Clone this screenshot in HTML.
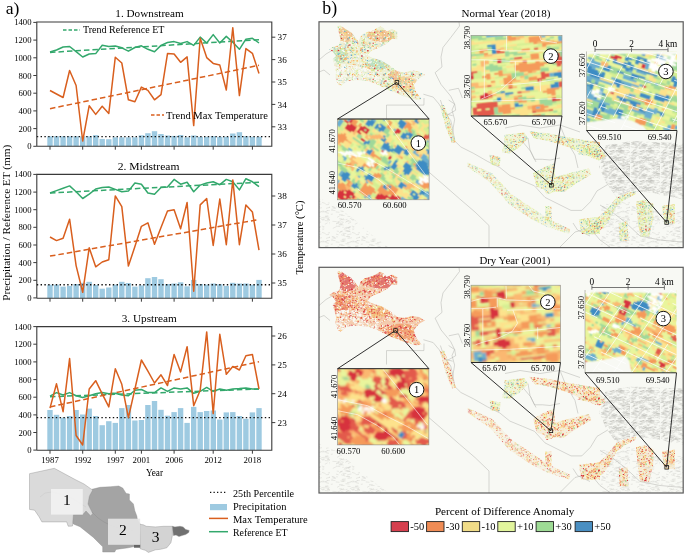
<!DOCTYPE html>
<html><head><meta charset="utf-8"><style>
html,body{margin:0;padding:0;background:#fff;width:685px;height:554px;overflow:hidden}
svg{display:block;font-family:'Liberation Serif', serif;fill:#000}
</style></head><body>
<svg width="685" height="554" viewBox="0 0 685 554">
<text x="5.8" y="13.7" font-size="17.6" text-anchor="start">a)</text>
<rect x="47.3" y="136.3" width="5.4" height="9.9" fill="#9ecae1"/>
<rect x="53.8" y="136.3" width="5.4" height="9.9" fill="#9ecae1"/>
<rect x="60.4" y="136.3" width="5.4" height="9.9" fill="#9ecae1"/>
<rect x="66.9" y="136.3" width="5.4" height="9.9" fill="#9ecae1"/>
<rect x="73.4" y="136.3" width="5.4" height="9.9" fill="#9ecae1"/>
<rect x="80.0" y="136.3" width="5.4" height="9.9" fill="#9ecae1"/>
<rect x="86.5" y="136.3" width="5.4" height="9.9" fill="#9ecae1"/>
<rect x="93.0" y="135.1" width="5.4" height="11.1" fill="#9ecae1"/>
<rect x="99.5" y="138.9" width="5.4" height="7.3" fill="#9ecae1"/>
<rect x="106.1" y="139.2" width="5.4" height="7.0" fill="#9ecae1"/>
<rect x="112.6" y="137.3" width="5.4" height="8.9" fill="#9ecae1"/>
<rect x="119.1" y="137.3" width="5.4" height="8.9" fill="#9ecae1"/>
<rect x="125.7" y="137.3" width="5.4" height="8.9" fill="#9ecae1"/>
<rect x="132.2" y="137.3" width="5.4" height="8.9" fill="#9ecae1"/>
<rect x="138.7" y="135.3" width="5.4" height="10.9" fill="#9ecae1"/>
<rect x="145.2" y="133.2" width="5.4" height="13.0" fill="#9ecae1"/>
<rect x="151.8" y="131.2" width="5.4" height="15.0" fill="#9ecae1"/>
<rect x="158.3" y="134.0" width="5.4" height="12.2" fill="#9ecae1"/>
<rect x="164.8" y="135.5" width="5.4" height="10.7" fill="#9ecae1"/>
<rect x="171.4" y="135.9" width="5.4" height="10.3" fill="#9ecae1"/>
<rect x="177.9" y="135.0" width="5.4" height="11.2" fill="#9ecae1"/>
<rect x="184.4" y="137.3" width="5.4" height="8.9" fill="#9ecae1"/>
<rect x="191.0" y="135.5" width="5.4" height="10.7" fill="#9ecae1"/>
<rect x="197.5" y="136.8" width="5.4" height="9.4" fill="#9ecae1"/>
<rect x="204.0" y="136.8" width="5.4" height="9.4" fill="#9ecae1"/>
<rect x="210.6" y="136.2" width="5.4" height="10.0" fill="#9ecae1"/>
<rect x="217.1" y="136.8" width="5.4" height="9.4" fill="#9ecae1"/>
<rect x="223.6" y="136.8" width="5.4" height="9.4" fill="#9ecae1"/>
<rect x="230.1" y="133.5" width="5.4" height="12.7" fill="#9ecae1"/>
<rect x="236.7" y="132.2" width="5.4" height="14.0" fill="#9ecae1"/>
<rect x="243.2" y="136.2" width="5.4" height="10.0" fill="#9ecae1"/>
<rect x="249.7" y="136.8" width="5.4" height="9.4" fill="#9ecae1"/>
<rect x="256.3" y="136.8" width="5.4" height="9.4" fill="#9ecae1"/>
<line x1="36.8" y1="136.6" x2="271.8" y2="136.6" stroke="#111" stroke-width="1.4" stroke-dasharray="1.4 2.4"/>
<line x1="50.0" y1="52.4" x2="259.0" y2="39.7" stroke="#33a86c" stroke-width="1.5" stroke-dasharray="5.5 3"/>
<line x1="50.0" y1="108.7" x2="259.0" y2="65.3" stroke="#d95f1e" stroke-width="1.5" stroke-dasharray="5.5 3"/>
<polyline points="50.0,52.0 56.5,50.0 63.1,47.0 69.6,46.5 76.1,51.7 82.7,57.0 89.2,54.0 95.7,53.6 102.2,45.2 108.8,46.5 115.3,46.0 121.8,47.8 128.4,51.2 134.9,47.5 141.4,45.8 147.9,49.3 154.5,51.7 161.0,45.4 167.5,42.5 174.1,41.6 180.6,43.5 187.1,41.6 193.7,45.4 200.2,37.1 206.7,43.0 213.2,34.6 219.8,43.0 226.3,36.4 232.8,42.3 239.4,49.3 245.9,39.2 252.4,38.3 259.0,43.0" fill="none" stroke="#33a86c" stroke-width="1.5" stroke-linejoin="round"/>
<polyline points="50.0,90.5 56.5,94.0 63.1,97.5 69.6,70.5 76.1,85.5 82.7,141.0 89.2,105.7 95.7,114.4 102.2,106.2 108.8,113.4 115.3,57.2 121.8,63.0 128.4,99.8 134.9,101.7 141.4,87.1 147.9,90.4 154.5,99.8 161.0,94.6 167.5,53.6 174.1,54.0 180.6,62.3 187.1,56.9 193.7,125.6 200.2,38.3 206.7,57.6 213.2,63.4 219.8,65.1 226.3,90.0 232.8,27.7 239.4,95.6 245.9,48.6 252.4,53.3 259.0,73.5" fill="none" stroke="#d95f1e" stroke-width="1.5" stroke-linejoin="round"/>
<path d="M36.8,146.2 V22 H271.8 V146.2 H36.8" fill="none" stroke="#3a3a3a" stroke-width="1.1"/>
<line x1="33.3" y1="22.4" x2="36.8" y2="22.4" stroke="#3a3a3a" stroke-width="1"/>
<text x="31.5" y="25.4" font-size="8.7" text-anchor="end">1400</text>
<line x1="33.3" y1="40.1" x2="36.8" y2="40.1" stroke="#3a3a3a" stroke-width="1"/>
<text x="31.5" y="43.1" font-size="8.7" text-anchor="end">1200</text>
<line x1="33.3" y1="57.8" x2="36.8" y2="57.8" stroke="#3a3a3a" stroke-width="1"/>
<text x="31.5" y="60.8" font-size="8.7" text-anchor="end">1000</text>
<line x1="33.3" y1="75.5" x2="36.8" y2="75.5" stroke="#3a3a3a" stroke-width="1"/>
<text x="31.5" y="78.5" font-size="8.7" text-anchor="end">800</text>
<line x1="33.3" y1="93.2" x2="36.8" y2="93.2" stroke="#3a3a3a" stroke-width="1"/>
<text x="31.5" y="96.2" font-size="8.7" text-anchor="end">600</text>
<line x1="33.3" y1="110.9" x2="36.8" y2="110.9" stroke="#3a3a3a" stroke-width="1"/>
<text x="31.5" y="113.9" font-size="8.7" text-anchor="end">400</text>
<line x1="33.3" y1="128.6" x2="36.8" y2="128.6" stroke="#3a3a3a" stroke-width="1"/>
<text x="31.5" y="131.6" font-size="8.7" text-anchor="end">200</text>
<line x1="33.3" y1="146.3" x2="36.8" y2="146.3" stroke="#3a3a3a" stroke-width="1"/>
<text x="31.5" y="149.3" font-size="8.7" text-anchor="end">0</text>
<line x1="271.8" y1="37.2" x2="275.3" y2="37.2" stroke="#3a3a3a" stroke-width="1"/>
<text x="277.6" y="40.3" font-size="9.2" text-anchor="start">37</text>
<line x1="271.8" y1="59.6" x2="275.3" y2="59.6" stroke="#3a3a3a" stroke-width="1"/>
<text x="277.6" y="62.7" font-size="9.2" text-anchor="start">36</text>
<line x1="271.8" y1="82.0" x2="275.3" y2="82.0" stroke="#3a3a3a" stroke-width="1"/>
<text x="277.6" y="85.1" font-size="9.2" text-anchor="start">35</text>
<line x1="271.8" y1="104.4" x2="275.3" y2="104.4" stroke="#3a3a3a" stroke-width="1"/>
<text x="277.6" y="107.5" font-size="9.2" text-anchor="start">34</text>
<line x1="271.8" y1="126.8" x2="275.3" y2="126.8" stroke="#3a3a3a" stroke-width="1"/>
<text x="277.6" y="129.9" font-size="9.2" text-anchor="start">33</text>
<line x1="50.0" y1="146.2" x2="50.0" y2="149.7" stroke="#3a3a3a" stroke-width="1"/>
<line x1="82.7" y1="146.2" x2="82.7" y2="149.7" stroke="#3a3a3a" stroke-width="1"/>
<line x1="115.3" y1="146.2" x2="115.3" y2="149.7" stroke="#3a3a3a" stroke-width="1"/>
<line x1="141.4" y1="146.2" x2="141.4" y2="149.7" stroke="#3a3a3a" stroke-width="1"/>
<line x1="174.1" y1="146.2" x2="174.1" y2="149.7" stroke="#3a3a3a" stroke-width="1"/>
<line x1="213.2" y1="146.2" x2="213.2" y2="149.7" stroke="#3a3a3a" stroke-width="1"/>
<line x1="252.4" y1="146.2" x2="252.4" y2="149.7" stroke="#3a3a3a" stroke-width="1"/>
<text x="115.3" y="17.2" font-size="11.3" text-anchor="start" textLength="68.5" lengthAdjust="spacingAndGlyphs">1. Downstream</text>
<rect x="47.3" y="284.7" width="5.4" height="13.5" fill="#9ecae1"/>
<rect x="53.8" y="284.7" width="5.4" height="13.5" fill="#9ecae1"/>
<rect x="60.4" y="286.6" width="5.4" height="11.6" fill="#9ecae1"/>
<rect x="66.9" y="285.9" width="5.4" height="12.3" fill="#9ecae1"/>
<rect x="73.4" y="284.0" width="5.4" height="14.2" fill="#9ecae1"/>
<rect x="80.0" y="282.8" width="5.4" height="15.4" fill="#9ecae1"/>
<rect x="86.5" y="281.8" width="5.4" height="16.4" fill="#9ecae1"/>
<rect x="93.0" y="285.0" width="5.4" height="13.2" fill="#9ecae1"/>
<rect x="99.5" y="288.7" width="5.4" height="9.5" fill="#9ecae1"/>
<rect x="106.1" y="287.5" width="5.4" height="10.7" fill="#9ecae1"/>
<rect x="112.6" y="284.7" width="5.4" height="13.5" fill="#9ecae1"/>
<rect x="119.1" y="281.8" width="5.4" height="16.4" fill="#9ecae1"/>
<rect x="125.7" y="283.0" width="5.4" height="15.2" fill="#9ecae1"/>
<rect x="132.2" y="286.6" width="5.4" height="11.6" fill="#9ecae1"/>
<rect x="138.7" y="285.4" width="5.4" height="12.8" fill="#9ecae1"/>
<rect x="145.2" y="278.2" width="5.4" height="20.0" fill="#9ecae1"/>
<rect x="151.8" y="277.0" width="5.4" height="21.2" fill="#9ecae1"/>
<rect x="158.3" y="279.2" width="5.4" height="19.0" fill="#9ecae1"/>
<rect x="164.8" y="284.0" width="5.4" height="14.2" fill="#9ecae1"/>
<rect x="171.4" y="283.5" width="5.4" height="14.7" fill="#9ecae1"/>
<rect x="177.9" y="282.3" width="5.4" height="15.9" fill="#9ecae1"/>
<rect x="184.4" y="286.3" width="5.4" height="11.9" fill="#9ecae1"/>
<rect x="191.0" y="279.9" width="5.4" height="18.3" fill="#9ecae1"/>
<rect x="197.5" y="284.0" width="5.4" height="14.2" fill="#9ecae1"/>
<rect x="204.0" y="284.7" width="5.4" height="13.5" fill="#9ecae1"/>
<rect x="210.6" y="283.5" width="5.4" height="14.7" fill="#9ecae1"/>
<rect x="217.1" y="284.2" width="5.4" height="14.0" fill="#9ecae1"/>
<rect x="223.6" y="285.9" width="5.4" height="12.3" fill="#9ecae1"/>
<rect x="230.1" y="282.8" width="5.4" height="15.4" fill="#9ecae1"/>
<rect x="236.7" y="283.5" width="5.4" height="14.7" fill="#9ecae1"/>
<rect x="243.2" y="283.5" width="5.4" height="14.7" fill="#9ecae1"/>
<rect x="249.7" y="284.7" width="5.4" height="13.5" fill="#9ecae1"/>
<rect x="256.3" y="279.9" width="5.4" height="18.3" fill="#9ecae1"/>
<line x1="36.8" y1="284.7" x2="271.8" y2="284.7" stroke="#111" stroke-width="1.4" stroke-dasharray="1.4 2.4"/>
<line x1="50.0" y1="193" x2="259.0" y2="182.3" stroke="#33a86c" stroke-width="1.5" stroke-dasharray="5.5 3"/>
<line x1="50.0" y1="256.1" x2="259.0" y2="219.5" stroke="#d95f1e" stroke-width="1.5" stroke-dasharray="5.5 3"/>
<polyline points="50.0,193.0 56.5,190.6 63.1,188.2 69.6,185.9 76.1,191.8 82.7,198.5 89.2,194.2 95.7,189.0 102.2,187.5 108.8,187.0 115.3,189.4 121.8,191.8 128.4,191.1 134.9,183.0 141.4,184.2 147.9,193.0 154.5,194.2 161.0,187.5 167.5,187.0 174.1,179.4 180.6,184.2 187.1,182.3 193.7,191.8 200.2,185.1 206.7,183.0 213.2,181.8 219.8,184.7 226.3,179.4 232.8,181.8 239.4,189.9 245.9,178.7 252.4,181.8 259.0,186.6" fill="none" stroke="#33a86c" stroke-width="1.5" stroke-linejoin="round"/>
<polyline points="50.0,237.0 56.5,240.6 63.1,238.2 69.6,219.2 76.1,265.6 82.7,292.3 89.2,247.8 95.7,266.8 102.2,262.0 108.8,259.7 115.3,195.9 121.8,206.6 128.4,266.1 134.9,246.6 141.4,226.3 147.9,222.8 154.5,244.2 161.0,227.5 167.5,210.9 174.1,209.7 180.6,228.7 187.1,202.5 193.7,291.3 200.2,204.9 206.7,198.5 213.2,245.4 219.8,199.0 226.3,244.7 232.8,179.9 239.4,244.7 245.9,204.9 252.4,212.0 259.0,250.1" fill="none" stroke="#d95f1e" stroke-width="1.5" stroke-linejoin="round"/>
<path d="M36.8,298.2 V174.4 H271.8 V298.2 H36.8" fill="none" stroke="#3a3a3a" stroke-width="1.1"/>
<line x1="33.3" y1="174.4" x2="36.8" y2="174.4" stroke="#3a3a3a" stroke-width="1"/>
<text x="31.5" y="177.4" font-size="8.7" text-anchor="end">1400</text>
<line x1="33.3" y1="192.1" x2="36.8" y2="192.1" stroke="#3a3a3a" stroke-width="1"/>
<text x="31.5" y="195.1" font-size="8.7" text-anchor="end">1200</text>
<line x1="33.3" y1="209.7" x2="36.8" y2="209.7" stroke="#3a3a3a" stroke-width="1"/>
<text x="31.5" y="212.7" font-size="8.7" text-anchor="end">1000</text>
<line x1="33.3" y1="227.3" x2="36.8" y2="227.3" stroke="#3a3a3a" stroke-width="1"/>
<text x="31.5" y="230.3" font-size="8.7" text-anchor="end">800</text>
<line x1="33.3" y1="245.0" x2="36.8" y2="245.0" stroke="#3a3a3a" stroke-width="1"/>
<text x="31.5" y="248.0" font-size="8.7" text-anchor="end">600</text>
<line x1="33.3" y1="262.6" x2="36.8" y2="262.6" stroke="#3a3a3a" stroke-width="1"/>
<text x="31.5" y="265.6" font-size="8.7" text-anchor="end">400</text>
<line x1="33.3" y1="280.3" x2="36.8" y2="280.3" stroke="#3a3a3a" stroke-width="1"/>
<text x="31.5" y="283.3" font-size="8.7" text-anchor="end">200</text>
<line x1="33.3" y1="297.9" x2="36.8" y2="297.9" stroke="#3a3a3a" stroke-width="1"/>
<text x="31.5" y="300.9" font-size="8.7" text-anchor="end">0</text>
<line x1="271.8" y1="196.0" x2="275.3" y2="196.0" stroke="#3a3a3a" stroke-width="1"/>
<text x="277.6" y="199.1" font-size="9.2" text-anchor="start">38</text>
<line x1="271.8" y1="225.0" x2="275.3" y2="225.0" stroke="#3a3a3a" stroke-width="1"/>
<text x="277.6" y="228.1" font-size="9.2" text-anchor="start">37</text>
<line x1="271.8" y1="254.0" x2="275.3" y2="254.0" stroke="#3a3a3a" stroke-width="1"/>
<text x="277.6" y="257.1" font-size="9.2" text-anchor="start">36</text>
<line x1="271.8" y1="283.0" x2="275.3" y2="283.0" stroke="#3a3a3a" stroke-width="1"/>
<text x="277.6" y="286.1" font-size="9.2" text-anchor="start">35</text>
<line x1="50.0" y1="298.2" x2="50.0" y2="301.7" stroke="#3a3a3a" stroke-width="1"/>
<line x1="82.7" y1="298.2" x2="82.7" y2="301.7" stroke="#3a3a3a" stroke-width="1"/>
<line x1="115.3" y1="298.2" x2="115.3" y2="301.7" stroke="#3a3a3a" stroke-width="1"/>
<line x1="141.4" y1="298.2" x2="141.4" y2="301.7" stroke="#3a3a3a" stroke-width="1"/>
<line x1="174.1" y1="298.2" x2="174.1" y2="301.7" stroke="#3a3a3a" stroke-width="1"/>
<line x1="213.2" y1="298.2" x2="213.2" y2="301.7" stroke="#3a3a3a" stroke-width="1"/>
<line x1="252.4" y1="298.2" x2="252.4" y2="301.7" stroke="#3a3a3a" stroke-width="1"/>
<text x="117.7" y="169.8" font-size="11.3" text-anchor="start" textLength="61.8" lengthAdjust="spacingAndGlyphs">2. Midstream</text>
<rect x="47.3" y="410.0" width="5.4" height="40.2" fill="#9ecae1"/>
<rect x="53.8" y="414.8" width="5.4" height="35.4" fill="#9ecae1"/>
<rect x="60.4" y="417.6" width="5.4" height="32.6" fill="#9ecae1"/>
<rect x="66.9" y="416.0" width="5.4" height="34.2" fill="#9ecae1"/>
<rect x="73.4" y="410.0" width="5.4" height="40.2" fill="#9ecae1"/>
<rect x="80.0" y="414.5" width="5.4" height="35.7" fill="#9ecae1"/>
<rect x="86.5" y="408.6" width="5.4" height="41.6" fill="#9ecae1"/>
<rect x="93.0" y="416.0" width="5.4" height="34.2" fill="#9ecae1"/>
<rect x="99.5" y="425.2" width="5.4" height="25.0" fill="#9ecae1"/>
<rect x="106.1" y="421.2" width="5.4" height="29.0" fill="#9ecae1"/>
<rect x="112.6" y="422.9" width="5.4" height="27.3" fill="#9ecae1"/>
<rect x="119.1" y="408.1" width="5.4" height="42.1" fill="#9ecae1"/>
<rect x="125.7" y="405.0" width="5.4" height="45.2" fill="#9ecae1"/>
<rect x="132.2" y="420.5" width="5.4" height="29.7" fill="#9ecae1"/>
<rect x="138.7" y="420.0" width="5.4" height="30.2" fill="#9ecae1"/>
<rect x="145.2" y="405.0" width="5.4" height="45.2" fill="#9ecae1"/>
<rect x="151.8" y="401.0" width="5.4" height="49.2" fill="#9ecae1"/>
<rect x="158.3" y="409.8" width="5.4" height="40.4" fill="#9ecae1"/>
<rect x="164.8" y="415.7" width="5.4" height="34.5" fill="#9ecae1"/>
<rect x="171.4" y="412.1" width="5.4" height="38.1" fill="#9ecae1"/>
<rect x="177.9" y="408.1" width="5.4" height="42.1" fill="#9ecae1"/>
<rect x="184.4" y="422.9" width="5.4" height="27.3" fill="#9ecae1"/>
<rect x="191.0" y="406.9" width="5.4" height="43.3" fill="#9ecae1"/>
<rect x="197.5" y="412.1" width="5.4" height="38.1" fill="#9ecae1"/>
<rect x="204.0" y="411.0" width="5.4" height="39.2" fill="#9ecae1"/>
<rect x="210.6" y="410.5" width="5.4" height="39.7" fill="#9ecae1"/>
<rect x="217.1" y="419.5" width="5.4" height="30.7" fill="#9ecae1"/>
<rect x="223.6" y="412.4" width="5.4" height="37.8" fill="#9ecae1"/>
<rect x="230.1" y="412.1" width="5.4" height="38.1" fill="#9ecae1"/>
<rect x="236.7" y="416.0" width="5.4" height="34.2" fill="#9ecae1"/>
<rect x="243.2" y="418.8" width="5.4" height="31.4" fill="#9ecae1"/>
<rect x="249.7" y="412.4" width="5.4" height="37.8" fill="#9ecae1"/>
<rect x="256.3" y="408.1" width="5.4" height="42.1" fill="#9ecae1"/>
<line x1="36.8" y1="417.6" x2="271.8" y2="417.6" stroke="#111" stroke-width="1.4" stroke-dasharray="1.4 2.4"/>
<line x1="50.0" y1="396.7" x2="259.0" y2="389" stroke="#33a86c" stroke-width="1.5" stroke-dasharray="5.5 3"/>
<line x1="50.0" y1="406.9" x2="259.0" y2="361.7" stroke="#d95f1e" stroke-width="1.5" stroke-dasharray="5.5 3"/>
<polyline points="50.0,396.2 56.5,392.6 63.1,395.0 69.6,392.6 76.1,395.7 82.7,397.4 89.2,395.7 95.7,393.8 102.2,392.6 108.8,393.8 115.3,393.3 121.8,395.0 128.4,395.7 134.9,390.2 141.4,389.5 147.9,392.6 154.5,392.6 161.0,387.9 167.5,391.4 174.1,387.9 180.6,389.0 187.1,387.9 193.7,393.3 200.2,391.4 206.7,387.4 213.2,391.4 219.8,389.0 226.3,390.2 232.8,389.0 239.4,388.6 245.9,387.9 252.4,389.0 259.0,389.0" fill="none" stroke="#33a86c" stroke-width="1.5" stroke-linejoin="round"/>
<polyline points="50.0,408.1 56.5,383.8 63.1,411.7 69.6,358.6 76.1,435.5 82.7,445.0 89.2,389.0 95.7,380.7 102.2,393.8 108.8,406.9 115.3,368.8 121.8,384.3 128.4,417.6 134.9,389.0 141.4,360.0 147.9,371.2 154.5,383.0 161.0,374.8 167.5,385.5 174.1,354.5 180.6,371.9 187.1,346.7 193.7,405.7 200.2,390.2 206.7,331.9 213.2,413.6 219.8,334.3 226.3,374.3 232.8,366.4 239.4,370.0 245.9,355.7 252.4,354.5 259.0,389.0" fill="none" stroke="#d95f1e" stroke-width="1.5" stroke-linejoin="round"/>
<path d="M36.8,450.2 V326.6 H271.8 V450.2 H36.8" fill="none" stroke="#3a3a3a" stroke-width="1.1"/>
<line x1="33.3" y1="326.6" x2="36.8" y2="326.6" stroke="#3a3a3a" stroke-width="1"/>
<text x="31.5" y="329.6" font-size="8.7" text-anchor="end">1400</text>
<line x1="33.3" y1="344.2" x2="36.8" y2="344.2" stroke="#3a3a3a" stroke-width="1"/>
<text x="31.5" y="347.2" font-size="8.7" text-anchor="end">1200</text>
<line x1="33.3" y1="361.9" x2="36.8" y2="361.9" stroke="#3a3a3a" stroke-width="1"/>
<text x="31.5" y="364.9" font-size="8.7" text-anchor="end">1000</text>
<line x1="33.3" y1="379.6" x2="36.8" y2="379.6" stroke="#3a3a3a" stroke-width="1"/>
<text x="31.5" y="382.6" font-size="8.7" text-anchor="end">800</text>
<line x1="33.3" y1="397.2" x2="36.8" y2="397.2" stroke="#3a3a3a" stroke-width="1"/>
<text x="31.5" y="400.2" font-size="8.7" text-anchor="end">600</text>
<line x1="33.3" y1="414.9" x2="36.8" y2="414.9" stroke="#3a3a3a" stroke-width="1"/>
<text x="31.5" y="417.9" font-size="8.7" text-anchor="end">400</text>
<line x1="33.3" y1="432.5" x2="36.8" y2="432.5" stroke="#3a3a3a" stroke-width="1"/>
<text x="31.5" y="435.5" font-size="8.7" text-anchor="end">200</text>
<line x1="33.3" y1="450.1" x2="36.8" y2="450.1" stroke="#3a3a3a" stroke-width="1"/>
<text x="31.5" y="453.1" font-size="8.7" text-anchor="end">0</text>
<line x1="271.8" y1="336.0" x2="275.3" y2="336.0" stroke="#3a3a3a" stroke-width="1"/>
<text x="277.6" y="339.1" font-size="9.2" text-anchor="start">26</text>
<line x1="271.8" y1="364.9" x2="275.3" y2="364.9" stroke="#3a3a3a" stroke-width="1"/>
<text x="277.6" y="368.0" font-size="9.2" text-anchor="start">25</text>
<line x1="271.8" y1="393.7" x2="275.3" y2="393.7" stroke="#3a3a3a" stroke-width="1"/>
<text x="277.6" y="396.8" font-size="9.2" text-anchor="start">24</text>
<line x1="271.8" y1="422.6" x2="275.3" y2="422.6" stroke="#3a3a3a" stroke-width="1"/>
<text x="277.6" y="425.7" font-size="9.2" text-anchor="start">23</text>
<line x1="50.0" y1="450.2" x2="50.0" y2="453.7" stroke="#3a3a3a" stroke-width="1"/>
<text x="50.0" y="462.8" font-size="8.8" text-anchor="middle">1987</text>
<line x1="82.7" y1="450.2" x2="82.7" y2="453.7" stroke="#3a3a3a" stroke-width="1"/>
<text x="82.7" y="462.8" font-size="8.8" text-anchor="middle">1992</text>
<line x1="115.3" y1="450.2" x2="115.3" y2="453.7" stroke="#3a3a3a" stroke-width="1"/>
<text x="115.3" y="462.8" font-size="8.8" text-anchor="middle">1997</text>
<line x1="141.4" y1="450.2" x2="141.4" y2="453.7" stroke="#3a3a3a" stroke-width="1"/>
<text x="141.4" y="462.8" font-size="8.8" text-anchor="middle">2001</text>
<line x1="174.1" y1="450.2" x2="174.1" y2="453.7" stroke="#3a3a3a" stroke-width="1"/>
<text x="174.1" y="462.8" font-size="8.8" text-anchor="middle">2006</text>
<line x1="213.2" y1="450.2" x2="213.2" y2="453.7" stroke="#3a3a3a" stroke-width="1"/>
<text x="213.2" y="462.8" font-size="8.8" text-anchor="middle">2012</text>
<line x1="252.4" y1="450.2" x2="252.4" y2="453.7" stroke="#3a3a3a" stroke-width="1"/>
<text x="252.4" y="462.8" font-size="8.8" text-anchor="middle">2018</text>
<text x="121.7" y="321.9" font-size="11.3" text-anchor="start" textLength="55.1" lengthAdjust="spacingAndGlyphs">3. Upstream</text>
<line x1="63" y1="30" x2="80" y2="30" stroke="#33a86c" stroke-width="1.5" stroke-dasharray="3.5 2"/>
<text x="83.0" y="33.3" font-size="10.2" text-anchor="start" textLength="81.4" lengthAdjust="spacingAndGlyphs">Trend Reference ET</text>
<line x1="151" y1="115" x2="164" y2="115" stroke="#d95f1e" stroke-width="1.5" stroke-dasharray="3.5 2"/>
<text x="166.0" y="118.5" font-size="10.4" text-anchor="start" textLength="102" lengthAdjust="spacingAndGlyphs">Trend Max Temperature</text>
<text x="146.0" y="476.0" font-size="9.3" text-anchor="start" textLength="17" lengthAdjust="spacingAndGlyphs">Year</text>
<text transform="translate(10.2,222.7) rotate(-90)" font-size="11.2" text-anchor="middle" textLength="156" lengthAdjust="spacingAndGlyphs">Precipitation / Reference ET (mm)</text>
<text transform="translate(303.4,237.6) rotate(-90)" font-size="10.5" text-anchor="middle" textLength="74" lengthAdjust="spacingAndGlyphs">Temperature (°C)</text>
<line x1="210" y1="492.3" x2="226" y2="492.3" stroke="#111" stroke-width="1.3" stroke-dasharray="1.3 2.2"/>
<rect x="210" y="504" width="17" height="6.2" fill="#9ecae1"/>
<line x1="209" y1="518.4" x2="228" y2="518.4" stroke="#d95f1e" stroke-width="1.5"/>
<line x1="209" y1="531.7" x2="228" y2="531.7" stroke="#33a86c" stroke-width="1.5"/>
<text x="233.0" y="497.0" font-size="10.5" text-anchor="start" textLength="61.1" lengthAdjust="spacingAndGlyphs">25th Percentile</text>
<text x="233.0" y="510.0" font-size="10.5" text-anchor="start" textLength="53.4" lengthAdjust="spacingAndGlyphs">Precipitation</text>
<text x="233.0" y="522.7" font-size="10.5" text-anchor="start" textLength="74.8" lengthAdjust="spacingAndGlyphs">Max Temperature</text>
<text x="233.0" y="536.0" font-size="10.5" text-anchor="start" textLength="54.5" lengthAdjust="spacingAndGlyphs">Reference ET</text>
<polygon points="82,513 89.4,496 92,489.3 100,487.3 110.7,486.7 118.7,486 122.7,488 126.1,493.4 129.4,494 129.4,500 133.4,504 134.8,510.7 136.8,516 137.4,519.4 140.1,524 140.1,546.8 133.4,546.8 126.8,548 116,549.4 114.7,552 102.7,552 102.7,546.8 93.4,537.4 80,526.7 73.4,524 70.7,520 70.7,515.4" fill="#a4a4a4" stroke="#8a8a8a" stroke-width="0.4"/>
<polygon points="29.5,473.7 54.3,468.3 76,480 84,484 90.7,488.7 92.7,490 89.4,496 88,504 92.7,513.4 90.7,516 86,511 82.7,514.7 73.4,514.7 72.5,526 70.4,526.2 68.2,526.2 66.7,521.9 41.9,521.9 39,516.7 34.6,510.2 29.5,509.4" fill="#dadada" stroke="#8a8a8a" stroke-width="0.4"/>
<polygon points="139.7,524.3 143.3,524.8 146.3,526.3 155.5,526.9 163.7,526.3 172.4,526.3 172.4,535.5 170.9,542.7 166.8,547.8 160.6,549.3 155.5,549.8 148.4,552.4 145.3,550.3 140.2,548.8" fill="#d3d3d3" stroke="#8a8a8a" stroke-width="0.4"/>
<polygon points="172.4,526.3 174.9,526.9 180,526.3 183.1,526.9 185.7,529.4 189.2,530.4 188.7,532.5 185.7,534.5 182.1,535.5 179,536.6 176,535 173.4,535.5" fill="#707070" stroke="#8a8a8a" stroke-width="0.4"/>
<polyline points="92,512 98,518 104,522 110,525 118,528 126,529 134,531" fill="none" stroke="#8a8a8a" stroke-width="0.4"/>
<polyline points="40,497 45,493 52,492 60,494 70,497 78,502 86,507" fill="none" stroke="#c4c4c4" stroke-width="0.4"/>
<rect x="134" y="544.7" width="6.2" height="3" fill="#666"/>
<rect x="51" y="489" width="31.8" height="25.6" fill="#f2f2f2" fill-opacity="0.88"/>
<rect x="108" y="518.7" width="32.1" height="26.1" fill="#e6e6e6" fill-opacity="0.9"/>
<text x="66.8" y="505.2" font-size="15.5" text-anchor="middle">1</text>
<text x="122.9" y="534.9" font-size="15.5" text-anchor="middle">2</text>
<text x="155.7" y="542.3" font-size="15.5" text-anchor="middle">3</text>
<defs><filter id="soft" x="-5%" y="-5%" width="110%" height="110%"><feConvolveMatrix order="3" kernelMatrix="1 2 1 2 6 2 1 2 1" edgeMode="duplicate"/></filter>
<filter id="soft3" x="-5%" y="-5%" width="110%" height="110%"><feGaussianBlur stdDeviation="0.8"/></filter>
<filter id="soft2" x="-5%" y="-5%" width="110%" height="110%"><feGaussianBlur stdDeviation="0.35"/></filter>
<pattern id="spND" patternUnits="userSpaceOnUse" width="36" height="36"><path d="M22.5 2.5h1.1v0.9h-1.1zM7.7 21.6h1.5v1.3h-1.5zM7.1 23.5h1.0v0.8h-1.0zM16.9 1.4h1.2v1.2h-1.2zM2.0 26.5h0.8v0.6h-0.8zM14.3 12.4h1.4v1.5h-1.4zM8.0 8.1h1.1v1.0h-1.1zM14.5 12.7h1.2v1.2h-1.2zM5.6 11.7h0.7v0.4h-0.7zM12.5 0.9h1.4v1.3h-1.4zM12.0 12.6h0.8v0.8h-0.8zM0.8 32.8h1.1v0.8h-1.1zM18.2 33.8h1.4v1.3h-1.4zM5.8 26.6h1.1v1.1h-1.1zM28.0 34.0h1.4v1.4h-1.4zM23.9 33.0h1.1v1.1h-1.1zM5.2 31.2h1.3v0.9h-1.3zM10.1 8.3h1.2v0.9h-1.2zM31.4 12.2h1.1v1.0h-1.1zM0.1 27.6h0.8v0.7h-0.8zM9.6 26.6h1.1v1.0h-1.1zM2.5 23.1h1.3v1.4h-1.3zM6.8 11.0h1.3v0.8h-1.3zM14.6 31.4h1.4v1.0h-1.4zM32.4 21.9h1.3v0.9h-1.3zM29.8 15.7h1.0v0.9h-1.0zM4.5 18.2h0.9v0.6h-0.9zM7.0 10.8h0.9v0.9h-0.9zM25.6 8.8h0.8v0.5h-0.8zM12.3 0.0h1.0v0.8h-1.0zM17.4 0.2h0.9v0.6h-0.9zM0.8 10.5h0.9v0.8h-0.9zM25.0 22.2h0.7v0.7h-0.7zM4.6 12.4h0.8v0.8h-0.8zM25.2 7.1h1.3v1.4h-1.3zM8.8 25.6h0.9v0.8h-0.9zM9.3 23.2h1.3v1.2h-1.3zM32.6 7.3h1.2v0.8h-1.2zM11.9 10.9h1.4v0.8h-1.4zM28.8 9.9h1.4v1.0h-1.4zM10.3 25.5h1.5v1.1h-1.5zM19.2 13.6h0.8v0.6h-0.8zM3.1 11.8h0.8v0.6h-0.8zM2.1 9.6h1.5v1.0h-1.5zM31.7 22.3h0.9v0.6h-0.9zM20.7 0.4h0.9v0.8h-0.9zM0.8 17.2h1.2v1.0h-1.2zM27.5 25.5h1.1v0.8h-1.1zM28.3 8.0h0.9v0.9h-0.9zM13.6 7.3h1.5v1.0h-1.5zM13.6 31.0h1.4v1.4h-1.4zM12.9 11.4h0.8v0.5h-0.8zM33.0 4.3h1.5v1.0h-1.5zM12.6 30.9h0.7v0.6h-0.7zM9.5 0.1h1.3v1.4h-1.3zM14.8 17.0h1.4v1.0h-1.4zM17.2 24.5h1.1v0.8h-1.1zM19.6 12.9h1.3v0.9h-1.3zM5.3 30.5h1.2v0.9h-1.2zM33.6 20.1h1.4v1.1h-1.4zM12.7 4.9h0.9v0.6h-0.9zM27.4 18.9h0.8v0.5h-0.8zM32.9 10.8h1.2v0.9h-1.2zM19.0 22.1h1.4v0.9h-1.4zM17.4 5.0h0.9v0.8h-0.9zM16.9 27.8h1.5v1.0h-1.5zM25.0 31.0h0.7v0.6h-0.7zM28.9 4.1h1.2v1.0h-1.2zM14.5 20.1h1.0v1.0h-1.0zM30.9 9.5h1.4v0.9h-1.4zM32.3 23.4h1.4v1.0h-1.4zM18.3 22.0h1.0v1.0h-1.0zM34.2 19.9h1.0v1.0h-1.0zM25.7 1.7h1.4v1.0h-1.4zM0.1 12.2h0.8v0.6h-0.8zM5.2 3.3h1.2v1.3h-1.2zM6.9 21.0h1.1v1.0h-1.1zM10.7 10.4h0.7v0.8h-0.7zM3.6 8.0h0.7v0.6h-0.7zM8.1 25.7h1.5v1.4h-1.5zM3.7 32.0h1.0v0.7h-1.0zM23.9 21.9h1.3v1.2h-1.3zM14.2 15.1h1.3v1.0h-1.3zM26.3 33.7h0.7v0.6h-0.7zM7.4 24.1h1.1v0.7h-1.1zM27.2 24.1h1.3v1.2h-1.3zM31.1 17.3h1.0v1.0h-1.0zM29.1 22.8h1.3v0.9h-1.3zM24.3 29.1h0.8v0.6h-0.8zM18.0 5.6h1.0v0.7h-1.0zM13.8 27.3h1.3v1.1h-1.3zM14.5 27.0h1.3v1.2h-1.3zM27.0 32.5h1.1v0.7h-1.1zM2.0 9.5h1.0v0.6h-1.0zM0.1 24.9h0.9v0.7h-0.9zM28.6 31.3h1.3v0.9h-1.3zM8.1 26.8h1.0v0.7h-1.0zM24.9 30.6h1.1v0.7h-1.1zM6.6 31.8h1.2v1.1h-1.2zM23.0 15.8h1.3v0.9h-1.3zM26.7 31.5h1.2v1.0h-1.2zM0.2 23.6h0.8v0.9h-0.8zM26.7 24.6h1.4v1.3h-1.4zM0.5 22.4h1.4v0.9h-1.4zM33.6 24.3h1.4v1.0h-1.4zM2.9 19.1h1.3v0.9h-1.3zM6.2 24.2h1.0v0.9h-1.0zM2.9 1.8h1.1v1.2h-1.1zM19.5 22.1h1.5v1.4h-1.5zM31.1 31.2h1.4v0.9h-1.4zM16.6 5.8h0.9v0.6h-0.9zM24.7 6.7h0.7v0.8h-0.7zM7.6 2.0h1.3v1.1h-1.3zM16.9 11.0h1.4v0.9h-1.4zM30.9 23.1h0.9v0.7h-0.9zM7.0 12.6h1.5v1.6h-1.5zM10.0 30.9h0.7v0.7h-0.7zM26.6 24.6h0.9v0.5h-0.9zM20.5 0.2h1.1v0.9h-1.1zM24.7 28.2h1.4v1.1h-1.4zM28.2 1.0h0.8v0.7h-0.8zM20.7 19.9h1.1v1.1h-1.1zM14.0 4.7h1.2v1.2h-1.2zM15.0 33.9h1.3v1.4h-1.3zM33.5 26.8h1.4v1.3h-1.4zM10.5 22.3h0.8v0.7h-0.8zM14.0 9.9h0.9v0.6h-0.9zM33.1 25.5h0.8v0.6h-0.8zM26.4 20.2h1.1v1.2h-1.1zM14.7 31.4h0.7v0.4h-0.7zM17.7 17.4h0.9v0.6h-0.9zM23.8 0.1h0.9v1.0h-0.9zM5.9 18.0h1.4v1.2h-1.4zM0.4 26.6h1.0v0.9h-1.0zM9.2 3.4h1.4v1.3h-1.4zM6.0 12.4h0.8v0.9h-0.8zM15.3 28.9h1.3v0.9h-1.3zM21.0 7.3h1.4v0.9h-1.4zM24.7 9.7h1.0v1.1h-1.0zM14.2 22.7h1.3v0.9h-1.3zM21.7 6.3h0.8v0.8h-0.8zM10.7 22.0h0.8v0.9h-0.8zM27.3 7.2h1.4v1.4h-1.4zM24.1 14.8h1.1v1.2h-1.1zM4.7 24.4h1.2v0.9h-1.2zM2.1 9.7h0.9v0.8h-0.9zM11.2 16.2h1.0v0.7h-1.0zM34.2 25.9h0.8v0.7h-0.8zM1.0 26.7h1.4v1.0h-1.4zM6.4 28.5h1.0v0.7h-1.0zM28.7 8.3h0.7v0.6h-0.7zM20.0 2.8h1.3v0.9h-1.3zM15.3 19.4h1.0v0.7h-1.0zM15.9 33.5h1.4v1.5h-1.4zM6.5 23.4h1.1v0.7h-1.1zM20.0 14.4h1.1v1.0h-1.1zM6.2 30.7h1.1v0.7h-1.1zM3.3 18.3h0.9v0.8h-0.9zM19.8 3.9h1.1v1.0h-1.1zM34.2 24.9h0.8v0.8h-0.8zM33.1 19.4h1.3v0.9h-1.3zM8.2 12.8h0.7v0.6h-0.7zM24.4 14.7h1.4v1.3h-1.4zM20.8 3.4h1.1v1.1h-1.1zM0.7 3.8h1.3v0.9h-1.3zM23.7 13.1h0.8v0.8h-0.8zM7.5 30.8h1.2v0.7h-1.2zM16.1 19.9h1.0v0.8h-1.0zM8.4 8.1h1.0v0.7h-1.0zM10.6 25.1h1.1v1.2h-1.1zM0.8 5.7h0.9v0.9h-0.9zM18.5 30.2h1.2v1.3h-1.2zM25.9 22.4h1.0v1.0h-1.0zM14.3 1.6h1.2v0.9h-1.2zM21.2 25.0h1.0v0.6h-1.0zM26.5 3.1h1.4v1.1h-1.4zM18.1 32.5h0.8v0.5h-0.8zM4.6 2.1h1.1v1.0h-1.1zM26.8 8.4h1.5v1.3h-1.5zM27.6 15.9h1.0v1.0h-1.0zM19.6 5.4h1.4v1.4h-1.4zM26.9 29.8h0.8v0.9h-0.8zM0.8 3.8h1.5v0.9h-1.5zM25.4 3.4h0.8v0.8h-0.8zM31.7 24.7h1.4v1.5h-1.4zM27.3 23.8h0.7v0.6h-0.7zM17.6 14.1h1.1v0.9h-1.1zM21.7 25.6h1.0v1.0h-1.0zM4.9 32.0h1.1v1.0h-1.1zM8.7 3.5h1.0v1.0h-1.0zM11.7 13.1h0.7v0.5h-0.7zM6.2 24.8h0.9v0.7h-0.9zM33.5 24.6h1.0v0.9h-1.0zM26.1 13.1h1.1v1.0h-1.1zM7.6 2.7h1.4v0.9h-1.4zM17.9 0.2h1.5v1.1h-1.5zM8.8 29.6h1.1v1.0h-1.1zM10.5 29.9h1.3v1.4h-1.3zM1.8 18.5h1.0v0.8h-1.0zM18.4 14.1h1.2v0.9h-1.2zM20.6 6.2h1.4v1.3h-1.4zM28.8 10.1h0.9v0.8h-0.9zM16.0 25.1h1.0v1.0h-1.0zM25.9 17.1h1.4v0.9h-1.4zM27.2 10.3h0.8v0.7h-0.8zM32.5 11.4h1.4v1.4h-1.4zM3.2 30.3h0.8v0.7h-0.8zM16.1 5.7h1.1v1.0h-1.1zM13.9 7.0h0.8v0.6h-0.8zM32.4 14.2h1.0v0.7h-1.0zM33.7 34.4h1.3v1.1h-1.3zM3.5 19.1h1.4v1.2h-1.4zM22.8 21.8h1.0v0.9h-1.0zM4.7 32.9h1.4v0.9h-1.4zM18.8 14.5h1.5v1.4h-1.5zM25.5 5.9h0.9v0.6h-0.9zM15.1 3.7h0.9v0.7h-0.9zM26.6 1.4h1.4v1.2h-1.4zM3.2 23.3h1.5v1.5h-1.5zM2.0 15.4h1.1v1.1h-1.1zM27.4 7.2h1.4v1.4h-1.4zM26.8 1.0h1.1v0.9h-1.1zM13.9 9.7h0.9v0.8h-0.9zM0.4 29.8h1.3v1.2h-1.3zM5.6 21.8h1.5v1.1h-1.5zM12.3 31.0h1.3v1.1h-1.3zM5.3 26.8h1.1v1.2h-1.1zM8.7 0.7h1.4v1.4h-1.4zM7.4 20.2h1.0v0.6h-1.0zM31.4 20.7h0.8v0.5h-0.8zM13.5 27.2h1.4v1.2h-1.4zM3.2 33.7h1.3v0.8h-1.3zM32.1 7.6h1.2v1.3h-1.2zM22.4 7.1h1.0v0.7h-1.0zM10.4 26.3h0.8v0.7h-0.8zM11.2 3.3h1.1v1.1h-1.1zM9.9 31.3h0.7v0.5h-0.7zM8.9 1.0h1.3v0.9h-1.3zM2.3 0.5h1.0v0.7h-1.0zM14.1 23.8h1.1v1.0h-1.1zM33.2 12.5h1.3v0.9h-1.3zM12.6 18.0h0.8v0.6h-0.8zM13.1 26.4h0.9v0.6h-0.9zM4.1 16.5h0.8v0.6h-0.8zM2.3 12.5h1.1v1.1h-1.1zM7.7 25.7h1.2v1.2h-1.2zM2.9 9.2h1.4v1.2h-1.4zM15.6 11.0h0.9v0.8h-0.9zM34.0 16.6h0.8v0.5h-0.8zM31.1 6.3h0.9v0.8h-0.9zM7.5 1.2h1.1v0.7h-1.1zM16.5 17.7h1.5v1.2h-1.5zM28.6 0.0h1.2v0.9h-1.2zM18.0 20.1h1.4v0.9h-1.4zM20.2 15.6h1.0v1.1h-1.0zM0.6 10.0h0.9v1.0h-0.9zM22.7 20.2h1.3v1.4h-1.3zM2.6 31.0h1.2v0.8h-1.2zM8.2 12.6h1.1v1.1h-1.1zM1.2 4.7h1.0v0.8h-1.0z" fill="#f8f9f4"/><path d="M15.0 2.4h0.8v0.6h-0.8zM29.6 10.0h0.8v0.5h-0.8zM15.5 19.0h1.4v1.4h-1.4zM11.4 21.5h1.1v0.7h-1.1zM15.8 28.3h1.5v1.2h-1.5zM28.3 17.6h1.4v1.3h-1.4zM32.0 24.6h1.4v1.1h-1.4zM1.2 2.2h1.4v1.0h-1.4zM8.1 16.4h1.5v1.6h-1.5zM6.8 26.0h0.9v0.6h-0.9zM21.4 16.9h0.9v0.9h-0.9zM17.4 13.0h1.5v1.0h-1.5zM29.1 25.7h1.1v1.0h-1.1zM33.2 3.5h1.0v1.1h-1.0zM20.8 14.0h1.3v1.4h-1.3zM0.4 32.8h1.2v0.9h-1.2zM17.0 17.2h1.1v1.2h-1.1zM22.0 21.9h0.7v0.7h-0.7zM0.6 24.8h0.9v0.9h-0.9zM27.8 11.8h0.8v0.5h-0.8zM17.8 33.0h1.4v1.0h-1.4zM31.7 11.2h1.4v1.4h-1.4zM12.9 13.8h1.1v1.0h-1.1zM18.4 13.3h1.0v0.6h-1.0zM24.4 9.0h1.4v1.3h-1.4zM6.1 29.4h1.0v0.9h-1.0zM1.4 5.6h0.9v0.6h-0.9zM24.2 27.8h0.9v0.8h-0.9zM16.9 15.0h0.9v0.7h-0.9zM1.4 15.2h0.9v0.8h-0.9zM15.2 29.8h1.1v1.1h-1.1zM22.3 13.9h1.4v0.9h-1.4zM0.7 34.2h1.0v1.0h-1.0zM14.8 6.2h1.2v0.8h-1.2zM12.2 17.1h1.4v1.1h-1.4zM34.4 0.2h1.2v1.3h-1.2zM23.9 11.2h1.2v1.1h-1.2zM25.7 29.4h1.1v1.0h-1.1zM13.6 34.4h1.3v1.0h-1.3zM21.9 29.6h0.9v0.7h-0.9zM20.5 16.0h1.1v1.1h-1.1zM31.9 34.4h1.5v1.3h-1.5zM19.9 12.2h1.0v0.9h-1.0zM24.8 12.0h0.8v0.9h-0.8zM28.6 32.3h1.4v1.4h-1.4zM23.6 1.4h1.4v0.9h-1.4zM6.0 32.6h1.1v1.1h-1.1zM13.5 25.8h1.2v0.9h-1.2zM11.7 2.3h1.0v0.9h-1.0zM28.9 11.2h0.7v0.6h-0.7zM7.7 21.7h1.0v0.7h-1.0zM15.7 23.6h1.3v1.0h-1.3zM20.4 4.4h0.9v0.7h-0.9zM25.7 0.8h1.4v1.4h-1.4zM2.6 3.9h1.3v1.1h-1.3zM8.0 30.6h1.4v1.1h-1.4zM32.6 18.1h0.9v0.6h-0.9zM16.2 25.5h1.1v0.8h-1.1z" fill="#e9f59c"/><path d="M20.1 22.0h1.0v0.9h-1.0zM17.9 12.3h0.7v0.4h-0.7zM12.0 0.6h0.9v0.5h-0.9zM16.4 32.2h0.8v0.8h-0.8zM33.2 33.6h1.1v0.8h-1.1zM12.9 33.0h1.4v1.4h-1.4zM3.8 5.3h1.1v1.1h-1.1zM26.8 32.6h0.8v0.7h-0.8zM0.4 11.3h1.2v0.9h-1.2zM7.5 13.8h1.1v0.9h-1.1zM16.3 3.7h0.8v0.7h-0.8zM27.2 32.1h0.8v0.6h-0.8zM9.1 17.5h1.0v0.6h-1.0zM0.4 22.3h1.1v0.9h-1.1zM2.0 26.9h0.7v0.6h-0.7zM22.1 33.3h0.9v0.9h-0.9zM11.0 14.6h0.7v0.5h-0.7zM29.7 3.1h1.4v0.9h-1.4zM17.1 12.0h1.4v1.0h-1.4zM23.6 13.5h1.3v0.9h-1.3zM27.7 13.5h0.9v0.6h-0.9zM30.7 21.0h1.3v1.2h-1.3zM15.0 14.6h1.1v1.2h-1.1zM29.7 16.8h0.7v0.6h-0.7zM20.9 23.4h1.1v0.8h-1.1zM1.5 34.4h1.0v0.7h-1.0zM20.6 11.9h1.1v0.7h-1.1zM33.3 34.2h0.9v0.5h-0.9zM14.2 5.4h0.9v0.9h-0.9zM15.0 31.5h0.9v0.8h-0.9zM2.3 25.3h1.0v1.0h-1.0zM16.1 18.4h0.8v0.5h-0.8zM11.0 33.8h1.4v1.2h-1.4zM17.2 19.1h0.9v0.8h-0.9zM1.5 32.1h1.4v1.0h-1.4zM26.6 13.3h1.2v1.1h-1.2zM15.0 23.6h1.0v0.6h-1.0zM29.2 13.6h1.4v1.3h-1.4zM9.4 17.3h0.9v0.8h-0.9zM20.8 29.8h1.2v0.9h-1.2zM16.0 0.5h1.4v1.3h-1.4zM7.0 26.2h1.2v0.9h-1.2zM31.4 16.3h1.3v1.1h-1.3zM5.9 28.4h1.1v1.0h-1.1zM3.5 3.3h1.3v1.4h-1.3zM31.3 23.7h0.8v0.5h-0.8zM31.5 11.2h1.4v0.9h-1.4zM31.9 1.1h1.2v1.3h-1.2zM25.9 5.3h0.9v0.6h-0.9zM6.8 15.8h0.9v0.8h-0.9zM7.0 31.4h1.1v1.1h-1.1zM8.4 2.4h1.1v1.1h-1.1zM23.2 26.0h1.1v1.2h-1.1zM24.3 6.8h0.9v0.8h-0.9zM5.3 0.6h1.3v0.9h-1.3zM27.8 5.6h1.1v0.7h-1.1zM32.5 15.2h1.3v0.9h-1.3zM15.1 23.7h1.3v1.2h-1.3zM1.0 15.1h0.8v0.7h-0.8zM28.8 7.0h1.5v1.2h-1.5z" fill="#d4ee93"/><path d="M27.4 24.1h0.9v0.8h-0.9zM24.0 20.5h1.2v1.0h-1.2zM13.3 23.1h0.7v0.6h-0.7zM13.8 3.6h1.2v0.8h-1.2zM7.6 7.8h0.9v0.6h-0.9zM17.9 19.2h1.3v0.9h-1.3zM6.4 32.3h1.3v0.8h-1.3zM9.4 33.0h1.2v0.9h-1.2zM33.8 30.5h1.5v1.1h-1.5zM8.3 31.3h1.2v1.1h-1.2zM7.3 21.5h0.8v0.8h-0.8zM28.2 28.3h1.4v0.9h-1.4zM11.1 33.3h1.1v1.1h-1.1zM30.7 3.0h1.4v0.9h-1.4zM29.3 9.2h1.0v0.7h-1.0zM33.9 17.6h1.1v1.1h-1.1zM17.4 9.4h1.1v1.2h-1.1zM10.9 10.3h1.2v1.1h-1.2zM27.1 32.6h1.3v1.2h-1.3zM20.4 26.1h0.8v0.6h-0.8zM29.0 29.8h1.1v0.7h-1.1zM18.3 2.4h1.0v0.9h-1.0zM34.1 10.2h1.3v0.9h-1.3zM13.5 19.2h1.0v0.8h-1.0zM12.3 20.5h1.0v1.1h-1.0zM34.3 22.0h0.7v0.6h-0.7zM1.9 30.7h1.2v1.3h-1.2zM20.8 33.1h1.1v1.2h-1.1zM8.5 6.6h0.9v0.7h-0.9zM5.4 24.4h0.8v0.6h-0.8zM33.1 7.2h1.5v1.2h-1.5zM17.3 10.2h0.8v0.6h-0.8zM1.5 29.5h1.2v0.7h-1.2zM25.8 28.6h0.9v0.6h-0.9zM28.1 18.9h1.3v0.9h-1.3zM15.1 23.0h1.4v1.4h-1.4zM0.7 15.8h1.5v0.9h-1.5zM26.3 25.5h1.1v1.0h-1.1zM2.1 11.6h1.0v1.0h-1.0zM5.2 6.1h1.3v1.4h-1.3zM11.0 14.5h1.5v1.2h-1.5zM8.3 6.8h0.8v0.8h-0.8zM1.5 15.3h1.0v1.0h-1.0zM1.4 23.5h1.1v1.1h-1.1zM20.1 34.4h1.4v1.4h-1.4zM27.7 6.9h1.4v1.3h-1.4zM24.5 27.7h1.2v1.0h-1.2zM1.1 13.1h1.2v0.9h-1.2zM30.7 2.9h1.2v0.8h-1.2zM3.0 22.5h1.4v1.1h-1.4zM3.0 9.3h1.3v1.0h-1.3zM7.7 30.7h1.2v1.2h-1.2zM33.2 24.5h1.3v0.9h-1.3zM5.2 26.1h1.1v0.9h-1.1zM12.5 31.7h1.1v0.8h-1.1zM6.4 30.1h1.1v1.0h-1.1zM2.3 20.8h1.4v1.0h-1.4zM3.2 25.2h1.4v1.4h-1.4zM21.1 22.4h1.4v1.4h-1.4zM18.5 33.3h0.8v0.7h-0.8zM28.7 1.1h1.4v1.0h-1.4zM22.1 16.3h1.4v0.9h-1.4zM14.0 11.8h1.2v0.8h-1.2zM22.9 26.5h0.8v0.6h-0.8z" fill="#fde28c"/><path d="M9.9 33.8h0.8v0.6h-0.8zM25.9 16.5h0.8v0.8h-0.8zM21.9 14.0h1.0v0.6h-1.0zM28.0 4.8h1.1v1.0h-1.1zM3.9 2.4h1.1v1.0h-1.1zM25.8 29.2h1.2v0.8h-1.2zM29.0 31.5h0.7v0.5h-0.7zM28.1 6.7h1.5v1.3h-1.5zM14.5 7.9h1.3v1.3h-1.3zM13.4 16.9h1.5v0.9h-1.5zM17.7 22.1h1.4v1.2h-1.4zM12.1 9.1h0.9v0.9h-0.9zM28.2 16.1h0.9v0.8h-0.9zM15.9 32.2h0.9v1.0h-0.9zM5.0 27.5h1.0v0.9h-1.0zM15.9 3.0h1.3v1.3h-1.3zM28.2 33.2h0.9v0.6h-0.9zM2.1 30.1h1.5v1.2h-1.5zM1.6 4.2h1.1v0.9h-1.1zM5.7 28.5h1.5v1.2h-1.5zM30.1 21.0h1.0v0.8h-1.0zM28.3 34.2h1.4v1.1h-1.4zM7.6 10.7h1.4v1.2h-1.4zM31.2 32.6h1.1v0.9h-1.1zM8.8 6.7h1.1v1.1h-1.1zM32.7 0.5h1.0v0.7h-1.0zM1.2 6.3h1.4v1.3h-1.4zM26.8 10.7h1.3v1.4h-1.3zM12.5 34.1h0.9v0.9h-0.9zM5.2 23.5h1.0v0.9h-1.0zM23.3 10.2h0.9v0.9h-0.9zM20.5 15.9h0.7v0.6h-0.7zM2.1 8.5h1.2v1.3h-1.2zM28.1 11.8h1.3v1.1h-1.3zM5.2 11.9h0.8v0.6h-0.8zM13.5 27.0h1.3v1.3h-1.3zM0.2 16.9h0.7v0.5h-0.7zM3.8 10.6h1.2v1.3h-1.2zM13.6 32.4h1.3v1.0h-1.3zM22.4 30.3h0.8v0.8h-0.8zM20.2 13.8h1.1v1.0h-1.1zM32.7 31.7h1.3v1.2h-1.3zM15.2 2.3h1.3v0.8h-1.3zM28.9 34.3h1.3v1.0h-1.3zM4.8 8.3h0.8v0.9h-0.8zM22.3 6.2h1.5v1.5h-1.5z" fill="#9fd899"/><path d="M22.9 2.1h1.3v1.2h-1.3zM3.0 3.5h1.0v0.7h-1.0zM32.2 15.0h1.4v1.4h-1.4zM21.1 17.4h1.1v1.1h-1.1zM32.5 24.1h1.4v1.5h-1.4zM34.2 28.7h0.8v0.7h-0.8zM22.7 2.3h1.3v0.9h-1.3zM23.6 26.5h1.2v1.1h-1.2zM16.1 4.1h1.4v1.0h-1.4zM0.9 0.1h1.1v0.9h-1.1zM7.6 31.3h1.5v1.2h-1.5zM6.5 7.7h1.0v1.0h-1.0zM8.0 27.9h1.2v1.3h-1.2zM28.3 14.0h1.4v1.2h-1.4zM1.4 22.0h0.8v0.7h-0.8zM17.7 30.9h0.8v0.6h-0.8zM29.0 24.1h1.4v1.1h-1.4zM26.0 26.0h1.2v0.9h-1.2zM6.8 22.0h0.8v0.6h-0.8zM21.4 14.1h1.2v1.3h-1.2zM22.0 22.7h1.0v1.1h-1.0zM9.1 8.1h0.8v0.7h-0.8zM19.4 23.0h1.4v1.1h-1.4zM8.9 10.4h1.0v0.8h-1.0zM14.2 3.5h1.2v0.9h-1.2zM9.4 7.1h1.2v1.1h-1.2zM0.7 33.4h0.9v0.6h-0.9zM13.6 32.5h1.3v1.0h-1.3zM2.1 13.4h1.1v1.0h-1.1zM27.1 24.4h1.4v1.0h-1.4zM15.3 6.4h0.9v0.6h-0.9zM15.2 21.5h1.5v1.2h-1.5zM8.6 2.0h1.0v0.8h-1.0zM32.3 12.1h0.9v1.0h-0.9zM26.4 28.7h0.8v0.6h-0.8zM15.4 19.6h0.9v0.6h-0.9zM30.0 2.3h1.1v1.1h-1.1zM22.7 20.8h1.0v0.9h-1.0zM1.9 23.5h1.3v1.1h-1.3zM32.6 4.0h1.5v1.5h-1.5zM12.5 33.7h0.7v0.8h-0.7zM25.9 30.7h1.3v1.3h-1.3zM28.4 4.4h0.8v0.7h-0.8zM25.3 13.3h1.3v1.4h-1.3zM1.5 30.7h1.1v0.7h-1.1zM29.3 27.8h1.2v1.0h-1.2z" fill="#fbb871"/><path d="M23.3 1.9h1.4v1.4h-1.4zM12.1 18.9h0.8v0.5h-0.8zM4.9 30.5h1.5v1.0h-1.5zM24.2 3.1h0.7v0.7h-0.7zM9.7 8.4h0.9v0.8h-0.9zM24.7 30.3h1.0v0.8h-1.0zM23.5 16.9h0.7v0.7h-0.7zM9.9 1.7h1.4v1.0h-1.4zM0.0 13.5h1.4v1.5h-1.4zM26.4 15.8h1.1v0.7h-1.1zM3.1 5.6h1.3v1.0h-1.3zM22.9 10.8h0.7v0.4h-0.7zM7.0 21.5h1.1v0.7h-1.1zM28.5 21.8h0.9v0.6h-0.9zM4.3 15.9h1.4v1.0h-1.4zM16.2 19.4h0.9v1.0h-0.9zM11.7 29.7h1.0v0.8h-1.0zM21.3 21.6h1.3v1.1h-1.3zM30.9 27.9h0.9v0.6h-0.9zM28.2 30.6h0.7v0.7h-0.7zM9.4 29.4h1.3v1.3h-1.3zM34.0 1.9h0.8v0.8h-0.8zM15.6 11.7h1.4v1.1h-1.4zM19.7 22.4h0.9v0.8h-0.9zM16.2 10.7h0.9v0.6h-0.9zM0.4 12.2h1.4v1.0h-1.4zM29.3 28.3h1.1v1.1h-1.1zM14.2 4.2h0.8v0.8h-0.8zM21.7 32.3h1.2v0.9h-1.2zM28.0 2.1h1.2v1.1h-1.2zM12.5 9.7h1.3v1.4h-1.3zM2.8 6.2h1.2v1.3h-1.2zM2.7 27.9h1.4v1.1h-1.4zM15.6 20.0h1.4v1.0h-1.4zM18.8 18.9h1.3v1.4h-1.3zM23.4 11.1h1.2v1.0h-1.2zM28.0 12.2h1.0v0.9h-1.0zM18.7 3.1h0.8v0.6h-0.8zM1.7 11.5h1.1v0.8h-1.1zM15.0 28.5h1.3v1.4h-1.3zM15.8 11.6h0.9v0.7h-0.9zM13.9 19.8h0.9v0.9h-0.9zM24.6 8.3h1.2v1.2h-1.2zM27.6 2.7h0.7v0.6h-0.7zM20.4 22.6h1.2v1.1h-1.2zM9.6 0.3h0.9v0.9h-0.9zM22.8 6.2h0.8v0.5h-0.8zM19.7 7.7h0.8v0.5h-0.8zM5.0 27.7h1.5v1.4h-1.5zM32.4 13.9h1.2v0.8h-1.2zM16.3 23.2h1.3v0.8h-1.3z" fill="#f59a5a"/><path d="M16.5 22.5h1.3v0.9h-1.3zM17.3 18.3h1.1v0.7h-1.1zM13.6 17.5h1.3v1.4h-1.3zM20.2 30.8h1.2v1.2h-1.2zM25.9 14.2h1.0v0.9h-1.0zM7.5 9.4h0.9v0.7h-0.9zM30.1 0.8h0.7v0.7h-0.7zM16.4 8.1h0.9v1.0h-0.9zM7.8 1.2h1.0v0.8h-1.0zM14.9 1.7h1.1v0.8h-1.1zM26.7 21.0h1.0v0.7h-1.0zM5.5 27.1h0.9v0.7h-0.9zM3.6 34.3h1.2v1.0h-1.2zM24.6 9.2h1.1v0.9h-1.1zM23.4 22.1h1.1v0.8h-1.1zM6.8 23.9h1.1v1.1h-1.1zM1.9 19.6h0.7v0.5h-0.7zM15.4 0.5h1.0v0.9h-1.0zM20.7 10.6h1.0v1.1h-1.0zM30.5 18.0h1.1v1.0h-1.1zM16.8 19.6h0.9v0.9h-0.9zM2.2 20.6h1.0v0.7h-1.0zM30.7 4.8h1.1v0.7h-1.1zM9.2 6.4h1.4v1.1h-1.4zM1.2 22.1h0.9v0.9h-0.9zM21.4 8.6h1.1v0.9h-1.1zM26.7 18.6h1.5v1.3h-1.5zM4.6 9.5h0.7v0.7h-0.7zM23.9 25.5h1.4v1.2h-1.4zM32.0 5.8h1.3v1.3h-1.3zM27.1 14.7h0.9v0.9h-0.9zM30.0 5.8h1.3v1.0h-1.3zM4.2 12.9h1.3v1.4h-1.3zM32.6 21.6h0.9v0.6h-0.9zM9.7 11.4h1.1v1.1h-1.1zM25.2 9.4h0.8v0.6h-0.8zM1.5 13.2h1.4v1.4h-1.4zM15.2 16.9h1.1v1.1h-1.1zM2.0 15.0h1.2v0.8h-1.2zM0.5 32.5h1.1v1.1h-1.1zM25.9 22.0h0.9v0.8h-0.9zM23.0 2.6h1.2v1.0h-1.2zM27.4 12.0h0.8v0.7h-0.8zM16.7 22.1h0.9v0.6h-0.9zM0.1 29.4h1.1v1.2h-1.1zM24.7 1.1h1.2v1.3h-1.2zM27.4 18.4h0.8v0.8h-0.8z" fill="#6aaed0"/><path d="M13.7 13.8h1.5v1.4h-1.5zM29.0 4.7h0.8v0.7h-0.8zM3.6 9.2h0.7v0.7h-0.7zM20.3 12.4h1.0v0.8h-1.0zM18.9 24.8h0.7v0.7h-0.7zM12.6 6.8h1.3v0.9h-1.3zM16.7 1.8h1.4v1.1h-1.4zM25.3 8.6h1.4v0.9h-1.4zM3.7 7.1h0.8v0.5h-0.8zM16.6 22.3h0.9v0.7h-0.9zM1.2 19.3h1.3v1.4h-1.3zM17.5 34.1h0.9v0.9h-0.9zM33.2 6.5h0.9v1.0h-0.9zM27.7 33.2h1.0v1.1h-1.0zM14.1 31.5h1.3v1.4h-1.3zM23.7 9.4h1.3v0.9h-1.3zM9.3 32.5h1.0v0.6h-1.0zM7.1 14.1h1.5v1.5h-1.5z" fill="#d7303e"/></pattern>
<pattern id="spDD" patternUnits="userSpaceOnUse" width="36" height="36"><path d="M19.9 12.3h1.3v1.0h-1.3zM0.7 3.9h1.4v1.6h-1.4zM19.4 27.4h0.8v0.9h-0.8zM11.6 26.4h0.9v0.6h-0.9zM13.9 12.2h1.0v0.8h-1.0zM19.0 31.8h0.8v0.8h-0.8zM24.4 6.0h0.8v0.6h-0.8zM14.7 19.7h1.3v1.3h-1.3zM3.8 25.7h0.9v0.6h-0.9zM34.3 34.3h1.2v1.1h-1.2zM31.7 3.4h1.1v0.9h-1.1zM15.2 27.5h0.9v1.0h-0.9zM7.2 1.3h1.3v1.1h-1.3zM32.5 8.9h1.4v1.2h-1.4zM8.7 0.9h1.5v1.1h-1.5zM32.0 18.4h0.9v0.8h-0.9zM13.5 32.4h1.0v1.0h-1.0zM31.7 31.7h1.3v1.2h-1.3zM13.6 14.6h1.1v1.2h-1.1zM22.0 6.3h1.2v0.9h-1.2zM28.5 27.3h1.5v1.4h-1.5zM12.9 22.0h0.8v0.8h-0.8zM33.2 30.2h1.5v1.5h-1.5zM32.8 11.7h1.4v1.3h-1.4zM17.5 18.6h1.1v0.9h-1.1zM1.3 33.0h0.9v0.5h-0.9zM21.3 13.4h1.5v1.1h-1.5zM34.2 10.5h0.8v0.5h-0.8zM1.7 6.2h0.8v0.7h-0.8zM13.8 17.5h1.3v1.3h-1.3z" fill="#e9f59c"/><path d="M23.3 5.6h1.0v1.1h-1.0zM28.3 20.7h1.4v1.4h-1.4zM3.2 22.9h1.2v0.8h-1.2zM21.9 8.3h0.9v0.7h-0.9zM25.0 7.6h0.9v0.9h-0.9zM32.1 30.3h1.1v0.7h-1.1zM2.4 2.3h1.3v0.9h-1.3zM29.8 19.8h0.7v0.7h-0.7zM18.3 23.5h0.7v0.6h-0.7zM29.6 16.9h0.9v1.0h-0.9zM34.1 18.7h1.3v0.9h-1.3zM28.1 1.1h1.1v0.7h-1.1zM16.0 16.2h1.3v1.2h-1.3zM4.7 28.1h0.8v0.6h-0.8zM32.1 16.3h1.3v1.0h-1.3zM16.0 28.4h1.5v1.6h-1.5zM28.9 23.1h1.2v1.3h-1.2zM14.3 31.1h1.2v1.2h-1.2zM28.4 8.3h0.8v0.6h-0.8zM3.0 23.7h1.5v1.1h-1.5zM13.8 23.8h1.0v0.7h-1.0zM24.7 27.6h0.8v0.6h-0.8zM17.9 16.7h1.0v0.8h-1.0zM9.6 17.3h1.1v0.9h-1.1zM31.9 17.6h1.0v0.7h-1.0zM16.8 24.6h1.4v1.5h-1.4zM6.9 29.5h1.4v1.0h-1.4zM27.5 28.0h0.9v0.9h-0.9zM13.1 7.9h1.2v1.2h-1.2zM15.9 7.3h0.7v0.5h-0.7zM21.1 1.1h1.4v1.6h-1.4zM3.2 31.9h1.1v1.0h-1.1zM25.7 28.7h0.9v0.9h-0.9zM6.3 19.9h0.9v0.7h-0.9zM8.6 2.9h0.9v0.6h-0.9zM18.0 10.4h1.5v1.2h-1.5zM3.8 1.5h1.1v1.1h-1.1zM19.3 14.4h0.7v0.6h-0.7zM13.0 4.4h1.1v0.7h-1.1zM27.6 17.1h0.9v0.6h-0.9zM16.4 22.4h1.2v0.8h-1.2zM9.9 33.5h1.0v1.1h-1.0zM4.7 17.0h1.0v1.0h-1.0zM16.6 14.2h1.5v1.2h-1.5zM30.3 22.9h0.9v1.0h-0.9zM19.9 13.1h0.9v0.9h-0.9zM27.3 1.1h1.2v1.2h-1.2zM24.3 18.2h1.2v0.9h-1.2zM19.3 26.7h1.4v0.9h-1.4zM27.7 17.5h0.8v0.8h-0.8zM26.4 26.7h1.2v1.2h-1.2zM8.7 18.7h0.8v0.8h-0.8zM9.7 26.6h1.1v1.1h-1.1zM11.2 9.7h1.4v1.3h-1.4zM12.9 14.3h1.2v1.2h-1.2zM1.9 5.5h1.0v1.0h-1.0zM19.1 22.6h0.9v0.5h-0.9zM8.9 23.0h1.3v1.2h-1.3zM25.9 5.1h0.8v0.6h-0.8zM32.8 33.0h0.7v0.5h-0.7zM24.2 8.2h1.1v1.1h-1.1zM9.5 4.1h0.8v0.7h-0.8zM21.5 29.7h0.8v0.6h-0.8zM18.8 32.5h0.8v0.8h-0.8zM24.3 25.1h1.2v0.7h-1.2zM34.4 3.6h1.5v1.5h-1.5zM30.2 14.5h0.9v0.7h-0.9zM19.1 20.5h1.3v0.9h-1.3zM0.6 24.9h1.0v0.8h-1.0zM0.5 30.1h1.5v1.1h-1.5zM30.8 28.9h0.9v0.6h-0.9zM24.5 14.9h0.8v0.6h-0.8zM9.4 3.0h1.5v0.9h-1.5zM15.0 32.1h0.9v0.6h-0.9zM11.0 4.9h1.2v1.2h-1.2zM22.7 11.0h0.8v0.6h-0.8zM18.2 31.1h1.3v1.0h-1.3zM11.6 24.6h1.4v1.1h-1.4zM4.2 2.6h1.2v0.9h-1.2zM31.4 28.9h1.1v0.9h-1.1zM7.7 0.8h0.9v0.6h-0.9zM18.5 19.8h0.8v0.9h-0.8zM8.8 27.9h1.4v1.4h-1.4zM13.9 24.2h1.0v1.0h-1.0zM18.1 21.8h0.9v0.9h-0.9zM29.6 4.2h1.0v0.6h-1.0zM25.9 7.8h1.0v0.7h-1.0zM24.9 28.5h1.2v0.9h-1.2zM5.1 29.8h1.2v1.3h-1.2zM28.9 25.5h1.1v0.7h-1.1zM11.0 21.3h1.2v1.1h-1.2zM0.6 28.9h1.4v1.5h-1.4zM11.9 6.9h1.4v1.4h-1.4zM23.1 17.1h1.5v1.2h-1.5zM0.6 19.3h1.5v1.1h-1.5zM25.7 12.9h1.2v0.9h-1.2zM30.8 7.7h0.9v0.8h-0.9zM25.7 31.2h0.8v0.7h-0.8zM3.7 1.8h0.9v0.8h-0.9zM7.4 4.5h1.2v1.1h-1.2zM17.5 10.8h1.2v1.2h-1.2zM8.8 17.6h1.1v0.8h-1.1zM30.0 18.7h1.4v1.2h-1.4zM33.9 18.6h1.4v1.2h-1.4zM24.3 21.4h1.1v1.0h-1.1zM32.8 22.3h1.0v0.8h-1.0zM2.6 31.0h1.0v0.8h-1.0zM30.5 1.6h1.2v0.8h-1.2zM4.6 18.9h1.0v0.9h-1.0zM18.9 9.5h0.8v0.8h-0.8zM19.9 9.6h1.4v1.0h-1.4zM6.5 32.2h1.4v1.1h-1.4zM1.1 25.4h0.8v0.7h-0.8zM33.1 16.9h1.4v0.9h-1.4zM14.0 2.6h1.2v0.8h-1.2zM4.6 26.0h1.2v1.0h-1.2zM14.4 9.8h1.1v1.1h-1.1zM28.9 5.6h1.0v1.0h-1.0zM32.2 21.8h0.8v0.7h-0.8zM31.4 21.5h0.8v0.8h-0.8zM32.1 12.8h1.1v1.1h-1.1zM0.2 9.1h0.8v0.8h-0.8zM30.7 4.4h1.3v1.3h-1.3zM4.2 3.6h1.3v1.4h-1.3zM31.6 26.0h0.7v0.5h-0.7zM27.8 14.3h1.0v0.8h-1.0zM16.4 4.5h1.2v1.0h-1.2zM27.2 18.8h1.3v1.0h-1.3zM26.4 24.8h1.2v0.9h-1.2zM33.1 21.0h1.2v0.9h-1.2zM26.7 0.5h1.2v1.0h-1.2zM4.6 27.9h0.8v0.6h-0.8zM3.8 23.3h1.0v0.7h-1.0zM18.6 12.3h1.5v1.4h-1.5z" fill="#d7303e"/><path d="M21.9 24.3h1.5v1.0h-1.5zM11.0 14.4h1.1v0.8h-1.1zM12.5 24.7h1.1v1.1h-1.1zM24.6 26.6h1.0v0.8h-1.0zM3.6 15.7h1.2v0.9h-1.2zM15.7 11.7h1.3v1.3h-1.3zM16.7 14.4h1.4v1.3h-1.4zM3.2 0.2h1.0v0.9h-1.0zM10.5 5.6h0.9v0.6h-0.9zM6.3 16.6h1.1v1.1h-1.1zM6.8 20.4h0.8v0.6h-0.8zM31.7 13.9h1.0v0.8h-1.0zM33.7 1.3h0.7v0.5h-0.7zM3.9 5.6h0.8v0.8h-0.8zM30.4 20.7h1.0v0.8h-1.0zM10.9 13.0h0.9v1.0h-0.9zM14.0 5.8h0.8v0.7h-0.8zM10.8 1.0h0.9v0.6h-0.9zM32.7 23.6h1.0v1.1h-1.0zM11.2 33.3h1.0v1.0h-1.0zM12.4 31.1h0.9v0.6h-0.9zM6.2 2.4h0.8v0.6h-0.8zM27.9 10.1h1.4v1.5h-1.4zM15.4 14.0h0.9v0.9h-0.9zM16.3 6.8h0.8v0.8h-0.8zM4.6 16.7h1.2v0.8h-1.2zM21.3 26.9h1.2v0.8h-1.2zM26.0 12.6h1.1v1.1h-1.1zM27.2 6.8h1.3v1.0h-1.3zM21.6 4.3h1.3v1.0h-1.3zM28.9 0.6h1.4v1.0h-1.4zM18.6 7.5h1.3v1.0h-1.3zM15.9 19.8h0.9v0.8h-0.9zM11.6 4.4h1.2v0.9h-1.2zM27.9 4.0h1.3v0.8h-1.3zM24.5 2.2h1.4v0.9h-1.4zM27.9 19.3h0.8v0.8h-0.8zM17.8 6.5h1.5v1.6h-1.5zM28.9 8.3h1.3v1.2h-1.3zM26.9 21.7h1.2v1.3h-1.2zM22.9 32.3h1.3v1.1h-1.3zM8.2 10.5h1.1v0.9h-1.1zM20.0 0.4h1.0v0.7h-1.0zM32.0 19.6h1.4v1.3h-1.4zM18.4 24.3h1.5v0.9h-1.5zM24.1 4.4h1.0v0.8h-1.0zM13.2 29.0h1.4v1.1h-1.4zM31.5 31.3h1.4v1.2h-1.4zM14.2 6.8h1.3v1.3h-1.3zM22.6 13.5h1.1v0.8h-1.1zM22.0 3.5h1.0v0.7h-1.0zM26.1 16.9h0.7v0.7h-0.7zM6.6 21.6h1.0v1.1h-1.0zM3.4 33.1h0.8v0.8h-0.8zM28.0 10.4h1.1v0.7h-1.1zM28.1 9.5h0.7v0.8h-0.7zM20.1 4.5h1.0v1.1h-1.0zM30.7 17.6h1.1v1.2h-1.1zM30.3 24.1h1.3v1.3h-1.3zM26.9 17.8h1.1v1.2h-1.1zM17.0 26.1h1.2v0.8h-1.2zM13.4 8.1h1.3v1.4h-1.3zM3.8 14.2h1.2v1.1h-1.2zM8.8 20.2h0.9v0.9h-0.9zM18.2 7.1h0.8v0.6h-0.8zM11.3 8.6h0.9v0.7h-0.9zM6.2 30.2h0.8v0.5h-0.8zM19.1 25.1h1.4v1.2h-1.4zM12.5 9.4h1.4v1.4h-1.4zM14.2 19.2h0.8v0.8h-0.8zM33.1 0.2h1.4v1.4h-1.4zM16.0 9.9h0.7v0.6h-0.7zM32.2 32.7h1.4v1.0h-1.4zM14.6 6.4h1.1v0.9h-1.1zM11.3 7.7h1.2v1.2h-1.2zM32.1 23.1h0.7v0.4h-0.7zM0.7 11.7h1.0v0.6h-1.0zM22.0 20.2h1.3v1.0h-1.3zM7.1 28.3h1.4v0.9h-1.4zM29.4 26.0h0.9v0.8h-0.9zM2.8 26.7h0.9v0.8h-0.9zM24.7 22.0h1.5v1.6h-1.5zM14.7 24.4h1.3v1.4h-1.3zM28.6 11.5h0.7v0.8h-0.7zM8.9 5.2h1.1v0.7h-1.1zM29.8 5.2h1.1v0.9h-1.1zM1.7 30.1h0.8v0.6h-0.8zM15.9 16.2h0.8v0.8h-0.8zM3.4 20.0h1.1v0.8h-1.1zM26.6 17.8h0.8v0.6h-0.8zM8.2 19.5h1.4v1.1h-1.4zM31.7 16.2h1.1v0.8h-1.1zM0.1 12.2h0.9v0.8h-0.9zM1.2 15.6h1.4v1.2h-1.4zM27.8 3.0h1.1v1.1h-1.1zM30.2 3.6h1.2v0.8h-1.2zM26.1 29.0h0.9v0.7h-0.9zM14.5 17.4h0.7v0.8h-0.7zM13.6 27.4h1.2v1.1h-1.2zM31.4 20.9h0.8v0.6h-0.8zM24.7 11.3h1.1v0.9h-1.1zM0.3 15.3h1.5v1.0h-1.5zM4.6 8.3h1.1v0.7h-1.1zM20.3 30.7h0.9v0.7h-0.9zM23.8 21.4h0.7v0.8h-0.7zM17.0 26.1h1.1v0.8h-1.1zM20.0 15.9h1.1v1.0h-1.1zM29.2 4.3h1.1v1.1h-1.1z" fill="#f59a5a"/><path d="M0.5 18.5h1.3v0.9h-1.3zM6.0 24.0h0.7v0.5h-0.7zM5.6 3.2h1.2v1.1h-1.2zM5.3 23.9h1.0v1.0h-1.0zM26.6 28.5h1.3v1.4h-1.3zM13.4 16.7h0.9v0.8h-0.9zM9.9 26.5h0.8v0.5h-0.8zM18.3 28.7h0.8v0.6h-0.8zM32.4 25.7h1.2v1.1h-1.2zM11.7 8.6h0.8v0.6h-0.8zM8.8 17.8h0.8v0.8h-0.8zM20.2 24.9h1.3v1.2h-1.3zM28.9 31.9h0.7v0.8h-0.7zM2.4 27.5h1.2v0.8h-1.2zM31.0 27.6h0.7v0.5h-0.7zM23.8 0.8h0.9v0.5h-0.9zM7.9 2.0h0.9v0.9h-0.9zM25.8 29.6h1.0v0.7h-1.0zM27.7 27.1h1.1v0.7h-1.1zM31.3 21.1h1.5v1.5h-1.5zM12.7 19.1h1.3v1.2h-1.3zM33.6 2.2h0.7v0.6h-0.7zM6.2 28.7h0.8v0.8h-0.8zM20.3 27.6h0.8v0.7h-0.8zM29.2 22.4h0.8v0.8h-0.8zM16.7 4.4h1.2v1.2h-1.2zM30.1 24.7h0.8v0.6h-0.8zM1.5 12.2h1.4v1.5h-1.4zM18.3 9.5h1.3v1.3h-1.3zM33.2 18.1h1.2v1.3h-1.2zM11.6 3.7h1.3v1.3h-1.3zM0.7 13.5h1.0v0.6h-1.0zM7.3 10.7h1.0v0.8h-1.0zM34.0 8.3h1.4v1.0h-1.4zM17.6 17.0h1.0v1.0h-1.0zM22.2 4.7h1.2v0.8h-1.2zM29.2 6.1h1.4v1.2h-1.4zM5.5 10.1h0.9v1.0h-0.9zM24.1 16.0h1.3v1.1h-1.3zM7.5 32.9h1.0v0.9h-1.0zM26.0 25.7h1.4v1.1h-1.4zM9.5 21.9h1.1v0.9h-1.1zM15.1 0.1h1.3v1.0h-1.3zM14.2 17.6h0.8v0.6h-0.8zM19.8 22.4h1.0v0.8h-1.0zM10.4 15.9h1.0v1.0h-1.0zM7.7 0.3h1.0v0.6h-1.0zM12.7 30.4h1.5v0.9h-1.5zM22.2 22.7h1.2v0.7h-1.2zM25.0 12.7h0.8v0.7h-0.8zM33.4 11.1h1.2v1.2h-1.2zM2.8 3.1h0.9v0.7h-0.9zM32.6 14.1h1.2v1.2h-1.2zM23.9 20.3h1.3v0.9h-1.3zM15.1 9.7h1.2v0.9h-1.2zM21.3 6.7h1.1v1.0h-1.1zM11.6 3.5h0.8v0.8h-0.8zM8.7 0.8h0.8v0.7h-0.8zM29.3 0.7h1.3v1.3h-1.3zM1.9 14.6h1.4v1.3h-1.4zM18.7 13.0h1.1v0.9h-1.1zM15.9 19.1h1.3v1.4h-1.3zM11.4 5.4h0.8v0.6h-0.8zM32.4 28.0h0.9v0.5h-0.9zM24.1 23.2h0.8v0.8h-0.8zM12.0 30.4h0.8v0.5h-0.8zM23.0 2.9h0.9v0.8h-0.9zM3.6 17.3h1.3v0.9h-1.3zM31.8 22.1h1.4v1.1h-1.4zM29.3 28.3h1.0v1.0h-1.0zM26.9 15.2h1.1v1.0h-1.1zM23.0 23.8h1.0v1.1h-1.0zM25.4 21.6h0.9v0.8h-0.9zM6.3 28.1h1.1v1.0h-1.1zM15.3 30.0h1.3v1.3h-1.3zM24.3 10.3h1.3v1.0h-1.3zM18.8 13.4h1.3v1.0h-1.3zM30.5 32.4h0.9v0.9h-0.9zM14.8 31.0h0.7v0.7h-0.7zM31.0 9.4h0.9v0.6h-0.9zM6.2 8.6h1.2v1.0h-1.2zM29.6 23.4h1.0v1.1h-1.0zM4.7 34.3h1.3v0.9h-1.3zM24.0 17.0h1.1v0.7h-1.1zM11.3 10.8h0.8v0.6h-0.8zM20.5 34.0h1.3v1.1h-1.3zM25.2 2.4h1.3v1.3h-1.3zM4.3 19.3h0.8v0.6h-0.8zM15.1 31.3h0.8v0.6h-0.8zM11.5 13.6h1.3v1.0h-1.3zM8.9 18.2h1.4v1.2h-1.4zM33.9 26.0h1.0v0.6h-1.0zM29.2 4.0h1.2v1.0h-1.2zM3.5 6.9h1.3v1.5h-1.3zM29.4 23.8h0.8v0.7h-0.8zM13.3 19.0h1.1v0.9h-1.1zM11.4 32.2h1.4v1.5h-1.4zM28.7 15.9h1.3v1.0h-1.3zM6.7 33.3h0.7v0.7h-0.7zM23.2 22.1h1.3v1.3h-1.3zM0.4 8.2h1.3v0.9h-1.3zM33.1 27.0h1.2v0.9h-1.2zM11.9 4.4h1.0v1.1h-1.0zM29.7 30.3h1.4v1.4h-1.4zM9.4 25.4h1.5v1.0h-1.5zM14.4 32.6h0.9v0.7h-0.9zM24.4 22.5h0.8v0.8h-0.8zM14.2 20.4h1.0v0.6h-1.0zM26.0 20.7h1.0v0.6h-1.0zM20.3 33.8h0.9v0.6h-0.9zM7.7 15.2h1.5v1.1h-1.5zM21.6 15.6h1.4v0.9h-1.4zM11.9 34.0h0.8v0.6h-0.8zM11.1 30.4h1.1v0.7h-1.1zM28.7 23.2h1.2v0.9h-1.2zM15.0 4.4h1.5v1.3h-1.5zM10.7 4.3h0.7v0.7h-0.7zM17.6 2.0h0.9v0.8h-0.9zM17.0 0.2h0.9v0.7h-0.9zM9.0 8.4h1.0v0.8h-1.0zM27.5 6.4h0.8v0.6h-0.8zM5.1 2.7h1.0v1.0h-1.0zM7.6 20.4h1.1v0.7h-1.1zM19.6 15.2h0.9v0.9h-0.9zM16.2 18.4h0.9v0.6h-0.9zM5.9 15.3h1.0v0.8h-1.0zM7.3 27.5h0.8v0.6h-0.8zM31.8 25.0h1.1v1.0h-1.1zM34.0 0.4h1.2v0.8h-1.2zM13.4 33.5h1.0v0.9h-1.0zM0.3 33.6h0.9v0.7h-0.9zM27.4 30.9h1.1v1.0h-1.1zM3.7 8.7h1.3v1.2h-1.3zM21.8 0.9h1.4v1.3h-1.4zM7.5 8.9h0.7v0.7h-0.7zM31.2 18.8h0.8v0.8h-0.8zM29.9 24.3h0.7v0.4h-0.7zM16.0 1.6h1.2v1.1h-1.2zM16.7 22.7h0.8v0.6h-0.8zM26.6 10.5h0.8v0.6h-0.8zM24.0 4.4h0.9v1.0h-0.9zM34.4 31.3h1.2v0.8h-1.2zM27.8 22.5h1.2v1.1h-1.2zM30.2 23.7h1.1v1.0h-1.1zM12.3 23.7h1.1v1.0h-1.1zM23.1 11.8h1.4v1.5h-1.4zM17.7 3.6h1.0v0.6h-1.0zM21.9 2.1h1.1v1.1h-1.1zM32.8 12.4h1.0v1.0h-1.0zM5.0 17.5h1.3v1.1h-1.3zM23.1 14.2h1.3v0.9h-1.3zM6.3 22.8h1.0v1.0h-1.0zM6.3 5.0h1.2v1.1h-1.2zM33.7 30.1h1.2v1.1h-1.2zM10.5 27.7h0.9v0.8h-0.9zM24.4 17.1h0.8v0.7h-0.8zM5.7 22.5h1.2v1.3h-1.2zM23.8 21.3h1.3v1.4h-1.3zM0.5 16.0h0.8v0.8h-0.8zM23.9 32.0h1.3v1.1h-1.3zM3.2 18.6h1.4v1.5h-1.4zM18.8 33.1h0.9v0.5h-0.9zM29.4 17.8h0.7v0.5h-0.7zM10.6 31.2h1.1v0.8h-1.1zM17.9 22.4h0.8v0.7h-0.8zM25.9 0.2h0.8v0.6h-0.8zM21.2 11.2h1.3v1.2h-1.3zM29.2 17.5h1.2v0.9h-1.2zM17.6 9.0h1.2v0.9h-1.2zM30.9 12.5h1.4v1.4h-1.4zM29.1 29.2h1.3v1.2h-1.3zM8.8 28.4h0.7v0.7h-0.7zM29.3 31.7h0.8v0.6h-0.8zM8.8 16.3h1.2v0.8h-1.2zM23.0 23.2h0.9v0.7h-0.9zM0.2 18.0h1.4v1.3h-1.4zM21.7 33.1h1.0v1.0h-1.0zM24.0 5.0h1.5v1.4h-1.5zM9.8 14.6h1.5v1.0h-1.5zM33.5 25.8h1.3v1.3h-1.3zM1.4 19.0h0.8v0.5h-0.8zM25.0 17.5h1.3v0.9h-1.3zM29.4 24.3h0.8v0.8h-0.8zM34.4 20.0h1.2v0.8h-1.2zM15.1 18.2h1.0v0.9h-1.0z" fill="#f8f9f4"/><path d="M11.8 17.0h0.9v0.9h-0.9zM3.3 20.2h0.9v0.8h-0.9zM15.1 3.0h1.0v0.7h-1.0zM25.3 4.5h0.9v0.9h-0.9zM8.4 31.7h1.3v1.5h-1.3zM32.9 10.7h1.2v1.3h-1.2zM10.7 30.2h1.2v0.8h-1.2zM6.4 18.9h1.1v1.0h-1.1zM14.6 20.8h0.9v0.7h-0.9zM32.8 5.0h1.0v1.0h-1.0zM11.7 32.6h1.1v0.9h-1.1zM19.7 25.1h1.0v1.1h-1.0zM5.1 26.3h1.2v1.2h-1.2zM7.4 22.6h0.9v0.7h-0.9zM0.1 1.7h1.0v1.1h-1.0zM7.7 23.1h1.4v1.1h-1.4zM12.0 24.0h1.0v0.9h-1.0zM29.8 20.3h1.5v1.4h-1.5zM21.9 23.9h0.9v0.6h-0.9zM22.7 14.0h1.1v0.8h-1.1zM28.1 15.1h1.2v1.3h-1.2zM5.3 19.0h1.3v0.8h-1.3zM9.5 5.3h1.1v0.9h-1.1zM12.9 14.2h1.4v1.0h-1.4zM21.8 6.0h1.5v1.0h-1.5zM20.6 4.0h1.2v1.2h-1.2zM32.8 8.5h1.1v0.9h-1.1zM31.9 22.8h0.9v0.8h-0.9zM7.1 18.5h1.2v1.1h-1.2zM25.0 11.9h1.4v1.4h-1.4zM14.2 25.9h0.7v0.8h-0.7zM4.2 7.9h1.0v0.9h-1.0zM31.2 14.7h1.4v1.0h-1.4zM13.2 9.4h0.8v0.8h-0.8zM24.1 30.5h1.2v0.8h-1.2zM19.8 4.1h0.9v0.6h-0.9zM30.5 12.2h1.3v1.0h-1.3zM12.6 30.4h1.2v1.0h-1.2zM19.4 20.6h0.9v0.9h-0.9zM33.9 32.3h0.8v0.6h-0.8zM29.1 14.1h1.1v1.2h-1.1zM4.2 0.5h0.8v0.8h-0.8zM27.7 20.0h1.5v1.5h-1.5zM11.6 14.3h1.3v1.2h-1.3zM4.4 3.9h0.9v0.8h-0.9zM17.0 27.5h0.7v0.5h-0.7zM4.0 30.7h1.0v1.0h-1.0zM5.5 12.6h1.3v1.3h-1.3zM15.9 9.5h1.0v1.0h-1.0zM17.0 13.2h1.1v0.7h-1.1zM12.6 9.5h1.4v0.9h-1.4zM10.0 34.3h0.7v0.5h-0.7zM15.0 14.4h1.0v0.9h-1.0zM22.5 14.8h0.8v0.5h-0.8zM14.8 21.0h1.2v1.0h-1.2zM12.5 22.8h1.1v0.7h-1.1zM9.6 21.3h1.0v0.8h-1.0zM20.2 4.8h0.9v0.9h-0.9zM29.7 30.4h0.8v0.8h-0.8zM16.1 31.1h1.3v1.5h-1.3zM23.1 13.8h1.1v0.9h-1.1zM6.6 24.5h1.0v0.8h-1.0zM20.0 23.8h1.0v0.6h-1.0zM17.5 29.3h0.8v0.7h-0.8zM2.2 16.5h0.9v0.8h-0.9zM23.5 4.1h0.9v0.7h-0.9zM9.9 33.5h0.8v0.6h-0.8zM0.3 28.9h1.4v1.1h-1.4zM23.0 8.8h1.1v1.1h-1.1zM29.9 2.7h1.1v1.1h-1.1zM6.9 21.3h0.7v0.5h-0.7zM0.7 30.2h0.8v0.8h-0.8zM5.2 2.9h1.1v1.0h-1.1z" fill="#fbb871"/><path d="M7.1 10.7h1.2v0.9h-1.2zM4.4 16.1h1.2v0.9h-1.2zM31.2 16.3h1.5v1.3h-1.5zM19.8 0.4h1.3v1.2h-1.3zM8.7 22.6h1.0v1.0h-1.0zM12.5 31.9h0.9v0.5h-0.9zM32.9 17.6h1.4v1.3h-1.4zM19.3 4.9h0.8v0.7h-0.8zM34.2 23.7h1.0v0.9h-1.0zM3.0 26.8h0.8v0.6h-0.8zM15.3 3.4h1.4v1.4h-1.4zM23.1 12.4h1.2v0.9h-1.2zM16.6 25.2h0.9v0.7h-0.9zM11.4 29.4h1.4v1.1h-1.4zM16.4 6.1h1.0v1.1h-1.0zM16.2 4.5h0.9v0.9h-0.9zM9.2 27.2h1.1v0.8h-1.1zM29.1 23.1h0.8v0.6h-0.8zM5.3 18.6h0.9v0.7h-0.9zM5.6 29.0h1.0v0.9h-1.0zM31.8 10.8h1.2v1.2h-1.2zM32.4 15.5h1.2v1.2h-1.2zM34.0 13.1h1.5v0.9h-1.5zM11.7 13.7h1.5v1.1h-1.5zM33.7 4.1h0.9v0.6h-0.9zM21.3 3.4h1.2v0.9h-1.2zM6.3 24.8h1.0v1.0h-1.0zM3.8 26.9h1.0v0.9h-1.0zM0.1 14.4h0.8v0.8h-0.8zM25.4 19.8h1.0v0.9h-1.0zM9.0 19.8h1.2v0.9h-1.2zM32.4 31.8h1.5v0.9h-1.5zM7.7 30.3h0.9v0.6h-0.9zM4.3 27.3h1.3v1.1h-1.3zM26.3 3.0h0.7v0.7h-0.7zM30.9 11.3h0.7v0.7h-0.7zM21.7 23.1h0.8v0.6h-0.8zM16.6 29.6h0.8v0.7h-0.8zM19.5 18.2h0.8v0.6h-0.8zM22.5 10.3h1.4v0.9h-1.4zM26.4 6.1h1.0v0.6h-1.0zM22.4 17.8h1.3v1.1h-1.3zM11.8 7.2h0.8v0.6h-0.8zM19.3 32.9h1.0v1.0h-1.0zM32.5 15.5h1.4v0.9h-1.4z" fill="#fde28c"/><path d="M24.9 1.9h1.2v0.8h-1.2zM4.3 8.4h1.5v1.0h-1.5zM8.6 8.8h1.1v1.2h-1.1zM6.0 25.7h1.0v0.7h-1.0zM29.3 28.3h0.9v0.7h-0.9zM3.8 7.8h1.4v1.1h-1.4zM28.3 11.9h1.4v1.4h-1.4zM33.1 24.0h0.8v0.8h-0.8zM24.8 14.8h0.8v0.7h-0.8zM7.7 25.7h1.3v1.0h-1.3zM13.1 24.5h1.4v1.0h-1.4zM30.9 12.1h1.1v1.2h-1.1zM13.4 21.0h1.3v1.0h-1.3zM31.5 18.6h0.9v0.7h-0.9zM33.8 15.0h1.0v0.7h-1.0zM25.1 8.9h1.3v1.2h-1.3zM32.8 16.3h0.8v0.8h-0.8zM33.1 33.9h0.8v0.7h-0.8zM18.8 0.5h0.7v0.6h-0.7zM10.6 17.7h1.4v1.0h-1.4zM31.4 24.4h1.0v0.7h-1.0zM3.5 25.6h1.3v1.1h-1.3zM22.8 3.2h1.4v0.9h-1.4zM0.1 3.2h1.3v1.3h-1.3zM26.0 25.3h0.9v0.6h-0.9zM10.8 33.6h0.8v0.6h-0.8zM4.1 31.1h1.1v0.8h-1.1zM23.4 21.5h0.9v0.5h-0.9zM1.3 11.2h1.2v1.1h-1.2zM27.6 3.6h0.9v0.9h-0.9zM17.5 10.0h1.3v1.1h-1.3zM11.6 21.2h1.2v0.9h-1.2zM3.9 22.6h1.1v0.9h-1.1zM14.4 33.0h1.0v0.8h-1.0zM25.3 1.0h0.9v0.9h-0.9zM28.6 23.8h1.1v1.2h-1.1zM0.9 11.6h0.8v0.5h-0.8zM2.5 32.7h1.1v0.9h-1.1zM8.7 8.3h1.4v0.9h-1.4zM14.7 12.9h1.3v1.2h-1.3zM29.3 10.4h0.9v0.7h-0.9zM0.4 29.7h1.0v0.6h-1.0zM32.0 12.8h0.8v0.6h-0.8zM3.8 21.4h1.3v1.0h-1.3zM20.9 34.4h0.9v0.7h-0.9zM1.1 11.8h0.9v0.9h-0.9zM3.7 2.4h1.1v1.0h-1.1zM12.1 14.4h0.8v0.9h-0.8zM8.6 10.9h1.1v0.9h-1.1zM3.3 12.0h1.3v1.1h-1.3zM4.6 30.6h1.2v0.8h-1.2zM19.4 12.5h1.0v0.8h-1.0zM18.6 3.5h1.3v1.3h-1.3zM5.0 26.3h1.3v1.0h-1.3zM33.7 33.0h1.3v1.3h-1.3zM20.6 3.9h1.4v1.1h-1.4zM6.1 33.3h1.2v1.2h-1.2zM5.0 2.7h1.5v1.5h-1.5zM4.4 21.1h1.3v1.1h-1.3zM21.4 18.7h0.9v0.9h-0.9zM13.3 33.3h1.1v0.9h-1.1zM3.6 15.7h1.1v1.1h-1.1zM8.8 28.9h1.4v1.5h-1.4zM15.9 33.0h0.9v0.8h-0.9zM32.0 10.4h1.0v0.8h-1.0zM17.7 8.7h0.9v0.6h-0.9zM2.8 16.8h1.1v1.1h-1.1zM30.8 28.5h1.3v1.2h-1.3zM10.4 29.9h1.0v0.8h-1.0zM25.5 17.0h1.5v1.5h-1.5zM10.9 22.5h1.4v1.3h-1.4zM34.4 25.3h1.0v0.9h-1.0zM0.8 28.9h1.3v1.4h-1.3zM11.6 13.6h0.9v0.7h-0.9zM30.7 22.9h1.3v1.2h-1.3z" fill="#e35a4c"/></pattern>
<pattern id="spNI" patternUnits="userSpaceOnUse" width="36" height="36"><path d="M33.4 8.7h1.2v1.3h-1.2zM19.4 6.8h1.2v1.0h-1.2zM24.0 18.9h0.7v0.6h-0.7zM20.5 17.9h1.1v1.0h-1.1zM33.1 20.0h1.0v1.1h-1.0zM25.7 20.6h0.8v0.5h-0.8zM24.8 24.0h0.9v0.9h-0.9zM32.5 23.5h1.2v0.8h-1.2zM15.8 1.0h0.8v0.6h-0.8zM0.8 25.4h1.2v0.9h-1.2zM12.3 0.0h1.3v1.0h-1.3zM19.4 25.5h0.8v0.8h-0.8zM28.7 30.7h0.9v1.0h-0.9zM11.2 9.1h1.1v0.9h-1.1zM0.3 21.5h0.9v0.8h-0.9zM17.1 13.7h1.2v0.9h-1.2zM0.6 28.0h0.9v0.6h-0.9zM7.6 1.0h0.7v0.5h-0.7zM32.6 32.1h0.9v0.8h-0.9zM22.3 27.7h1.2v1.1h-1.2zM32.6 30.5h1.1v1.0h-1.1zM4.0 22.2h0.8v0.7h-0.8zM6.4 16.4h1.2v1.1h-1.2zM4.1 11.6h0.9v0.8h-0.9zM25.7 32.7h0.8v0.7h-0.8zM5.0 5.9h0.8v0.5h-0.8zM8.0 13.4h1.0v0.8h-1.0zM31.3 16.1h1.2v0.8h-1.2zM10.3 6.4h0.8v0.8h-0.8zM9.4 13.2h0.9v0.7h-0.9zM2.8 33.6h0.7v0.5h-0.7zM18.4 11.4h0.6v0.6h-0.6zM24.9 3.9h1.3v1.2h-1.3zM4.6 1.6h1.0v0.6h-1.0zM3.8 14.9h0.8v0.8h-0.8zM13.5 5.1h0.9v0.7h-0.9zM16.6 24.3h0.6v0.4h-0.6zM8.2 23.0h0.7v0.8h-0.7zM7.4 25.3h1.0v0.8h-1.0zM7.5 33.3h1.2v1.0h-1.2zM14.4 4.8h1.1v0.8h-1.1zM6.0 27.1h1.2v1.0h-1.2zM18.7 1.5h0.7v0.6h-0.7zM21.6 30.5h1.0v1.0h-1.0zM19.6 9.8h1.2v0.9h-1.2zM0.0 1.6h1.2v1.2h-1.2zM33.5 24.9h1.2v1.0h-1.2zM10.9 7.4h1.2v1.0h-1.2zM1.0 19.2h0.6v0.5h-0.6zM14.3 27.1h0.7v0.5h-0.7zM28.9 11.3h1.0v1.1h-1.0zM14.8 27.4h1.1v0.7h-1.1zM20.7 34.4h0.8v0.7h-0.8zM10.5 6.2h0.9v0.7h-0.9zM26.4 13.6h0.7v0.5h-0.7zM2.0 10.7h1.0v0.8h-1.0zM18.2 11.9h0.7v0.6h-0.7zM8.6 23.3h1.0v1.1h-1.0zM24.2 18.1h0.9v0.9h-0.9zM18.8 32.7h1.2v1.2h-1.2zM27.2 7.7h0.8v0.8h-0.8zM22.6 9.9h1.0v0.7h-1.0zM0.0 31.8h0.7v0.7h-0.7zM9.2 24.8h0.9v0.7h-0.9zM25.3 20.9h1.0v1.0h-1.0zM12.0 17.3h0.7v0.5h-0.7zM27.8 15.5h1.0v0.8h-1.0zM3.8 17.1h0.8v0.6h-0.8zM2.1 30.8h1.1v1.2h-1.1zM17.6 24.7h1.0v1.1h-1.0zM29.8 23.0h1.1v1.2h-1.1zM11.4 5.2h0.7v0.7h-0.7zM19.0 17.8h1.2v1.0h-1.2zM21.8 5.9h0.6v0.7h-0.6zM17.7 6.8h1.2v1.1h-1.2zM24.5 31.1h0.7v0.7h-0.7zM1.7 16.5h1.2v1.1h-1.2zM20.8 11.1h0.8v0.8h-0.8zM23.3 9.9h1.1v1.1h-1.1zM30.1 23.7h1.2v1.2h-1.2zM7.2 4.1h0.8v0.9h-0.8zM20.9 7.0h1.1v1.2h-1.1zM32.7 16.2h1.0v0.9h-1.0zM7.6 18.3h1.1v0.7h-1.1zM24.4 19.8h1.0v0.8h-1.0zM22.3 21.3h1.2v1.3h-1.2zM21.3 9.1h0.7v0.5h-0.7zM2.2 1.7h1.0v0.9h-1.0zM9.0 19.4h1.1v0.9h-1.1zM1.3 4.8h0.7v0.5h-0.7zM34.4 22.1h1.0v0.7h-1.0zM22.0 15.9h0.9v0.5h-0.9zM20.4 31.7h1.0v1.1h-1.0zM14.7 19.7h0.6v0.6h-0.6zM32.2 30.7h1.0v0.9h-1.0zM34.4 4.2h0.6v0.6h-0.6zM22.5 6.6h0.7v0.8h-0.7zM20.6 31.9h0.8v0.8h-0.8zM18.5 32.5h1.3v1.0h-1.3zM28.2 23.2h0.9v0.6h-0.9zM8.8 4.3h1.0v1.1h-1.0zM0.6 3.8h0.7v0.7h-0.7zM19.2 19.7h0.6v0.7h-0.6zM34.5 18.9h0.7v0.6h-0.7zM14.5 20.3h0.6v0.5h-0.6zM4.6 12.9h1.0v1.0h-1.0zM30.1 23.5h1.1v1.1h-1.1zM26.0 14.5h1.1v0.8h-1.1zM4.1 24.1h1.1v1.0h-1.1zM1.9 10.4h0.8v0.7h-0.8zM1.9 8.7h1.0v0.6h-1.0zM23.9 7.0h1.2v1.1h-1.2zM23.1 10.3h0.8v0.6h-0.8zM22.4 10.7h0.8v0.5h-0.8zM11.3 3.7h1.2v0.8h-1.2zM15.4 7.3h1.1v1.2h-1.1zM10.3 5.3h0.8v0.8h-0.8zM29.7 26.2h1.1v0.7h-1.1zM1.1 22.8h0.7v0.5h-0.7zM15.0 15.2h1.0v0.7h-1.0zM21.2 12.3h1.1v0.7h-1.1zM9.6 18.8h0.8v0.5h-0.8zM14.1 17.5h0.7v0.7h-0.7zM24.2 4.3h1.1v0.8h-1.1zM15.4 16.6h1.1v0.7h-1.1zM33.3 15.2h0.9v0.7h-0.9zM26.8 32.8h0.7v0.5h-0.7zM31.9 28.3h1.0v0.7h-1.0zM30.7 3.0h0.8v0.8h-0.8zM15.1 25.5h0.9v0.7h-0.9zM9.8 7.3h1.0v1.1h-1.0zM21.2 16.2h1.2v0.8h-1.2z" fill="#9fd899"/><path d="M16.1 4.3h0.7v0.5h-0.7zM18.7 33.9h1.3v1.0h-1.3zM0.4 12.1h1.0v0.7h-1.0zM3.6 26.0h1.0v0.7h-1.0zM9.5 13.0h1.0v0.8h-1.0zM23.5 31.2h0.9v0.7h-0.9zM9.3 19.5h1.1v0.9h-1.1zM29.5 13.8h0.9v0.9h-0.9zM22.2 34.4h0.8v0.5h-0.8zM22.1 6.4h0.6v0.5h-0.6zM28.2 24.3h1.2v0.9h-1.2zM0.4 18.2h0.8v0.5h-0.8zM5.8 16.0h0.7v0.7h-0.7zM20.9 29.7h1.2v0.9h-1.2zM29.2 34.4h1.0v0.6h-1.0zM27.5 18.8h1.1v0.7h-1.1zM13.2 14.0h1.1v0.9h-1.1zM8.2 14.8h1.1v1.0h-1.1zM11.2 23.8h1.0v1.1h-1.0zM2.3 27.9h0.8v0.7h-0.8zM31.2 3.5h1.0v0.9h-1.0zM30.6 26.8h0.9v0.6h-0.9zM13.5 22.0h0.6v0.6h-0.6zM29.5 9.0h1.0v0.8h-1.0zM1.6 30.7h1.2v1.1h-1.2zM4.0 0.5h1.2v1.0h-1.2zM24.7 5.2h1.2v0.9h-1.2zM16.9 13.4h1.2v0.8h-1.2zM20.0 14.5h1.3v1.4h-1.3zM26.3 25.1h0.9v0.8h-0.9zM15.6 7.1h0.7v0.7h-0.7zM18.7 26.7h0.8v0.5h-0.8zM28.7 10.7h1.3v0.8h-1.3zM21.0 25.4h1.1v0.9h-1.1zM32.1 18.3h1.0v0.9h-1.0zM19.8 3.5h1.1v1.0h-1.1zM30.6 13.4h0.6v0.4h-0.6zM25.7 23.7h0.9v0.8h-0.9zM20.3 0.4h0.8v0.7h-0.8zM26.8 25.4h0.7v0.6h-0.7zM20.4 19.6h0.8v0.6h-0.8zM27.7 7.4h0.9v0.7h-0.9zM13.3 7.3h0.7v0.7h-0.7zM15.6 34.1h0.9v0.7h-0.9zM13.7 7.8h0.7v0.6h-0.7zM6.0 20.8h0.8v0.8h-0.8zM2.7 7.3h1.0v1.0h-1.0zM15.1 19.4h0.7v0.6h-0.7zM16.0 10.8h0.8v0.6h-0.8zM23.0 1.0h0.6v0.5h-0.6zM26.2 19.2h1.3v1.1h-1.3zM29.0 20.4h0.7v0.6h-0.7zM7.3 15.2h1.2v1.2h-1.2zM6.9 30.7h1.1v0.8h-1.1zM28.0 4.8h1.0v1.0h-1.0zM14.6 28.5h0.9v0.6h-0.9zM24.2 24.0h1.2v1.3h-1.2zM12.7 5.7h0.7v0.7h-0.7zM11.1 1.9h0.7v0.5h-0.7zM23.8 23.9h0.9v0.8h-0.9zM5.2 3.2h0.9v0.8h-0.9zM20.0 14.2h0.9v0.6h-0.9zM31.0 30.7h0.8v0.7h-0.8zM16.4 10.5h0.6v0.5h-0.6zM31.9 1.7h1.2v1.0h-1.2zM33.2 4.0h1.1v1.0h-1.1zM13.5 26.2h0.7v0.5h-0.7zM25.6 10.1h0.6v0.6h-0.6zM11.9 4.0h0.9v0.8h-0.9zM29.4 34.1h1.1v1.1h-1.1zM5.0 25.5h1.1v0.7h-1.1zM32.4 0.7h1.1v0.9h-1.1zM27.0 11.2h1.1v1.0h-1.1zM27.9 31.8h1.0v0.7h-1.0zM1.8 23.3h0.9v0.7h-0.9zM6.5 14.9h1.1v1.1h-1.1zM28.3 2.2h1.0v0.9h-1.0zM20.6 30.7h1.0v0.7h-1.0zM29.9 4.5h0.9v0.5h-0.9zM16.0 33.5h0.9v0.7h-0.9zM29.3 0.6h0.7v0.5h-0.7zM24.4 20.2h1.0v0.6h-1.0zM20.0 3.8h1.3v0.8h-1.3zM22.8 23.5h0.8v0.6h-0.8zM25.6 5.5h0.7v0.7h-0.7zM20.4 27.4h1.0v0.8h-1.0zM18.7 5.2h0.7v0.7h-0.7zM1.5 12.9h1.2v1.0h-1.2zM6.4 34.3h1.1v1.2h-1.1zM5.0 19.2h0.9v1.0h-0.9zM3.0 5.3h1.0v0.9h-1.0zM16.3 21.9h1.1v1.0h-1.1zM19.8 23.7h0.7v0.6h-0.7zM24.8 28.6h0.9v0.7h-0.9zM18.0 13.4h1.2v0.9h-1.2zM5.9 3.1h0.9v0.9h-0.9z" fill="#fde28c"/><path d="M30.2 19.4h1.2v1.3h-1.2zM19.5 10.8h1.2v0.7h-1.2zM0.4 17.0h0.9v1.0h-0.9zM25.4 19.8h0.7v0.5h-0.7zM24.5 7.4h0.6v0.6h-0.6zM9.9 13.5h1.1v0.7h-1.1zM22.4 0.2h1.2v1.0h-1.2zM7.9 23.9h1.0v0.7h-1.0zM10.1 19.9h0.9v0.9h-0.9zM5.9 15.3h0.8v0.7h-0.8zM34.4 14.8h0.9v0.7h-0.9zM27.0 23.2h1.1v0.9h-1.1zM1.1 29.1h1.0v0.9h-1.0zM30.3 31.4h1.1v1.0h-1.1zM20.6 1.7h1.3v1.2h-1.3zM12.2 33.6h1.1v0.9h-1.1zM32.7 14.5h1.3v0.9h-1.3zM16.8 17.4h1.3v0.9h-1.3zM26.1 24.6h0.9v0.6h-0.9zM15.8 20.3h1.2v0.9h-1.2zM18.1 29.2h0.7v0.7h-0.7zM31.9 23.9h1.3v1.0h-1.3zM32.9 19.6h0.8v0.7h-0.8zM26.3 18.2h0.8v0.9h-0.8zM22.3 22.1h1.3v0.8h-1.3zM7.4 1.0h1.2v0.9h-1.2zM28.6 8.1h1.1v0.8h-1.1zM28.4 32.5h1.2v0.8h-1.2zM21.7 14.5h1.2v1.0h-1.2zM20.5 26.7h0.6v0.6h-0.6zM19.1 25.6h0.7v0.5h-0.7zM6.6 8.4h0.9v0.6h-0.9zM9.2 5.6h1.1v0.9h-1.1zM31.1 28.8h1.2v0.8h-1.2zM8.4 0.7h1.0v0.9h-1.0zM3.6 24.5h1.0v0.7h-1.0zM26.6 31.7h0.7v0.6h-0.7zM22.4 25.2h1.1v1.0h-1.1zM8.0 3.4h1.0v0.7h-1.0zM14.4 33.6h1.0v0.8h-1.0zM1.4 14.3h1.0v0.7h-1.0zM2.9 7.4h0.6v0.4h-0.6zM1.1 19.7h1.3v1.2h-1.3zM31.2 27.6h1.3v1.0h-1.3zM32.9 33.5h1.3v1.4h-1.3zM12.3 22.7h0.8v0.6h-0.8zM13.0 9.4h1.2v1.1h-1.2zM27.3 29.8h0.8v0.7h-0.8zM32.6 9.5h0.8v0.7h-0.8zM22.1 26.9h1.2v1.3h-1.2zM9.9 17.5h1.3v0.8h-1.3zM18.2 32.8h0.7v0.5h-0.7zM33.8 4.6h1.2v1.1h-1.2zM29.2 22.4h0.9v0.6h-0.9zM13.3 4.7h1.2v1.2h-1.2zM21.4 2.3h1.2v1.0h-1.2zM24.5 20.0h1.2v1.2h-1.2zM29.2 22.7h1.2v0.9h-1.2zM27.6 25.4h1.1v0.9h-1.1zM18.1 1.2h1.2v1.1h-1.2zM14.6 24.9h1.2v0.8h-1.2zM20.7 9.0h1.2v0.8h-1.2zM22.9 13.8h0.6v0.4h-0.6zM18.1 9.2h0.9v0.8h-0.9zM3.3 33.7h1.0v1.0h-1.0zM30.7 14.5h0.9v0.9h-0.9zM26.7 12.0h1.0v0.8h-1.0zM19.7 24.7h0.8v0.5h-0.8zM33.8 14.0h1.2v0.8h-1.2zM10.5 13.7h1.1v0.8h-1.1zM30.5 28.8h1.2v1.0h-1.2zM4.5 26.2h1.0v0.8h-1.0zM27.9 15.2h0.6v0.5h-0.6zM4.9 7.2h0.8v0.6h-0.8zM9.2 14.4h0.7v0.4h-0.7zM30.6 8.2h1.0v1.1h-1.0zM27.7 24.5h0.6v0.4h-0.6zM8.0 28.0h0.9v0.8h-0.9zM23.1 29.8h1.2v0.8h-1.2zM11.7 1.6h0.9v1.0h-0.9zM2.5 19.1h0.7v0.5h-0.7zM6.9 22.6h1.2v0.8h-1.2zM6.1 31.6h1.0v1.1h-1.0zM23.6 5.4h1.0v0.8h-1.0zM7.1 4.3h0.9v0.7h-0.9zM25.7 7.1h0.6v0.7h-0.6zM15.9 7.3h1.2v1.2h-1.2zM24.8 13.7h1.0v0.7h-1.0zM24.3 14.5h0.8v0.5h-0.8zM3.7 19.2h0.8v0.8h-0.8zM6.6 19.9h0.8v0.9h-0.8zM3.9 17.0h1.0v0.7h-1.0zM23.1 5.2h1.0v0.6h-1.0zM27.9 0.4h1.0v0.8h-1.0zM25.1 27.2h1.3v1.2h-1.3zM22.6 15.4h0.9v0.7h-0.9zM27.4 4.5h1.2v1.0h-1.2zM30.4 7.7h1.2v0.9h-1.2zM28.4 0.2h1.0v0.8h-1.0zM27.4 3.1h0.9v0.8h-0.9zM5.0 17.7h1.1v0.7h-1.1zM5.7 2.8h1.0v0.7h-1.0zM17.2 26.4h1.1v1.2h-1.1zM29.4 3.7h1.1v0.8h-1.1zM34.4 24.9h0.9v0.7h-0.9zM32.4 5.2h0.8v0.6h-0.8zM8.7 22.3h1.0v0.7h-1.0zM19.3 23.0h1.0v1.0h-1.0zM13.2 20.6h0.9v0.5h-0.9zM27.5 2.0h0.7v0.7h-0.7zM21.5 33.7h0.9v0.7h-0.9zM23.1 10.3h0.8v0.8h-0.8zM29.1 33.5h0.7v0.5h-0.7zM31.1 6.0h0.9v0.9h-0.9zM24.9 0.4h1.1v0.9h-1.1zM7.6 11.3h0.8v0.5h-0.8zM31.1 17.8h1.3v1.2h-1.3zM7.1 17.0h0.7v0.5h-0.7zM16.5 0.9h0.8v0.6h-0.8zM1.2 20.5h0.6v0.5h-0.6zM32.3 31.0h0.7v0.6h-0.7zM22.4 0.7h1.3v0.9h-1.3zM12.1 11.0h1.1v1.0h-1.1zM29.0 29.1h0.9v0.9h-0.9zM13.9 25.6h0.8v0.8h-0.8zM34.3 10.4h0.6v0.4h-0.6zM14.3 14.1h0.9v0.6h-0.9zM7.8 25.7h0.9v0.9h-0.9zM27.9 23.7h0.8v0.6h-0.8zM32.6 2.0h1.3v1.0h-1.3zM24.6 9.0h1.0v0.7h-1.0zM4.6 3.0h1.2v1.2h-1.2zM11.9 15.1h0.9v0.7h-0.9zM20.3 1.6h0.9v0.9h-0.9zM11.1 2.1h1.2v1.2h-1.2zM1.0 17.2h1.2v1.1h-1.2zM11.0 9.2h1.0v0.9h-1.0zM7.5 5.5h0.9v0.7h-0.9zM9.6 14.3h1.3v1.1h-1.3z" fill="#d4ee93"/><path d="M13.1 4.7h0.9v0.6h-0.9zM24.8 11.1h1.1v1.2h-1.1zM30.6 2.4h1.1v0.9h-1.1zM33.7 14.5h1.1v0.7h-1.1zM21.4 12.6h0.8v0.8h-0.8zM21.6 33.7h1.2v0.9h-1.2zM11.9 14.9h0.9v0.6h-0.9zM3.1 13.6h0.7v0.8h-0.7zM0.1 13.8h1.0v0.6h-1.0zM33.2 9.7h1.3v1.0h-1.3zM11.6 0.1h0.9v0.9h-0.9zM23.7 17.4h0.9v0.8h-0.9zM0.3 22.1h0.7v0.5h-0.7zM33.3 12.7h1.2v1.2h-1.2zM29.6 14.5h1.2v1.3h-1.2zM32.6 1.5h0.8v0.6h-0.8zM24.1 6.4h1.2v1.1h-1.2zM18.7 32.9h1.1v0.9h-1.1zM18.4 7.2h0.7v0.7h-0.7zM29.8 32.0h1.1v0.8h-1.1zM12.7 23.3h1.0v1.0h-1.0zM21.9 1.7h0.6v0.6h-0.6zM20.3 13.9h1.0v0.8h-1.0zM18.5 29.0h1.3v0.8h-1.3zM18.3 10.1h0.9v0.6h-0.9zM25.4 12.4h0.7v0.7h-0.7zM13.8 24.6h0.9v0.6h-0.9zM7.0 23.9h1.0v0.7h-1.0zM30.5 25.8h1.1v0.8h-1.1zM21.7 6.4h1.0v0.7h-1.0zM3.9 22.9h1.0v0.6h-1.0zM15.7 18.7h1.0v1.0h-1.0zM16.5 23.2h0.9v0.8h-0.9zM11.0 27.7h0.8v0.7h-0.8zM25.7 32.9h0.9v0.8h-0.9zM6.0 17.1h0.9v0.8h-0.9zM16.6 33.5h0.9v0.6h-0.9zM1.1 12.5h1.3v0.9h-1.3zM9.3 32.9h0.9v1.0h-0.9zM30.3 21.5h1.2v1.0h-1.2z" fill="#d7303e"/><path d="M22.0 31.9h0.6v0.6h-0.6zM16.5 34.4h0.7v0.5h-0.7zM31.8 2.2h1.2v1.3h-1.2zM19.3 9.1h0.8v0.8h-0.8zM19.1 18.0h0.8v0.7h-0.8zM18.6 19.6h1.1v0.9h-1.1zM22.7 16.7h1.1v1.2h-1.1zM3.9 10.7h0.7v0.6h-0.7zM18.8 32.0h0.6v0.7h-0.6zM34.1 27.3h1.0v0.9h-1.0zM1.5 20.0h1.1v0.7h-1.1zM31.9 23.8h0.7v0.6h-0.7zM16.5 9.8h1.0v1.0h-1.0zM22.3 23.4h0.8v0.5h-0.8zM23.8 17.7h1.2v1.1h-1.2zM19.1 26.7h0.7v0.4h-0.7zM33.3 2.9h1.1v1.0h-1.1zM24.9 31.3h1.2v1.3h-1.2zM27.2 20.5h0.8v0.8h-0.8zM23.7 26.3h0.7v0.5h-0.7zM29.3 14.3h1.3v1.3h-1.3zM31.3 34.4h1.1v1.2h-1.1zM15.7 4.9h0.9v0.6h-0.9zM31.0 1.9h0.6v0.7h-0.6zM15.9 31.6h0.7v0.6h-0.7zM23.8 15.9h1.0v1.0h-1.0zM29.3 4.7h1.0v0.8h-1.0zM0.6 32.5h0.7v0.7h-0.7zM14.8 20.7h0.6v0.4h-0.6zM31.3 3.3h1.0v0.9h-1.0zM7.8 25.8h0.9v1.0h-0.9zM13.8 8.6h1.0v0.8h-1.0zM0.0 30.9h0.6v0.5h-0.6zM20.4 8.3h0.9v0.6h-0.9zM32.8 26.3h1.2v1.3h-1.2zM13.6 25.9h0.8v0.6h-0.8zM19.5 32.1h0.8v0.8h-0.8zM21.1 14.1h1.1v0.8h-1.1zM29.8 12.6h0.8v0.9h-0.8zM14.2 30.2h1.2v1.2h-1.2zM4.5 22.4h1.0v0.8h-1.0zM7.9 5.4h1.0v1.0h-1.0zM5.1 20.5h1.1v1.0h-1.1zM18.5 12.1h0.9v0.7h-0.9zM28.9 33.6h1.2v1.2h-1.2zM9.2 30.7h1.0v0.8h-1.0zM21.3 2.0h1.0v1.0h-1.0zM16.3 23.3h0.9v0.8h-0.9zM17.5 31.9h1.1v0.9h-1.1zM9.9 13.6h0.9v0.6h-0.9zM8.8 6.7h0.7v0.7h-0.7zM27.7 20.9h1.1v1.0h-1.1zM17.1 31.0h0.8v0.8h-0.8zM0.3 19.6h1.1v0.9h-1.1zM29.4 6.4h0.6v0.4h-0.6zM31.3 2.8h0.9v0.8h-0.9zM33.2 15.0h1.0v0.9h-1.0zM26.4 3.5h1.0v0.7h-1.0zM20.6 13.6h1.2v0.9h-1.2zM29.4 24.8h0.8v0.6h-0.8zM14.6 34.3h0.6v0.5h-0.6zM18.3 6.1h0.8v0.5h-0.8zM24.3 4.9h0.9v0.6h-0.9zM25.7 8.7h1.2v1.0h-1.2zM30.3 0.8h0.9v0.7h-0.9zM32.4 21.9h1.2v1.2h-1.2zM8.3 1.7h0.7v0.7h-0.7zM27.3 0.5h0.7v0.5h-0.7zM8.1 3.0h0.7v0.5h-0.7zM7.6 7.0h0.6v0.4h-0.6zM11.4 3.5h1.3v1.1h-1.3zM5.7 5.9h0.8v0.7h-0.8zM11.8 17.5h0.6v0.5h-0.6zM13.1 15.5h0.6v0.4h-0.6zM21.2 6.9h1.0v0.9h-1.0zM6.2 30.8h0.9v1.0h-0.9zM9.4 34.3h1.3v1.0h-1.3zM13.3 24.8h1.2v1.1h-1.2zM9.6 19.8h1.0v0.7h-1.0zM11.5 8.3h1.2v1.0h-1.2zM15.3 28.8h0.7v0.4h-0.7zM33.8 27.3h0.6v0.4h-0.6zM17.5 34.2h0.6v0.5h-0.6zM4.6 4.2h0.9v0.7h-0.9zM16.6 0.4h0.9v0.8h-0.9zM17.1 0.5h0.6v0.7h-0.6zM32.2 17.5h1.2v0.9h-1.2zM23.0 33.6h1.2v0.9h-1.2zM34.5 3.4h1.0v0.9h-1.0zM16.1 15.4h0.9v0.6h-0.9zM11.1 18.2h1.3v1.1h-1.3zM26.0 27.7h1.3v1.4h-1.3zM2.6 18.7h1.0v0.7h-1.0zM1.9 26.1h1.3v1.2h-1.3zM11.2 16.7h0.6v0.5h-0.6zM12.5 18.0h1.0v1.1h-1.0zM25.6 5.8h1.2v0.9h-1.2zM4.6 10.8h1.3v1.0h-1.3zM3.0 30.0h0.8v0.6h-0.8zM16.6 11.4h1.2v1.3h-1.2zM26.5 19.0h0.8v0.5h-0.8zM31.0 34.0h0.7v0.6h-0.7zM9.2 32.5h1.2v1.3h-1.2zM14.7 20.1h1.3v0.8h-1.3zM13.7 2.2h1.1v1.2h-1.1zM2.4 3.5h0.8v0.7h-0.8zM29.2 28.0h1.1v0.7h-1.1zM26.1 10.1h1.1v1.0h-1.1zM30.6 32.0h1.3v1.4h-1.3zM22.4 17.9h0.9v0.9h-0.9zM34.0 5.7h1.2v1.0h-1.2zM26.5 24.7h0.6v0.7h-0.6zM4.8 23.4h1.3v0.8h-1.3zM0.6 0.7h1.1v1.2h-1.1zM14.0 11.1h0.7v0.7h-0.7zM22.6 4.5h0.7v0.8h-0.7zM5.3 0.5h1.2v0.8h-1.2zM0.3 19.9h1.0v0.8h-1.0zM20.2 13.9h0.9v1.0h-0.9zM16.9 1.9h0.7v0.5h-0.7zM19.3 20.9h1.0v0.9h-1.0zM27.8 5.4h1.0v0.7h-1.0zM6.4 32.6h1.2v0.9h-1.2zM30.8 31.7h1.1v1.1h-1.1zM5.6 14.9h0.7v0.6h-0.7zM11.0 1.7h0.8v0.8h-0.8zM33.2 19.9h1.0v0.7h-1.0zM15.3 28.7h1.1v0.9h-1.1zM2.8 7.9h1.2v0.8h-1.2zM10.2 15.2h1.1v0.8h-1.1zM20.1 17.6h1.3v1.4h-1.3zM27.4 10.6h1.1v0.9h-1.1zM23.0 8.9h0.7v0.6h-0.7zM26.3 7.5h1.2v1.1h-1.2zM4.5 16.3h0.8v0.6h-0.8zM23.0 14.7h0.7v0.8h-0.7zM16.0 12.2h1.1v0.7h-1.1zM30.3 22.1h1.3v1.1h-1.3zM19.1 23.0h0.9v0.6h-0.9zM30.4 8.9h0.9v0.7h-0.9zM34.1 32.3h0.9v0.9h-0.9zM20.1 6.6h1.1v1.0h-1.1zM28.0 26.4h0.6v0.5h-0.6zM33.1 11.0h1.0v0.7h-1.0zM21.1 17.4h0.7v0.4h-0.7zM29.1 21.3h1.2v1.0h-1.2zM3.4 27.8h0.6v0.5h-0.6zM31.8 25.9h0.8v0.6h-0.8zM12.1 16.0h1.1v0.9h-1.1zM21.8 14.0h0.9v1.0h-0.9zM28.0 27.3h0.6v0.4h-0.6zM10.8 12.1h0.8v0.7h-0.8zM7.4 19.1h1.1v1.1h-1.1zM6.5 1.2h0.6v0.4h-0.6zM11.5 27.5h1.0v0.7h-1.0zM15.4 32.1h0.9v1.0h-0.9zM14.3 33.4h1.0v0.9h-1.0zM16.6 21.0h1.3v0.8h-1.3zM20.5 17.3h0.8v0.7h-0.8zM15.4 1.9h1.0v0.6h-1.0z" fill="#e9f59c"/><path d="M28.0 27.4h0.9v0.8h-0.9zM15.1 15.6h0.9v0.7h-0.9zM12.5 14.5h0.9v0.7h-0.9zM10.7 8.7h0.6v0.4h-0.6zM14.2 33.9h1.2v0.9h-1.2zM13.1 8.8h0.6v0.4h-0.6zM32.4 24.0h0.7v0.5h-0.7zM15.7 10.1h0.9v0.6h-0.9zM33.3 33.3h0.9v1.0h-0.9zM19.5 21.3h0.7v0.7h-0.7zM24.0 13.3h1.3v1.3h-1.3zM0.9 20.2h1.2v1.1h-1.2zM18.4 12.1h0.9v0.8h-0.9zM22.6 0.4h0.9v0.9h-0.9zM23.4 9.9h0.7v0.5h-0.7zM18.0 17.7h0.8v0.6h-0.8zM3.7 23.7h0.7v0.7h-0.7zM2.5 31.5h1.2v0.7h-1.2zM10.1 27.6h1.0v0.7h-1.0zM11.5 32.4h0.8v0.8h-0.8zM9.3 30.9h1.2v0.8h-1.2zM22.8 10.3h0.7v0.7h-0.7zM31.0 12.5h0.8v0.7h-0.8zM32.3 6.3h1.1v0.7h-1.1zM23.4 8.9h1.2v0.7h-1.2zM13.1 29.5h0.8v0.6h-0.8zM6.9 2.7h1.0v0.7h-1.0zM25.7 11.2h1.0v0.8h-1.0zM21.3 32.2h0.9v0.6h-0.9zM20.4 8.5h0.8v0.8h-0.8zM18.2 25.2h1.2v1.1h-1.2zM22.5 0.0h1.0v1.0h-1.0zM26.7 1.4h1.1v1.0h-1.1zM29.2 16.3h0.6v0.5h-0.6zM30.2 27.2h0.7v0.7h-0.7zM28.5 13.2h1.1v0.7h-1.1zM10.2 27.3h0.9v0.6h-0.9zM24.2 5.3h0.8v0.6h-0.8zM22.9 34.4h1.3v1.3h-1.3zM1.0 13.1h1.1v0.9h-1.1zM10.3 32.9h0.8v0.6h-0.8zM16.5 9.2h1.0v0.7h-1.0z" fill="#f59a5a"/><path d="M0.7 8.2h0.8v0.8h-0.8zM33.6 27.8h0.6v0.5h-0.6zM1.7 16.8h0.7v0.7h-0.7zM27.3 33.3h1.1v0.9h-1.1zM4.8 5.7h1.2v1.2h-1.2zM32.4 26.8h0.9v0.7h-0.9zM13.2 17.2h0.8v0.5h-0.8zM0.3 33.4h1.0v0.8h-1.0zM5.9 10.0h0.9v0.8h-0.9zM30.2 27.3h0.9v0.7h-0.9zM23.0 3.3h0.7v0.7h-0.7zM1.6 4.0h1.1v0.7h-1.1zM3.7 21.8h1.1v0.7h-1.1zM1.8 16.5h1.0v0.8h-1.0zM10.8 33.0h1.0v1.1h-1.0zM11.0 2.1h0.7v0.8h-0.7zM12.7 23.5h0.7v0.6h-0.7zM28.2 22.6h1.2v1.0h-1.2zM10.2 15.5h1.3v1.0h-1.3zM17.5 33.4h1.2v1.0h-1.2zM12.1 20.2h0.8v0.6h-0.8zM20.4 28.6h1.0v0.8h-1.0zM19.5 4.7h1.0v1.0h-1.0zM15.0 15.5h0.7v0.5h-0.7zM27.7 19.7h0.8v0.5h-0.8zM1.8 14.2h0.9v0.8h-0.9zM23.0 10.3h0.9v1.0h-0.9zM14.9 31.7h1.2v0.9h-1.2zM26.9 6.7h0.9v1.0h-0.9zM21.5 11.8h1.1v0.7h-1.1zM12.6 18.6h1.1v0.8h-1.1zM17.8 15.5h1.3v1.3h-1.3zM13.1 19.3h1.2v1.1h-1.2zM29.0 11.4h1.2v1.1h-1.2zM0.1 27.6h0.7v0.6h-0.7zM25.7 21.9h0.6v0.4h-0.6zM24.1 29.0h1.0v0.9h-1.0zM18.3 6.5h0.7v0.5h-0.7zM27.9 26.4h0.7v0.8h-0.7zM2.5 0.8h1.2v0.9h-1.2zM27.0 34.4h0.8v0.7h-0.8zM8.4 26.6h0.7v0.5h-0.7zM15.1 27.3h0.9v0.6h-0.9zM29.7 17.0h0.6v0.4h-0.6zM18.7 30.5h1.3v0.9h-1.3zM6.8 17.5h1.2v1.1h-1.2zM33.9 26.1h0.8v0.9h-0.8zM23.8 28.9h1.1v0.8h-1.1zM19.9 9.2h0.7v0.7h-0.7zM26.8 23.1h1.0v1.0h-1.0zM31.7 33.3h0.8v0.8h-0.8zM31.6 3.9h1.0v0.9h-1.0zM6.7 22.4h1.0v0.9h-1.0zM19.0 34.0h0.9v0.7h-0.9zM19.8 12.4h0.8v0.6h-0.8zM5.4 31.7h0.7v0.7h-0.7zM22.3 29.4h1.0v1.1h-1.0zM10.4 10.5h0.6v0.5h-0.6zM21.3 22.2h0.9v0.9h-0.9zM16.4 14.7h1.1v0.7h-1.1zM9.9 0.9h1.1v0.9h-1.1zM4.6 8.8h0.8v0.8h-0.8zM0.5 25.1h1.0v0.6h-1.0zM6.5 34.5h1.3v1.0h-1.3zM20.7 7.2h1.3v1.3h-1.3zM32.5 6.1h0.7v0.5h-0.7zM15.5 26.8h1.1v1.2h-1.1zM8.0 24.4h1.0v0.7h-1.0zM14.0 9.0h1.1v1.2h-1.1zM18.0 33.1h0.7v0.6h-0.7zM1.4 7.1h0.7v0.7h-0.7zM13.3 23.1h1.2v0.9h-1.2zM32.9 1.1h0.6v0.5h-0.6zM18.8 32.6h0.8v0.5h-0.8zM2.8 9.7h0.9v1.0h-0.9zM7.6 11.9h1.0v0.8h-1.0zM16.8 3.0h0.7v0.7h-0.7zM33.6 33.7h0.9v0.8h-0.9zM23.9 15.3h0.7v0.7h-0.7zM2.6 26.8h0.9v0.8h-0.9zM30.4 14.1h1.2v1.0h-1.2z" fill="#6aaed0"/><path d="M16.3 33.2h1.3v0.9h-1.3zM14.2 0.9h0.9v0.8h-0.9zM28.5 31.7h1.3v1.1h-1.3zM16.5 19.4h1.2v1.0h-1.2zM25.4 11.6h1.1v0.9h-1.1zM24.8 26.0h0.9v0.6h-0.9zM7.5 17.2h1.0v0.8h-1.0zM25.5 21.5h1.2v0.8h-1.2zM15.4 18.5h1.3v1.4h-1.3zM6.8 11.0h0.7v0.5h-0.7zM8.8 13.9h0.9v0.9h-0.9zM13.1 24.2h1.1v0.9h-1.1zM23.0 21.8h1.0v0.8h-1.0zM18.9 33.1h1.3v1.2h-1.3zM15.9 24.8h1.3v1.3h-1.3zM28.7 14.6h0.9v0.6h-0.9zM27.4 30.8h1.0v1.0h-1.0zM23.9 12.6h0.7v0.6h-0.7zM12.8 7.7h0.6v0.7h-0.6zM28.5 23.9h1.2v1.3h-1.2zM13.2 9.6h0.6v0.6h-0.6zM18.3 34.2h1.2v1.3h-1.2zM27.2 25.3h1.1v0.7h-1.1zM14.8 12.9h1.1v0.8h-1.1zM20.7 30.5h0.8v0.7h-0.8zM11.2 1.9h0.9v1.0h-0.9zM22.0 32.7h1.3v1.2h-1.3zM15.3 29.3h0.8v0.6h-0.8zM6.8 11.7h1.3v0.8h-1.3zM2.3 23.4h0.8v0.8h-0.8zM15.6 27.0h1.2v1.3h-1.2zM23.3 24.7h1.2v0.8h-1.2zM24.3 21.0h0.7v0.6h-0.7zM18.0 24.5h1.3v1.2h-1.3zM15.4 7.3h0.6v0.6h-0.6zM11.9 2.7h1.0v0.9h-1.0zM24.6 34.1h0.6v0.6h-0.6zM27.6 23.7h0.9v0.7h-0.9zM5.3 7.1h1.0v0.7h-1.0zM27.4 13.3h1.2v1.2h-1.2zM12.9 19.2h1.1v1.0h-1.1zM17.7 22.3h0.8v0.7h-0.8zM17.9 15.2h1.3v1.3h-1.3zM0.5 30.0h0.6v0.7h-0.6zM32.4 30.2h0.7v0.7h-0.7zM20.4 9.8h1.1v1.1h-1.1zM13.8 21.2h0.8v0.5h-0.8zM31.6 21.7h1.1v1.0h-1.1zM25.5 2.3h1.0v1.1h-1.0zM6.3 1.2h1.0v0.8h-1.0zM13.0 5.8h1.1v1.2h-1.1zM28.3 11.6h1.2v1.0h-1.2zM32.7 7.9h0.7v0.7h-0.7zM4.5 12.5h0.8v0.6h-0.8zM12.5 21.7h1.1v0.9h-1.1zM7.9 1.6h1.2v1.1h-1.2zM1.1 7.7h0.9v1.0h-0.9zM24.0 4.8h1.2v1.3h-1.2zM3.0 1.4h0.8v0.7h-0.8zM17.6 18.6h1.1v1.1h-1.1z" fill="#fbb871"/></pattern>
<pattern id="spDI" patternUnits="userSpaceOnUse" width="36" height="36"><path d="M31.9 14.5h1.2v1.2h-1.2zM5.3 24.1h0.7v0.6h-0.7zM28.8 18.9h1.1v1.1h-1.1zM5.7 18.2h1.1v1.0h-1.1zM10.4 17.2h0.7v0.5h-0.7zM3.9 27.7h0.6v0.4h-0.6zM18.7 15.5h1.0v1.0h-1.0zM2.9 15.9h0.7v0.6h-0.7zM28.1 32.2h1.2v0.7h-1.2zM6.4 20.3h0.7v0.5h-0.7zM33.3 23.2h1.1v1.1h-1.1zM19.3 15.4h1.1v0.9h-1.1zM3.8 9.0h0.8v0.8h-0.8zM20.4 19.4h1.1v0.8h-1.1zM7.2 14.1h1.3v1.1h-1.3zM26.8 10.1h1.0v1.0h-1.0zM12.7 20.6h0.6v0.7h-0.6zM2.9 21.7h0.9v0.6h-0.9zM12.8 30.5h1.0v0.8h-1.0zM15.2 2.3h0.8v0.7h-0.8zM26.6 29.4h1.0v0.6h-1.0zM0.6 29.1h0.8v0.6h-0.8zM32.5 30.3h1.0v0.8h-1.0zM18.3 14.4h1.3v1.3h-1.3zM8.0 25.7h1.0v0.8h-1.0zM8.3 12.7h1.2v1.1h-1.2zM13.8 30.9h1.1v1.1h-1.1zM18.0 29.3h0.7v0.7h-0.7zM22.3 24.3h1.2v1.3h-1.2zM27.2 26.2h0.8v0.8h-0.8zM12.9 7.3h0.6v0.4h-0.6zM19.2 9.4h1.2v0.8h-1.2zM11.9 11.8h1.0v0.8h-1.0zM4.6 22.5h1.1v0.6h-1.1zM24.3 22.5h1.2v0.8h-1.2zM8.9 28.7h0.9v0.8h-0.9zM31.9 1.2h1.1v1.2h-1.1zM4.0 28.5h1.1v0.8h-1.1zM31.8 27.4h1.1v0.8h-1.1zM22.9 28.0h1.2v0.8h-1.2zM1.8 17.6h0.7v0.6h-0.7zM34.2 4.1h0.7v0.6h-0.7zM26.5 19.2h0.7v0.5h-0.7zM10.4 11.7h1.2v0.8h-1.2zM23.6 21.6h1.1v1.1h-1.1zM16.7 32.0h0.9v0.6h-0.9zM34.0 11.4h1.0v0.8h-1.0zM2.4 26.3h1.1v1.1h-1.1zM16.8 32.1h1.1v0.8h-1.1zM32.5 29.4h1.3v1.1h-1.3zM32.0 25.7h1.3v0.8h-1.3zM16.7 16.3h1.2v1.0h-1.2zM31.6 27.3h1.1v0.9h-1.1zM3.3 8.7h1.2v1.0h-1.2zM22.4 29.2h1.3v0.9h-1.3zM33.3 24.5h0.8v0.7h-0.8zM13.9 10.2h1.0v0.6h-1.0zM11.5 11.2h0.6v0.6h-0.6zM31.2 26.7h1.0v0.8h-1.0zM20.4 34.2h1.1v1.1h-1.1zM2.6 27.3h1.0v0.8h-1.0zM18.5 0.3h1.1v1.2h-1.1zM7.9 15.9h1.2v1.0h-1.2zM8.0 16.5h1.3v0.9h-1.3zM32.9 11.3h1.2v0.7h-1.2zM24.3 28.6h1.2v0.9h-1.2zM29.8 26.4h1.0v0.8h-1.0zM13.3 12.6h0.6v0.7h-0.6zM18.2 3.5h0.8v0.7h-0.8zM29.7 9.6h1.2v0.9h-1.2zM15.5 19.9h0.8v0.8h-0.8zM17.3 18.0h0.7v0.5h-0.7zM18.8 10.5h1.2v0.8h-1.2zM4.2 21.1h1.2v1.1h-1.2zM1.5 10.5h0.9v0.9h-0.9zM25.1 27.4h1.0v1.0h-1.0zM14.4 32.3h1.3v1.4h-1.3zM31.3 21.3h1.0v0.6h-1.0zM10.0 0.4h1.2v0.9h-1.2zM33.6 14.3h0.8v0.6h-0.8zM9.1 28.0h0.9v0.9h-0.9zM26.0 19.2h1.0v0.6h-1.0zM6.8 7.6h1.3v1.3h-1.3zM2.6 10.4h0.7v0.6h-0.7zM8.2 7.3h0.8v0.5h-0.8zM22.6 30.7h1.2v0.8h-1.2zM27.4 23.6h0.9v0.6h-0.9zM22.6 27.7h0.7v0.5h-0.7zM14.8 3.7h1.1v0.8h-1.1zM0.2 24.4h0.7v0.5h-0.7zM17.1 1.2h1.1v1.1h-1.1zM7.3 27.8h0.8v0.8h-0.8zM23.6 8.1h1.3v0.8h-1.3zM9.8 18.7h0.9v0.7h-0.9zM9.7 24.7h0.8v0.6h-0.8zM28.5 15.6h0.9v0.7h-0.9zM6.8 3.6h1.1v1.0h-1.1zM15.6 7.5h1.0v1.0h-1.0zM2.8 16.5h1.3v1.2h-1.3zM3.7 23.9h0.6v0.7h-0.6zM12.7 21.4h0.9v0.7h-0.9zM0.1 17.7h1.1v0.8h-1.1zM17.8 28.1h1.3v1.4h-1.3zM4.2 10.6h1.1v0.9h-1.1zM3.3 23.7h0.9v1.0h-0.9zM5.1 14.1h0.8v0.6h-0.8zM8.1 15.9h0.9v0.7h-0.9zM32.8 30.9h1.2v1.0h-1.2zM12.9 17.1h1.0v0.8h-1.0zM7.6 33.0h1.3v1.0h-1.3zM26.6 29.6h0.8v0.7h-0.8zM29.4 6.4h1.0v0.7h-1.0zM5.8 27.4h0.7v0.6h-0.7zM16.3 21.1h1.0v0.7h-1.0zM2.7 13.9h1.2v1.2h-1.2zM19.7 17.3h1.2v1.1h-1.2zM12.1 5.0h0.8v0.7h-0.8zM29.4 17.5h1.1v1.1h-1.1zM18.4 10.3h1.0v0.8h-1.0zM15.6 21.3h1.1v0.7h-1.1zM15.8 23.7h1.1v1.0h-1.1zM22.7 26.0h0.9v0.7h-0.9zM19.1 21.5h0.7v0.4h-0.7zM7.6 13.7h1.3v0.9h-1.3zM0.8 12.7h0.8v0.7h-0.8zM30.8 32.0h1.0v0.6h-1.0zM12.0 30.0h1.0v0.8h-1.0zM6.0 8.8h0.7v0.6h-0.7zM32.3 19.9h1.0v1.0h-1.0zM16.5 14.2h1.1v1.0h-1.1zM25.1 24.9h1.0v0.9h-1.0zM7.1 11.5h1.2v1.2h-1.2zM26.3 27.8h1.2v1.0h-1.2zM21.7 16.5h1.2v0.8h-1.2zM24.9 27.1h0.8v0.6h-0.8zM32.9 24.9h1.0v0.8h-1.0zM2.6 33.4h0.7v0.6h-0.7zM25.5 8.5h1.1v0.9h-1.1zM30.8 15.3h0.8v0.6h-0.8zM13.4 23.6h1.2v1.2h-1.2zM12.3 3.8h1.0v0.6h-1.0zM13.3 16.5h1.2v0.8h-1.2zM31.1 4.8h0.7v0.7h-0.7zM3.4 11.1h1.2v1.2h-1.2zM32.6 23.0h0.9v1.0h-0.9zM7.2 24.7h1.1v0.8h-1.1zM27.9 31.8h1.0v1.0h-1.0zM21.7 7.5h0.8v0.7h-0.8z" fill="#f59a5a"/><path d="M10.3 32.4h1.2v1.1h-1.2zM0.5 27.4h0.9v0.7h-0.9zM22.9 27.3h1.3v1.2h-1.3zM24.0 30.5h0.9v1.0h-0.9zM21.9 29.7h0.7v0.6h-0.7zM27.5 30.2h0.6v0.6h-0.6zM4.8 0.4h0.7v0.6h-0.7zM24.1 29.8h1.1v0.7h-1.1zM17.8 29.3h0.8v0.9h-0.8zM28.5 8.5h0.9v0.5h-0.9zM6.5 4.0h1.2v0.9h-1.2zM19.8 6.4h0.8v0.5h-0.8zM27.7 8.2h1.0v1.0h-1.0zM23.0 15.1h1.1v1.1h-1.1zM6.9 28.4h0.6v0.5h-0.6zM11.1 28.1h1.0v0.7h-1.0zM11.2 18.8h1.1v0.7h-1.1zM17.9 26.2h0.7v0.5h-0.7zM4.4 6.9h0.9v0.9h-0.9zM4.8 27.5h1.1v0.8h-1.1zM18.9 23.1h1.3v1.2h-1.3zM22.8 19.2h1.0v0.6h-1.0zM23.8 25.8h0.8v0.5h-0.8zM3.6 31.6h1.0v0.9h-1.0zM3.8 17.9h1.2v1.2h-1.2zM2.9 13.4h0.8v0.8h-0.8zM3.2 21.7h1.2v0.9h-1.2zM33.8 29.1h1.1v0.8h-1.1zM14.4 19.5h1.0v0.8h-1.0zM7.7 23.4h1.0v1.1h-1.0zM9.6 32.6h0.9v0.6h-0.9zM1.9 14.0h0.7v0.8h-0.7zM0.6 29.1h1.3v0.8h-1.3zM14.0 20.5h0.9v0.8h-0.9zM15.0 32.1h1.1v0.8h-1.1zM0.9 26.2h0.7v0.7h-0.7zM21.0 29.2h0.8v0.7h-0.8zM26.7 9.5h1.1v0.8h-1.1zM25.1 20.3h1.1v0.7h-1.1zM1.4 16.7h0.9v0.7h-0.9zM18.2 15.8h0.9v0.8h-0.9zM26.9 5.3h0.9v0.7h-0.9zM1.9 15.4h1.2v0.8h-1.2zM19.6 2.0h0.9v0.6h-0.9zM1.8 2.3h0.8v0.5h-0.8zM26.4 0.2h0.7v0.7h-0.7zM19.8 30.8h0.7v0.6h-0.7zM12.3 17.0h0.6v0.5h-0.6zM16.2 7.0h1.0v1.0h-1.0zM29.7 10.2h1.2v0.9h-1.2zM7.4 28.5h1.2v1.1h-1.2zM2.1 30.1h1.2v1.0h-1.2zM23.7 15.7h1.0v0.7h-1.0zM11.1 10.2h0.8v0.7h-0.8zM16.9 27.3h1.2v0.9h-1.2zM24.3 14.8h1.0v0.9h-1.0zM27.8 21.3h0.8v0.7h-0.8zM12.5 33.6h0.6v0.4h-0.6zM3.3 1.4h0.9v0.9h-0.9zM0.9 22.9h0.8v0.8h-0.8zM16.6 17.9h1.2v0.9h-1.2zM17.0 2.5h1.3v1.2h-1.3zM0.9 28.3h0.8v0.8h-0.8zM22.5 30.0h1.1v1.0h-1.1zM12.7 18.3h1.1v0.7h-1.1zM22.3 27.1h1.1v0.8h-1.1zM14.8 27.3h0.9v0.7h-0.9zM6.4 13.5h1.0v0.9h-1.0zM1.4 11.0h0.8v0.6h-0.8zM14.0 27.4h0.7v0.8h-0.7zM28.3 19.2h1.1v0.7h-1.1zM23.9 18.3h1.3v0.8h-1.3zM22.9 25.2h1.0v0.9h-1.0zM29.0 7.7h1.1v1.2h-1.1zM23.7 17.8h0.9v0.5h-0.9zM11.9 6.4h1.2v1.3h-1.2zM16.8 8.3h0.9v0.9h-0.9zM20.8 12.8h1.1v0.8h-1.1zM11.2 27.1h0.7v0.5h-0.7zM18.5 9.9h0.8v0.6h-0.8zM5.1 5.0h1.2v0.8h-1.2zM30.8 29.8h1.0v0.9h-1.0zM28.2 11.2h0.6v0.6h-0.6zM18.3 12.3h1.2v1.3h-1.2zM5.7 17.2h1.1v0.7h-1.1zM30.8 30.7h1.3v0.9h-1.3zM22.9 9.6h0.7v0.6h-0.7zM17.9 21.3h1.1v0.7h-1.1zM30.2 5.5h0.7v0.7h-0.7zM2.2 24.2h0.7v0.4h-0.7zM5.7 13.2h1.3v1.0h-1.3zM21.1 4.4h1.0v0.8h-1.0zM34.1 3.9h0.6v0.5h-0.6zM13.6 12.7h0.8v0.7h-0.8zM31.3 32.1h1.1v1.2h-1.1zM0.7 5.2h0.8v0.8h-0.8zM26.3 23.1h0.7v0.7h-0.7zM2.4 1.3h1.1v1.0h-1.1zM31.3 1.1h1.1v0.7h-1.1zM23.9 19.0h1.3v0.8h-1.3zM33.4 3.4h0.9v0.9h-0.9zM18.7 23.2h1.3v1.2h-1.3zM23.0 27.4h0.8v0.5h-0.8zM9.8 31.1h1.0v0.8h-1.0zM34.2 4.5h0.7v0.6h-0.7zM1.0 32.2h0.8v0.8h-0.8zM10.2 8.0h1.3v0.9h-1.3zM30.3 6.0h1.2v1.0h-1.2zM30.2 18.6h1.1v1.0h-1.1zM27.2 10.2h1.1v1.1h-1.1zM11.9 32.4h0.9v0.6h-0.9zM10.5 26.5h0.9v0.7h-0.9zM6.4 23.5h1.0v0.7h-1.0zM11.3 12.9h0.6v0.4h-0.6zM22.2 2.3h0.7v0.7h-0.7zM18.6 31.0h1.1v0.8h-1.1z" fill="#fbb871"/><path d="M4.7 11.3h0.9v0.7h-0.9zM24.7 14.8h1.1v1.0h-1.1zM0.8 12.1h0.7v0.7h-0.7zM11.2 31.8h0.9v0.9h-0.9zM23.6 24.2h1.1v0.7h-1.1zM17.5 13.9h1.1v0.7h-1.1zM22.4 34.4h0.8v0.6h-0.8zM29.3 5.7h1.1v0.8h-1.1zM22.0 13.2h1.1v1.1h-1.1zM6.2 7.8h0.8v0.6h-0.8zM16.2 32.0h1.3v1.2h-1.3zM28.4 17.0h0.6v0.4h-0.6zM4.6 26.8h0.6v0.6h-0.6zM16.2 30.2h1.3v0.9h-1.3zM28.7 18.9h1.1v1.1h-1.1zM16.7 22.4h1.2v0.8h-1.2zM8.4 4.6h1.3v1.0h-1.3zM17.6 0.1h0.9v0.9h-0.9zM30.0 20.1h1.0v0.6h-1.0zM23.2 4.7h1.0v1.0h-1.0zM6.5 16.6h1.1v0.9h-1.1zM21.0 31.3h0.9v0.7h-0.9zM31.8 14.3h0.9v0.7h-0.9zM18.3 16.5h0.8v0.6h-0.8zM20.1 15.6h0.9v0.7h-0.9zM12.2 20.9h0.7v0.6h-0.7zM10.7 17.2h1.0v0.9h-1.0zM23.9 5.7h1.2v1.2h-1.2zM18.3 18.5h0.8v0.7h-0.8zM9.0 3.1h0.7v0.4h-0.7zM3.1 31.6h0.6v0.6h-0.6zM4.2 9.4h0.7v0.7h-0.7zM14.4 1.6h1.0v0.6h-1.0zM23.3 33.7h0.7v0.6h-0.7zM30.1 22.7h0.8v0.8h-0.8zM26.8 8.5h1.1v1.0h-1.1zM4.3 11.7h0.8v0.7h-0.8zM10.5 8.5h1.2v1.1h-1.2zM0.0 34.3h1.1v0.8h-1.1zM27.1 20.0h0.7v0.7h-0.7zM28.3 7.9h1.0v0.8h-1.0zM19.7 1.3h0.8v0.7h-0.8zM26.7 31.8h1.0v0.9h-1.0zM30.8 25.7h0.9v0.7h-0.9zM16.0 7.7h0.7v0.7h-0.7zM30.3 9.0h0.9v0.6h-0.9zM15.9 10.9h0.7v0.6h-0.7zM31.6 22.2h0.8v0.5h-0.8zM33.3 16.4h1.3v1.3h-1.3zM0.2 30.3h0.6v0.4h-0.6zM22.4 10.1h0.8v0.8h-0.8zM5.4 20.1h1.1v1.1h-1.1zM20.7 0.1h0.8v0.6h-0.8zM21.4 28.0h0.9v0.8h-0.9zM0.3 12.6h0.7v0.7h-0.7zM14.9 0.4h1.3v0.8h-1.3zM23.6 26.7h0.8v0.8h-0.8zM6.8 5.7h0.7v0.7h-0.7zM21.4 16.1h1.0v1.0h-1.0zM3.0 15.9h0.9v0.6h-0.9zM14.4 26.3h1.0v0.8h-1.0zM33.3 32.4h1.3v1.1h-1.3zM29.5 30.0h1.0v1.0h-1.0zM8.0 34.2h1.2v1.0h-1.2zM2.0 12.5h0.8v0.8h-0.8zM1.9 17.8h0.7v0.6h-0.7zM11.8 28.9h1.2v0.9h-1.2zM28.5 5.6h0.7v0.8h-0.7zM18.1 9.9h1.3v1.1h-1.3zM15.3 8.4h1.3v1.0h-1.3zM29.4 28.2h1.2v1.3h-1.2zM24.9 17.2h1.2v1.3h-1.2zM14.5 31.1h1.2v0.8h-1.2zM8.3 32.1h1.2v1.0h-1.2zM5.7 24.9h0.9v1.0h-0.9zM33.9 7.3h0.9v0.7h-0.9zM30.1 27.3h0.6v0.6h-0.6zM22.9 21.9h0.7v0.5h-0.7zM32.4 29.7h0.9v1.0h-0.9zM25.5 23.1h0.6v0.5h-0.6zM10.5 9.8h1.1v0.9h-1.1zM3.9 7.9h0.7v0.6h-0.7zM28.8 10.3h0.9v1.0h-0.9zM4.0 13.6h1.0v0.8h-1.0zM22.8 5.7h0.6v0.4h-0.6zM20.6 12.4h1.2v0.9h-1.2zM21.3 29.7h1.1v1.0h-1.1zM18.9 13.2h1.2v1.1h-1.2zM28.9 15.0h0.7v0.5h-0.7zM11.9 15.7h1.2v0.8h-1.2zM11.2 22.2h1.2v0.8h-1.2zM2.4 17.2h0.9v0.6h-0.9zM31.7 24.0h1.1v1.2h-1.1zM15.9 21.6h1.3v1.0h-1.3zM22.7 32.0h0.8v0.6h-0.8zM20.1 31.9h0.9v0.7h-0.9zM13.8 5.5h0.8v0.8h-0.8zM29.9 31.6h0.6v0.6h-0.6zM22.8 0.9h1.3v1.0h-1.3zM9.4 15.2h1.0v1.0h-1.0zM3.2 18.6h0.9v0.8h-0.9zM11.0 2.4h0.6v0.7h-0.6zM29.4 34.0h0.9v0.8h-0.9zM31.6 24.7h1.0v1.0h-1.0zM26.6 3.9h1.0v0.7h-1.0zM32.5 15.4h1.0v1.0h-1.0zM23.8 27.0h0.7v0.6h-0.7zM18.4 20.3h0.6v0.5h-0.6zM25.5 21.7h0.7v0.5h-0.7zM3.5 19.8h1.2v1.1h-1.2zM30.0 6.1h1.1v0.8h-1.1zM6.4 31.0h0.9v0.8h-0.9zM25.1 31.8h1.0v0.9h-1.0zM28.8 0.2h0.7v0.5h-0.7zM20.8 14.1h0.6v0.5h-0.6zM20.2 30.8h1.2v1.2h-1.2zM21.8 19.0h0.7v0.6h-0.7zM1.7 29.7h1.1v0.8h-1.1zM33.2 32.5h0.7v0.7h-0.7zM33.5 1.8h1.0v1.0h-1.0zM12.4 3.7h1.3v1.3h-1.3zM9.3 19.2h0.6v0.5h-0.6zM15.3 10.9h1.1v1.1h-1.1zM8.1 3.3h0.8v0.6h-0.8zM13.1 34.1h0.9v1.0h-0.9zM3.0 31.4h1.3v1.4h-1.3zM5.1 22.4h0.7v0.6h-0.7zM4.4 34.2h1.2v0.9h-1.2zM23.2 28.6h1.0v0.8h-1.0zM1.0 11.9h0.9v0.6h-0.9zM0.1 29.1h0.7v0.5h-0.7zM19.5 22.5h0.6v0.6h-0.6zM3.7 1.2h0.7v0.4h-0.7zM5.7 20.6h1.3v1.4h-1.3zM33.6 8.0h0.7v0.6h-0.7zM5.2 13.3h1.3v0.9h-1.3zM20.3 18.9h0.7v0.4h-0.7zM17.1 3.7h1.3v1.4h-1.3zM14.5 4.0h1.3v0.8h-1.3zM13.3 1.9h0.9v0.5h-0.9zM33.1 19.5h1.0v0.9h-1.0z" fill="#fde28c"/><path d="M19.0 33.2h1.0v0.7h-1.0zM17.5 12.0h1.2v1.3h-1.2zM27.1 13.7h1.2v1.0h-1.2zM12.8 2.9h0.9v0.8h-0.9zM8.5 6.4h1.3v1.4h-1.3zM18.0 8.1h1.2v0.9h-1.2zM16.3 28.6h0.8v0.7h-0.8zM23.1 22.4h1.3v1.0h-1.3zM11.4 28.4h1.2v1.2h-1.2zM32.5 31.7h1.2v0.9h-1.2zM27.9 14.8h1.1v0.7h-1.1zM16.5 11.9h0.8v0.9h-0.8zM9.0 32.1h0.7v0.6h-0.7zM0.7 30.4h1.2v1.0h-1.2zM14.6 17.3h1.2v1.0h-1.2zM25.5 9.7h0.8v0.7h-0.8zM15.7 18.8h0.8v0.9h-0.8zM10.4 24.8h1.1v0.9h-1.1zM3.8 19.3h0.8v0.7h-0.8zM33.0 31.2h1.2v0.8h-1.2zM20.2 26.2h0.8v0.6h-0.8zM7.8 26.4h0.9v0.9h-0.9zM20.4 13.4h1.0v1.0h-1.0zM15.4 20.9h0.6v0.5h-0.6zM28.3 30.6h0.8v0.8h-0.8zM10.6 11.5h0.9v0.6h-0.9zM23.3 25.2h1.2v1.2h-1.2zM25.4 24.5h0.6v0.5h-0.6zM30.5 26.0h1.2v0.9h-1.2zM27.2 14.9h1.0v0.6h-1.0zM3.7 14.3h0.8v0.8h-0.8zM24.6 11.0h0.7v0.7h-0.7zM28.7 33.3h1.3v1.0h-1.3zM5.8 19.7h0.8v0.7h-0.8zM19.4 20.3h0.8v0.7h-0.8zM26.3 19.8h0.6v0.5h-0.6zM23.8 3.1h1.1v1.2h-1.1zM30.7 3.0h0.9v0.9h-0.9zM31.5 16.6h1.3v0.9h-1.3zM32.5 12.3h0.9v0.9h-0.9zM32.7 24.2h1.3v1.2h-1.3zM23.0 23.1h1.2v0.7h-1.2zM27.9 25.2h0.6v0.5h-0.6zM22.8 28.4h0.6v0.6h-0.6zM25.2 12.0h0.8v0.8h-0.8zM3.7 10.2h0.6v0.4h-0.6zM12.3 18.5h0.7v0.4h-0.7zM18.0 2.7h0.7v0.7h-0.7zM31.3 10.9h1.1v1.1h-1.1zM21.0 5.9h0.8v0.7h-0.8zM28.2 6.4h1.2v0.7h-1.2zM10.4 6.1h1.2v1.1h-1.2zM8.0 27.6h0.7v0.6h-0.7zM18.0 16.1h0.8v0.7h-0.8zM12.0 10.3h1.2v1.0h-1.2zM33.6 6.6h0.8v0.6h-0.8zM13.8 22.4h0.8v0.5h-0.8zM34.1 6.8h1.3v0.9h-1.3zM11.8 10.6h1.0v0.8h-1.0zM26.5 10.9h0.8v0.9h-0.8zM10.5 27.0h0.8v0.9h-0.8zM10.4 27.1h0.8v0.9h-0.8zM21.9 19.3h0.9v1.0h-0.9zM24.1 3.8h1.0v0.8h-1.0zM4.2 18.7h1.3v1.0h-1.3zM12.4 8.8h1.0v0.8h-1.0zM6.2 21.3h1.0v0.7h-1.0zM2.5 30.7h0.8v0.7h-0.8zM20.3 15.1h1.1v0.9h-1.1zM30.5 19.3h1.0v0.9h-1.0zM5.4 18.5h0.8v0.8h-0.8zM23.4 9.8h0.6v0.6h-0.6zM25.2 20.6h1.0v0.8h-1.0zM9.2 29.4h0.8v0.7h-0.8zM25.3 16.5h0.9v0.7h-0.9zM14.5 2.9h0.8v0.7h-0.8zM28.1 33.0h1.1v0.7h-1.1zM20.9 24.7h1.1v1.1h-1.1zM10.0 13.8h1.2v1.0h-1.2zM15.5 30.5h0.8v0.8h-0.8zM20.7 7.2h1.0v0.9h-1.0zM5.0 26.6h1.2v1.1h-1.2zM27.0 23.5h0.9v0.9h-0.9zM31.8 24.2h1.1v0.9h-1.1zM24.1 11.5h0.7v0.4h-0.7zM26.9 2.3h0.9v0.9h-0.9zM18.0 26.4h0.8v0.7h-0.8zM29.6 20.1h0.9v0.8h-0.9zM25.9 21.7h1.0v0.7h-1.0zM17.9 34.5h0.7v0.8h-0.7zM13.8 27.9h1.3v1.4h-1.3zM23.2 13.1h1.2v1.2h-1.2zM26.1 14.8h1.3v1.4h-1.3zM29.9 19.8h1.2v0.9h-1.2zM2.8 32.1h0.9v0.6h-0.9zM33.8 1.2h0.8v0.7h-0.8zM3.4 13.8h1.2v1.0h-1.2zM16.6 9.9h0.9v0.6h-0.9zM10.0 1.5h1.0v0.8h-1.0zM27.1 8.8h0.8v0.6h-0.8zM18.5 27.6h0.8v0.8h-0.8z" fill="#e9f59c"/><path d="M10.6 17.9h1.0v0.8h-1.0zM22.1 3.0h1.2v1.2h-1.2zM1.8 23.7h1.2v0.8h-1.2zM7.8 1.1h1.1v1.0h-1.1zM6.3 2.9h0.9v0.9h-0.9zM11.6 27.2h1.1v1.0h-1.1zM12.7 17.4h1.0v1.0h-1.0zM15.8 16.0h1.0v0.8h-1.0zM13.2 12.5h1.2v1.2h-1.2zM14.3 27.5h0.7v0.6h-0.7zM20.3 0.8h1.1v1.0h-1.1zM5.5 12.0h1.0v0.9h-1.0zM6.8 7.3h1.0v0.9h-1.0zM14.4 4.8h0.8v0.5h-0.8zM7.1 4.6h1.0v0.8h-1.0zM1.0 12.8h0.7v0.8h-0.7zM13.1 12.0h1.1v1.2h-1.1zM5.3 25.3h0.9v0.6h-0.9zM8.1 1.3h0.8v0.8h-0.8zM28.3 19.0h0.9v0.6h-0.9zM9.6 13.6h1.1v0.8h-1.1zM2.7 6.1h0.8v0.9h-0.8zM12.0 26.6h1.3v1.3h-1.3zM8.5 1.9h1.0v0.9h-1.0zM15.3 27.9h0.9v0.7h-0.9zM25.7 6.1h1.2v0.8h-1.2zM3.2 25.1h1.2v1.3h-1.2zM26.3 26.3h0.9v0.8h-0.9zM16.0 15.8h0.7v0.4h-0.7zM13.8 28.5h0.6v0.6h-0.6zM5.2 10.2h0.8v0.6h-0.8zM13.2 16.1h0.8v0.6h-0.8zM17.4 32.5h0.8v0.5h-0.8zM30.0 17.0h0.8v0.5h-0.8zM1.9 13.4h0.9v0.8h-0.9zM9.7 23.4h1.1v0.9h-1.1zM3.9 25.6h0.8v0.5h-0.8zM33.5 31.6h1.3v1.4h-1.3zM4.9 33.8h0.8v0.9h-0.8zM22.0 19.9h1.1v1.1h-1.1zM19.7 3.9h1.0v1.0h-1.0z" fill="#9fd899"/><path d="M34.4 7.2h0.9v0.8h-0.9zM17.3 19.8h1.0v1.0h-1.0zM20.5 5.3h0.8v0.6h-0.8zM29.1 32.4h0.8v0.8h-0.8zM7.5 27.2h1.3v1.0h-1.3zM6.0 10.2h1.0v0.6h-1.0zM27.2 13.4h1.1v1.0h-1.1zM16.4 9.6h0.7v0.5h-0.7zM1.0 3.3h1.1v1.0h-1.1zM29.9 18.9h1.3v1.0h-1.3zM16.8 16.5h0.9v0.9h-0.9zM21.6 19.6h1.1v1.1h-1.1zM14.0 31.0h1.2v0.8h-1.2zM33.0 5.5h0.6v0.4h-0.6zM34.3 26.0h1.3v1.4h-1.3zM7.2 26.2h1.2v0.8h-1.2zM18.8 8.0h1.1v1.0h-1.1zM14.4 20.5h1.1v1.1h-1.1zM29.0 19.0h0.6v0.5h-0.6zM33.3 10.5h1.2v0.8h-1.2zM7.7 16.9h1.2v0.9h-1.2zM9.5 22.3h0.7v0.5h-0.7zM7.3 22.9h1.0v0.8h-1.0zM33.4 9.6h0.7v0.5h-0.7zM15.5 33.9h0.6v0.5h-0.6zM29.9 17.0h1.1v1.2h-1.1zM8.9 22.0h0.7v0.8h-0.7zM9.5 13.7h0.7v0.5h-0.7zM1.6 29.8h0.8v0.7h-0.8zM5.4 6.9h1.2v1.1h-1.2zM9.6 23.0h0.8v0.8h-0.8zM21.7 22.3h0.9v0.8h-0.9zM23.2 8.0h1.0v1.0h-1.0zM6.3 24.2h0.9v1.0h-0.9zM21.7 14.8h1.3v1.3h-1.3zM17.2 13.0h1.1v0.7h-1.1zM31.4 32.2h1.3v0.9h-1.3zM27.9 7.6h0.6v0.5h-0.6zM29.1 19.8h0.8v0.6h-0.8zM26.9 7.3h1.1v0.7h-1.1zM13.1 3.6h1.2v1.0h-1.2zM8.4 22.7h0.9v0.6h-0.9zM18.6 18.1h1.1v0.7h-1.1zM18.5 2.8h1.3v1.3h-1.3zM16.7 32.9h1.2v1.1h-1.2zM7.1 33.9h0.7v0.4h-0.7zM18.5 15.2h1.1v0.7h-1.1zM26.8 18.4h0.6v0.7h-0.6zM15.4 20.8h1.2v0.7h-1.2zM21.2 29.6h0.8v0.7h-0.8zM16.9 4.4h0.7v0.7h-0.7zM3.9 21.1h1.2v1.0h-1.2zM26.6 3.0h0.9v0.7h-0.9zM21.8 19.8h0.9v0.8h-0.9zM25.0 9.2h1.0v0.7h-1.0zM31.0 5.0h0.6v0.6h-0.6zM15.5 2.4h1.1v1.1h-1.1zM25.1 3.2h0.8v0.6h-0.8zM21.3 17.0h1.1v1.1h-1.1zM33.4 18.3h0.8v0.8h-0.8zM10.6 2.6h1.2v1.0h-1.2zM4.0 12.6h0.9v0.5h-0.9zM28.2 34.0h1.2v1.1h-1.2zM3.9 33.1h1.1v0.7h-1.1zM26.0 21.0h0.9v0.9h-0.9zM28.6 34.0h0.7v0.5h-0.7zM3.8 7.9h1.2v1.2h-1.2zM9.1 0.6h1.2v1.2h-1.2zM28.2 5.9h1.2v1.2h-1.2z" fill="#e35a4c"/><path d="M26.1 14.9h0.7v0.7h-0.7zM2.5 3.3h0.9v0.9h-0.9zM14.6 4.5h0.8v0.5h-0.8zM7.8 29.8h0.7v0.7h-0.7zM3.5 2.6h0.8v0.7h-0.8zM19.7 5.3h0.6v0.7h-0.6zM22.4 7.9h0.7v0.7h-0.7zM14.4 32.2h0.6v0.4h-0.6zM29.0 27.3h1.0v0.8h-1.0zM17.7 13.1h0.9v0.9h-0.9zM32.6 12.5h0.8v0.7h-0.8zM17.9 9.6h1.1v0.9h-1.1zM2.1 23.4h1.1v0.9h-1.1zM23.0 11.5h0.8v0.6h-0.8zM18.1 31.6h0.8v0.8h-0.8zM25.7 4.6h0.8v0.7h-0.8zM6.2 8.5h0.9v0.9h-0.9zM27.9 15.7h1.2v0.8h-1.2zM31.5 33.8h1.0v0.7h-1.0zM11.8 9.7h0.8v0.8h-0.8zM24.9 23.9h1.0v0.9h-1.0zM25.3 27.7h1.2v0.9h-1.2zM14.9 6.7h0.9v0.8h-0.9zM6.9 0.1h1.0v1.1h-1.0zM0.4 28.0h1.1v0.9h-1.1zM1.5 9.8h0.9v1.0h-0.9zM12.0 34.3h1.2v1.0h-1.2zM22.5 1.6h1.2v1.3h-1.2zM33.5 17.4h1.3v1.2h-1.3zM17.6 33.9h1.0v0.6h-1.0zM10.0 24.0h1.0v0.8h-1.0zM10.8 15.7h1.1v0.8h-1.1zM28.6 30.5h1.0v0.9h-1.0zM17.1 23.5h1.0v1.0h-1.0zM11.6 17.6h0.9v0.6h-0.9zM9.7 2.2h1.2v1.1h-1.2zM6.2 30.5h1.0v1.0h-1.0zM10.8 6.1h1.2v0.8h-1.2zM13.0 26.4h1.1v0.9h-1.1zM18.0 29.2h0.7v0.4h-0.7zM29.9 31.4h0.8v0.7h-0.8zM33.5 1.1h0.7v0.7h-0.7zM2.1 7.7h0.7v0.5h-0.7zM26.8 17.4h0.9v0.8h-0.9zM24.1 15.8h0.8v0.7h-0.8zM11.5 9.3h1.0v0.7h-1.0zM1.5 18.8h0.9v0.9h-0.9zM14.9 12.1h1.0v0.9h-1.0zM34.0 13.8h0.9v0.6h-0.9zM18.9 22.3h1.2v0.9h-1.2zM6.8 7.0h1.2v1.2h-1.2zM33.4 10.0h0.8v0.9h-0.8zM32.2 12.1h1.2v1.1h-1.2zM0.8 14.0h1.1v0.8h-1.1zM33.2 11.8h1.2v1.2h-1.2zM1.0 30.3h1.2v1.2h-1.2zM30.5 21.6h0.9v0.5h-0.9zM19.3 15.0h0.6v0.6h-0.6zM0.2 21.5h0.6v0.5h-0.6zM20.3 27.8h0.8v0.8h-0.8zM5.0 7.1h1.2v1.1h-1.2zM10.5 24.1h0.7v0.7h-0.7zM28.5 3.0h0.9v0.9h-0.9zM22.0 2.2h1.2v1.3h-1.2zM3.1 9.7h1.0v0.6h-1.0zM13.4 18.2h0.7v0.6h-0.7zM7.5 32.0h0.7v0.5h-0.7zM2.3 17.2h0.7v0.6h-0.7zM24.6 29.4h0.8v0.9h-0.8zM30.9 24.5h1.0v0.9h-1.0zM2.2 14.7h1.3v0.9h-1.3zM0.4 13.5h0.9v0.6h-0.9zM28.2 20.9h0.8v0.7h-0.8zM34.0 9.0h1.0v1.0h-1.0zM0.4 15.2h1.2v1.3h-1.2zM4.6 6.8h1.2v1.1h-1.2zM7.1 15.3h1.1v0.8h-1.1zM11.2 23.0h1.0v0.9h-1.0zM34.1 14.0h0.6v0.6h-0.6zM29.8 11.2h1.0v1.1h-1.0zM23.1 23.2h1.1v0.7h-1.1zM14.4 8.6h0.6v0.4h-0.6zM18.0 10.2h0.9v0.8h-0.9zM21.1 7.8h1.0v0.7h-1.0z" fill="#d7303e"/></pattern>
<pattern id="whsp" patternUnits="userSpaceOnUse" width="22" height="22"><path d="M11.6 4.1h1.9v1.3h-1.9zM20.3 11.3h1.0v0.7h-1.0zM12.1 4.5h1.9v1.3h-1.9zM18.5 2.7h1.0v0.7h-1.0zM14.1 5.6h0.9v0.7h-0.9zM3.8 0.9h1.8v1.3h-1.8zM3.0 1.6h1.1v0.8h-1.1zM0.6 17.2h1.7v1.2h-1.7zM11.7 21.6h1.9v1.3h-1.9zM12.8 3.5h1.7v1.2h-1.7zM0.1 21.0h1.7v1.2h-1.7zM14.8 2.7h1.8v1.2h-1.8zM17.3 20.7h1.3v0.9h-1.3zM8.2 19.3h1.3v0.9h-1.3zM14.8 16.6h1.0v0.7h-1.0zM12.4 17.8h2.0v1.4h-2.0zM5.5 7.4h1.4v0.9h-1.4zM3.6 0.0h1.6v1.1h-1.6zM16.3 9.2h1.0v0.7h-1.0zM8.9 2.7h1.5v1.1h-1.5zM1.5 6.0h0.9v0.6h-0.9zM11.1 20.2h1.6v1.1h-1.6zM2.7 3.0h1.6v1.1h-1.6zM1.9 13.0h0.8v0.6h-0.8zM2.2 19.4h1.3v0.9h-1.3zM7.1 1.1h1.7v1.2h-1.7zM12.2 15.7h0.9v0.6h-0.9zM8.4 7.0h0.8v0.6h-0.8zM9.5 11.6h1.4v1.0h-1.4zM15.9 9.9h1.4v1.0h-1.4zM3.9 8.9h1.1v0.8h-1.1zM9.5 14.4h1.4v1.0h-1.4zM5.0 16.5h1.0v0.7h-1.0zM18.3 19.4h1.0v0.7h-1.0zM4.0 12.3h0.8v0.6h-0.8zM11.2 10.8h1.7v1.2h-1.7zM4.1 16.5h0.9v0.6h-0.9zM11.4 9.3h1.2v0.9h-1.2zM10.6 7.4h1.6v1.2h-1.6zM14.7 0.1h1.3v0.9h-1.3zM6.6 14.4h1.8v1.3h-1.8zM17.2 19.8h1.9v1.3h-1.9zM12.1 0.4h1.7v1.2h-1.7zM19.4 20.1h1.3v0.9h-1.3zM2.7 10.9h1.0v0.7h-1.0zM6.5 4.0h1.8v1.3h-1.8zM21.2 18.2h1.5v1.1h-1.5zM19.4 20.1h1.3v0.9h-1.3zM8.3 6.5h1.0v0.7h-1.0zM18.0 7.1h1.3v0.9h-1.3zM18.9 13.1h0.8v0.6h-0.8zM13.6 2.1h1.4v1.0h-1.4zM5.4 17.1h1.5v1.0h-1.5zM10.0 16.7h1.9v1.3h-1.9zM9.2 15.3h1.0v0.7h-1.0zM20.9 1.7h1.6v1.1h-1.6zM8.5 2.2h1.0v0.7h-1.0zM8.8 3.3h1.4v1.0h-1.4zM21.9 16.8h1.9v1.3h-1.9zM10.0 4.0h0.8v0.6h-0.8zM12.5 9.0h1.6v1.1h-1.6zM6.8 6.2h1.6v1.1h-1.6zM20.0 9.9h1.7v1.2h-1.7zM0.6 11.2h1.8v1.3h-1.8zM0.6 17.1h1.3v0.9h-1.3zM1.9 14.0h2.0v1.4h-2.0zM8.2 2.9h1.4v1.0h-1.4zM1.3 21.4h1.6v1.1h-1.6zM10.5 1.6h1.2v0.9h-1.2zM0.0 3.0h1.4v1.0h-1.4zM6.6 10.5h1.6v1.1h-1.6zM1.0 20.7h1.6v1.1h-1.6zM12.1 0.8h1.9v1.4h-1.9zM8.3 5.3h1.6v1.1h-1.6zM10.6 4.5h0.9v0.6h-0.9zM19.3 17.8h2.0v1.4h-2.0zM15.0 9.5h1.9v1.3h-1.9zM1.6 10.0h1.8v1.3h-1.8zM11.9 17.5h1.7v1.2h-1.7zM6.5 21.1h0.8v0.6h-0.8zM16.8 0.3h0.9v0.7h-0.9zM0.8 4.1h1.5v1.0h-1.5zM9.2 12.5h1.9v1.3h-1.9zM7.3 1.4h1.9v1.3h-1.9zM21.6 21.2h1.9v1.3h-1.9zM12.0 2.3h1.9v1.3h-1.9zM21.0 7.9h1.0v0.7h-1.0zM1.2 8.9h1.1v0.8h-1.1zM7.6 7.6h1.8v1.2h-1.8zM9.0 3.7h1.5v1.1h-1.5zM10.7 1.6h1.4v1.0h-1.4zM6.4 5.6h1.9v1.3h-1.9zM22.0 10.8h1.9v1.3h-1.9zM9.3 19.0h1.4v1.0h-1.4zM6.7 6.9h1.9v1.3h-1.9zM19.1 20.5h1.9v1.3h-1.9zM5.4 0.6h1.6v1.1h-1.6zM12.9 7.4h1.1v0.8h-1.1zM16.0 17.1h1.0v0.7h-1.0zM7.2 7.1h1.1v0.8h-1.1zM16.8 0.4h1.2v0.8h-1.2zM17.5 1.5h1.3v0.9h-1.3zM21.4 21.5h1.6v1.2h-1.6zM17.2 13.7h1.3v0.9h-1.3zM0.7 10.7h0.8v0.6h-0.8zM2.0 11.3h1.9v1.3h-1.9zM8.7 11.3h1.0v0.7h-1.0zM13.5 20.0h2.0v1.4h-2.0zM1.2 5.3h1.4v1.0h-1.4zM10.4 20.2h1.7v1.2h-1.7zM13.1 3.9h1.6v1.1h-1.6zM11.0 15.1h0.8v0.6h-0.8zM8.4 7.2h1.3v0.9h-1.3zM11.2 17.4h1.4v1.0h-1.4zM4.5 10.6h1.5v1.0h-1.5zM1.1 12.8h1.5v1.0h-1.5zM14.2 14.8h1.7v1.2h-1.7zM1.9 7.0h1.1v0.8h-1.1zM13.9 19.6h1.2v0.9h-1.2zM17.2 0.3h1.1v0.8h-1.1zM11.9 19.7h1.7v1.2h-1.7zM19.6 21.2h1.1v0.8h-1.1zM20.6 3.5h1.5v1.0h-1.5zM4.5 2.4h1.2v0.8h-1.2zM15.4 15.2h1.0v0.7h-1.0zM7.7 21.3h1.5v1.1h-1.5zM18.0 22.0h0.9v0.7h-0.9zM1.1 18.1h1.8v1.2h-1.8zM6.9 17.8h1.6v1.1h-1.6zM7.4 15.2h1.7v1.2h-1.7zM11.2 11.8h1.0v0.7h-1.0zM1.6 1.4h1.8v1.2h-1.8zM21.8 17.8h1.8v1.3h-1.8zM10.3 2.4h1.9v1.3h-1.9zM11.9 12.9h1.7v1.2h-1.7zM5.1 20.6h1.5v1.0h-1.5zM13.4 7.6h1.5v1.0h-1.5zM20.9 3.7h1.1v0.7h-1.1zM15.4 15.6h1.4v1.0h-1.4zM16.6 11.7h1.0v0.7h-1.0zM6.8 6.9h1.2v0.9h-1.2zM3.4 19.9h1.2v0.8h-1.2zM4.3 2.6h1.4v1.0h-1.4zM1.5 9.8h1.0v0.7h-1.0zM10.5 2.9h1.1v0.8h-1.1zM21.1 1.0h1.4v1.0h-1.4zM18.1 16.8h1.0v0.7h-1.0zM6.7 12.4h1.7v1.2h-1.7zM20.2 11.9h1.0v0.7h-1.0zM0.8 12.6h1.8v1.3h-1.8zM5.6 15.3h1.7v1.2h-1.7zM0.1 4.3h1.4v1.0h-1.4zM5.0 2.3h1.6v1.1h-1.6zM3.3 13.6h2.0v1.4h-2.0zM0.7 5.4h0.9v0.6h-0.9zM10.5 17.2h1.7v1.2h-1.7zM6.9 7.1h1.5v1.0h-1.5zM11.9 1.7h1.9v1.3h-1.9zM17.7 16.2h0.9v0.6h-0.9zM12.2 3.1h1.9v1.3h-1.9zM4.0 2.2h1.4v1.0h-1.4zM10.9 9.7h1.7v1.2h-1.7zM12.3 9.3h1.9v1.3h-1.9zM4.6 11.6h0.9v0.6h-0.9zM17.4 4.4h1.5v1.0h-1.5zM15.4 1.8h0.9v0.6h-0.9zM11.1 13.4h1.0v0.7h-1.0zM7.5 20.7h1.6v1.1h-1.6zM3.8 13.5h1.1v0.8h-1.1zM0.7 0.2h1.8v1.2h-1.8zM21.2 5.2h1.7v1.2h-1.7zM16.9 3.5h2.0v1.4h-2.0zM19.5 1.1h1.1v0.8h-1.1zM16.0 8.6h1.0v0.7h-1.0zM0.7 19.6h1.9v1.3h-1.9zM9.9 16.3h1.6v1.1h-1.6zM21.8 6.5h1.4v1.0h-1.4zM13.4 20.6h1.9v1.3h-1.9zM17.2 11.7h1.2v0.8h-1.2zM21.6 16.3h2.0v1.4h-2.0z" fill="#f8f9f4"/></pattern>
<pattern id="hill" patternUnits="userSpaceOnUse" width="30" height="30"><path d="M8.5 14.0l2.8 -0.5M26.5 14.7l3.7 -0.3M27.1 24.9l2.3 0.7M25.7 23.9l3.5 -0.5M4.2 3.0l2.6 0.0M26.2 11.4l3.6 -0.1M27.0 27.6l1.5 0.1M8.7 28.3l1.7 -0.3M1.1 18.5l1.5 -0.7M17.4 4.6l1.5 0.3M25.1 15.0l4.0 -0.1M26.2 3.1l1.6 0.1M8.9 17.2l3.7 -0.3M8.8 28.5l2.6 -0.4M15.6 1.1l3.1 -0.0M5.1 21.0l2.8 0.7M11.4 2.6l4.1 -1.2M28.7 19.9l2.5 -0.3M24.0 26.3l1.8 -0.5M2.8 15.5l2.2 -0.6M19.7 29.1l2.1 -0.2M12.8 17.1l2.3 -0.9M8.8 27.5l2.9 0.8M0.5 5.7l3.9 -1.7M17.5 5.3l1.9 -0.2M26.1 16.8l1.5 -0.5M29.8 23.6l3.0 -0.7M9.5 1.1l2.2 0.4M11.0 25.6l4.4 0.2M8.7 13.1l1.8 -0.6M10.5 1.2l4.0 -0.4M10.6 18.8l2.8 -0.7M11.5 13.3l2.4 -0.5M14.0 25.8l3.8 0.7M14.1 28.6l1.6 0.3M20.1 0.8l3.9 -0.9M18.2 1.7l3.4 0.1M10.6 10.0l3.8 0.9M0.1 8.9l3.0 -0.8M9.8 16.9l4.0 0.6M11.6 26.2l4.1 -1.7M5.5 29.2l1.7 -0.5M29.9 24.5l2.1 -0.4M29.8 7.6l3.7 -1.1M12.7 28.2l3.4 -0.5M28.9 26.9l4.3 -0.3M3.7 9.5l2.0 -0.6M4.6 20.2l3.4 -1.8M24.5 24.1l2.9 0.9M3.0 1.1l1.7 -0.7M23.0 18.9l1.8 0.3M21.4 17.2l2.3 -0.4M29.4 18.2l1.6 -0.3M16.9 20.7l2.9 -1.0M20.4 15.1l3.4 1.0M27.2 9.6l3.6 -1.2M10.4 1.7l3.7 -1.2M24.9 18.0l4.0 0.2M5.5 22.1l3.9 -0.6M23.5 9.6l1.8 -0.2M2.2 11.0l4.2 0.8M22.5 11.9l1.9 -0.2M2.6 23.1l3.5 -1.6M9.5 15.9l2.7 0.1M1.1 22.7l3.3 -1.1M2.4 4.0l1.9 -0.3M4.7 0.4l2.3 -1.2M0.8 24.4l3.2 -0.9M8.6 12.4l2.8 -0.0M5.2 18.2l3.3 0.6M24.4 23.0l2.9 -1.4M26.9 19.5l3.2 -0.7M2.6 3.4l4.2 -0.5M11.9 26.9l2.9 -0.7M12.0 14.9l3.3 0.2M1.2 22.6l3.5 0.9M10.6 3.7l4.3 -1.2M25.3 27.6l3.6 -1.0M15.3 17.1l2.3 -0.1M29.5 17.5l3.3 -0.5M7.7 25.5l1.8 -0.2M18.5 29.6l1.9 0.5M19.4 1.4l2.3 -0.9M26.4 19.7l3.7 -1.9M13.1 25.7l1.9 -0.4M18.5 26.0l2.0 -0.7M1.2 17.1l3.1 -1.5M3.9 14.0l3.0 -1.5M26.5 16.6l3.4 0.0M11.3 17.9l2.7 0.2M15.4 1.6l2.4 -1.1M26.7 2.3l2.8 0.2M12.5 0.7l2.1 -0.4M7.5 24.8l2.1 0.6M20.5 6.9l2.8 -0.1M4.9 27.1l1.9 0.1M15.2 25.2l1.6 -0.7M16.9 7.6l2.2 -0.5M23.0 16.0l1.9 0.0M4.8 0.0l2.3 -0.4M14.7 7.2l1.9 0.3M3.3 15.7l3.8 -0.8M19.8 8.2l3.1 -1.5M28.8 28.3l4.4 0.2M13.7 18.6l3.8 0.8M14.8 10.0l2.0 -0.5M21.1 2.6l3.0 -1.5M23.4 6.7l2.8 0.5M22.4 3.5l3.4 -0.7M29.7 6.9l3.3 -0.4M15.1 19.1l2.7 0.3M18.7 7.6l2.1 0.0M16.5 4.8l2.7 0.7M12.5 8.9l3.0 -1.5M10.7 27.5l1.5 -0.6M10.5 6.6l1.6 -0.1M18.3 0.7l3.7 -0.2M19.0 7.2l3.2 1.0M26.9 11.1l1.5 -0.3M22.8 12.4l3.3 0.2M13.0 6.5l3.7 -0.5M15.7 10.2l3.1 -0.0M24.9 21.1l3.1 0.6M23.0 23.2l1.7 0.4M13.5 8.0l3.5 -1.3M18.6 1.6l3.5 0.4M21.8 16.0l3.6 -1.3M14.2 16.7l2.3 0.6M27.9 16.8l1.5 -0.4M21.9 15.8l3.7 -0.2M23.8 25.8l4.3 -0.4M22.4 24.8l2.2 0.6M3.1 13.6l1.7 0.4M22.2 1.6l2.5 0.2M6.6 5.6l2.4 -0.4M15.1 7.3l2.3 0.5M1.4 6.0l2.1 -0.2M19.3 14.6l4.3 -0.5M3.2 3.6l3.0 -1.4M22.8 21.2l2.2 0.6M29.1 10.7l1.9 -0.2M8.7 24.5l1.9 -0.2M12.2 24.6l2.5 -1.1M0.5 12.8l2.6 -0.5M22.0 10.4l2.8 -1.2M0.3 12.5l3.5 -0.8M28.4 2.2l1.7 -0.6M6.3 3.5l1.9 0.6M9.5 26.5l4.2 -0.6M23.3 22.4l3.4 -0.1M18.1 2.3l3.4 -0.1M26.5 23.1l3.0 -0.0M8.3 7.1l2.0 -0.0M8.9 6.7l3.6 0.8M3.8 29.5l2.5 -0.4M20.4 27.3l4.0 0.7M18.4 18.9l1.5 -0.1M1.8 27.2l2.3 0.0M1.8 24.6l1.9 -0.9M9.0 20.3l3.2 -0.9M12.4 0.3l1.9 -0.8M28.7 5.8l3.5 0.1M2.4 23.1l3.9 0.4M3.0 1.9l3.3 0.9M21.7 0.5l3.2 -1.4M6.1 12.0l3.5 -0.8M7.8 22.3l2.5 -0.5M2.6 8.3l3.3 -1.8M15.6 8.7l3.3 -1.0M14.4 19.6l4.0 -1.6M15.1 18.5l1.4 -0.6M6.5 12.4l1.4 -0.5M13.3 23.8l4.3 0.9M2.9 2.8l3.2 -0.3M3.8 15.2l4.3 -0.5M13.3 10.0l3.3 0.9M17.6 10.4l3.6 -0.3M18.2 12.1l1.8 0.2M9.3 2.0l2.5 -0.8M21.3 0.7l4.0 -0.1M3.1 22.0l2.7 -0.1M8.9 4.5l2.5 -0.1M29.5 19.9l3.0 0.3M22.6 11.4l1.6 0.3M4.4 5.0l2.4 0.1M12.7 12.4l2.0 0.2M22.1 18.8l3.7 -1.9M24.5 23.3l2.9 -0.6M29.5 23.7l3.9 -2.0M22.3 8.2l1.6 0.2M26.7 23.6l3.1 -0.1M2.8 19.9l2.3 0.4M2.4 5.8l2.3 -0.2M9.3 11.4l2.8 -1.1M16.1 0.6l2.8 -0.1M15.7 0.5l3.0 0.7M11.2 8.1l3.9 0.7M24.1 14.0l2.0 -0.9M18.9 4.5l3.2 -1.3M13.4 19.4l3.3 -0.9M17.7 26.9l3.7 -0.5M1.2 2.5l1.9 -1.0M20.3 18.9l1.6 0.4M13.8 27.0l2.1 0.1M28.1 20.8l2.3 0.6M9.7 11.8l2.9 -0.8M26.4 14.1l1.7 -0.4M22.5 27.0l1.7 0.2M25.9 0.1l3.1 0.7M18.8 28.1l3.5 -1.1M25.6 14.7l1.8 -0.3M0.6 26.6l1.5 0.3M4.9 2.2l3.5 -0.2M16.0 9.1l2.6 -0.4M27.3 16.4l4.1 -0.2M10.1 4.1l3.0 0.1M0.7 10.9l3.4 -1.0M29.1 16.8l3.5 -1.3M25.1 10.4l1.9 -0.3M5.7 13.6l4.2 -0.8M6.1 21.8l2.6 -0.1M24.1 7.8l2.0 -0.9M19.7 2.1l3.8 -1.8M25.5 23.4l3.6 1.1M11.3 21.1l2.9 -1.6M16.3 20.0l2.3 -0.7M2.9 0.9l1.8 -0.9M0.8 9.2l3.0 0.2M4.3 27.7l4.0 -0.5M3.1 16.8l1.4 -0.6M18.3 10.5l4.3 -0.0M20.6 25.4l2.9 -0.5M19.4 3.1l1.9 -0.8M23.2 18.6l2.0 0.4M4.5 6.1l2.5 0.3M18.2 29.9l3.7 0.5M21.7 22.4l3.0 0.8M22.2 15.4l3.3 -0.4M10.4 20.0l4.0 0.1M1.6 11.7l2.6 0.8M9.0 8.6l1.5 -0.8M10.6 12.6l2.8 -1.4M28.5 25.1l2.0 -0.3M21.7 3.1l2.1 -0.7M16.3 22.2l3.8 -0.8M0.8 3.0l2.4 -1.1M8.7 23.8l2.8 -0.8M12.4 25.2l4.5 0.3M2.7 24.5l4.1 -0.6M4.8 20.3l3.8 1.1M24.7 7.0l1.9 0.5M26.0 20.3l1.5 -0.7M17.3 28.8l3.7 -0.2M17.9 14.1l4.0 -0.5M26.6 13.2l2.8 0.8M19.9 13.4l1.5 -0.2M6.8 12.3l1.6 -0.3M11.2 24.3l2.5 0.2M17.6 18.1l3.8 0.8M4.1 8.4l1.6 -0.1M1.6 8.8l4.1 -0.8M12.1 8.2l3.8 -0.4M14.5 25.8l1.8 -0.9M26.9 23.7l3.7 0.5M15.7 2.8l2.1 0.1M4.2 18.0l2.6 0.6M23.0 10.7l1.9 -0.1M19.1 1.0l2.7 -1.1M9.7 22.4l3.9 -1.7M10.4 15.4l4.2 0.9M23.8 4.7l3.8 0.2M1.2 12.4l2.8 -1.0M4.7 12.3l1.5 -0.3M15.5 8.1l3.0 0.7M14.0 11.5l3.5 0.7M3.6 24.8l4.1 1.0M5.7 26.9l2.4 -0.5M8.6 23.7l3.2 -1.3M9.1 17.4l4.0 -0.1M20.0 9.3l4.1 -0.0M18.1 8.5l3.1 -0.8M12.0 28.2l2.7 -1.0M12.4 6.9l3.4 -1.2M21.3 13.9l2.7 -0.1M29.3 17.8l2.1 -0.5M4.3 19.0l3.8 -1.8M8.1 3.4l3.0 0.5M4.6 24.9l2.7 -0.2M18.1 28.1l4.2 1.2M17.5 28.7l3.9 -0.2M17.8 9.3l2.0 -0.3M7.6 0.1l4.1 -1.4M29.0 15.0l2.2 -0.4M2.8 16.6l2.1 -1.2M6.6 12.5l4.0 -1.4M24.8 13.2l2.5 -0.5M15.4 9.6l3.3 0.3M26.6 12.6l3.0 -1.2M15.6 26.5l1.9 -0.9M0.2 7.6l2.6 -0.2" stroke="#b6b6b0" stroke-width="0.35" fill="none"/></pattern>
<pattern id="hill2" patternUnits="userSpaceOnUse" width="30" height="30"><path d="M11.7 29.5l3.1 0.6M7.0 7.4l2.7 -1.5M21.2 9.5l3.6 -0.3M25.2 6.1l4.1 1.2M12.3 17.3l1.5 -0.1M12.6 23.3l3.7 0.2M29.6 0.6l2.5 -0.0M27.3 9.6l3.8 0.6M14.7 20.9l3.7 0.1M25.3 1.7l3.6 -1.8M17.7 10.8l3.0 0.5M8.6 15.1l3.7 -0.3M16.7 18.4l4.0 -1.9M13.0 24.4l1.6 0.2M10.7 5.3l3.8 0.2M22.0 22.4l3.6 1.1M25.5 2.0l1.8 0.0M10.0 10.0l4.0 -1.3M12.4 29.1l3.5 -0.1M6.0 24.1l2.6 0.7M11.1 11.7l2.7 0.6M22.3 18.2l1.5 -0.6M10.0 21.7l2.5 -0.5M12.7 0.4l3.8 -1.0M28.9 27.3l3.3 -0.1M21.4 1.9l4.5 -0.1M16.8 21.0l3.2 0.5M15.5 9.7l2.0 -0.5M11.5 9.7l3.1 -0.0M10.2 14.0l3.4 1.1M5.8 1.9l3.6 0.4M22.3 10.2l1.7 -0.4M24.8 6.5l3.4 -0.8M27.1 0.4l3.2 -0.9M21.8 16.0l2.6 0.8M13.7 19.4l3.3 -0.8M17.6 28.4l4.4 -0.7M18.6 20.3l1.7 -0.5M17.2 26.2l2.8 0.4M17.2 24.9l4.2 -1.0M11.6 1.3l3.9 -0.3M26.2 2.8l2.8 0.5M6.1 16.1l4.1 0.5M6.2 13.2l2.6 -0.4M2.3 27.1l3.1 0.6M20.1 2.0l2.4 -0.9M9.0 23.0l3.4 -1.8M22.8 1.0l1.5 0.3M2.8 18.4l3.5 -1.7M24.7 10.5l4.0 0.5M14.3 18.3l2.5 -1.1M17.8 18.5l1.7 -0.2M7.4 11.8l3.2 -0.9M10.4 0.9l3.6 0.5M29.8 13.9l2.6 -0.6M18.6 17.3l1.7 -0.2M27.7 9.4l3.2 0.9M3.5 28.5l2.5 -0.2M9.2 8.7l2.8 0.1M17.0 2.7l3.6 -0.5M2.4 11.3l4.3 0.3M27.5 9.0l1.7 -0.8M6.2 26.8l1.6 0.1M1.1 0.1l4.3 0.5M26.4 8.0l1.9 0.3M22.9 7.8l3.6 -0.0M1.3 29.2l2.0 0.0M9.3 14.6l3.6 -1.5M8.3 12.8l2.5 0.1M25.6 24.7l3.4 -0.2M19.9 8.6l3.4 -1.3M27.9 23.0l3.7 -0.5M17.9 13.6l3.2 -1.5M15.2 12.3l3.8 -1.7M26.0 28.4l4.2 -1.2M9.0 4.6l3.9 0.3M6.8 21.1l2.2 0.3M1.8 26.4l2.7 0.6M15.5 3.7l3.8 0.3M0.8 4.4l1.9 -0.3M16.5 17.6l4.2 -0.5M16.3 20.8l4.3 1.0M16.0 11.5l1.7 -0.7M6.0 13.9l3.0 -1.3M15.6 26.3l4.1 0.8M24.9 14.2l2.7 -1.3M29.1 12.7l1.5 0.3M22.3 19.8l1.9 -0.9M17.5 6.3l3.1 0.2M11.0 24.7l4.0 1.2" stroke="#cdcdc7" stroke-width="0.4" fill="none"/></pattern>
</defs>
<text x="322.3" y="13.9" font-size="17.8" text-anchor="start">b)</text>
<rect x="319" y="21.8" width="364.2" height="225.79999999999998" fill="#f8f9f4"/>
<polygon points="605.7,145.3 631.7,141.0 683.7,143.2 683.7,199.5 653.4,193.0 631.7,190.9 616.5,197.4 605.7,182.2 599.2,167.0" fill="url(#hill)"/>
<polygon points="319.0,198.0 335.0,205.0 355.0,220.0 372.0,235.0 388.0,247.0 319.0,247.0" fill="url(#hill2)"/>
<polygon points="600.0,205.0 625.0,200.0 640.0,205.0 660.0,212.0 683.0,210.0 683.0,247.0 600.0,247.0" fill="url(#hill2)"/>
<polyline points="459.0,22.0 459.5,26.0 450.7,37.6 443.0,47.4 441.0,57.1 442.0,66.9 435.1,72.7 441.0,84.4 450.7,96.1 454.6,104.0 452.0,110.0 454.6,119.6 452.0,135.0" fill="none" stroke="#b0b0ac" stroke-width="0.5"/>
<polyline points="423.4,94.2 433.2,97.1 439.0,104.0 444.9,113.7 452.7,115.7" fill="none" stroke="#b0b0ac" stroke-width="0.5"/>
<polyline points="448.8,90.3 458.5,88.3 462.4,98.1" fill="none" stroke="#b0b0ac" stroke-width="0.5"/>
<polyline points="386.5,119.0 386.5,105.1 423.9,105.1 424.0,98.0" fill="none" stroke="#b0b0ac" stroke-width="0.5"/>
<polyline points="319.0,60.0 326.0,54.0 334.6,49.0 339.0,52.0" fill="none" stroke="#b0b0ac" stroke-width="0.5"/>
<polyline points="319.0,72.0 324.0,70.0 330.0,75.0" fill="none" stroke="#b0b0ac" stroke-width="0.5"/>
<polyline points="440.4,100.0 444.5,112.3 450.7,120.4 452.7,128.6 454.7,140.9 460.9,147.0 473.1,153.1 487.4,161.3 499.7,167.4 509.9,175.6 522.2,180.7 534.4,185.8 545.0,197.4 558.0,203.9 571.0,210.4 581.8,210.4 590.5,201.7 597.0,190.9 607.9,184.4" fill="none" stroke="#b0b0ac" stroke-width="0.5"/>
<polyline points="448.6,100.0 454.7,104.1 455.7,110.2 446.6,115.3 444.5,112.3" fill="none" stroke="#b0b0ac" stroke-width="0.5"/>
<polyline points="428.8,172.0 445.0,186.0 459.6,198.8 475.0,212.0 489.0,225.5 489.0,247.6" fill="none" stroke="#b0b0ac" stroke-width="0.5"/>
<polyline points="522.0,141.0 530.4,151.0 534.4,159.3 542.6,159.3 550.0,160.0 560.0,158.0" fill="none" stroke="#b0b0ac" stroke-width="0.5"/>
<polyline points="505.0,128.0 520.0,125.0 540.0,128.0 560.0,125.0 580.0,132.0" fill="none" stroke="#b0b0ac" stroke-width="0.5"/>
<polyline points="528.0,138.0 530.0,150.0 536.0,162.0" fill="none" stroke="#b0b0ac" stroke-width="0.5"/>
<polyline points="560.0,125.0 566.0,140.0 575.0,155.0 578.0,168.0" fill="none" stroke="#b0b0ac" stroke-width="0.5"/>
<polyline points="560.0,247.0 575.0,232.0 590.0,228.0 600.0,240.0 610.0,247.0" fill="none" stroke="#b0b0ac" stroke-width="0.5"/>
<polyline points="573.0,223.0 577.5,230.0 590.0,236.0" fill="none" stroke="#b0b0ac" stroke-width="0.5"/>
<polyline points="600.0,205.0 612.0,212.0 625.0,222.0 640.0,236.0 660.0,240.0 683.0,242.0" fill="none" stroke="#b0b0ac" stroke-width="0.5"/>
<clipPath id="dc0"><polygon points="337.0,26.1 340.6,25.2 345.1,28.8 351.4,32.4 355.9,37.9 358.6,41.5 360.4,36.0 364.9,32.4 372.2,30.6 380.3,26.1 383.9,27.9 386.6,31.5 392.0,28.8 397.4,31.5 397.4,39.7 392.0,38.8 387.5,43.3 379.4,47.8 372.2,50.5 367.6,55.0 372.2,57.7 381.2,60.4 390.2,65.8 397.4,71.2 404.6,72.2 411.9,70.3 419.1,71.2 425.4,74.9 419.1,78.5 413.7,84.8 416.4,92.0 421.8,99.2 416.4,100.1 406.5,97.4 397.4,93.8 388.4,90.2 377.6,84.8 368.5,81.2 357.7,80.3 346.9,81.2 340.6,86.6 337.9,84.8 335.1,77.6 336.0,72.2 334.2,64.9 332.4,59.5 336.0,55.9 332.4,51.4 328.8,49.6 332.4,46.9 338.8,45.1 340.6,39.7 338.8,32.4"/></clipPath>
<g filter="url(#soft2)" clip-path="url(#dc0)">
<polygon points="337.0,26.1 340.6,25.2 345.1,28.8 351.4,32.4 355.9,37.9 358.6,41.5 360.4,36.0 364.9,32.4 372.2,30.6 380.3,26.1 383.9,27.9 386.6,31.5 392.0,28.8 397.4,31.5 397.4,39.7 392.0,38.8 387.5,43.3 379.4,47.8 372.2,50.5 367.6,55.0 372.2,57.7 381.2,60.4 390.2,65.8 397.4,71.2 404.6,72.2 411.9,70.3 419.1,71.2 425.4,74.9 419.1,78.5 413.7,84.8 416.4,92.0 421.8,99.2 416.4,100.1 406.5,97.4 397.4,93.8 388.4,90.2 377.6,84.8 368.5,81.2 357.7,80.3 346.9,81.2 340.6,86.6 337.9,84.8 335.1,77.6 336.0,72.2 334.2,64.9 332.4,59.5 336.0,55.9 332.4,51.4 328.8,49.6 332.4,46.9 338.8,45.1 340.6,39.7 338.8,32.4" fill="#e2e8bc" opacity="0.55"/>
<ellipse cx="346" cy="34" rx="8" ry="8" fill="#f4a868" opacity="0.6"/>
<ellipse cx="381" cy="36" rx="14" ry="6" fill="#f3a060" opacity="0.6"/>
<ellipse cx="340" cy="55" rx="8" ry="8" fill="#a8d8b0" opacity="0.6"/>
<ellipse cx="378" cy="64" rx="12" ry="6" fill="#9fd6b8" opacity="0.6"/>
<ellipse cx="405" cy="84" rx="12" ry="8" fill="#f6c07a" opacity="0.6"/>
<ellipse cx="395" cy="75" rx="6" ry="5" fill="#f0a070" opacity="0.6"/>
<polygon points="337.0,26.1 340.6,25.2 345.1,28.8 351.4,32.4 355.9,37.9 358.6,41.5 360.4,36.0 364.9,32.4 372.2,30.6 380.3,26.1 383.9,27.9 386.6,31.5 392.0,28.8 397.4,31.5 397.4,39.7 392.0,38.8 387.5,43.3 379.4,47.8 372.2,50.5 367.6,55.0 372.2,57.7 381.2,60.4 390.2,65.8 397.4,71.2 404.6,72.2 411.9,70.3 419.1,71.2 425.4,74.9 419.1,78.5 413.7,84.8 416.4,92.0 421.8,99.2 416.4,100.1 406.5,97.4 397.4,93.8 388.4,90.2 377.6,84.8 368.5,81.2 357.7,80.3 346.9,81.2 340.6,86.6 337.9,84.8 335.1,77.6 336.0,72.2 334.2,64.9 332.4,59.5 336.0,55.9 332.4,51.4 328.8,49.6 332.4,46.9 338.8,45.1 340.6,39.7 338.8,32.4" fill="url(#spND)"/>
<polygon points="334.0,66.0 345.0,64.0 360.0,66.0 372.0,70.0 380.0,78.0 377.6,84.8 368.5,81.2 357.7,80.3 346.9,81.2 340.6,86.6 337.9,84.8 335.1,77.6 336.0,72.2" fill="url(#whsp)"/>
</g>
<polygon points="504.4,134.9 524.3,132.4 528.0,138.6 519.3,147.3 509.4,153.5 502.0,152.3 504.4,142.3" fill="#dfeaa8" opacity="0.35"/>
<polygon points="504.4,134.9 524.3,132.4 528.0,138.6 519.3,147.3 509.4,153.5 502.0,152.3 504.4,142.3" fill="url(#spNI)" opacity="1"/>
<polygon points="489.6,154.7 500.7,157.2 499.5,165.9 490.8,164.7" fill="#dfeaa8" opacity="0.35"/>
<polygon points="489.6,154.7 500.7,157.2 499.5,165.9 490.8,164.7" fill="url(#spNI)" opacity="1"/>
<polygon points="529.3,131.2 549.1,133.6 569.0,137.4 583.8,139.9 600.0,142.3 600.0,157.2 583.8,154.7 569.0,147.3 549.1,141.1 534.2,138.6" fill="#dfeaa8" opacity="0.35"/>
<polygon points="529.3,131.2 549.1,133.6 569.0,137.4 583.8,139.9 600.0,142.3 600.0,157.2 583.8,154.7 569.0,147.3 549.1,141.1 534.2,138.6" fill="url(#spNI)" opacity="1"/>
<polygon points="588.3,145.3 601.4,149.7 605.7,156.2 599.2,160.5 588.3,156.2 577.5,154.0" fill="#dfeaa8" opacity="0.35"/>
<polygon points="588.3,145.3 601.4,149.7 605.7,156.2 599.2,160.5 588.3,156.2 577.5,154.0" fill="url(#spNI)" opacity="1"/>
<polygon points="533.0,173.3 546.6,165.9 554.1,163.4 555.3,177.1 569.0,173.3 588.8,168.4 591.3,174.6 576.4,183.3 564.0,192.0 554.1,192.0 546.6,194.4 544.1,189.5 536.7,187.0" fill="#dfeaa8" opacity="0.35"/>
<polygon points="533.0,173.3 546.6,165.9 554.1,163.4 555.3,177.1 569.0,173.3 588.8,168.4 591.3,174.6 576.4,183.3 564.0,192.0 554.1,192.0 546.6,194.4 544.1,189.5 536.7,187.0" fill="url(#spNI)" opacity="1"/>
<polygon points="467.2,162.2 492.0,173.3 511.9,194.4 534.2,209.3 549.1,219.3 570.2,229.2 569.0,234.1 546.6,226.7 531.7,219.3 509.4,204.4 489.6,182.0 467.2,167.1" fill="#dfeaa8" opacity="0.2"/>
<polygon points="467.2,162.2 492.0,173.3 511.9,194.4 534.2,209.3 549.1,219.3 570.2,229.2 569.0,234.1 546.6,226.7 531.7,219.3 509.4,204.4 489.6,182.0 467.2,167.1" fill="url(#spNI)" opacity="0.7"/>
<polygon points="578.9,219.3 600.0,216.8 600.0,234.1 581.4,234.1" fill="#dfeaa8" opacity="0.35"/>
<polygon points="578.9,219.3 600.0,216.8 600.0,234.1 581.4,234.1" fill="url(#spNI)" opacity="1"/>
<polygon points="440.0,106.0 444.0,105.0 449.0,118.0 452.0,130.0 456.0,142.0 452.0,143.0 446.0,128.0" fill="#dfeaa8" opacity="0.35"/>
<polygon points="440.0,106.0 444.0,105.0 449.0,118.0 452.0,130.0 456.0,142.0 452.0,143.0 446.0,128.0" fill="url(#spNI)" opacity="1"/>
<polygon points="586.2,229.9 597.0,219.0 607.9,208.2 616.5,197.4 627.4,193.0 636.0,190.9 636.0,194.1 625.2,199.5 616.5,206.0 610.0,219.0 603.5,227.7 594.8,234.2 586.2,234.2" fill="#dfeaa8" opacity="0.35"/>
<polygon points="586.2,229.9 597.0,219.0 607.9,208.2 616.5,197.4 627.4,193.0 636.0,190.9 636.0,194.1 625.2,199.5 616.5,206.0 610.0,219.0 603.5,227.7 594.8,234.2 586.2,234.2" fill="url(#spNI)" opacity="1"/>
<polygon points="636.0,201.7 644.7,199.5 653.4,203.9 653.4,219.0 649.0,236.4 640.4,236.4 638.2,223.4" fill="#dfeaa8" opacity="0.35"/>
<polygon points="636.0,201.7 644.7,199.5 653.4,203.9 653.4,219.0 649.0,236.4 640.4,236.4 638.2,223.4" fill="url(#spNI)" opacity="1"/>
<polygon points="618.7,223.4 627.4,221.2 628.4,240.7 619.8,240.7" fill="#dfeaa8" opacity="0.35"/>
<polygon points="618.7,223.4 627.4,221.2 628.4,240.7 619.8,240.7" fill="url(#spNI)" opacity="1"/>
<polygon points="662.0,206.0 675.0,203.9 675.0,223.4 664.2,223.4" fill="#dfeaa8" opacity="0.35"/>
<polygon points="662.0,206.0 675.0,203.9 675.0,223.4 664.2,223.4" fill="url(#spNI)" opacity="1"/>
<polygon points="545.0,206.0 551.5,206.0 551.5,221.2 545.0,221.2" fill="#dfeaa8" opacity="0.35"/>
<polygon points="545.0,206.0 551.5,206.0 551.5,221.2 545.0,221.2" fill="url(#spNI)" opacity="1"/>
<rect x="319" y="267.3" width="364.2" height="225.7" fill="#f8f9f4"/>
<polygon points="605.7,390.8 631.7,386.5 683.7,388.7 683.7,445.0 653.4,438.5 631.7,436.4 616.5,442.9 605.7,427.7 599.2,412.5" fill="url(#hill)"/>
<polygon points="319.0,443.5 335.0,450.5 355.0,465.5 372.0,480.5 388.0,492.5 319.0,492.5" fill="url(#hill2)"/>
<polygon points="600.0,450.5 625.0,445.5 640.0,450.5 660.0,457.5 683.0,455.5 683.0,492.5 600.0,492.5" fill="url(#hill2)"/>
<polyline points="459.0,267.5 459.5,271.5 450.7,283.1 443.0,292.9 441.0,302.6 442.0,312.4 435.1,318.2 441.0,329.9 450.7,341.6 454.6,349.5 452.0,355.5 454.6,365.1 452.0,380.5" fill="none" stroke="#b0b0ac" stroke-width="0.5"/>
<polyline points="423.4,339.7 433.2,342.6 439.0,349.5 444.9,359.2 452.7,361.2" fill="none" stroke="#b0b0ac" stroke-width="0.5"/>
<polyline points="448.8,335.8 458.5,333.8 462.4,343.6" fill="none" stroke="#b0b0ac" stroke-width="0.5"/>
<polyline points="386.5,364.5 386.5,350.6 423.9,350.6 424.0,343.5" fill="none" stroke="#b0b0ac" stroke-width="0.5"/>
<polyline points="319.0,305.5 326.0,299.5 334.6,294.5 339.0,297.5" fill="none" stroke="#b0b0ac" stroke-width="0.5"/>
<polyline points="319.0,317.5 324.0,315.5 330.0,320.5" fill="none" stroke="#b0b0ac" stroke-width="0.5"/>
<polyline points="440.4,345.5 444.5,357.8 450.7,365.9 452.7,374.1 454.7,386.4 460.9,392.5 473.1,398.6 487.4,406.8 499.7,412.9 509.9,421.1 522.2,426.2 534.4,431.3 545.0,442.9 558.0,449.4 571.0,455.9 581.8,455.9 590.5,447.2 597.0,436.4 607.9,429.9" fill="none" stroke="#b0b0ac" stroke-width="0.5"/>
<polyline points="448.6,345.5 454.7,349.6 455.7,355.7 446.6,360.8 444.5,357.8" fill="none" stroke="#b0b0ac" stroke-width="0.5"/>
<polyline points="428.8,417.5 445.0,431.5 459.6,444.3 475.0,457.5 489.0,471.0 489.0,493.1" fill="none" stroke="#b0b0ac" stroke-width="0.5"/>
<polyline points="522.0,386.5 530.4,396.5 534.4,404.8 542.6,404.8 550.0,405.5 560.0,403.5" fill="none" stroke="#b0b0ac" stroke-width="0.5"/>
<polyline points="505.0,373.5 520.0,370.5 540.0,373.5 560.0,370.5 580.0,377.5" fill="none" stroke="#b0b0ac" stroke-width="0.5"/>
<polyline points="528.0,383.5 530.0,395.5 536.0,407.5" fill="none" stroke="#b0b0ac" stroke-width="0.5"/>
<polyline points="560.0,370.5 566.0,385.5 575.0,400.5 578.0,413.5" fill="none" stroke="#b0b0ac" stroke-width="0.5"/>
<polyline points="560.0,492.5 575.0,477.5 590.0,473.5 600.0,485.5 610.0,492.5" fill="none" stroke="#b0b0ac" stroke-width="0.5"/>
<polyline points="573.0,468.5 577.5,475.5 590.0,481.5" fill="none" stroke="#b0b0ac" stroke-width="0.5"/>
<polyline points="600.0,450.5 612.0,457.5 625.0,467.5 640.0,481.5 660.0,485.5 683.0,487.5" fill="none" stroke="#b0b0ac" stroke-width="0.5"/>
<clipPath id="dc1"><polygon points="337.0,271.6 340.6,270.7 345.1,274.3 351.4,277.9 355.9,283.4 358.6,287.0 360.4,281.5 364.9,277.9 372.2,276.1 380.3,271.6 383.9,273.4 386.6,277.0 392.0,274.3 397.4,277.0 397.4,285.2 392.0,284.3 387.5,288.8 379.4,293.3 372.2,296.0 367.6,300.5 372.2,303.2 381.2,305.9 390.2,311.3 397.4,316.7 404.6,317.7 411.9,315.8 419.1,316.7 425.4,320.4 419.1,324.0 413.7,330.3 416.4,337.5 421.8,344.7 416.4,345.6 406.5,342.9 397.4,339.3 388.4,335.7 377.6,330.3 368.5,326.7 357.7,325.8 346.9,326.7 340.6,332.1 337.9,330.3 335.1,323.1 336.0,317.7 334.2,310.4 332.4,305.0 336.0,301.4 332.4,296.9 328.8,295.1 332.4,292.4 338.8,290.6 340.6,285.2 338.8,277.9"/></clipPath>
<g filter="url(#soft2)" clip-path="url(#dc1)">
<polygon points="337.0,271.6 340.6,270.7 345.1,274.3 351.4,277.9 355.9,283.4 358.6,287.0 360.4,281.5 364.9,277.9 372.2,276.1 380.3,271.6 383.9,273.4 386.6,277.0 392.0,274.3 397.4,277.0 397.4,285.2 392.0,284.3 387.5,288.8 379.4,293.3 372.2,296.0 367.6,300.5 372.2,303.2 381.2,305.9 390.2,311.3 397.4,316.7 404.6,317.7 411.9,315.8 419.1,316.7 425.4,320.4 419.1,324.0 413.7,330.3 416.4,337.5 421.8,344.7 416.4,345.6 406.5,342.9 397.4,339.3 388.4,335.7 377.6,330.3 368.5,326.7 357.7,325.8 346.9,326.7 340.6,332.1 337.9,330.3 335.1,323.1 336.0,317.7 334.2,310.4 332.4,305.0 336.0,301.4 332.4,296.9 328.8,295.1 332.4,292.4 338.8,290.6 340.6,285.2 338.8,277.9" fill="#f2b890" opacity="0.7"/>
<ellipse cx="347" cy="281.5" rx="10" ry="10" fill="#d8404a" opacity="0.6"/>
<ellipse cx="381" cy="281.5" rx="15" ry="7" fill="#d63c48" opacity="0.6"/>
<ellipse cx="342" cy="303.5" rx="9" ry="8" fill="#e8704e" opacity="0.6"/>
<ellipse cx="402" cy="331.5" rx="15" ry="8" fill="#ee8a56" opacity="0.6"/>
<ellipse cx="378" cy="311.5" rx="12" ry="6" fill="#f4c070" opacity="0.6"/>
<polygon points="337.0,271.6 340.6,270.7 345.1,274.3 351.4,277.9 355.9,283.4 358.6,287.0 360.4,281.5 364.9,277.9 372.2,276.1 380.3,271.6 383.9,273.4 386.6,277.0 392.0,274.3 397.4,277.0 397.4,285.2 392.0,284.3 387.5,288.8 379.4,293.3 372.2,296.0 367.6,300.5 372.2,303.2 381.2,305.9 390.2,311.3 397.4,316.7 404.6,317.7 411.9,315.8 419.1,316.7 425.4,320.4 419.1,324.0 413.7,330.3 416.4,337.5 421.8,344.7 416.4,345.6 406.5,342.9 397.4,339.3 388.4,335.7 377.6,330.3 368.5,326.7 357.7,325.8 346.9,326.7 340.6,332.1 337.9,330.3 335.1,323.1 336.0,317.7 334.2,310.4 332.4,305.0 336.0,301.4 332.4,296.9 328.8,295.1 332.4,292.4 338.8,290.6 340.6,285.2 338.8,277.9" fill="url(#spDD)"/>
<polygon points="334.0,311.5 345.0,309.5 360.0,311.5 372.0,315.5 380.0,323.5 377.6,330.3 368.5,326.7 357.7,325.8 346.9,326.7 340.6,332.1 337.9,330.3 335.1,323.1 336.0,317.7" fill="url(#whsp)"/>
</g>
<polygon points="504.4,380.4 524.3,377.9 528.0,384.1 519.3,392.8 509.4,399.0 502.0,397.8 504.4,387.8" fill="#dfeaa8" opacity="0.35"/>
<polygon points="504.4,380.4 524.3,377.9 528.0,384.1 519.3,392.8 509.4,399.0 502.0,397.8 504.4,387.8" fill="url(#spNI)" opacity="1"/>
<polygon points="489.6,400.2 500.7,402.7 499.5,411.4 490.8,410.2" fill="#dfeaa8" opacity="0.35"/>
<polygon points="489.6,400.2 500.7,402.7 499.5,411.4 490.8,410.2" fill="url(#spNI)" opacity="1"/>
<polygon points="529.3,376.7 549.1,379.1 569.0,382.9 583.8,385.4 600.0,387.8 600.0,402.7 583.8,400.2 569.0,392.8 549.1,386.6 534.2,384.1" fill="#f0d8a8" opacity="0.35"/>
<polygon points="529.3,376.7 549.1,379.1 569.0,382.9 583.8,385.4 600.0,387.8 600.0,402.7 583.8,400.2 569.0,392.8 549.1,386.6 534.2,384.1" fill="url(#spDI)" opacity="1"/>
<polygon points="588.3,390.8 601.4,395.2 605.7,401.7 599.2,406.0 588.3,401.7 577.5,399.5" fill="#f0d8a8" opacity="0.35"/>
<polygon points="588.3,390.8 601.4,395.2 605.7,401.7 599.2,406.0 588.3,401.7 577.5,399.5" fill="url(#spDI)" opacity="1"/>
<polygon points="533.0,418.8 546.6,411.4 554.1,408.9 555.3,422.6 569.0,418.8 588.8,413.9 591.3,420.1 576.4,428.8 564.0,437.5 554.1,437.5 546.6,439.9 544.1,435.0 536.7,432.5" fill="#f0d8a8" opacity="0.35"/>
<polygon points="533.0,418.8 546.6,411.4 554.1,408.9 555.3,422.6 569.0,418.8 588.8,413.9 591.3,420.1 576.4,428.8 564.0,437.5 554.1,437.5 546.6,439.9 544.1,435.0 536.7,432.5" fill="url(#spDI)" opacity="1"/>
<polygon points="467.2,407.7 492.0,418.8 511.9,439.9 534.2,454.8 549.1,464.8 570.2,474.7 569.0,479.6 546.6,472.2 531.7,464.8 509.4,449.9 489.6,427.5 467.2,412.6" fill="#f0d8a8" opacity="0.2"/>
<polygon points="467.2,407.7 492.0,418.8 511.9,439.9 534.2,454.8 549.1,464.8 570.2,474.7 569.0,479.6 546.6,472.2 531.7,464.8 509.4,449.9 489.6,427.5 467.2,412.6" fill="url(#spDI)" opacity="0.7"/>
<polygon points="578.9,464.8 600.0,462.3 600.0,479.6 581.4,479.6" fill="#f0d8a8" opacity="0.35"/>
<polygon points="578.9,464.8 600.0,462.3 600.0,479.6 581.4,479.6" fill="url(#spDI)" opacity="1"/>
<polygon points="440.0,351.5 444.0,350.5 449.0,363.5 452.0,375.5 456.0,387.5 452.0,388.5 446.0,373.5" fill="#f0d8a8" opacity="0.35"/>
<polygon points="440.0,351.5 444.0,350.5 449.0,363.5 452.0,375.5 456.0,387.5 452.0,388.5 446.0,373.5" fill="url(#spDI)" opacity="1"/>
<polygon points="586.2,475.4 597.0,464.5 607.9,453.7 616.5,442.9 627.4,438.5 636.0,436.4 636.0,439.6 625.2,445.0 616.5,451.5 610.0,464.5 603.5,473.2 594.8,479.7 586.2,479.7" fill="#f0d8a8" opacity="0.35"/>
<polygon points="586.2,475.4 597.0,464.5 607.9,453.7 616.5,442.9 627.4,438.5 636.0,436.4 636.0,439.6 625.2,445.0 616.5,451.5 610.0,464.5 603.5,473.2 594.8,479.7 586.2,479.7" fill="url(#spDI)" opacity="1"/>
<polygon points="636.0,447.2 644.7,445.0 653.4,449.4 653.4,464.5 649.0,481.9 640.4,481.9 638.2,468.9" fill="#f0d8a8" opacity="0.35"/>
<polygon points="636.0,447.2 644.7,445.0 653.4,449.4 653.4,464.5 649.0,481.9 640.4,481.9 638.2,468.9" fill="url(#spDI)" opacity="1"/>
<polygon points="618.7,468.9 627.4,466.7 628.4,486.2 619.8,486.2" fill="#f0d8a8" opacity="0.35"/>
<polygon points="618.7,468.9 627.4,466.7 628.4,486.2 619.8,486.2" fill="url(#spDI)" opacity="1"/>
<polygon points="662.0,451.5 675.0,449.4 675.0,468.9 664.2,468.9" fill="#f0d8a8" opacity="0.35"/>
<polygon points="662.0,451.5 675.0,449.4 675.0,468.9 664.2,468.9" fill="url(#spDI)" opacity="1"/>
<polygon points="545.0,451.5 551.5,451.5 551.5,466.7 545.0,466.7" fill="#f0d8a8" opacity="0.35"/>
<polygon points="545.0,451.5 551.5,451.5 551.5,466.7 545.0,466.7" fill="url(#spDI)" opacity="1"/>
<text x="461.5" y="17.4" font-size="11" text-anchor="start" textLength="88.9" lengthAdjust="spacingAndGlyphs">Normal Year (2018)</text>
<text x="479.4" y="264.4" font-size="11" text-anchor="start" textLength="71" lengthAdjust="spacingAndGlyphs">Dry Year (2001)</text>
<clipPath id="clip1"><rect x="337.6" y="119" width="91.5" height="80.8"/></clipPath>
<g clip-path="url(#clip1)">
<rect x="337.6" y="119" width="91.5" height="80.8" fill="#e9f59c"/>
<g filter="url(#soft)"><g transform="translate(383.4,159.4) rotate(35) translate(-64.0,-64.0) scale(2.4,1.9)">
<path d="M30 2h1v1h-1zM29 3h1v1h-1zM29 4h1v1h-1zM30 4h1v1h-1zM31 4h1v1h-1zM32 4h1v1h-1zM33 4h1v1h-1zM34 4h1v1h-1zM30 5h1v1h-1zM31 5h1v1h-1zM32 5h1v1h-1zM34 5h1v1h-1zM35 5h1v1h-1zM30 6h1v1h-1zM35 6h1v1h-1zM27 7h1v1h-1zM30 7h1v1h-1zM31 7h1v1h-1zM33 7h1v1h-1zM34 7h1v1h-1zM35 7h1v1h-1zM36 7h1v1h-1zM31 8h1v1h-1zM33 8h1v1h-1zM34 8h1v1h-1zM35 8h1v1h-1zM24 9h1v1h-1zM31 9h1v1h-1zM35 9h1v1h-1zM24 10h1v1h-1zM29 11h1v1h-1zM30 11h1v1h-1zM20 12h1v1h-1zM21 12h1v1h-1zM31 12h1v1h-1zM19 13h1v1h-1zM20 13h1v1h-1zM21 13h1v1h-1zM22 13h1v1h-1zM27 13h1v1h-1zM38 13h1v1h-1zM23 14h1v1h-1zM34 14h1v1h-1zM36 14h1v1h-1zM17 15h1v1h-1zM18 15h1v1h-1zM25 15h1v1h-1zM26 15h1v1h-1zM27 15h1v1h-1zM31 15h1v1h-1zM15 16h1v1h-1zM16 16h1v1h-1zM26 16h1v1h-1zM31 16h1v1h-1zM32 16h1v1h-1zM33 16h1v1h-1zM34 16h1v1h-1zM36 16h1v1h-1zM37 16h1v1h-1zM16 17h1v1h-1zM17 17h1v1h-1zM18 17h1v1h-1zM26 17h1v1h-1zM15 18h1v1h-1zM16 18h1v1h-1zM17 18h1v1h-1zM18 18h1v1h-1zM19 18h1v1h-1zM15 19h1v1h-1zM12 20h1v1h-1zM15 20h1v1h-1zM15 21h1v1h-1zM33 21h1v1h-1zM34 21h1v1h-1zM10 22h1v1h-1zM15 22h1v1h-1zM25 22h1v1h-1zM29 22h1v1h-1zM30 22h1v1h-1zM14 23h1v1h-1zM15 23h1v1h-1zM25 23h1v1h-1zM12 24h1v1h-1zM13 24h1v1h-1zM14 24h1v1h-1zM15 24h1v1h-1zM18 24h1v1h-1zM25 24h1v1h-1zM26 24h1v1h-1zM4 25h1v1h-1zM15 25h1v1h-1zM16 25h1v1h-1zM17 25h1v1h-1zM33 25h1v1h-1zM34 25h1v1h-1zM35 25h1v1h-1zM3 26h1v1h-1zM4 26h1v1h-1zM15 26h1v1h-1zM33 26h1v1h-1zM34 26h1v1h-1zM35 26h1v1h-1zM36 26h1v1h-1zM46 26h1v1h-1zM4 27h1v1h-1zM15 27h1v1h-1zM29 27h1v1h-1zM36 27h1v1h-1zM21 28h1v1h-1zM22 28h1v1h-1zM38 28h1v1h-1zM4 29h1v1h-1zM21 29h1v1h-1zM22 29h1v1h-1zM28 29h1v1h-1zM39 29h1v1h-1zM40 29h1v1h-1zM41 29h1v1h-1zM4 30h1v1h-1zM5 30h1v1h-1zM4 31h1v1h-1zM4 32h1v1h-1zM5 32h1v1h-1zM8 32h1v1h-1zM17 32h1v1h-1zM18 32h1v1h-1zM28 32h1v1h-1zM34 32h1v1h-1zM3 33h1v1h-1zM4 33h1v1h-1zM5 33h1v1h-1zM36 33h1v1h-1zM50 33h1v1h-1zM4 34h1v1h-1zM15 34h1v1h-1zM16 34h1v1h-1zM36 34h1v1h-1zM37 34h1v1h-1zM38 34h1v1h-1zM42 34h1v1h-1zM3 35h1v1h-1zM4 35h1v1h-1zM5 35h1v1h-1zM14 35h1v1h-1zM16 35h1v1h-1zM17 35h1v1h-1zM24 35h1v1h-1zM31 35h1v1h-1zM37 35h1v1h-1zM38 35h1v1h-1zM39 35h1v1h-1zM12 36h1v1h-1zM22 36h1v1h-1zM24 36h1v1h-1zM25 36h1v1h-1zM31 36h1v1h-1zM33 36h1v1h-1zM37 36h1v1h-1zM38 36h1v1h-1zM39 36h1v1h-1zM40 36h1v1h-1zM46 36h1v1h-1zM12 37h1v1h-1zM24 37h1v1h-1zM30 37h1v1h-1zM21 38h1v1h-1zM22 38h1v1h-1zM29 38h1v1h-1zM31 38h1v1h-1zM29 39h1v1h-1zM34 39h1v1h-1zM35 39h1v1h-1zM42 39h1v1h-1zM45 39h1v1h-1zM35 40h1v1h-1zM36 40h1v1h-1zM7 41h1v1h-1zM8 41h1v1h-1zM9 41h1v1h-1zM34 41h1v1h-1zM35 41h1v1h-1zM36 41h1v1h-1zM7 42h1v1h-1zM8 42h1v1h-1zM13 42h1v1h-1zM7 43h1v1h-1zM13 43h1v1h-1zM14 43h1v1h-1zM44 43h1v1h-1zM45 43h1v1h-1zM46 43h1v1h-1zM28 44h1v1h-1zM32 44h1v1h-1zM41 44h1v1h-1zM45 44h1v1h-1zM21 45h1v1h-1zM28 45h1v1h-1zM35 45h1v1h-1zM9 46h1v1h-1zM13 46h1v1h-1zM21 46h1v1h-1zM28 46h1v1h-1zM29 46h1v1h-1zM30 46h1v1h-1zM31 46h1v1h-1zM13 47h1v1h-1zM14 47h1v1h-1zM17 47h1v1h-1zM20 47h1v1h-1zM21 47h1v1h-1zM22 47h1v1h-1zM23 47h1v1h-1zM24 47h1v1h-1zM29 47h1v1h-1zM30 47h1v1h-1zM31 47h1v1h-1zM37 47h1v1h-1zM14 48h1v1h-1zM15 48h1v1h-1zM21 48h1v1h-1zM31 48h1v1h-1zM40 48h1v1h-1zM17 49h1v1h-1zM18 49h1v1h-1zM31 49h1v1h-1zM13 50h1v1h-1zM21 50h1v1h-1zM25 51h1v1h-1zM31 51h1v1h-1zM32 51h1v1h-1zM25 52h1v1h-1zM31 52h1v1h-1zM32 52h1v1h-1zM31 53h1v1h-1zM19 54h1v1h-1zM22 55h1v1h-1zM26 55h1v1h-1zM27 55h1v1h-1zM28 55h1v1h-1zM31 55h1v1h-1zM32 55h1v1h-1zM33 55h1v1h-1zM28 56h1v1h-1zM16 59h1v1h-1zM27 59h1v1h-1zM28 59h1v1h-1zM24 61h1v1h-1zM25 61h1v1h-1zM26 61h1v1h-1zM24 62h1v1h-1zM25 62h1v1h-1zM20 66h1v1h-1z" fill="#d4ee93"/>
<path d="M28 4h1v1h-1zM33 5h1v1h-1zM31 6h1v1h-1zM32 6h1v1h-1zM33 6h1v1h-1zM32 7h1v1h-1zM24 8h1v1h-1zM25 8h1v1h-1zM26 8h1v1h-1zM29 8h1v1h-1zM32 8h1v1h-1zM25 9h1v1h-1zM26 9h1v1h-1zM27 9h1v1h-1zM29 9h1v1h-1zM30 9h1v1h-1zM32 9h1v1h-1zM33 9h1v1h-1zM34 9h1v1h-1zM28 10h1v1h-1zM29 10h1v1h-1zM30 10h1v1h-1zM31 10h1v1h-1zM34 10h1v1h-1zM20 11h1v1h-1zM31 11h1v1h-1zM37 11h1v1h-1zM39 13h1v1h-1zM22 14h1v1h-1zM26 14h1v1h-1zM16 15h1v1h-1zM21 16h1v1h-1zM22 16h1v1h-1zM23 16h1v1h-1zM29 16h1v1h-1zM36 17h1v1h-1zM37 17h1v1h-1zM38 17h1v1h-1zM39 17h1v1h-1zM13 18h1v1h-1zM29 18h1v1h-1zM30 18h1v1h-1zM31 18h1v1h-1zM36 18h1v1h-1zM37 18h1v1h-1zM38 18h1v1h-1zM39 18h1v1h-1zM40 18h1v1h-1zM41 18h1v1h-1zM22 19h1v1h-1zM25 19h1v1h-1zM26 19h1v1h-1zM27 19h1v1h-1zM28 19h1v1h-1zM29 19h1v1h-1zM31 19h1v1h-1zM32 19h1v1h-1zM37 19h1v1h-1zM38 19h1v1h-1zM42 19h1v1h-1zM43 19h1v1h-1zM17 20h1v1h-1zM26 20h1v1h-1zM27 20h1v1h-1zM32 20h1v1h-1zM33 20h1v1h-1zM37 20h1v1h-1zM9 21h1v1h-1zM23 21h1v1h-1zM32 21h1v1h-1zM8 22h1v1h-1zM11 22h1v1h-1zM19 22h1v1h-1zM20 22h1v1h-1zM21 22h1v1h-1zM23 22h1v1h-1zM24 22h1v1h-1zM33 22h1v1h-1zM34 22h1v1h-1zM35 22h1v1h-1zM36 22h1v1h-1zM37 22h1v1h-1zM7 23h1v1h-1zM11 23h1v1h-1zM16 23h1v1h-1zM18 23h1v1h-1zM19 23h1v1h-1zM20 23h1v1h-1zM23 23h1v1h-1zM24 23h1v1h-1zM26 23h1v1h-1zM35 23h1v1h-1zM36 23h1v1h-1zM37 23h1v1h-1zM38 23h1v1h-1zM7 24h1v1h-1zM8 24h1v1h-1zM16 24h1v1h-1zM17 24h1v1h-1zM23 24h1v1h-1zM24 24h1v1h-1zM31 24h1v1h-1zM35 24h1v1h-1zM31 25h1v1h-1zM31 26h1v1h-1zM32 26h1v1h-1zM2 27h1v1h-1zM3 27h1v1h-1zM10 27h1v1h-1zM20 27h1v1h-1zM21 27h1v1h-1zM30 27h1v1h-1zM1 28h1v1h-1zM2 28h1v1h-1zM3 28h1v1h-1zM6 28h1v1h-1zM10 28h1v1h-1zM12 28h1v1h-1zM13 28h1v1h-1zM14 28h1v1h-1zM16 28h1v1h-1zM20 28h1v1h-1zM30 28h1v1h-1zM31 28h1v1h-1zM34 28h1v1h-1zM39 28h1v1h-1zM40 28h1v1h-1zM41 28h1v1h-1zM46 28h1v1h-1zM47 28h1v1h-1zM0 29h1v1h-1zM1 29h1v1h-1zM13 29h1v1h-1zM26 29h1v1h-1zM27 29h1v1h-1zM44 29h1v1h-1zM0 30h1v1h-1zM1 30h1v1h-1zM11 30h1v1h-1zM21 30h1v1h-1zM27 30h1v1h-1zM39 30h1v1h-1zM40 30h1v1h-1zM41 30h1v1h-1zM49 30h1v1h-1zM1 31h1v1h-1zM5 31h1v1h-1zM9 31h1v1h-1zM11 31h1v1h-1zM32 31h1v1h-1zM33 31h1v1h-1zM34 31h1v1h-1zM39 31h1v1h-1zM49 31h1v1h-1zM6 32h1v1h-1zM7 32h1v1h-1zM9 32h1v1h-1zM10 32h1v1h-1zM11 32h1v1h-1zM12 32h1v1h-1zM33 32h1v1h-1zM35 32h1v1h-1zM49 32h1v1h-1zM50 32h1v1h-1zM2 33h1v1h-1zM6 33h1v1h-1zM7 33h1v1h-1zM8 33h1v1h-1zM9 33h1v1h-1zM10 33h1v1h-1zM18 33h1v1h-1zM30 33h1v1h-1zM35 33h1v1h-1zM38 33h1v1h-1zM39 33h1v1h-1zM2 34h1v1h-1zM3 34h1v1h-1zM5 34h1v1h-1zM6 34h1v1h-1zM8 34h1v1h-1zM9 34h1v1h-1zM10 34h1v1h-1zM11 34h1v1h-1zM12 34h1v1h-1zM13 34h1v1h-1zM14 34h1v1h-1zM35 34h1v1h-1zM39 34h1v1h-1zM40 34h1v1h-1zM43 34h1v1h-1zM44 34h1v1h-1zM9 35h1v1h-1zM10 35h1v1h-1zM11 35h1v1h-1zM18 35h1v1h-1zM23 35h1v1h-1zM35 35h1v1h-1zM43 35h1v1h-1zM44 35h1v1h-1zM45 35h1v1h-1zM3 36h1v1h-1zM4 36h1v1h-1zM20 36h1v1h-1zM21 36h1v1h-1zM23 36h1v1h-1zM35 36h1v1h-1zM36 36h1v1h-1zM44 36h1v1h-1zM45 36h1v1h-1zM9 37h1v1h-1zM10 37h1v1h-1zM11 37h1v1h-1zM14 37h1v1h-1zM35 37h1v1h-1zM46 37h1v1h-1zM9 38h1v1h-1zM10 38h1v1h-1zM11 38h1v1h-1zM30 38h1v1h-1zM33 38h1v1h-1zM35 38h1v1h-1zM36 38h1v1h-1zM37 38h1v1h-1zM47 38h1v1h-1zM48 38h1v1h-1zM10 39h1v1h-1zM11 39h1v1h-1zM23 39h1v1h-1zM30 39h1v1h-1zM33 39h1v1h-1zM36 39h1v1h-1zM37 39h1v1h-1zM48 39h1v1h-1zM17 40h1v1h-1zM18 40h1v1h-1zM19 40h1v1h-1zM20 40h1v1h-1zM21 40h1v1h-1zM25 40h1v1h-1zM37 40h1v1h-1zM48 40h1v1h-1zM50 40h1v1h-1zM14 41h1v1h-1zM17 41h1v1h-1zM18 41h1v1h-1zM19 41h1v1h-1zM20 41h1v1h-1zM38 41h1v1h-1zM39 41h1v1h-1zM40 41h1v1h-1zM42 41h1v1h-1zM43 41h1v1h-1zM44 41h1v1h-1zM48 41h1v1h-1zM16 42h1v1h-1zM17 42h1v1h-1zM18 42h1v1h-1zM19 42h1v1h-1zM20 42h1v1h-1zM25 42h1v1h-1zM26 42h1v1h-1zM39 42h1v1h-1zM40 42h1v1h-1zM41 42h1v1h-1zM42 42h1v1h-1zM43 42h1v1h-1zM8 43h1v1h-1zM19 43h1v1h-1zM20 43h1v1h-1zM39 43h1v1h-1zM40 43h1v1h-1zM41 43h1v1h-1zM42 43h1v1h-1zM43 43h1v1h-1zM8 44h1v1h-1zM19 44h1v1h-1zM29 44h1v1h-1zM30 44h1v1h-1zM31 44h1v1h-1zM39 44h1v1h-1zM8 45h1v1h-1zM9 45h1v1h-1zM10 45h1v1h-1zM22 45h1v1h-1zM39 45h1v1h-1zM22 46h1v1h-1zM23 46h1v1h-1zM16 47h1v1h-1zM25 48h1v1h-1zM21 49h1v1h-1zM22 49h1v1h-1zM32 49h1v1h-1zM37 49h1v1h-1zM38 49h1v1h-1zM39 49h1v1h-1zM22 50h1v1h-1zM24 50h1v1h-1zM25 50h1v1h-1zM32 50h1v1h-1zM37 50h1v1h-1zM38 50h1v1h-1zM22 51h1v1h-1zM37 51h1v1h-1zM35 52h1v1h-1zM36 52h1v1h-1zM13 53h1v1h-1zM32 53h1v1h-1zM33 53h1v1h-1zM13 54h1v1h-1zM16 54h1v1h-1zM34 54h1v1h-1zM16 55h1v1h-1zM17 55h1v1h-1zM17 56h1v1h-1zM23 56h1v1h-1zM25 56h1v1h-1zM26 56h1v1h-1zM27 56h1v1h-1zM30 56h1v1h-1zM31 56h1v1h-1zM25 57h1v1h-1zM26 57h1v1h-1zM27 57h1v1h-1zM28 57h1v1h-1zM21 59h1v1h-1zM25 60h1v1h-1zM22 61h1v1h-1zM20 64h1v1h-1zM21 64h1v1h-1zM22 64h1v1h-1zM20 65h1v1h-1zM21 65h1v1h-1z" fill="#fde28c"/>
<path d="M31 2h1v1h-1zM32 2h1v1h-1zM33 2h1v1h-1zM29 6h1v1h-1zM27 8h1v1h-1zM28 8h1v1h-1zM23 9h1v1h-1zM28 9h1v1h-1zM25 10h1v1h-1zM32 12h1v1h-1zM33 12h1v1h-1zM34 12h1v1h-1zM34 13h1v1h-1zM35 13h1v1h-1zM36 13h1v1h-1zM33 14h1v1h-1zM35 14h1v1h-1zM35 15h1v1h-1zM36 15h1v1h-1zM33 17h1v1h-1zM33 18h1v1h-1zM33 19h1v1h-1zM34 19h1v1h-1zM36 19h1v1h-1zM34 20h1v1h-1zM36 20h1v1h-1zM38 20h1v1h-1zM10 21h1v1h-1zM38 21h1v1h-1zM19 24h1v1h-1zM20 24h1v1h-1zM21 24h1v1h-1zM27 24h1v1h-1zM18 25h1v1h-1zM19 25h1v1h-1zM20 25h1v1h-1zM23 25h1v1h-1zM17 26h1v1h-1zM18 26h1v1h-1zM19 26h1v1h-1zM16 27h1v1h-1zM17 27h1v1h-1zM18 27h1v1h-1zM31 27h1v1h-1zM35 27h1v1h-1zM39 27h1v1h-1zM15 28h1v1h-1zM17 28h1v1h-1zM10 29h1v1h-1zM15 29h1v1h-1zM16 29h1v1h-1zM10 30h1v1h-1zM10 31h1v1h-1zM20 32h1v1h-1zM18 34h1v1h-1zM42 35h1v1h-1zM10 36h1v1h-1zM11 36h1v1h-1zM19 36h1v1h-1zM32 36h1v1h-1zM34 36h1v1h-1zM41 36h1v1h-1zM42 36h1v1h-1zM43 36h1v1h-1zM39 37h1v1h-1zM40 37h1v1h-1zM41 37h1v1h-1zM42 37h1v1h-1zM41 38h1v1h-1zM42 38h1v1h-1zM50 38h1v1h-1zM51 38h1v1h-1zM52 38h1v1h-1zM6 39h1v1h-1zM27 39h1v1h-1zM40 39h1v1h-1zM41 39h1v1h-1zM43 39h1v1h-1zM6 40h1v1h-1zM7 40h1v1h-1zM8 40h1v1h-1zM6 41h1v1h-1zM15 41h1v1h-1zM16 41h1v1h-1zM15 42h1v1h-1zM15 43h1v1h-1zM16 43h1v1h-1zM17 43h1v1h-1zM18 43h1v1h-1zM16 44h1v1h-1zM17 44h1v1h-1zM17 45h1v1h-1zM18 46h1v1h-1zM41 46h1v1h-1zM42 46h1v1h-1zM18 47h1v1h-1zM26 47h1v1h-1zM27 47h1v1h-1zM28 47h1v1h-1zM41 47h1v1h-1zM21 53h1v1h-1zM21 54h1v1h-1zM20 56h1v1h-1zM21 56h1v1h-1zM22 56h1v1h-1zM21 57h1v1h-1zM26 58h1v1h-1zM26 59h1v1h-1zM26 60h1v1h-1z" fill="#fbb871"/>
<path d="M32 1h1v1h-1zM33 3h1v1h-1zM34 3h1v1h-1zM26 6h1v1h-1zM27 6h1v1h-1zM34 6h1v1h-1zM29 12h1v1h-1zM30 12h1v1h-1zM30 13h1v1h-1zM31 13h1v1h-1zM32 13h1v1h-1zM33 13h1v1h-1zM37 13h1v1h-1zM27 14h1v1h-1zM28 14h1v1h-1zM31 14h1v1h-1zM32 14h1v1h-1zM37 14h1v1h-1zM38 14h1v1h-1zM39 14h1v1h-1zM40 14h1v1h-1zM32 15h1v1h-1zM33 15h1v1h-1zM34 15h1v1h-1zM42 18h1v1h-1zM20 19h1v1h-1zM21 19h1v1h-1zM24 19h1v1h-1zM41 19h1v1h-1zM20 20h1v1h-1zM21 20h1v1h-1zM20 21h1v1h-1zM21 21h1v1h-1zM22 21h1v1h-1zM9 22h1v1h-1zM17 22h1v1h-1zM22 22h1v1h-1zM9 23h1v1h-1zM10 23h1v1h-1zM36 24h1v1h-1zM37 24h1v1h-1zM38 24h1v1h-1zM45 24h1v1h-1zM26 25h1v1h-1zM36 25h1v1h-1zM37 25h1v1h-1zM38 25h1v1h-1zM46 25h1v1h-1zM13 26h1v1h-1zM16 26h1v1h-1zM26 26h1v1h-1zM37 26h1v1h-1zM28 27h1v1h-1zM37 27h1v1h-1zM38 27h1v1h-1zM18 28h1v1h-1zM19 28h1v1h-1zM17 29h1v1h-1zM18 29h1v1h-1zM19 29h1v1h-1zM31 29h1v1h-1zM12 30h1v1h-1zM13 30h1v1h-1zM18 30h1v1h-1zM19 30h1v1h-1zM12 31h1v1h-1zM13 31h1v1h-1zM18 31h1v1h-1zM19 31h1v1h-1zM20 31h1v1h-1zM21 31h1v1h-1zM22 31h1v1h-1zM40 31h1v1h-1zM41 31h1v1h-1zM1 32h1v1h-1zM19 32h1v1h-1zM26 32h1v1h-1zM27 32h1v1h-1zM40 32h1v1h-1zM41 32h1v1h-1zM42 32h1v1h-1zM11 33h1v1h-1zM12 33h1v1h-1zM13 33h1v1h-1zM14 33h1v1h-1zM15 33h1v1h-1zM16 33h1v1h-1zM17 33h1v1h-1zM25 33h1v1h-1zM26 33h1v1h-1zM27 33h1v1h-1zM28 33h1v1h-1zM33 33h1v1h-1zM40 33h1v1h-1zM41 33h1v1h-1zM17 34h1v1h-1zM26 34h1v1h-1zM27 34h1v1h-1zM28 34h1v1h-1zM29 34h1v1h-1zM30 34h1v1h-1zM33 34h1v1h-1zM34 34h1v1h-1zM15 35h1v1h-1zM33 35h1v1h-1zM34 35h1v1h-1zM46 35h1v1h-1zM17 36h1v1h-1zM28 37h1v1h-1zM33 37h1v1h-1zM34 37h1v1h-1zM36 37h1v1h-1zM37 37h1v1h-1zM26 38h1v1h-1zM28 38h1v1h-1zM34 38h1v1h-1zM43 38h1v1h-1zM26 39h1v1h-1zM9 40h1v1h-1zM10 40h1v1h-1zM11 40h1v1h-1zM12 40h1v1h-1zM29 40h1v1h-1zM30 40h1v1h-1zM10 41h1v1h-1zM11 41h1v1h-1zM24 41h1v1h-1zM30 41h1v1h-1zM31 41h1v1h-1zM37 41h1v1h-1zM45 41h1v1h-1zM24 42h1v1h-1zM30 42h1v1h-1zM31 42h1v1h-1zM32 42h1v1h-1zM33 42h1v1h-1zM34 42h1v1h-1zM44 42h1v1h-1zM45 42h1v1h-1zM18 44h1v1h-1zM11 48h1v1h-1zM12 48h1v1h-1zM13 48h1v1h-1zM12 49h1v1h-1zM13 49h1v1h-1zM14 49h1v1h-1zM15 49h1v1h-1zM16 49h1v1h-1zM14 50h1v1h-1zM15 50h1v1h-1zM16 50h1v1h-1zM23 50h1v1h-1zM21 51h1v1h-1zM23 51h1v1h-1zM24 51h1v1h-1zM21 52h1v1h-1zM22 52h1v1h-1zM24 52h1v1h-1zM25 53h1v1h-1zM24 56h1v1h-1zM27 58h1v1h-1zM28 58h1v1h-1zM29 58h1v1h-1zM24 59h1v1h-1zM17 60h1v1h-1zM18 60h1v1h-1zM27 60h1v1h-1zM17 61h1v1h-1zM18 61h1v1h-1zM18 62h1v1h-1zM18 63h1v1h-1zM23 63h1v1h-1zM24 63h1v1h-1z" fill="#9fd899"/>
<path d="M19 12h1v1h-1zM37 12h1v1h-1zM18 13h1v1h-1zM17 14h1v1h-1zM18 14h1v1h-1zM17 16h1v1h-1zM23 17h1v1h-1zM12 18h1v1h-1zM12 19h1v1h-1zM13 19h1v1h-1zM14 19h1v1h-1zM39 19h1v1h-1zM40 19h1v1h-1zM10 20h1v1h-1zM11 20h1v1h-1zM35 20h1v1h-1zM39 20h1v1h-1zM40 20h1v1h-1zM41 20h1v1h-1zM42 20h1v1h-1zM35 21h1v1h-1zM36 21h1v1h-1zM37 21h1v1h-1zM39 21h1v1h-1zM40 21h1v1h-1zM41 21h1v1h-1zM42 21h1v1h-1zM43 21h1v1h-1zM44 21h1v1h-1zM43 22h1v1h-1zM5 25h1v1h-1zM5 26h1v1h-1zM5 27h1v1h-1zM47 27h1v1h-1zM48 28h1v1h-1zM2 29h1v1h-1zM3 29h1v1h-1zM23 29h1v1h-1zM24 29h1v1h-1zM2 30h1v1h-1zM3 30h1v1h-1zM2 31h1v1h-1zM3 31h1v1h-1zM2 32h1v1h-1zM3 32h1v1h-1zM29 32h1v1h-1zM43 32h1v1h-1zM29 33h1v1h-1zM43 33h1v1h-1zM44 33h1v1h-1zM49 34h1v1h-1zM50 34h1v1h-1zM36 35h1v1h-1zM49 35h1v1h-1zM50 35h1v1h-1zM51 35h1v1h-1zM49 36h1v1h-1zM50 36h1v1h-1zM51 36h1v1h-1zM52 36h1v1h-1zM51 37h1v1h-1zM52 37h1v1h-1zM12 39h1v1h-1zM13 39h1v1h-1zM51 39h1v1h-1zM12 44h1v1h-1zM13 44h1v1h-1zM42 44h1v1h-1zM43 44h1v1h-1zM44 44h1v1h-1zM13 45h1v1h-1zM42 45h1v1h-1zM42 47h1v1h-1zM22 48h1v1h-1zM26 48h1v1h-1zM15 51h1v1h-1zM15 52h1v1h-1zM15 53h1v1h-1zM30 53h1v1h-1zM30 54h1v1h-1zM31 54h1v1h-1zM29 55h1v1h-1zM16 56h1v1h-1zM16 57h1v1h-1zM16 58h1v1h-1z" fill="#6aaed0"/>
<path d="M37 8h1v1h-1zM26 10h1v1h-1zM27 10h1v1h-1zM26 11h1v1h-1zM27 11h1v1h-1zM28 11h1v1h-1zM26 12h1v1h-1zM27 12h1v1h-1zM28 12h1v1h-1zM26 13h1v1h-1zM28 13h1v1h-1zM29 13h1v1h-1zM19 15h1v1h-1zM20 15h1v1h-1zM20 16h1v1h-1zM20 17h1v1h-1zM20 18h1v1h-1zM21 18h1v1h-1zM31 21h1v1h-1zM6 24h1v1h-1zM6 25h1v1h-1zM7 25h1v1h-1zM8 25h1v1h-1zM10 25h1v1h-1zM7 26h1v1h-1zM8 26h1v1h-1zM10 26h1v1h-1zM38 26h1v1h-1zM7 27h1v1h-1zM8 27h1v1h-1zM9 27h1v1h-1zM32 27h1v1h-1zM47 30h1v1h-1zM48 30h1v1h-1zM45 31h1v1h-1zM46 31h1v1h-1zM47 31h1v1h-1zM48 31h1v1h-1zM46 32h1v1h-1zM47 32h1v1h-1zM48 32h1v1h-1zM21 33h1v1h-1zM45 33h1v1h-1zM46 33h1v1h-1zM47 33h1v1h-1zM7 34h1v1h-1zM21 34h1v1h-1zM22 34h1v1h-1zM23 34h1v1h-1zM24 34h1v1h-1zM25 34h1v1h-1zM6 35h1v1h-1zM7 35h1v1h-1zM8 35h1v1h-1zM21 35h1v1h-1zM22 35h1v1h-1zM5 36h1v1h-1zM6 36h1v1h-1zM7 36h1v1h-1zM8 36h1v1h-1zM9 36h1v1h-1zM5 37h1v1h-1zM6 37h1v1h-1zM7 37h1v1h-1zM8 37h1v1h-1zM25 37h1v1h-1zM6 38h1v1h-1zM7 38h1v1h-1zM8 38h1v1h-1zM24 38h1v1h-1zM25 38h1v1h-1zM7 39h1v1h-1zM25 39h1v1h-1zM24 40h1v1h-1zM21 41h1v1h-1zM22 41h1v1h-1zM23 41h1v1h-1zM28 41h1v1h-1zM29 41h1v1h-1zM21 42h1v1h-1zM27 42h1v1h-1zM28 42h1v1h-1zM29 42h1v1h-1zM35 42h1v1h-1zM36 42h1v1h-1zM37 42h1v1h-1zM38 42h1v1h-1zM27 43h1v1h-1zM28 43h1v1h-1zM34 43h1v1h-1zM36 43h1v1h-1zM37 43h1v1h-1zM38 43h1v1h-1zM34 44h1v1h-1zM35 44h1v1h-1zM36 44h1v1h-1zM37 44h1v1h-1zM38 44h1v1h-1zM16 45h1v1h-1zM32 45h1v1h-1zM36 45h1v1h-1zM37 45h1v1h-1zM38 45h1v1h-1zM15 46h1v1h-1zM16 46h1v1h-1zM17 46h1v1h-1zM32 46h1v1h-1zM33 46h1v1h-1zM34 46h1v1h-1zM35 46h1v1h-1zM36 46h1v1h-1zM37 46h1v1h-1zM15 47h1v1h-1zM32 47h1v1h-1zM33 47h1v1h-1zM34 47h1v1h-1zM35 47h1v1h-1zM36 47h1v1h-1zM32 48h1v1h-1zM33 48h1v1h-1zM34 48h1v1h-1zM35 48h1v1h-1zM26 49h1v1h-1zM28 49h1v1h-1zM29 49h1v1h-1zM30 49h1v1h-1zM33 49h1v1h-1zM26 50h1v1h-1zM27 50h1v1h-1zM28 50h1v1h-1zM29 50h1v1h-1zM30 50h1v1h-1zM31 50h1v1h-1zM26 51h1v1h-1zM27 51h1v1h-1zM28 51h1v1h-1zM29 51h1v1h-1zM30 51h1v1h-1zM26 52h1v1h-1zM27 52h1v1h-1zM28 52h1v1h-1zM29 52h1v1h-1zM30 52h1v1h-1zM19 53h1v1h-1zM20 53h1v1h-1zM26 53h1v1h-1zM27 53h1v1h-1zM28 53h1v1h-1zM29 53h1v1h-1zM20 54h1v1h-1zM26 54h1v1h-1zM27 54h1v1h-1zM28 54h1v1h-1zM29 54h1v1h-1zM20 55h1v1h-1zM21 55h1v1h-1zM18 56h1v1h-1zM19 56h1v1h-1zM17 57h1v1h-1zM18 57h1v1h-1zM19 57h1v1h-1zM20 57h1v1h-1zM17 58h1v1h-1zM18 58h1v1h-1zM19 58h1v1h-1zM20 58h1v1h-1zM17 59h1v1h-1zM18 59h1v1h-1zM19 59h1v1h-1z" fill="#f59a5a"/>
<path d="M36 9h1v1h-1zM37 9h1v1h-1zM35 10h1v1h-1zM36 10h1v1h-1zM37 10h1v1h-1zM35 11h1v1h-1zM36 11h1v1h-1zM35 12h1v1h-1z" fill="#e35a4c"/>
<path d="M28 6h1v1h-1zM28 7h1v1h-1zM29 7h1v1h-1zM23 11h1v1h-1zM24 11h1v1h-1zM25 11h1v1h-1zM23 12h1v1h-1zM24 12h1v1h-1zM25 12h1v1h-1zM23 13h1v1h-1zM24 13h1v1h-1zM25 13h1v1h-1zM24 14h1v1h-1zM25 14h1v1h-1zM29 14h1v1h-1zM30 14h1v1h-1zM28 15h1v1h-1zM29 15h1v1h-1zM30 15h1v1h-1zM40 15h1v1h-1zM27 16h1v1h-1zM28 16h1v1h-1zM30 16h1v1h-1zM35 16h1v1h-1zM39 16h1v1h-1zM40 16h1v1h-1zM27 17h1v1h-1zM28 17h1v1h-1zM29 17h1v1h-1zM34 17h1v1h-1zM35 17h1v1h-1zM40 17h1v1h-1zM27 18h1v1h-1zM28 18h1v1h-1zM34 18h1v1h-1zM35 18h1v1h-1zM17 19h1v1h-1zM18 19h1v1h-1zM19 19h1v1h-1zM13 20h1v1h-1zM14 20h1v1h-1zM16 20h1v1h-1zM18 20h1v1h-1zM19 20h1v1h-1zM12 21h1v1h-1zM13 21h1v1h-1zM14 21h1v1h-1zM16 21h1v1h-1zM17 21h1v1h-1zM18 21h1v1h-1zM19 21h1v1h-1zM12 22h1v1h-1zM13 22h1v1h-1zM14 22h1v1h-1zM16 22h1v1h-1zM18 22h1v1h-1zM32 22h1v1h-1zM40 22h1v1h-1zM41 22h1v1h-1zM42 22h1v1h-1zM12 23h1v1h-1zM13 23h1v1h-1zM21 23h1v1h-1zM28 23h1v1h-1zM29 23h1v1h-1zM30 23h1v1h-1zM31 23h1v1h-1zM32 23h1v1h-1zM33 23h1v1h-1zM39 23h1v1h-1zM40 23h1v1h-1zM41 23h1v1h-1zM42 23h1v1h-1zM43 23h1v1h-1zM22 24h1v1h-1zM28 24h1v1h-1zM29 24h1v1h-1zM30 24h1v1h-1zM32 24h1v1h-1zM33 24h1v1h-1zM39 24h1v1h-1zM40 24h1v1h-1zM41 24h1v1h-1zM42 24h1v1h-1zM43 24h1v1h-1zM44 24h1v1h-1zM21 25h1v1h-1zM22 25h1v1h-1zM24 25h1v1h-1zM28 25h1v1h-1zM29 25h1v1h-1zM30 25h1v1h-1zM39 25h1v1h-1zM40 25h1v1h-1zM41 25h1v1h-1zM42 25h1v1h-1zM43 25h1v1h-1zM44 25h1v1h-1zM45 25h1v1h-1zM23 26h1v1h-1zM24 26h1v1h-1zM25 26h1v1h-1zM27 26h1v1h-1zM28 26h1v1h-1zM29 26h1v1h-1zM30 26h1v1h-1zM39 26h1v1h-1zM40 26h1v1h-1zM41 26h1v1h-1zM42 26h1v1h-1zM43 26h1v1h-1zM44 26h1v1h-1zM45 26h1v1h-1zM23 27h1v1h-1zM24 27h1v1h-1zM25 27h1v1h-1zM26 27h1v1h-1zM27 27h1v1h-1zM40 27h1v1h-1zM41 27h1v1h-1zM42 27h1v1h-1zM43 27h1v1h-1zM44 27h1v1h-1zM23 28h1v1h-1zM24 28h1v1h-1zM25 28h1v1h-1zM26 28h1v1h-1zM35 28h1v1h-1zM36 28h1v1h-1zM37 28h1v1h-1zM35 29h1v1h-1zM36 29h1v1h-1zM37 29h1v1h-1zM38 29h1v1h-1zM17 30h1v1h-1zM31 30h1v1h-1zM35 30h1v1h-1zM36 30h1v1h-1zM37 30h1v1h-1zM38 30h1v1h-1zM16 31h1v1h-1zM17 31h1v1h-1zM31 31h1v1h-1zM36 31h1v1h-1zM37 31h1v1h-1zM38 31h1v1h-1zM16 32h1v1h-1zM31 32h1v1h-1zM32 32h1v1h-1zM36 32h1v1h-1zM37 32h1v1h-1zM38 32h1v1h-1zM20 33h1v1h-1zM31 33h1v1h-1zM32 33h1v1h-1zM37 33h1v1h-1zM19 34h1v1h-1zM20 34h1v1h-1zM31 34h1v1h-1zM32 34h1v1h-1zM19 35h1v1h-1zM20 35h1v1h-1zM30 35h1v1h-1zM47 35h1v1h-1zM48 35h1v1h-1zM29 36h1v1h-1zM30 36h1v1h-1zM47 36h1v1h-1zM48 36h1v1h-1zM29 37h1v1h-1zM47 37h1v1h-1zM38 38h1v1h-1zM39 38h1v1h-1zM40 38h1v1h-1zM44 38h1v1h-1zM45 38h1v1h-1zM46 38h1v1h-1zM38 39h1v1h-1zM39 39h1v1h-1zM44 39h1v1h-1zM46 39h1v1h-1zM47 39h1v1h-1zM38 40h1v1h-1zM39 40h1v1h-1zM44 40h1v1h-1zM45 40h1v1h-1zM46 40h1v1h-1zM47 40h1v1h-1zM46 41h1v1h-1zM47 41h1v1h-1zM21 43h1v1h-1zM35 43h1v1h-1zM20 44h1v1h-1zM21 44h1v1h-1zM22 44h1v1h-1zM25 44h1v1h-1zM26 44h1v1h-1zM27 44h1v1h-1zM33 44h1v1h-1zM20 45h1v1h-1zM25 45h1v1h-1zM26 45h1v1h-1zM27 45h1v1h-1zM33 45h1v1h-1zM34 45h1v1h-1zM20 46h1v1h-1zM24 46h1v1h-1zM25 46h1v1h-1zM26 46h1v1h-1zM27 46h1v1h-1zM25 47h1v1h-1zM17 50h1v1h-1zM18 50h1v1h-1zM16 51h1v1h-1zM17 51h1v1h-1zM18 51h1v1h-1zM16 52h1v1h-1zM17 52h1v1h-1zM18 52h1v1h-1zM19 52h1v1h-1zM23 52h1v1h-1zM16 53h1v1h-1zM17 53h1v1h-1zM18 53h1v1h-1zM22 53h1v1h-1zM23 53h1v1h-1zM24 53h1v1h-1zM17 54h1v1h-1zM18 54h1v1h-1zM22 54h1v1h-1zM23 54h1v1h-1z" fill="#3d8cc4"/>
<path d="M24 16h1v1h-1zM25 16h1v1h-1zM24 17h1v1h-1zM25 17h1v1h-1zM24 18h1v1h-1zM12 25h1v1h-1zM13 25h1v1h-1zM14 25h1v1h-1zM6 26h1v1h-1zM11 26h1v1h-1zM12 26h1v1h-1zM14 26h1v1h-1zM6 27h1v1h-1zM11 27h1v1h-1zM12 27h1v1h-1zM13 27h1v1h-1zM14 27h1v1h-1zM4 28h1v1h-1zM5 28h1v1h-1zM7 28h1v1h-1zM8 28h1v1h-1zM9 28h1v1h-1zM11 28h1v1h-1zM6 29h1v1h-1zM7 29h1v1h-1zM8 29h1v1h-1zM9 29h1v1h-1zM11 29h1v1h-1zM12 29h1v1h-1zM6 30h1v1h-1zM7 30h1v1h-1zM8 30h1v1h-1zM9 30h1v1h-1zM24 30h1v1h-1zM28 30h1v1h-1zM6 31h1v1h-1zM7 31h1v1h-1zM8 31h1v1h-1zM14 31h1v1h-1zM15 31h1v1h-1zM28 31h1v1h-1zM40 45h1v1h-1zM41 45h1v1h-1zM38 46h1v1h-1zM39 46h1v1h-1zM40 46h1v1h-1zM38 47h1v1h-1zM39 47h1v1h-1zM40 47h1v1h-1zM36 48h1v1h-1zM37 48h1v1h-1zM38 48h1v1h-1zM39 48h1v1h-1zM34 49h1v1h-1zM35 49h1v1h-1zM36 49h1v1h-1zM33 50h1v1h-1zM34 50h1v1h-1zM35 50h1v1h-1zM36 50h1v1h-1zM33 51h1v1h-1zM34 51h1v1h-1zM35 51h1v1h-1zM33 52h1v1h-1zM34 52h1v1h-1zM22 57h1v1h-1zM23 57h1v1h-1zM24 57h1v1h-1zM21 58h1v1h-1zM22 58h1v1h-1zM23 58h1v1h-1zM24 58h1v1h-1zM25 58h1v1h-1zM20 59h1v1h-1zM22 59h1v1h-1zM23 59h1v1h-1zM25 59h1v1h-1zM19 60h1v1h-1zM20 60h1v1h-1zM21 60h1v1h-1zM22 60h1v1h-1zM23 60h1v1h-1zM24 60h1v1h-1zM19 61h1v1h-1zM20 61h1v1h-1zM21 61h1v1h-1zM23 61h1v1h-1zM19 62h1v1h-1zM20 62h1v1h-1zM21 62h1v1h-1zM22 62h1v1h-1zM23 62h1v1h-1zM19 63h1v1h-1zM20 63h1v1h-1zM21 63h1v1h-1zM22 63h1v1h-1z" fill="#d7303e"/>
<path d="M46 27h1v1h-1zM44 28h1v1h-1zM45 28h1v1h-1zM25 29h1v1h-1zM45 29h1v1h-1zM46 29h1v1h-1zM47 29h1v1h-1zM25 30h1v1h-1zM26 30h1v1h-1zM43 30h1v1h-1zM44 30h1v1h-1zM45 30h1v1h-1zM46 30h1v1h-1zM24 31h1v1h-1zM25 31h1v1h-1zM44 31h1v1h-1zM44 32h1v1h-1zM45 32h1v1h-1zM18 36h1v1h-1zM17 37h1v1h-1zM21 37h1v1h-1zM22 37h1v1h-1zM23 37h1v1h-1zM16 38h1v1h-1zM17 38h1v1h-1zM23 38h1v1h-1zM17 39h1v1h-1zM22 39h1v1h-1zM24 39h1v1h-1zM13 40h1v1h-1zM14 40h1v1h-1zM15 40h1v1h-1zM16 40h1v1h-1zM22 40h1v1h-1zM23 40h1v1h-1zM12 41h1v1h-1zM13 41h1v1h-1zM12 42h1v1h-1zM14 42h1v1h-1zM10 43h1v1h-1zM11 43h1v1h-1zM12 43h1v1h-1z" fill="#fff"/>
</g>
<rect x="341.3" y="151.2" width="21.8" height="4.0" rx="2.0" fill="#fff" fill-opacity="0.45"/><rect x="366.2" y="159.3" width="8.6" height="5.9" rx="2.6" fill="#fff" fill-opacity="0.45"/><rect x="420.3" y="176.4" width="9.5" height="6.6" rx="2.9" fill="#fff" fill-opacity="0.45"/><rect x="382.4" y="151.3" width="3.4" height="2.9" rx="1.6" fill="#fff" fill-opacity="0.45"/>
</g>
<polyline points="384.4,119.0 430.6,181.9" fill="none" stroke="#fff" stroke-width="0.7" stroke-opacity="0.85"/>
<polyline points="337.6,152.0 367.6,158.0 387.6,169.0 407.6,181.0 429.6,195.0" fill="none" stroke="#fff" stroke-width="0.7" stroke-opacity="0.85"/>
<polyline points="337.6,163.0 356.6,167.2 377.6,179.0 392.6,191.0 399.6,200.0" fill="none" stroke="#fff" stroke-width="0.7" stroke-opacity="0.85"/>
<polyline points="357.6,189.0 372.6,200.0" fill="none" stroke="#fff" stroke-width="0.7" stroke-opacity="0.85"/>
</g>
<rect x="337.6" y="119" width="91.5" height="80.8" fill="none" stroke="#8a8a8a" stroke-width="0.6"/>
<circle cx="418.3" cy="143.1" r="7.3" fill="#fff" stroke="#111" stroke-width="1"/>
<text x="418.3" y="146.7" font-size="10.5" text-anchor="middle">1</text>
<clipPath id="clip2"><rect x="471" y="35.4" width="91" height="80.6"/></clipPath>
<g clip-path="url(#clip2)">
<rect x="471" y="35.4" width="91" height="80.6" fill="#e9f59c"/>
<g filter="url(#soft)"><g transform="translate(516.5,75.7) rotate(-6) translate(-63.8,-63.8) scale(4.2,1.9)">
<path d="M7 9h1v1h-1zM15 11h1v1h-1zM16 11h1v1h-1zM17 11h1v1h-1zM5 12h1v1h-1zM6 12h1v1h-1zM9 12h1v1h-1zM10 12h1v1h-1zM15 12h1v1h-1zM19 12h1v1h-1zM20 12h1v1h-1zM21 12h1v1h-1zM22 12h1v1h-1zM8 13h1v1h-1zM9 13h1v1h-1zM10 13h1v1h-1zM18 13h1v1h-1zM26 14h1v1h-1zM27 14h1v1h-1zM4 15h1v1h-1zM5 15h1v1h-1zM6 15h1v1h-1zM27 15h1v1h-1zM4 16h1v1h-1zM5 16h1v1h-1zM27 16h1v1h-1zM4 17h1v1h-1zM5 17h1v1h-1zM6 17h1v1h-1zM7 17h1v1h-1zM16 17h1v1h-1zM17 17h1v1h-1zM18 17h1v1h-1zM19 17h1v1h-1zM27 17h1v1h-1zM4 18h1v1h-1zM5 18h1v1h-1zM6 18h1v1h-1zM13 18h1v1h-1zM14 18h1v1h-1zM15 18h1v1h-1zM21 18h1v1h-1zM5 19h1v1h-1zM15 19h1v1h-1zM16 19h1v1h-1zM20 19h1v1h-1zM21 19h1v1h-1zM26 19h1v1h-1zM16 20h1v1h-1zM24 20h1v1h-1zM25 20h1v1h-1zM26 20h1v1h-1zM6 21h1v1h-1zM7 21h1v1h-1zM19 21h1v1h-1zM4 22h1v1h-1zM5 22h1v1h-1zM6 22h1v1h-1zM23 22h1v1h-1zM4 23h1v1h-1zM5 23h1v1h-1zM13 24h1v1h-1zM17 24h1v1h-1zM18 24h1v1h-1zM23 26h1v1h-1zM11 27h1v1h-1zM12 27h1v1h-1zM23 28h1v1h-1zM6 29h1v1h-1zM12 29h1v1h-1zM5 30h1v1h-1zM6 30h1v1h-1zM12 30h1v1h-1zM21 30h1v1h-1zM5 31h1v1h-1zM6 31h1v1h-1zM12 31h1v1h-1zM13 31h1v1h-1zM14 31h1v1h-1zM15 31h1v1h-1zM5 32h1v1h-1zM6 32h1v1h-1zM10 33h1v1h-1zM11 33h1v1h-1zM18 33h1v1h-1zM19 33h1v1h-1zM20 33h1v1h-1zM18 34h1v1h-1zM18 37h1v1h-1zM19 37h1v1h-1zM21 37h1v1h-1zM4 38h1v1h-1zM8 38h1v1h-1zM9 38h1v1h-1zM10 38h1v1h-1zM11 38h1v1h-1zM12 38h1v1h-1zM16 38h1v1h-1zM17 38h1v1h-1zM23 38h1v1h-1zM24 38h1v1h-1zM23 39h1v1h-1zM4 40h1v1h-1zM5 40h1v1h-1zM18 42h1v1h-1zM19 42h1v1h-1zM3 44h1v1h-1zM4 44h1v1h-1zM12 44h1v1h-1zM13 44h1v1h-1zM3 45h1v1h-1zM3 46h1v1h-1zM24 46h1v1h-1zM11 47h1v1h-1zM12 47h1v1h-1zM17 47h1v1h-1zM24 47h1v1h-1zM25 47h1v1h-1zM15 48h1v1h-1zM7 49h1v1h-1zM16 49h1v1h-1zM24 49h1v1h-1zM25 49h1v1h-1zM14 50h1v1h-1zM15 50h1v1h-1zM23 50h1v1h-1zM24 50h1v1h-1zM25 50h1v1h-1zM12 53h1v1h-1zM22 54h1v1h-1zM17 55h1v1h-1zM24 55h1v1h-1zM25 55h1v1h-1zM24 56h1v1h-1z" fill="#d4ee93"/>
<path d="M5 13h1v1h-1zM19 13h1v1h-1zM20 13h1v1h-1zM23 13h1v1h-1zM5 14h1v1h-1zM6 14h1v1h-1zM7 14h1v1h-1zM8 14h1v1h-1zM9 14h1v1h-1zM10 14h1v1h-1zM11 14h1v1h-1zM12 14h1v1h-1zM13 14h1v1h-1zM17 14h1v1h-1zM18 14h1v1h-1zM23 14h1v1h-1zM24 14h1v1h-1zM25 14h1v1h-1zM10 15h1v1h-1zM11 15h1v1h-1zM12 15h1v1h-1zM13 15h1v1h-1zM14 15h1v1h-1zM18 15h1v1h-1zM22 15h1v1h-1zM11 16h1v1h-1zM12 16h1v1h-1zM18 16h1v1h-1zM22 16h1v1h-1zM11 17h1v1h-1zM14 17h1v1h-1zM15 17h1v1h-1zM25 17h1v1h-1zM11 18h1v1h-1zM6 19h1v1h-1zM12 19h1v1h-1zM13 19h1v1h-1zM14 19h1v1h-1zM21 20h1v1h-1zM22 20h1v1h-1zM5 21h1v1h-1zM10 21h1v1h-1zM16 21h1v1h-1zM17 21h1v1h-1zM18 21h1v1h-1zM26 21h1v1h-1zM7 22h1v1h-1zM8 22h1v1h-1zM9 22h1v1h-1zM10 22h1v1h-1zM11 22h1v1h-1zM12 22h1v1h-1zM21 22h1v1h-1zM25 22h1v1h-1zM11 23h1v1h-1zM23 24h1v1h-1zM24 24h1v1h-1zM14 25h1v1h-1zM15 25h1v1h-1zM16 25h1v1h-1zM17 25h1v1h-1zM18 25h1v1h-1zM6 26h1v1h-1zM15 26h1v1h-1zM16 26h1v1h-1zM20 26h1v1h-1zM21 26h1v1h-1zM22 26h1v1h-1zM4 27h1v1h-1zM5 27h1v1h-1zM6 27h1v1h-1zM7 27h1v1h-1zM15 27h1v1h-1zM21 27h1v1h-1zM4 28h1v1h-1zM5 28h1v1h-1zM6 28h1v1h-1zM7 28h1v1h-1zM13 28h1v1h-1zM14 28h1v1h-1zM7 29h1v1h-1zM8 29h1v1h-1zM26 30h1v1h-1zM17 32h1v1h-1zM24 32h1v1h-1zM9 33h1v1h-1zM22 33h1v1h-1zM23 33h1v1h-1zM24 33h1v1h-1zM26 33h1v1h-1zM19 34h1v1h-1zM20 34h1v1h-1zM26 34h1v1h-1zM6 35h1v1h-1zM7 35h1v1h-1zM11 35h1v1h-1zM16 35h1v1h-1zM20 35h1v1h-1zM26 35h1v1h-1zM6 36h1v1h-1zM7 36h1v1h-1zM8 36h1v1h-1zM9 36h1v1h-1zM11 36h1v1h-1zM16 36h1v1h-1zM17 36h1v1h-1zM26 36h1v1h-1zM9 37h1v1h-1zM16 37h1v1h-1zM17 37h1v1h-1zM10 39h1v1h-1zM11 39h1v1h-1zM12 39h1v1h-1zM17 39h1v1h-1zM18 39h1v1h-1zM19 40h1v1h-1zM20 40h1v1h-1zM21 40h1v1h-1zM22 40h1v1h-1zM4 41h1v1h-1zM9 41h1v1h-1zM19 41h1v1h-1zM20 41h1v1h-1zM21 41h1v1h-1zM22 41h1v1h-1zM5 42h1v1h-1zM10 42h1v1h-1zM11 42h1v1h-1zM20 42h1v1h-1zM21 42h1v1h-1zM25 42h1v1h-1zM10 43h1v1h-1zM11 43h1v1h-1zM13 43h1v1h-1zM11 44h1v1h-1zM11 45h1v1h-1zM12 45h1v1h-1zM13 45h1v1h-1zM17 45h1v1h-1zM18 45h1v1h-1zM11 46h1v1h-1zM12 46h1v1h-1zM13 46h1v1h-1zM22 46h1v1h-1zM23 46h1v1h-1zM13 47h1v1h-1zM22 47h1v1h-1zM13 48h1v1h-1zM16 48h1v1h-1zM17 48h1v1h-1zM18 48h1v1h-1zM19 48h1v1h-1zM25 48h1v1h-1zM5 49h1v1h-1zM13 49h1v1h-1zM17 49h1v1h-1zM18 49h1v1h-1zM19 49h1v1h-1zM16 50h1v1h-1zM13 51h1v1h-1zM14 51h1v1h-1zM15 51h1v1h-1zM16 51h1v1h-1zM24 51h1v1h-1zM25 51h1v1h-1zM13 52h1v1h-1zM14 52h1v1h-1zM15 52h1v1h-1zM16 52h1v1h-1zM17 52h1v1h-1zM21 52h1v1h-1zM22 52h1v1h-1zM23 52h1v1h-1zM24 52h1v1h-1zM25 52h1v1h-1zM9 53h1v1h-1zM14 53h1v1h-1zM15 53h1v1h-1zM16 53h1v1h-1zM17 53h1v1h-1zM15 54h1v1h-1zM16 54h1v1h-1zM15 56h1v1h-1zM16 56h1v1h-1zM19 56h1v1h-1zM20 56h1v1h-1zM21 56h1v1h-1zM22 56h1v1h-1zM23 56h1v1h-1zM25 56h1v1h-1zM20 57h1v1h-1zM21 57h1v1h-1zM22 57h1v1h-1zM23 57h1v1h-1z" fill="#fde28c"/>
<path d="M9 9h1v1h-1zM16 13h1v1h-1zM17 13h1v1h-1zM16 14h1v1h-1zM21 17h1v1h-1zM22 17h1v1h-1zM23 17h1v1h-1zM24 17h1v1h-1zM12 18h1v1h-1zM8 21h1v1h-1zM9 21h1v1h-1zM7 24h1v1h-1zM8 24h1v1h-1zM7 25h1v1h-1zM8 25h1v1h-1zM7 26h1v1h-1zM14 26h1v1h-1zM12 32h1v1h-1zM13 32h1v1h-1zM19 32h1v1h-1zM17 33h1v1h-1zM25 33h1v1h-1zM16 34h1v1h-1zM3 35h1v1h-1zM4 35h1v1h-1zM5 35h1v1h-1zM3 36h1v1h-1zM4 36h1v1h-1zM5 36h1v1h-1zM14 36h1v1h-1zM15 36h1v1h-1zM3 37h1v1h-1zM5 37h1v1h-1zM6 37h1v1h-1zM7 37h1v1h-1zM3 38h1v1h-1zM3 39h1v1h-1zM4 39h1v1h-1zM14 39h1v1h-1zM3 40h1v1h-1zM8 40h1v1h-1zM3 41h1v1h-1zM8 41h1v1h-1zM3 42h1v1h-1zM4 42h1v1h-1zM9 42h1v1h-1zM16 42h1v1h-1zM17 42h1v1h-1zM14 44h1v1h-1zM10 48h1v1h-1zM17 50h1v1h-1zM17 51h1v1h-1z" fill="#fbb871"/>
<path d="M5 8h1v1h-1zM5 9h1v1h-1zM6 9h1v1h-1zM5 10h1v1h-1zM6 10h1v1h-1zM7 10h1v1h-1zM8 10h1v1h-1zM5 11h1v1h-1zM6 11h1v1h-1zM7 11h1v1h-1zM18 11h1v1h-1zM7 12h1v1h-1zM8 12h1v1h-1zM11 12h1v1h-1zM12 12h1v1h-1zM16 12h1v1h-1zM17 12h1v1h-1zM18 12h1v1h-1zM11 13h1v1h-1zM12 13h1v1h-1zM13 13h1v1h-1zM24 15h1v1h-1zM23 16h1v1h-1zM9 17h1v1h-1zM9 18h1v1h-1zM4 19h1v1h-1zM4 20h1v1h-1zM5 20h1v1h-1zM6 20h1v1h-1zM7 20h1v1h-1zM13 20h1v1h-1zM23 20h1v1h-1zM4 21h1v1h-1zM13 21h1v1h-1zM14 21h1v1h-1zM15 21h1v1h-1zM23 21h1v1h-1zM24 21h1v1h-1zM25 21h1v1h-1zM13 22h1v1h-1zM15 22h1v1h-1zM16 22h1v1h-1zM17 22h1v1h-1zM22 23h1v1h-1zM23 23h1v1h-1zM24 23h1v1h-1zM25 23h1v1h-1zM26 23h1v1h-1zM10 24h1v1h-1zM12 24h1v1h-1zM14 24h1v1h-1zM26 24h1v1h-1zM5 25h1v1h-1zM12 25h1v1h-1zM13 25h1v1h-1zM26 25h1v1h-1zM9 26h1v1h-1zM8 27h1v1h-1zM9 27h1v1h-1zM10 27h1v1h-1zM22 27h1v1h-1zM23 27h1v1h-1zM8 28h1v1h-1zM9 28h1v1h-1zM10 28h1v1h-1zM11 28h1v1h-1zM9 29h1v1h-1zM10 29h1v1h-1zM11 29h1v1h-1zM24 29h1v1h-1zM21 31h1v1h-1zM22 31h1v1h-1zM14 32h1v1h-1zM15 32h1v1h-1zM16 32h1v1h-1zM21 32h1v1h-1zM22 32h1v1h-1zM14 33h1v1h-1zM15 33h1v1h-1zM16 33h1v1h-1zM14 34h1v1h-1zM17 34h1v1h-1zM17 35h1v1h-1zM4 37h1v1h-1zM22 37h1v1h-1zM23 37h1v1h-1zM26 37h1v1h-1zM16 40h1v1h-1zM10 41h1v1h-1zM12 43h1v1h-1zM9 45h1v1h-1zM15 45h1v1h-1zM16 45h1v1h-1zM16 46h1v1h-1zM17 46h1v1h-1zM18 46h1v1h-1zM3 47h1v1h-1zM14 47h1v1h-1zM18 47h1v1h-1zM20 47h1v1h-1zM21 47h1v1h-1zM20 48h1v1h-1zM21 48h1v1h-1zM22 48h1v1h-1zM9 49h1v1h-1zM20 49h1v1h-1zM21 49h1v1h-1zM22 49h1v1h-1zM23 49h1v1h-1zM9 50h1v1h-1zM21 50h1v1h-1zM22 50h1v1h-1zM9 51h1v1h-1zM9 52h1v1h-1zM10 52h1v1h-1zM4 53h1v1h-1zM8 53h1v1h-1zM7 54h1v1h-1zM8 54h1v1h-1zM9 54h1v1h-1zM10 54h1v1h-1zM13 54h1v1h-1zM14 54h1v1h-1zM23 54h1v1h-1zM25 54h1v1h-1zM16 55h1v1h-1zM20 55h1v1h-1zM17 56h1v1h-1zM18 56h1v1h-1zM24 57h1v1h-1zM25 57h1v1h-1zM24 58h1v1h-1zM25 58h1v1h-1z" fill="#9fd899"/>
<path d="M9 10h1v1h-1zM9 11h1v1h-1zM10 11h1v1h-1zM11 11h1v1h-1zM12 11h1v1h-1zM13 11h1v1h-1zM22 14h1v1h-1zM26 15h1v1h-1zM26 16h1v1h-1zM26 17h1v1h-1zM23 34h1v1h-1zM23 35h1v1h-1zM19 51h1v1h-1z" fill="#6aaed0"/>
<path d="M14 12h1v1h-1zM14 13h1v1h-1zM15 13h1v1h-1zM24 13h1v1h-1zM25 13h1v1h-1zM26 13h1v1h-1zM14 14h1v1h-1zM15 14h1v1h-1zM19 14h1v1h-1zM20 14h1v1h-1zM21 14h1v1h-1zM19 15h1v1h-1zM20 15h1v1h-1zM21 15h1v1h-1zM19 16h1v1h-1zM20 16h1v1h-1zM21 16h1v1h-1zM20 17h1v1h-1zM7 18h1v1h-1zM8 18h1v1h-1zM22 18h1v1h-1zM23 18h1v1h-1zM24 18h1v1h-1zM25 18h1v1h-1zM26 18h1v1h-1zM27 18h1v1h-1zM7 19h1v1h-1zM22 19h1v1h-1zM8 20h1v1h-1zM17 20h1v1h-1zM18 20h1v1h-1zM19 23h1v1h-1zM20 23h1v1h-1zM19 24h1v1h-1zM20 24h1v1h-1zM19 25h1v1h-1zM20 25h1v1h-1zM16 27h1v1h-1zM17 27h1v1h-1zM20 27h1v1h-1zM15 28h1v1h-1zM16 28h1v1h-1zM17 28h1v1h-1zM18 28h1v1h-1zM19 28h1v1h-1zM20 28h1v1h-1zM21 28h1v1h-1zM22 28h1v1h-1zM15 29h1v1h-1zM16 29h1v1h-1zM17 29h1v1h-1zM18 29h1v1h-1zM19 29h1v1h-1zM20 29h1v1h-1zM21 29h1v1h-1zM11 30h1v1h-1zM15 30h1v1h-1zM16 30h1v1h-1zM17 30h1v1h-1zM18 30h1v1h-1zM19 30h1v1h-1zM20 30h1v1h-1zM8 31h1v1h-1zM10 31h1v1h-1zM11 31h1v1h-1zM16 31h1v1h-1zM17 31h1v1h-1zM18 31h1v1h-1zM19 31h1v1h-1zM20 31h1v1h-1zM7 32h1v1h-1zM8 32h1v1h-1zM11 32h1v1h-1zM18 32h1v1h-1zM8 33h1v1h-1zM13 33h1v1h-1zM12 34h1v1h-1zM13 34h1v1h-1zM9 35h1v1h-1zM12 35h1v1h-1zM13 35h1v1h-1zM14 35h1v1h-1zM18 35h1v1h-1zM19 35h1v1h-1zM12 36h1v1h-1zM13 36h1v1h-1zM18 36h1v1h-1zM19 36h1v1h-1zM12 37h1v1h-1zM13 37h1v1h-1zM13 38h1v1h-1zM22 42h1v1h-1zM23 42h1v1h-1zM24 42h1v1h-1zM8 43h1v1h-1zM21 43h1v1h-1zM22 43h1v1h-1zM23 43h1v1h-1zM15 44h1v1h-1zM22 44h1v1h-1zM23 44h1v1h-1zM14 45h1v1h-1zM23 45h1v1h-1zM14 46h1v1h-1zM15 46h1v1h-1zM15 47h1v1h-1zM16 47h1v1h-1zM11 48h1v1h-1zM12 48h1v1h-1zM10 49h1v1h-1zM11 49h1v1h-1zM12 49h1v1h-1zM10 50h1v1h-1zM11 50h1v1h-1zM12 50h1v1h-1zM13 50h1v1h-1zM18 50h1v1h-1zM19 50h1v1h-1zM20 50h1v1h-1zM10 51h1v1h-1zM11 51h1v1h-1zM12 51h1v1h-1zM18 51h1v1h-1zM20 51h1v1h-1zM21 51h1v1h-1zM11 52h1v1h-1zM12 52h1v1h-1zM18 52h1v1h-1zM19 52h1v1h-1zM20 52h1v1h-1zM19 53h1v1h-1zM20 53h1v1h-1zM21 53h1v1h-1zM11 54h1v1h-1zM11 55h1v1h-1zM18 55h1v1h-1zM19 55h1v1h-1z" fill="#f59a5a"/>
<path d="M11 19h1v1h-1zM11 20h1v1h-1zM12 20h1v1h-1zM20 20h1v1h-1zM15 24h1v1h-1zM16 24h1v1h-1zM25 24h1v1h-1zM25 25h1v1h-1zM17 26h1v1h-1zM24 26h1v1h-1zM25 26h1v1h-1zM26 26h1v1h-1zM24 27h1v1h-1zM25 27h1v1h-1zM26 27h1v1h-1zM24 28h1v1h-1zM25 28h1v1h-1zM26 28h1v1h-1zM4 29h1v1h-1zM5 29h1v1h-1zM25 29h1v1h-1zM26 29h1v1h-1zM4 30h1v1h-1zM25 30h1v1h-1zM21 33h1v1h-1zM21 34h1v1h-1zM22 34h1v1h-1zM21 35h1v1h-1zM22 35h1v1h-1zM20 36h1v1h-1zM21 36h1v1h-1zM8 37h1v1h-1zM20 37h1v1h-1zM13 39h1v1h-1zM25 39h1v1h-1zM26 39h1v1h-1zM25 40h1v1h-1zM25 41h1v1h-1zM15 42h1v1h-1zM3 43h1v1h-1zM5 46h1v1h-1zM6 46h1v1h-1zM7 46h1v1h-1zM8 46h1v1h-1zM9 46h1v1h-1zM5 47h1v1h-1zM6 47h1v1h-1zM7 47h1v1h-1zM8 47h1v1h-1zM9 47h1v1h-1zM4 48h1v1h-1zM5 48h1v1h-1zM6 48h1v1h-1zM7 48h1v1h-1zM8 48h1v1h-1zM9 48h1v1h-1zM4 49h1v1h-1zM6 49h1v1h-1zM8 49h1v1h-1zM4 50h1v1h-1zM5 50h1v1h-1zM6 50h1v1h-1zM7 50h1v1h-1zM8 50h1v1h-1zM4 51h1v1h-1zM5 51h1v1h-1zM6 51h1v1h-1zM7 51h1v1h-1zM8 51h1v1h-1zM5 52h1v1h-1zM6 52h1v1h-1zM7 52h1v1h-1zM8 52h1v1h-1zM5 53h1v1h-1zM6 53h1v1h-1zM7 53h1v1h-1zM18 53h1v1h-1zM22 53h1v1h-1z" fill="#e35a4c"/>
<path d="M9 16h1v1h-1zM10 16h1v1h-1zM10 17h1v1h-1zM10 18h1v1h-1zM10 19h1v1h-1zM10 20h1v1h-1zM24 34h1v1h-1zM25 34h1v1h-1zM24 35h1v1h-1zM25 35h1v1h-1zM25 36h1v1h-1zM24 39h1v1h-1zM17 40h1v1h-1zM18 40h1v1h-1zM23 40h1v1h-1zM24 40h1v1h-1zM11 41h1v1h-1zM17 41h1v1h-1zM18 41h1v1h-1zM23 41h1v1h-1zM24 41h1v1h-1zM12 42h1v1h-1zM13 42h1v1h-1zM10 44h1v1h-1zM10 45h1v1h-1zM14 48h1v1h-1zM14 49h1v1h-1zM15 49h1v1h-1z" fill="#3d8cc4"/>
<path d="M11 24h1v1h-1zM11 25h1v1h-1zM4 31h1v1h-1zM4 32h1v1h-1zM7 41h1v1h-1zM6 42h1v1h-1zM7 42h1v1h-1zM8 42h1v1h-1zM6 43h1v1h-1zM7 43h1v1h-1zM23 47h1v1h-1zM23 48h1v1h-1zM24 48h1v1h-1z" fill="#d7303e"/>
</g>

</g>
<polyline points="471.0,51.4 490.0,49.4 505.0,50.9 542.0,50.9 562.0,51.4" fill="none" stroke="#fff" stroke-width="0.7" stroke-opacity="0.85"/>
<polyline points="471.0,59.8 484.3,59.8 511.0,61.4 562.0,60.4" fill="none" stroke="#fff" stroke-width="0.7" stroke-opacity="0.85"/>
<polyline points="484.3,59.8 484.3,97.4" fill="none" stroke="#fff" stroke-width="0.7" stroke-opacity="0.85"/>
<polyline points="506.5,35.4 506.5,50.2" fill="none" stroke="#fff" stroke-width="0.7" stroke-opacity="0.85"/>
<polyline points="515.4,61.4 515.4,76.8" fill="none" stroke="#fff" stroke-width="0.7" stroke-opacity="0.85"/>
<polyline points="481.4,99.0 499.0,91.4 515.4,76.8" fill="none" stroke="#fff" stroke-width="0.7" stroke-opacity="0.85"/>
<polyline points="501.0,85.4 537.0,82.4 562.0,78.4" fill="none" stroke="#fff" stroke-width="0.7" stroke-opacity="0.85"/>
<polyline points="471.0,101.4 511.0,100.4 562.0,98.4" fill="none" stroke="#fff" stroke-width="0.7" stroke-opacity="0.85"/>
<polyline points="540.0,79.4 540.5,91.4" fill="none" stroke="#fff" stroke-width="0.7" stroke-opacity="0.85"/>
<polyline points="539.0,35.4 541.0,40.4 557.0,42.9" fill="none" stroke="#fff" stroke-width="0.7" stroke-opacity="0.85"/>
</g>
<rect x="471" y="35.4" width="91" height="80.6" fill="none" stroke="#8a8a8a" stroke-width="0.6"/>
<circle cx="550.9" cy="56.1" r="7.3" fill="#fff" stroke="#111" stroke-width="1"/>
<text x="550.9" y="59.7" font-size="10.5" text-anchor="middle">2</text>
<clipPath id="clip3"><rect x="586.5" y="51.5" width="90.5" height="79"/></clipPath>
<g clip-path="url(#clip3)">
<rect x="586.5" y="51.5" width="90.5" height="79" fill="#e9f59c"/>
<g filter="url(#soft)"><g transform="translate(631.8,91.0) rotate(18) translate(-63.1,-63.1) scale(3.6,2.0)">
<path d="M23 7h1v1h-1zM27 9h1v1h-1zM15 10h1v1h-1zM20 10h1v1h-1zM27 10h1v1h-1zM15 11h1v1h-1zM20 11h1v1h-1zM15 12h1v1h-1zM16 12h1v1h-1zM19 12h1v1h-1zM24 12h1v1h-1zM10 13h1v1h-1zM13 13h1v1h-1zM14 13h1v1h-1zM15 13h1v1h-1zM16 13h1v1h-1zM17 13h1v1h-1zM24 13h1v1h-1zM12 14h1v1h-1zM13 14h1v1h-1zM14 14h1v1h-1zM15 14h1v1h-1zM7 15h1v1h-1zM17 15h1v1h-1zM7 16h1v1h-1zM25 16h1v1h-1zM26 16h1v1h-1zM27 16h1v1h-1zM28 16h1v1h-1zM26 17h1v1h-1zM27 17h1v1h-1zM28 17h1v1h-1zM23 18h1v1h-1zM24 18h1v1h-1zM25 18h1v1h-1zM26 18h1v1h-1zM28 18h1v1h-1zM22 19h1v1h-1zM14 20h1v1h-1zM24 20h1v1h-1zM25 20h1v1h-1zM29 20h1v1h-1zM8 21h1v1h-1zM16 21h1v1h-1zM24 21h1v1h-1zM25 21h1v1h-1zM29 21h1v1h-1zM16 22h1v1h-1zM17 22h1v1h-1zM18 22h1v1h-1zM19 22h1v1h-1zM23 22h1v1h-1zM24 22h1v1h-1zM25 22h1v1h-1zM27 22h1v1h-1zM29 22h1v1h-1zM20 23h1v1h-1zM23 23h1v1h-1zM26 23h1v1h-1zM29 23h1v1h-1zM19 24h1v1h-1zM24 24h1v1h-1zM29 24h1v1h-1zM12 25h1v1h-1zM13 25h1v1h-1zM10 26h1v1h-1zM11 26h1v1h-1zM12 26h1v1h-1zM13 26h1v1h-1zM19 26h1v1h-1zM20 26h1v1h-1zM21 26h1v1h-1zM22 26h1v1h-1zM11 27h1v1h-1zM21 27h1v1h-1zM22 27h1v1h-1zM23 27h1v1h-1zM24 27h1v1h-1zM30 27h1v1h-1zM22 28h1v1h-1zM23 28h1v1h-1zM24 28h1v1h-1zM20 30h1v1h-1zM18 32h1v1h-1zM19 32h1v1h-1zM19 33h1v1h-1zM5 34h1v1h-1zM12 34h1v1h-1zM30 35h1v1h-1zM31 35h1v1h-1zM21 36h1v1h-1zM31 36h1v1h-1zM32 36h1v1h-1zM14 37h1v1h-1zM17 37h1v1h-1zM21 37h1v1h-1zM22 37h1v1h-1zM28 37h1v1h-1zM29 37h1v1h-1zM30 37h1v1h-1zM31 37h1v1h-1zM32 37h1v1h-1zM8 38h1v1h-1zM26 38h1v1h-1zM25 39h1v1h-1zM26 39h1v1h-1zM32 39h1v1h-1zM9 40h1v1h-1zM28 40h1v1h-1zM29 40h1v1h-1zM30 40h1v1h-1zM31 40h1v1h-1zM32 40h1v1h-1zM13 41h1v1h-1zM14 41h1v1h-1zM15 41h1v1h-1zM16 41h1v1h-1zM22 41h1v1h-1zM29 41h1v1h-1zM30 41h1v1h-1zM14 42h1v1h-1zM18 42h1v1h-1zM32 43h1v1h-1zM33 43h1v1h-1zM27 44h1v1h-1zM32 44h1v1h-1zM33 44h1v1h-1zM10 45h1v1h-1zM27 45h1v1h-1zM12 46h1v1h-1zM14 46h1v1h-1zM15 46h1v1h-1zM27 46h1v1h-1zM28 46h1v1h-1zM14 47h1v1h-1zM15 47h1v1h-1zM16 47h1v1h-1zM23 47h1v1h-1zM24 47h1v1h-1zM19 48h1v1h-1zM14 49h1v1h-1zM19 49h1v1h-1zM20 49h1v1h-1zM21 49h1v1h-1zM22 49h1v1h-1zM23 49h1v1h-1zM11 50h1v1h-1zM22 50h1v1h-1zM11 51h1v1h-1zM12 51h1v1h-1zM13 51h1v1h-1zM14 51h1v1h-1zM9 52h1v1h-1zM19 52h1v1h-1zM8 53h1v1h-1zM9 53h1v1h-1zM10 53h1v1h-1zM11 53h1v1h-1zM12 53h1v1h-1zM13 53h1v1h-1zM14 53h1v1h-1zM15 53h1v1h-1zM8 54h1v1h-1zM9 54h1v1h-1zM10 54h1v1h-1zM8 55h1v1h-1zM8 56h1v1h-1zM10 56h1v1h-1zM12 56h1v1h-1zM8 57h1v1h-1zM8 58h1v1h-1z" fill="#d4ee93"/>
<path d="M26 7h1v1h-1zM26 8h1v1h-1zM18 9h1v1h-1zM19 9h1v1h-1zM22 9h1v1h-1zM16 10h1v1h-1zM17 10h1v1h-1zM18 10h1v1h-1zM19 10h1v1h-1zM18 11h1v1h-1zM19 11h1v1h-1zM18 12h1v1h-1zM23 15h1v1h-1zM23 16h1v1h-1zM17 17h1v1h-1zM11 18h1v1h-1zM17 18h1v1h-1zM11 19h1v1h-1zM12 19h1v1h-1zM17 19h1v1h-1zM18 19h1v1h-1zM19 19h1v1h-1zM20 19h1v1h-1zM21 19h1v1h-1zM21 21h1v1h-1zM21 22h1v1h-1zM22 22h1v1h-1zM21 23h1v1h-1zM22 23h1v1h-1zM25 24h1v1h-1zM28 24h1v1h-1zM26 25h1v1h-1zM27 25h1v1h-1zM28 25h1v1h-1zM29 25h1v1h-1zM25 26h1v1h-1zM26 26h1v1h-1zM28 26h1v1h-1zM29 26h1v1h-1zM17 27h1v1h-1zM18 27h1v1h-1zM25 27h1v1h-1zM26 27h1v1h-1zM27 27h1v1h-1zM28 27h1v1h-1zM25 28h1v1h-1zM26 28h1v1h-1zM17 29h1v1h-1zM18 29h1v1h-1zM19 29h1v1h-1zM8 30h1v1h-1zM9 30h1v1h-1zM10 30h1v1h-1zM11 30h1v1h-1zM14 30h1v1h-1zM18 30h1v1h-1zM19 30h1v1h-1zM12 31h1v1h-1zM14 31h1v1h-1zM15 31h1v1h-1zM16 31h1v1h-1zM18 31h1v1h-1zM19 31h1v1h-1zM27 31h1v1h-1zM28 31h1v1h-1zM29 31h1v1h-1zM14 32h1v1h-1zM15 32h1v1h-1zM16 32h1v1h-1zM17 32h1v1h-1zM23 32h1v1h-1zM26 32h1v1h-1zM27 32h1v1h-1zM14 33h1v1h-1zM15 33h1v1h-1zM16 33h1v1h-1zM24 33h1v1h-1zM27 33h1v1h-1zM31 33h1v1h-1zM7 34h1v1h-1zM13 34h1v1h-1zM14 34h1v1h-1zM15 34h1v1h-1zM24 34h1v1h-1zM13 35h1v1h-1zM14 35h1v1h-1zM15 35h1v1h-1zM16 35h1v1h-1zM11 36h1v1h-1zM12 36h1v1h-1zM13 36h1v1h-1zM24 36h1v1h-1zM11 37h1v1h-1zM13 37h1v1h-1zM13 38h1v1h-1zM14 38h1v1h-1zM15 38h1v1h-1zM16 38h1v1h-1zM17 38h1v1h-1zM18 38h1v1h-1zM22 38h1v1h-1zM18 40h1v1h-1zM26 40h1v1h-1zM27 40h1v1h-1zM28 41h1v1h-1zM6 42h1v1h-1zM7 42h1v1h-1zM25 42h1v1h-1zM27 42h1v1h-1zM25 43h1v1h-1zM27 47h1v1h-1zM25 48h1v1h-1zM26 48h1v1h-1zM21 51h1v1h-1z" fill="#fde28c"/>
<path d="M20 9h1v1h-1zM21 9h1v1h-1zM21 14h1v1h-1zM1 19h1v1h-1zM1 20h1v1h-1zM7 22h1v1h-1zM8 22h1v1h-1zM7 23h1v1h-1zM8 23h1v1h-1zM13 33h1v1h-1zM18 34h1v1h-1zM19 34h1v1h-1zM20 34h1v1h-1zM27 35h1v1h-1zM20 37h1v1h-1zM18 39h1v1h-1zM19 39h1v1h-1zM20 39h1v1h-1zM19 51h1v1h-1zM20 51h1v1h-1z" fill="#fbb871"/>
<path d="M26 4h1v1h-1zM24 5h1v1h-1zM24 6h1v1h-1zM20 7h1v1h-1zM21 7h1v1h-1zM24 7h1v1h-1zM25 7h1v1h-1zM17 9h1v1h-1zM24 9h1v1h-1zM24 10h1v1h-1zM26 11h1v1h-1zM27 11h1v1h-1zM12 12h1v1h-1zM13 12h1v1h-1zM27 12h1v1h-1zM12 13h1v1h-1zM26 13h1v1h-1zM27 13h1v1h-1zM24 14h1v1h-1zM25 14h1v1h-1zM26 14h1v1h-1zM27 14h1v1h-1zM28 14h1v1h-1zM11 15h1v1h-1zM12 15h1v1h-1zM15 15h1v1h-1zM26 15h1v1h-1zM5 16h1v1h-1zM6 16h1v1h-1zM15 16h1v1h-1zM5 17h1v1h-1zM6 17h1v1h-1zM7 17h1v1h-1zM9 17h1v1h-1zM23 17h1v1h-1zM22 18h1v1h-1zM5 19h1v1h-1zM23 19h1v1h-1zM24 19h1v1h-1zM25 19h1v1h-1zM26 19h1v1h-1zM5 20h1v1h-1zM5 21h1v1h-1zM6 21h1v1h-1zM22 21h1v1h-1zM23 21h1v1h-1zM26 21h1v1h-1zM26 22h1v1h-1zM10 23h1v1h-1zM11 23h1v1h-1zM12 23h1v1h-1zM13 23h1v1h-1zM14 23h1v1h-1zM15 23h1v1h-1zM24 23h1v1h-1zM25 23h1v1h-1zM2 24h1v1h-1zM10 24h1v1h-1zM11 24h1v1h-1zM14 24h1v1h-1zM15 24h1v1h-1zM18 24h1v1h-1zM22 24h1v1h-1zM2 25h1v1h-1zM7 25h1v1h-1zM10 25h1v1h-1zM11 25h1v1h-1zM17 25h1v1h-1zM18 25h1v1h-1zM19 25h1v1h-1zM20 25h1v1h-1zM22 25h1v1h-1zM23 25h1v1h-1zM24 25h1v1h-1zM25 25h1v1h-1zM23 26h1v1h-1zM24 26h1v1h-1zM7 27h1v1h-1zM29 27h1v1h-1zM28 28h1v1h-1zM29 28h1v1h-1zM30 28h1v1h-1zM3 29h1v1h-1zM22 29h1v1h-1zM28 29h1v1h-1zM29 29h1v1h-1zM30 29h1v1h-1zM3 30h1v1h-1zM4 30h1v1h-1zM15 30h1v1h-1zM16 30h1v1h-1zM17 30h1v1h-1zM28 30h1v1h-1zM3 31h1v1h-1zM17 31h1v1h-1zM6 32h1v1h-1zM28 32h1v1h-1zM29 32h1v1h-1zM30 32h1v1h-1zM31 32h1v1h-1zM6 33h1v1h-1zM8 33h1v1h-1zM9 33h1v1h-1zM25 33h1v1h-1zM26 33h1v1h-1zM28 33h1v1h-1zM29 33h1v1h-1zM30 33h1v1h-1zM8 34h1v1h-1zM9 34h1v1h-1zM25 34h1v1h-1zM30 34h1v1h-1zM31 34h1v1h-1zM17 35h1v1h-1zM18 35h1v1h-1zM19 35h1v1h-1zM20 35h1v1h-1zM21 35h1v1h-1zM9 38h1v1h-1zM10 38h1v1h-1zM11 38h1v1h-1zM12 38h1v1h-1zM20 38h1v1h-1zM30 38h1v1h-1zM31 38h1v1h-1zM32 38h1v1h-1zM10 39h1v1h-1zM11 39h1v1h-1zM12 39h1v1h-1zM13 39h1v1h-1zM14 39h1v1h-1zM15 39h1v1h-1zM16 39h1v1h-1zM17 39h1v1h-1zM30 39h1v1h-1zM31 39h1v1h-1zM11 40h1v1h-1zM12 40h1v1h-1zM13 40h1v1h-1zM15 40h1v1h-1zM16 40h1v1h-1zM17 40h1v1h-1zM17 41h1v1h-1zM18 41h1v1h-1zM20 41h1v1h-1zM21 41h1v1h-1zM8 42h1v1h-1zM9 42h1v1h-1zM12 42h1v1h-1zM13 42h1v1h-1zM17 42h1v1h-1zM20 42h1v1h-1zM23 42h1v1h-1zM24 42h1v1h-1zM6 43h1v1h-1zM7 43h1v1h-1zM8 43h1v1h-1zM9 43h1v1h-1zM12 43h1v1h-1zM17 43h1v1h-1zM18 43h1v1h-1zM24 43h1v1h-1zM6 44h1v1h-1zM8 44h1v1h-1zM9 44h1v1h-1zM17 44h1v1h-1zM24 44h1v1h-1zM6 45h1v1h-1zM7 45h1v1h-1zM8 45h1v1h-1zM18 45h1v1h-1zM24 45h1v1h-1zM25 45h1v1h-1zM26 45h1v1h-1zM6 46h1v1h-1zM13 46h1v1h-1zM21 46h1v1h-1zM29 46h1v1h-1zM11 47h1v1h-1zM12 47h1v1h-1zM13 47h1v1h-1zM21 47h1v1h-1zM22 47h1v1h-1zM12 48h1v1h-1zM13 48h1v1h-1zM14 48h1v1h-1zM18 48h1v1h-1zM22 48h1v1h-1zM12 49h1v1h-1zM13 49h1v1h-1zM12 50h1v1h-1zM13 50h1v1h-1zM14 50h1v1h-1zM15 50h1v1h-1zM9 51h1v1h-1zM10 51h1v1h-1zM15 51h1v1h-1zM14 52h1v1h-1zM15 52h1v1h-1zM16 52h1v1h-1zM16 53h1v1h-1zM10 55h1v1h-1zM11 55h1v1h-1zM12 55h1v1h-1zM13 55h1v1h-1zM9 57h1v1h-1zM10 57h1v1h-1zM9 58h1v1h-1z" fill="#9fd899"/>
<path d="M19 8h1v1h-1zM20 8h1v1h-1zM23 11h1v1h-1zM11 14h1v1h-1zM23 14h1v1h-1zM9 15h1v1h-1zM19 15h1v1h-1zM18 16h1v1h-1zM19 16h1v1h-1zM3 17h1v1h-1zM4 17h1v1h-1zM19 17h1v1h-1zM24 17h1v1h-1zM25 17h1v1h-1zM19 18h1v1h-1zM4 19h1v1h-1zM8 20h1v1h-1zM16 20h1v1h-1zM17 21h1v1h-1zM18 21h1v1h-1zM19 21h1v1h-1zM3 22h1v1h-1zM4 22h1v1h-1zM15 22h1v1h-1zM4 23h1v1h-1zM5 23h1v1h-1zM6 23h1v1h-1zM4 24h1v1h-1zM5 24h1v1h-1zM6 24h1v1h-1zM20 24h1v1h-1zM21 24h1v1h-1zM23 24h1v1h-1zM4 25h1v1h-1zM5 25h1v1h-1zM6 25h1v1h-1zM14 25h1v1h-1zM15 25h1v1h-1zM5 26h1v1h-1zM14 26h1v1h-1zM15 26h1v1h-1zM16 26h1v1h-1zM17 26h1v1h-1zM19 27h1v1h-1zM11 28h1v1h-1zM14 28h1v1h-1zM15 28h1v1h-1zM16 28h1v1h-1zM17 28h1v1h-1zM18 28h1v1h-1zM15 29h1v1h-1zM16 29h1v1h-1zM4 31h1v1h-1zM5 31h1v1h-1zM6 31h1v1h-1zM7 31h1v1h-1zM8 31h1v1h-1zM9 31h1v1h-1zM10 31h1v1h-1zM11 31h1v1h-1zM4 32h1v1h-1zM5 32h1v1h-1zM7 32h1v1h-1zM4 33h1v1h-1zM17 33h1v1h-1zM18 33h1v1h-1zM4 34h1v1h-1zM16 34h1v1h-1zM17 34h1v1h-1zM4 35h1v1h-1zM9 35h1v1h-1zM4 36h1v1h-1zM5 36h1v1h-1zM9 36h1v1h-1zM25 36h1v1h-1zM5 37h1v1h-1zM6 37h1v1h-1zM23 37h1v1h-1zM24 37h1v1h-1zM25 37h1v1h-1zM5 38h1v1h-1zM6 38h1v1h-1zM23 38h1v1h-1zM24 38h1v1h-1zM25 38h1v1h-1zM5 39h1v1h-1zM6 39h1v1h-1zM7 39h1v1h-1zM23 39h1v1h-1zM24 39h1v1h-1zM5 40h1v1h-1zM6 40h1v1h-1zM7 40h1v1h-1zM10 40h1v1h-1zM19 40h1v1h-1zM20 40h1v1h-1zM21 40h1v1h-1zM22 40h1v1h-1zM23 40h1v1h-1zM24 40h1v1h-1zM5 41h1v1h-1zM6 41h1v1h-1zM7 41h1v1h-1zM8 41h1v1h-1zM9 41h1v1h-1zM10 41h1v1h-1zM11 41h1v1h-1zM12 41h1v1h-1zM23 41h1v1h-1zM24 41h1v1h-1zM32 41h1v1h-1zM5 42h1v1h-1zM30 42h1v1h-1zM32 42h1v1h-1zM13 43h1v1h-1zM14 43h1v1h-1zM30 43h1v1h-1zM12 44h1v1h-1zM13 44h1v1h-1zM14 44h1v1h-1zM25 44h1v1h-1zM29 44h1v1h-1zM30 44h1v1h-1zM31 44h1v1h-1zM12 45h1v1h-1zM13 45h1v1h-1zM14 45h1v1h-1zM16 45h1v1h-1zM30 45h1v1h-1zM31 45h1v1h-1zM16 46h1v1h-1zM17 46h1v1h-1zM6 47h1v1h-1zM7 47h1v1h-1zM8 47h1v1h-1zM18 47h1v1h-1zM7 48h1v1h-1zM8 48h1v1h-1zM7 49h1v1h-1zM8 49h1v1h-1zM18 49h1v1h-1zM7 50h1v1h-1zM16 50h1v1h-1zM17 50h1v1h-1zM7 51h1v1h-1zM8 51h1v1h-1zM18 51h1v1h-1zM7 52h1v1h-1zM8 52h1v1h-1zM7 53h1v1h-1zM12 54h1v1h-1zM13 54h1v1h-1zM14 54h1v1h-1zM15 54h1v1h-1z" fill="#6aaed0"/>
<path d="M27 23h1v1h-1zM28 23h1v1h-1zM26 24h1v1h-1zM27 24h1v1h-1zM22 33h1v1h-1zM23 33h1v1h-1zM21 34h1v1h-1zM22 34h1v1h-1zM23 34h1v1h-1zM22 35h1v1h-1zM31 41h1v1h-1zM31 42h1v1h-1zM22 43h1v1h-1zM23 43h1v1h-1zM31 43h1v1h-1zM21 44h1v1h-1zM22 44h1v1h-1zM23 44h1v1h-1zM21 45h1v1h-1zM22 45h1v1h-1zM23 45h1v1h-1zM22 46h1v1h-1zM10 48h1v1h-1zM11 48h1v1h-1zM10 49h1v1h-1zM11 49h1v1h-1z" fill="#f59a5a"/>
<path d="M21 10h1v1h-1zM22 10h1v1h-1zM16 11h1v1h-1zM17 11h1v1h-1zM21 11h1v1h-1zM22 11h1v1h-1zM17 12h1v1h-1zM8 14h1v1h-1zM9 14h1v1h-1zM10 14h1v1h-1zM16 14h1v1h-1zM17 14h1v1h-1zM18 14h1v1h-1zM10 15h1v1h-1zM16 15h1v1h-1zM18 15h1v1h-1zM24 15h1v1h-1zM25 15h1v1h-1zM13 16h1v1h-1zM14 16h1v1h-1zM16 16h1v1h-1zM17 16h1v1h-1zM24 16h1v1h-1zM13 17h1v1h-1zM16 17h1v1h-1zM14 18h1v1h-1zM27 18h1v1h-1zM10 19h1v1h-1zM13 19h1v1h-1zM14 19h1v1h-1zM15 19h1v1h-1zM27 19h1v1h-1zM28 19h1v1h-1zM10 20h1v1h-1zM11 20h1v1h-1zM12 20h1v1h-1zM13 20h1v1h-1zM15 20h1v1h-1zM17 20h1v1h-1zM18 20h1v1h-1zM19 20h1v1h-1zM20 20h1v1h-1zM21 20h1v1h-1zM22 20h1v1h-1zM27 20h1v1h-1zM28 20h1v1h-1zM13 21h1v1h-1zM14 21h1v1h-1zM15 21h1v1h-1zM28 21h1v1h-1zM14 22h1v1h-1zM28 22h1v1h-1zM9 23h1v1h-1zM16 23h1v1h-1zM17 23h1v1h-1zM18 23h1v1h-1zM19 23h1v1h-1zM8 24h1v1h-1zM9 24h1v1h-1zM12 24h1v1h-1zM13 24h1v1h-1zM16 24h1v1h-1zM17 24h1v1h-1zM3 25h1v1h-1zM8 25h1v1h-1zM9 25h1v1h-1zM16 25h1v1h-1zM3 26h1v1h-1zM4 26h1v1h-1zM3 27h1v1h-1zM4 27h1v1h-1zM5 27h1v1h-1zM6 27h1v1h-1zM8 27h1v1h-1zM4 28h1v1h-1zM5 28h1v1h-1zM6 28h1v1h-1zM7 28h1v1h-1zM8 28h1v1h-1zM12 28h1v1h-1zM13 28h1v1h-1zM27 28h1v1h-1zM4 29h1v1h-1zM5 29h1v1h-1zM6 29h1v1h-1zM7 29h1v1h-1zM8 29h1v1h-1zM12 29h1v1h-1zM13 29h1v1h-1zM14 29h1v1h-1zM24 29h1v1h-1zM25 29h1v1h-1zM26 29h1v1h-1zM27 29h1v1h-1zM5 30h1v1h-1zM6 30h1v1h-1zM7 30h1v1h-1zM12 30h1v1h-1zM13 30h1v1h-1zM24 30h1v1h-1zM25 30h1v1h-1zM26 30h1v1h-1zM27 30h1v1h-1zM13 31h1v1h-1zM20 31h1v1h-1zM21 31h1v1h-1zM22 31h1v1h-1zM24 31h1v1h-1zM25 31h1v1h-1zM26 31h1v1h-1zM20 32h1v1h-1zM21 32h1v1h-1zM22 32h1v1h-1zM5 33h1v1h-1zM7 33h1v1h-1zM6 34h1v1h-1zM5 35h1v1h-1zM6 35h1v1h-1zM6 36h1v1h-1zM14 36h1v1h-1zM15 36h1v1h-1zM16 36h1v1h-1zM17 36h1v1h-1zM18 36h1v1h-1zM19 36h1v1h-1zM20 36h1v1h-1zM9 37h1v1h-1zM10 37h1v1h-1zM15 37h1v1h-1zM16 37h1v1h-1zM18 37h1v1h-1zM19 37h1v1h-1zM26 37h1v1h-1zM27 37h1v1h-1zM19 38h1v1h-1zM21 38h1v1h-1zM27 38h1v1h-1zM21 39h1v1h-1zM22 39h1v1h-1zM8 40h1v1h-1zM10 42h1v1h-1zM11 42h1v1h-1zM15 42h1v1h-1zM16 42h1v1h-1zM10 43h1v1h-1zM11 43h1v1h-1zM15 43h1v1h-1zM16 43h1v1h-1zM10 44h1v1h-1zM11 44h1v1h-1zM15 44h1v1h-1zM16 44h1v1h-1zM9 45h1v1h-1zM11 45h1v1h-1zM9 46h1v1h-1zM10 46h1v1h-1zM9 47h1v1h-1zM10 47h1v1h-1zM9 48h1v1h-1zM9 49h1v1h-1zM16 51h1v1h-1zM17 51h1v1h-1zM10 52h1v1h-1zM11 52h1v1h-1zM12 52h1v1h-1zM13 52h1v1h-1zM11 54h1v1h-1zM9 55h1v1h-1z" fill="#3d8cc4"/>
<path d="M10 17h1v1h-1zM11 17h1v1h-1zM18 17h1v1h-1zM9 18h1v1h-1zM10 18h1v1h-1zM18 18h1v1h-1zM20 27h1v1h-1zM12 35h1v1h-1z" fill="#d7303e"/>
<path d="M23 6h1v1h-1zM22 8h1v1h-1zM23 8h1v1h-1zM24 8h1v1h-1zM25 8h1v1h-1zM25 9h1v1h-1zM23 10h1v1h-1zM25 10h1v1h-1zM26 10h1v1h-1zM24 11h1v1h-1zM25 11h1v1h-1zM21 12h1v1h-1zM22 12h1v1h-1zM23 12h1v1h-1zM25 12h1v1h-1zM26 12h1v1h-1zM20 13h1v1h-1zM21 13h1v1h-1zM22 13h1v1h-1zM23 13h1v1h-1zM25 13h1v1h-1zM19 14h1v1h-1zM22 14h1v1h-1zM20 15h1v1h-1zM21 15h1v1h-1zM20 16h1v1h-1zM21 16h1v1h-1zM22 16h1v1h-1zM20 17h1v1h-1zM21 17h1v1h-1zM22 17h1v1h-1zM21 18h1v1h-1zM2 19h1v1h-1zM2 20h1v1h-1zM2 22h1v1h-1zM11 33h1v1h-1zM12 33h1v1h-1zM11 34h1v1h-1zM8 36h1v1h-1zM7 37h1v1h-1zM8 37h1v1h-1zM7 38h1v1h-1zM8 39h1v1h-1zM9 39h1v1h-1zM18 44h1v1h-1zM17 45h1v1h-1zM18 46h1v1h-1z" fill="#fff"/>
</g>
<rect x="585.8" y="52.3" width="2.9" height="4.4" rx="1.6" fill="#fff" fill-opacity="0.45"/><rect x="649.8" y="58.3" width="8.6" height="12.4" rx="3.6" fill="#fff" fill-opacity="0.45"/><rect x="657.8" y="51.3" width="18.4" height="14.4" rx="5.6" fill="#fff" fill-opacity="0.45"/><rect x="591.8" y="90.3" width="10.4" height="5.9" rx="2.6" fill="#fff" fill-opacity="0.45"/><rect x="609.8" y="88.3" width="4.4" height="4.4" rx="2.1" fill="#fff" fill-opacity="0.45"/><rect x="620.8" y="115.9" width="8.4" height="4.5" rx="2.1" fill="#fff" fill-opacity="0.45"/>
<polygon points="586.5,50.5 677.5,50.5 677.5,54.0 646.5,54.5 626.5,53.5 606.5,54.5 586.5,54.0" fill="#f8f9f4"/>
<polygon points="586.5,122.5 601.5,120.5 616.5,118.5 631.5,120.5 643.5,126.5 647.5,131.5 586.5,131.5" fill="#f8f9f4"/>
</g>
<path transform="translate(631.8,91.0) rotate(18)" d="M-57 -63.1h11M-46 -63.1h11M-35 -63.1h10M-25 -63.1h12M-13 -63.1h10M-3 -63.1h17M14 -63.1h17M31 -63.1h8M38 -63.1h18M56 -63.1h11M-63 -52.2h11M-52 -52.2h11M-41 -52.2h14M-27 -52.2h13M-14 -52.2h13M23 -52.2h10M-63 -40.9h7M-49 -40.9h12M-4 -40.9h14M10 -40.9h18M35 -40.9h10M45 -40.9h6M52 -40.9h16M-63 -31.4h19M-44 -31.4h16M-13 -31.4h16M2 -31.4h9M11 -31.4h20M31 -31.4h14M45 -31.4h18M63 -31.4h13M-47 -23.3h18M-29 -23.3h9M-20 -23.3h19M-1 -23.3h11M11 -23.3h16M37 -23.3h17M61 -23.3h16M-63 -14.1h19M-44 -14.1h9M-35 -14.1h11M-13 -14.1h15M3 -14.1h15M18 -14.1h15M32 -14.1h13M46 -14.1h18M-53 -3.5h7M-46 -3.5h12M-34 -3.5h9M-25 -3.5h8M-17 -3.5h14M-3 -3.5h8M6 -3.5h19M25 -3.5h14M54 -3.5h15M-63 5.7h13M-50 5.7h17M-33 5.7h10M-23 5.7h14M-9 5.7h18M9 5.7h11M20 5.7h14M34 5.7h14M47 5.7h6M53 5.7h8M62 5.7h18M-63 14.2h16M-31 14.2h8M-14 14.2h17M4 14.2h8M12 14.2h16M47 14.2h19M-63 24.2h20M-43 24.2h10M-25 24.2h7M-6 24.2h17M11 24.2h18M29 24.2h10M38 24.2h12M50 24.2h18M-63 35.3h16M-47 35.3h13M-34 35.3h17M-17 35.3h11M3 35.3h6M9 35.3h13M22 35.3h14M-37 46.3h17M-20 46.3h9M11 46.3h11M22 46.3h19M41 46.3h11M52 46.3h12M-35 55.8h10M-9 55.8h15M7 55.8h16M23 55.8h11M34 55.8h12M63 55.8h8" stroke="#fff" stroke-width="0.8" stroke-opacity="0.85" fill="none"/>
<path transform="translate(631.8,91.0) rotate(-62)" d="M-63 -63.1h15M-48 -63.1h18M-30 -63.1h17M-13 -63.1h14M1 -63.1h15M16 -63.1h13M61 -63.1h11M-45 -50.1h17M-28 -50.1h17M-11 -50.1h14M3 -50.1h7M10 -50.1h18M50 -50.1h12M61 -50.1h20M-63 -36.6h17M-33 -36.6h14M-2 -36.6h14M12 -36.6h11M43 -36.6h6M58 -36.6h9M-42 -20.0h17M-25 -20.0h17M-8 -20.0h9M1 -20.0h16M27 -20.0h9M36 -20.0h7M43 -20.0h18M62 -20.0h8M-32 -4.1h11M-21 -4.1h8M-12 -4.1h6M43 -4.1h16M59 -4.1h12M-63 8.4h9M-46 8.4h14M-32 8.4h18M5 8.4h10M32 8.4h17M49 8.4h14M-63 21.8h12M-11 21.8h13M19 21.8h14M34 21.8h19M53 21.8h7M60 21.8h6M-63 38.1h20M-25 38.1h16M-9 38.1h10M0 38.1h14M14 38.1h16M30 38.1h14M44 38.1h15M59 38.1h10M-8 51.4h16M7 51.4h13M21 51.4h12M52 51.4h17" stroke="#fff" stroke-width="0.8" stroke-opacity="0.85" fill="none"/>
</g>
<line x1="586.5" y1="51.5" x2="586.5" y2="130.5" stroke="#999" stroke-width="0.6"/>
<circle cx="665.9" cy="71.5" r="7.3" fill="#fff" stroke="#111" stroke-width="1"/>
<text x="665.9" y="75.1" font-size="10.5" text-anchor="middle">3</text>
<clipPath id="clip4"><rect x="337.6" y="368.7" width="91.3" height="76.2"/></clipPath>
<g clip-path="url(#clip4)">
<rect x="337.6" y="368.7" width="91.3" height="76.2" fill="#fbb871"/>
<g filter="url(#soft3)"><g transform="translate(383.2,406.8) rotate(35) translate(-62.5,-62.5) scale(2.4,1.9)">
<path d="M29 3h1v1h-1zM29 4h1v1h-1zM30 4h1v1h-1zM31 4h1v1h-1zM32 4h1v1h-1zM34 4h1v1h-1zM31 5h1v1h-1zM32 5h1v1h-1zM33 5h1v1h-1zM34 5h1v1h-1zM35 5h1v1h-1zM27 6h1v1h-1zM34 8h1v1h-1zM23 9h1v1h-1zM24 9h1v1h-1zM25 9h1v1h-1zM21 11h1v1h-1zM33 11h1v1h-1zM34 11h1v1h-1zM20 12h1v1h-1zM31 12h1v1h-1zM32 12h1v1h-1zM33 12h1v1h-1zM34 12h1v1h-1zM25 13h1v1h-1zM31 13h1v1h-1zM32 13h1v1h-1zM33 13h1v1h-1zM34 13h1v1h-1zM17 14h1v1h-1zM18 14h1v1h-1zM30 14h1v1h-1zM18 15h1v1h-1zM23 15h1v1h-1zM24 15h1v1h-1zM33 15h1v1h-1zM15 16h1v1h-1zM16 16h1v1h-1zM18 16h1v1h-1zM19 16h1v1h-1zM28 16h1v1h-1zM33 16h1v1h-1zM35 16h1v1h-1zM31 17h1v1h-1zM14 18h1v1h-1zM29 18h1v1h-1zM30 18h1v1h-1zM31 18h1v1h-1zM40 18h1v1h-1zM41 18h1v1h-1zM42 18h1v1h-1zM15 19h1v1h-1zM16 19h1v1h-1zM23 19h1v1h-1zM28 19h1v1h-1zM29 19h1v1h-1zM30 19h1v1h-1zM31 19h1v1h-1zM33 19h1v1h-1zM34 19h1v1h-1zM16 20h1v1h-1zM19 20h1v1h-1zM23 20h1v1h-1zM24 20h1v1h-1zM25 20h1v1h-1zM28 20h1v1h-1zM29 20h1v1h-1zM30 20h1v1h-1zM31 20h1v1h-1zM32 20h1v1h-1zM33 20h1v1h-1zM19 21h1v1h-1zM20 21h1v1h-1zM28 21h1v1h-1zM29 21h1v1h-1zM32 21h1v1h-1zM33 21h1v1h-1zM34 21h1v1h-1zM42 21h1v1h-1zM43 21h1v1h-1zM14 22h1v1h-1zM19 22h1v1h-1zM20 22h1v1h-1zM20 23h1v1h-1zM21 23h1v1h-1zM22 23h1v1h-1zM45 23h1v1h-1zM14 24h1v1h-1zM15 24h1v1h-1zM29 24h1v1h-1zM14 25h1v1h-1zM15 25h1v1h-1zM16 25h1v1h-1zM17 25h1v1h-1zM19 25h1v1h-1zM3 26h1v1h-1zM4 26h1v1h-1zM5 26h1v1h-1zM6 26h1v1h-1zM7 26h1v1h-1zM13 26h1v1h-1zM14 26h1v1h-1zM15 26h1v1h-1zM16 26h1v1h-1zM17 26h1v1h-1zM34 26h1v1h-1zM35 26h1v1h-1zM10 27h1v1h-1zM11 27h1v1h-1zM12 27h1v1h-1zM13 27h1v1h-1zM14 27h1v1h-1zM15 27h1v1h-1zM16 27h1v1h-1zM17 27h1v1h-1zM18 27h1v1h-1zM20 27h1v1h-1zM21 27h1v1h-1zM23 27h1v1h-1zM24 27h1v1h-1zM33 27h1v1h-1zM34 27h1v1h-1zM35 27h1v1h-1zM1 28h1v1h-1zM2 28h1v1h-1zM3 28h1v1h-1zM10 28h1v1h-1zM11 28h1v1h-1zM12 28h1v1h-1zM13 28h1v1h-1zM14 28h1v1h-1zM17 28h1v1h-1zM18 28h1v1h-1zM20 28h1v1h-1zM21 28h1v1h-1zM22 28h1v1h-1zM23 28h1v1h-1zM24 28h1v1h-1zM25 28h1v1h-1zM26 28h1v1h-1zM34 28h1v1h-1zM35 28h1v1h-1zM42 28h1v1h-1zM1 29h1v1h-1zM2 29h1v1h-1zM3 29h1v1h-1zM4 29h1v1h-1zM5 29h1v1h-1zM12 29h1v1h-1zM13 29h1v1h-1zM14 29h1v1h-1zM31 29h1v1h-1zM32 29h1v1h-1zM33 29h1v1h-1zM34 29h1v1h-1zM35 29h1v1h-1zM39 29h1v1h-1zM42 29h1v1h-1zM43 29h1v1h-1zM3 30h1v1h-1zM4 30h1v1h-1zM5 30h1v1h-1zM6 30h1v1h-1zM7 30h1v1h-1zM12 30h1v1h-1zM13 30h1v1h-1zM14 30h1v1h-1zM15 30h1v1h-1zM30 30h1v1h-1zM35 30h1v1h-1zM38 30h1v1h-1zM39 30h1v1h-1zM48 30h1v1h-1zM2 31h1v1h-1zM3 31h1v1h-1zM4 31h1v1h-1zM5 31h1v1h-1zM20 31h1v1h-1zM24 31h1v1h-1zM30 31h1v1h-1zM32 31h1v1h-1zM33 31h1v1h-1zM34 31h1v1h-1zM1 32h1v1h-1zM4 32h1v1h-1zM7 32h1v1h-1zM8 32h1v1h-1zM20 32h1v1h-1zM28 32h1v1h-1zM30 32h1v1h-1zM31 32h1v1h-1zM32 32h1v1h-1zM33 32h1v1h-1zM34 32h1v1h-1zM35 32h1v1h-1zM43 32h1v1h-1zM44 32h1v1h-1zM48 32h1v1h-1zM49 32h1v1h-1zM50 32h1v1h-1zM3 33h1v1h-1zM4 33h1v1h-1zM5 33h1v1h-1zM6 33h1v1h-1zM7 33h1v1h-1zM16 33h1v1h-1zM19 33h1v1h-1zM21 33h1v1h-1zM22 33h1v1h-1zM32 33h1v1h-1zM47 33h1v1h-1zM3 34h1v1h-1zM4 34h1v1h-1zM5 34h1v1h-1zM6 34h1v1h-1zM7 34h1v1h-1zM21 34h1v1h-1zM45 34h1v1h-1zM3 35h1v1h-1zM5 35h1v1h-1zM6 35h1v1h-1zM7 35h1v1h-1zM22 35h1v1h-1zM45 35h1v1h-1zM3 36h1v1h-1zM5 36h1v1h-1zM6 36h1v1h-1zM23 36h1v1h-1zM40 36h1v1h-1zM21 37h1v1h-1zM24 37h1v1h-1zM25 37h1v1h-1zM37 37h1v1h-1zM35 38h1v1h-1zM44 38h1v1h-1zM47 38h1v1h-1zM48 38h1v1h-1zM49 38h1v1h-1zM44 39h1v1h-1zM47 39h1v1h-1zM11 40h1v1h-1zM12 40h1v1h-1zM13 40h1v1h-1zM14 40h1v1h-1zM15 40h1v1h-1zM16 40h1v1h-1zM19 40h1v1h-1zM41 40h1v1h-1zM42 40h1v1h-1zM43 40h1v1h-1zM12 41h1v1h-1zM14 41h1v1h-1zM17 41h1v1h-1zM19 41h1v1h-1zM41 41h1v1h-1zM42 41h1v1h-1zM43 41h1v1h-1zM44 41h1v1h-1zM45 41h1v1h-1zM16 42h1v1h-1zM17 42h1v1h-1zM18 42h1v1h-1zM19 42h1v1h-1zM41 42h1v1h-1zM42 42h1v1h-1zM43 42h1v1h-1zM44 42h1v1h-1zM16 43h1v1h-1zM17 43h1v1h-1zM18 43h1v1h-1zM43 43h1v1h-1zM16 44h1v1h-1zM17 45h1v1h-1zM41 45h1v1h-1zM17 46h1v1h-1zM18 46h1v1h-1zM19 46h1v1h-1zM24 46h1v1h-1zM35 46h1v1h-1zM14 48h1v1h-1zM23 48h1v1h-1zM33 48h1v1h-1zM34 48h1v1h-1zM35 48h1v1h-1zM36 48h1v1h-1zM23 49h1v1h-1zM24 49h1v1h-1zM30 49h1v1h-1zM31 49h1v1h-1zM32 49h1v1h-1zM33 49h1v1h-1zM36 49h1v1h-1zM29 50h1v1h-1zM30 50h1v1h-1zM31 50h1v1h-1zM29 51h1v1h-1zM30 51h1v1h-1zM31 51h1v1h-1zM32 51h1v1h-1zM24 58h1v1h-1zM25 58h1v1h-1zM18 60h1v1h-1zM19 60h1v1h-1zM20 60h1v1h-1zM22 60h1v1h-1zM23 60h1v1h-1zM24 60h1v1h-1zM17 61h1v1h-1zM18 61h1v1h-1zM21 61h1v1h-1zM22 61h1v1h-1zM23 61h1v1h-1zM18 62h1v1h-1zM18 63h1v1h-1zM19 63h1v1h-1zM19 64h1v1h-1z" fill="#e9f59c"/>
<path d="M30 3h1v1h-1zM28 4h1v1h-1zM28 5h1v1h-1zM28 6h1v1h-1zM29 6h1v1h-1zM25 7h1v1h-1zM35 7h1v1h-1zM31 9h1v1h-1zM32 9h1v1h-1zM33 9h1v1h-1zM34 9h1v1h-1zM35 9h1v1h-1zM36 9h1v1h-1zM37 9h1v1h-1zM21 10h1v1h-1zM22 10h1v1h-1zM23 10h1v1h-1zM24 10h1v1h-1zM32 10h1v1h-1zM33 10h1v1h-1zM20 11h1v1h-1zM32 11h1v1h-1zM19 12h1v1h-1zM34 14h1v1h-1zM32 15h1v1h-1zM34 15h1v1h-1zM35 15h1v1h-1zM36 15h1v1h-1zM37 15h1v1h-1zM17 16h1v1h-1zM24 16h1v1h-1zM25 16h1v1h-1zM32 16h1v1h-1zM14 17h1v1h-1zM15 17h1v1h-1zM16 17h1v1h-1zM17 17h1v1h-1zM21 17h1v1h-1zM22 17h1v1h-1zM23 17h1v1h-1zM24 17h1v1h-1zM32 17h1v1h-1zM33 17h1v1h-1zM34 17h1v1h-1zM35 17h1v1h-1zM15 18h1v1h-1zM16 18h1v1h-1zM17 18h1v1h-1zM18 18h1v1h-1zM19 18h1v1h-1zM20 18h1v1h-1zM21 18h1v1h-1zM22 18h1v1h-1zM23 18h1v1h-1zM24 18h1v1h-1zM32 18h1v1h-1zM33 18h1v1h-1zM34 18h1v1h-1zM39 18h1v1h-1zM17 19h1v1h-1zM18 19h1v1h-1zM22 19h1v1h-1zM24 19h1v1h-1zM32 19h1v1h-1zM39 19h1v1h-1zM40 19h1v1h-1zM41 19h1v1h-1zM17 20h1v1h-1zM18 20h1v1h-1zM34 20h1v1h-1zM35 20h1v1h-1zM36 20h1v1h-1zM39 20h1v1h-1zM40 20h1v1h-1zM41 20h1v1h-1zM25 21h1v1h-1zM41 21h1v1h-1zM34 22h1v1h-1zM35 22h1v1h-1zM36 22h1v1h-1zM43 22h1v1h-1zM44 22h1v1h-1zM28 23h1v1h-1zM30 23h1v1h-1zM43 23h1v1h-1zM44 23h1v1h-1zM19 24h1v1h-1zM21 24h1v1h-1zM28 24h1v1h-1zM30 24h1v1h-1zM43 24h1v1h-1zM44 24h1v1h-1zM20 25h1v1h-1zM21 25h1v1h-1zM22 25h1v1h-1zM27 25h1v1h-1zM28 25h1v1h-1zM29 25h1v1h-1zM43 25h1v1h-1zM44 25h1v1h-1zM45 25h1v1h-1zM46 25h1v1h-1zM9 26h1v1h-1zM43 26h1v1h-1zM44 26h1v1h-1zM45 26h1v1h-1zM46 26h1v1h-1zM2 27h1v1h-1zM3 27h1v1h-1zM4 27h1v1h-1zM25 27h1v1h-1zM31 27h1v1h-1zM45 27h1v1h-1zM46 27h1v1h-1zM47 27h1v1h-1zM4 28h1v1h-1zM5 28h1v1h-1zM33 28h1v1h-1zM46 28h1v1h-1zM26 29h1v1h-1zM46 29h1v1h-1zM47 29h1v1h-1zM26 30h1v1h-1zM27 30h1v1h-1zM28 30h1v1h-1zM31 30h1v1h-1zM32 30h1v1h-1zM40 30h1v1h-1zM47 30h1v1h-1zM8 31h1v1h-1zM9 31h1v1h-1zM10 31h1v1h-1zM11 31h1v1h-1zM12 31h1v1h-1zM13 31h1v1h-1zM14 31h1v1h-1zM25 31h1v1h-1zM26 31h1v1h-1zM27 31h1v1h-1zM28 31h1v1h-1zM29 31h1v1h-1zM31 31h1v1h-1zM35 31h1v1h-1zM37 31h1v1h-1zM42 31h1v1h-1zM44 31h1v1h-1zM45 31h1v1h-1zM47 31h1v1h-1zM48 31h1v1h-1zM2 32h1v1h-1zM3 32h1v1h-1zM9 32h1v1h-1zM11 32h1v1h-1zM12 32h1v1h-1zM13 32h1v1h-1zM14 32h1v1h-1zM15 32h1v1h-1zM19 32h1v1h-1zM23 32h1v1h-1zM25 32h1v1h-1zM26 32h1v1h-1zM27 32h1v1h-1zM45 32h1v1h-1zM46 32h1v1h-1zM47 32h1v1h-1zM2 33h1v1h-1zM10 33h1v1h-1zM11 33h1v1h-1zM12 33h1v1h-1zM13 33h1v1h-1zM20 33h1v1h-1zM23 33h1v1h-1zM27 33h1v1h-1zM36 33h1v1h-1zM39 33h1v1h-1zM42 33h1v1h-1zM43 33h1v1h-1zM44 33h1v1h-1zM45 33h1v1h-1zM46 33h1v1h-1zM2 34h1v1h-1zM10 34h1v1h-1zM11 34h1v1h-1zM16 34h1v1h-1zM17 34h1v1h-1zM18 34h1v1h-1zM23 34h1v1h-1zM24 34h1v1h-1zM25 34h1v1h-1zM26 34h1v1h-1zM33 34h1v1h-1zM34 34h1v1h-1zM35 34h1v1h-1zM36 34h1v1h-1zM42 34h1v1h-1zM43 34h1v1h-1zM44 34h1v1h-1zM4 35h1v1h-1zM14 35h1v1h-1zM15 35h1v1h-1zM16 35h1v1h-1zM17 35h1v1h-1zM23 35h1v1h-1zM26 35h1v1h-1zM31 35h1v1h-1zM32 35h1v1h-1zM33 35h1v1h-1zM34 35h1v1h-1zM35 35h1v1h-1zM36 35h1v1h-1zM42 35h1v1h-1zM43 35h1v1h-1zM44 35h1v1h-1zM50 35h1v1h-1zM51 35h1v1h-1zM4 36h1v1h-1zM12 36h1v1h-1zM13 36h1v1h-1zM14 36h1v1h-1zM15 36h1v1h-1zM16 36h1v1h-1zM17 36h1v1h-1zM31 36h1v1h-1zM32 36h1v1h-1zM33 36h1v1h-1zM34 36h1v1h-1zM35 36h1v1h-1zM42 36h1v1h-1zM44 36h1v1h-1zM45 36h1v1h-1zM50 36h1v1h-1zM51 36h1v1h-1zM4 37h1v1h-1zM12 37h1v1h-1zM13 37h1v1h-1zM14 37h1v1h-1zM15 37h1v1h-1zM29 37h1v1h-1zM30 37h1v1h-1zM31 37h1v1h-1zM32 37h1v1h-1zM33 37h1v1h-1zM34 37h1v1h-1zM35 37h1v1h-1zM44 37h1v1h-1zM50 37h1v1h-1zM12 38h1v1h-1zM13 38h1v1h-1zM14 38h1v1h-1zM15 38h1v1h-1zM17 38h1v1h-1zM23 38h1v1h-1zM29 38h1v1h-1zM30 38h1v1h-1zM31 38h1v1h-1zM32 38h1v1h-1zM33 38h1v1h-1zM34 38h1v1h-1zM36 38h1v1h-1zM37 38h1v1h-1zM45 38h1v1h-1zM7 39h1v1h-1zM12 39h1v1h-1zM13 39h1v1h-1zM23 39h1v1h-1zM24 39h1v1h-1zM25 39h1v1h-1zM26 39h1v1h-1zM27 39h1v1h-1zM28 39h1v1h-1zM29 39h1v1h-1zM30 39h1v1h-1zM31 39h1v1h-1zM32 39h1v1h-1zM33 39h1v1h-1zM37 39h1v1h-1zM45 39h1v1h-1zM46 39h1v1h-1zM22 40h1v1h-1zM23 40h1v1h-1zM24 40h1v1h-1zM25 40h1v1h-1zM26 40h1v1h-1zM27 40h1v1h-1zM28 40h1v1h-1zM29 40h1v1h-1zM30 40h1v1h-1zM31 40h1v1h-1zM32 40h1v1h-1zM33 40h1v1h-1zM34 40h1v1h-1zM46 40h1v1h-1zM13 41h1v1h-1zM22 41h1v1h-1zM34 41h1v1h-1zM35 41h1v1h-1zM36 41h1v1h-1zM37 41h1v1h-1zM38 41h1v1h-1zM39 41h1v1h-1zM40 41h1v1h-1zM20 42h1v1h-1zM21 42h1v1h-1zM27 42h1v1h-1zM30 42h1v1h-1zM31 42h1v1h-1zM8 43h1v1h-1zM10 43h1v1h-1zM11 43h1v1h-1zM12 43h1v1h-1zM13 43h1v1h-1zM19 43h1v1h-1zM20 43h1v1h-1zM31 43h1v1h-1zM37 43h1v1h-1zM8 44h1v1h-1zM9 44h1v1h-1zM10 44h1v1h-1zM19 44h1v1h-1zM20 44h1v1h-1zM8 45h1v1h-1zM9 45h1v1h-1zM10 45h1v1h-1zM19 45h1v1h-1zM20 45h1v1h-1zM21 45h1v1h-1zM9 46h1v1h-1zM10 46h1v1h-1zM11 46h1v1h-1zM20 46h1v1h-1zM25 46h1v1h-1zM39 46h1v1h-1zM9 47h1v1h-1zM10 47h1v1h-1zM20 47h1v1h-1zM34 47h1v1h-1zM35 47h1v1h-1zM10 48h1v1h-1zM11 48h1v1h-1zM12 48h1v1h-1zM28 48h1v1h-1zM29 48h1v1h-1zM10 49h1v1h-1zM11 49h1v1h-1zM12 49h1v1h-1zM13 49h1v1h-1zM29 49h1v1h-1zM13 50h1v1h-1zM25 50h1v1h-1zM32 50h1v1h-1zM33 50h1v1h-1zM34 50h1v1h-1zM35 50h1v1h-1zM33 51h1v1h-1zM34 51h1v1h-1zM32 52h1v1h-1zM33 52h1v1h-1zM22 54h1v1h-1zM15 55h1v1h-1zM16 56h1v1h-1zM26 58h1v1h-1zM23 59h1v1h-1z" fill="#fde28c"/>
<path d="M15 28h1v1h-1zM16 28h1v1h-1zM15 29h1v1h-1zM16 29h1v1h-1zM46 30h1v1h-1zM6 31h1v1h-1zM7 31h1v1h-1zM5 32h1v1h-1zM6 32h1v1h-1zM17 39h1v1h-1zM17 40h1v1h-1zM17 44h1v1h-1zM16 45h1v1h-1zM16 46h1v1h-1z" fill="#9fd899"/>
<path d="M29 5h1v1h-1zM30 5h1v1h-1zM26 6h1v1h-1zM30 6h1v1h-1zM31 6h1v1h-1zM32 6h1v1h-1zM33 6h1v1h-1zM32 7h1v1h-1zM33 7h1v1h-1zM34 7h1v1h-1zM34 10h1v1h-1zM35 10h1v1h-1zM36 10h1v1h-1zM37 10h1v1h-1zM35 11h1v1h-1zM36 11h1v1h-1zM37 11h1v1h-1zM35 12h1v1h-1zM35 13h1v1h-1zM36 13h1v1h-1zM37 13h1v1h-1zM38 13h1v1h-1zM39 13h1v1h-1zM38 14h1v1h-1zM39 14h1v1h-1zM30 16h1v1h-1zM36 16h1v1h-1zM35 18h1v1h-1zM38 19h1v1h-1zM42 19h1v1h-1zM10 20h1v1h-1zM11 20h1v1h-1zM12 20h1v1h-1zM13 20h1v1h-1zM42 20h1v1h-1zM43 20h1v1h-1zM26 21h1v1h-1zM27 21h1v1h-1zM35 21h1v1h-1zM36 21h1v1h-1zM25 22h1v1h-1zM26 22h1v1h-1zM27 22h1v1h-1zM28 22h1v1h-1zM31 22h1v1h-1zM32 22h1v1h-1zM33 22h1v1h-1zM7 23h1v1h-1zM8 23h1v1h-1zM9 23h1v1h-1zM10 23h1v1h-1zM24 23h1v1h-1zM25 23h1v1h-1zM26 23h1v1h-1zM27 23h1v1h-1zM32 23h1v1h-1zM33 23h1v1h-1zM34 23h1v1h-1zM36 23h1v1h-1zM41 23h1v1h-1zM6 24h1v1h-1zM7 24h1v1h-1zM24 24h1v1h-1zM25 24h1v1h-1zM26 24h1v1h-1zM27 24h1v1h-1zM32 24h1v1h-1zM5 25h1v1h-1zM6 25h1v1h-1zM7 25h1v1h-1zM23 25h1v1h-1zM24 25h1v1h-1zM25 25h1v1h-1zM26 25h1v1h-1zM24 26h1v1h-1zM25 26h1v1h-1zM32 28h1v1h-1zM47 28h1v1h-1zM11 29h1v1h-1zM38 31h1v1h-1zM39 31h1v1h-1zM40 31h1v1h-1zM41 31h1v1h-1zM46 31h1v1h-1zM29 32h1v1h-1zM37 32h1v1h-1zM38 32h1v1h-1zM39 32h1v1h-1zM40 32h1v1h-1zM41 32h1v1h-1zM8 33h1v1h-1zM14 33h1v1h-1zM15 33h1v1h-1zM24 33h1v1h-1zM28 33h1v1h-1zM29 33h1v1h-1zM30 33h1v1h-1zM31 33h1v1h-1zM33 33h1v1h-1zM34 33h1v1h-1zM35 33h1v1h-1zM37 33h1v1h-1zM38 33h1v1h-1zM40 33h1v1h-1zM41 33h1v1h-1zM8 34h1v1h-1zM9 34h1v1h-1zM12 34h1v1h-1zM22 34h1v1h-1zM27 34h1v1h-1zM28 34h1v1h-1zM29 34h1v1h-1zM30 34h1v1h-1zM31 34h1v1h-1zM32 34h1v1h-1zM37 34h1v1h-1zM38 34h1v1h-1zM39 34h1v1h-1zM40 34h1v1h-1zM41 34h1v1h-1zM21 35h1v1h-1zM27 35h1v1h-1zM29 35h1v1h-1zM30 35h1v1h-1zM37 35h1v1h-1zM38 35h1v1h-1zM39 35h1v1h-1zM40 35h1v1h-1zM18 36h1v1h-1zM19 36h1v1h-1zM20 36h1v1h-1zM21 36h1v1h-1zM26 36h1v1h-1zM27 36h1v1h-1zM28 36h1v1h-1zM29 36h1v1h-1zM30 36h1v1h-1zM36 36h1v1h-1zM37 36h1v1h-1zM38 36h1v1h-1zM39 36h1v1h-1zM41 36h1v1h-1zM18 37h1v1h-1zM19 37h1v1h-1zM20 37h1v1h-1zM26 37h1v1h-1zM27 37h1v1h-1zM28 37h1v1h-1zM38 37h1v1h-1zM41 37h1v1h-1zM42 37h1v1h-1zM8 38h1v1h-1zM18 38h1v1h-1zM19 38h1v1h-1zM22 38h1v1h-1zM24 38h1v1h-1zM25 38h1v1h-1zM26 38h1v1h-1zM27 38h1v1h-1zM28 38h1v1h-1zM41 38h1v1h-1zM42 38h1v1h-1zM10 39h1v1h-1zM19 39h1v1h-1zM21 39h1v1h-1zM42 39h1v1h-1zM43 39h1v1h-1zM20 40h1v1h-1zM21 40h1v1h-1zM35 40h1v1h-1zM36 40h1v1h-1zM37 40h1v1h-1zM44 40h1v1h-1zM45 40h1v1h-1zM9 41h1v1h-1zM14 42h1v1h-1zM15 42h1v1h-1zM39 42h1v1h-1zM40 42h1v1h-1zM14 43h1v1h-1zM15 43h1v1h-1zM21 43h1v1h-1zM27 43h1v1h-1zM28 43h1v1h-1zM29 43h1v1h-1zM30 43h1v1h-1zM39 43h1v1h-1zM40 43h1v1h-1zM11 44h1v1h-1zM12 44h1v1h-1zM13 44h1v1h-1zM14 44h1v1h-1zM15 44h1v1h-1zM21 44h1v1h-1zM27 44h1v1h-1zM28 44h1v1h-1zM29 44h1v1h-1zM30 44h1v1h-1zM35 44h1v1h-1zM36 44h1v1h-1zM40 44h1v1h-1zM12 45h1v1h-1zM13 45h1v1h-1zM14 45h1v1h-1zM15 45h1v1h-1zM29 45h1v1h-1zM35 45h1v1h-1zM40 45h1v1h-1zM12 46h1v1h-1zM13 46h1v1h-1zM14 46h1v1h-1zM15 46h1v1h-1zM11 47h1v1h-1zM12 47h1v1h-1zM13 47h1v1h-1zM14 47h1v1h-1zM15 47h1v1h-1zM16 47h1v1h-1zM17 47h1v1h-1zM21 47h1v1h-1zM22 47h1v1h-1zM23 47h1v1h-1zM24 47h1v1h-1zM13 48h1v1h-1zM37 48h1v1h-1zM11 50h1v1h-1zM13 51h1v1h-1zM15 51h1v1h-1zM25 52h1v1h-1zM26 52h1v1h-1zM27 52h1v1h-1zM29 52h1v1h-1zM30 52h1v1h-1zM31 52h1v1h-1zM24 53h1v1h-1zM25 53h1v1h-1zM26 53h1v1h-1zM27 53h1v1h-1zM28 53h1v1h-1zM29 53h1v1h-1zM30 53h1v1h-1zM31 53h1v1h-1zM24 54h1v1h-1zM25 54h1v1h-1zM26 54h1v1h-1zM27 54h1v1h-1zM28 54h1v1h-1zM29 54h1v1h-1zM30 54h1v1h-1zM23 55h1v1h-1zM24 55h1v1h-1zM25 55h1v1h-1zM26 55h1v1h-1zM27 55h1v1h-1zM28 55h1v1h-1zM29 55h1v1h-1zM17 56h1v1h-1zM23 56h1v1h-1zM24 56h1v1h-1zM25 56h1v1h-1zM26 56h1v1h-1zM23 57h1v1h-1zM24 57h1v1h-1zM25 57h1v1h-1zM24 59h1v1h-1zM25 59h1v1h-1zM19 61h1v1h-1z" fill="#f59a5a"/>
<path d="M26 7h1v1h-1zM27 7h1v1h-1zM28 7h1v1h-1zM36 7h1v1h-1zM25 8h1v1h-1zM26 8h1v1h-1zM27 8h1v1h-1zM28 8h1v1h-1zM29 8h1v1h-1zM33 8h1v1h-1zM26 9h1v1h-1zM27 9h1v1h-1zM28 9h1v1h-1zM29 9h1v1h-1zM25 10h1v1h-1zM26 10h1v1h-1zM27 10h1v1h-1zM28 10h1v1h-1zM29 10h1v1h-1zM30 10h1v1h-1zM25 11h1v1h-1zM26 11h1v1h-1zM27 11h1v1h-1zM28 11h1v1h-1zM29 11h1v1h-1zM30 11h1v1h-1zM38 11h1v1h-1zM25 12h1v1h-1zM26 12h1v1h-1zM29 12h1v1h-1zM30 12h1v1h-1zM36 12h1v1h-1zM37 12h1v1h-1zM38 12h1v1h-1zM26 13h1v1h-1zM27 13h1v1h-1zM28 13h1v1h-1zM29 13h1v1h-1zM30 13h1v1h-1zM27 14h1v1h-1zM28 14h1v1h-1zM29 14h1v1h-1zM40 14h1v1h-1zM40 15h1v1h-1zM22 16h1v1h-1zM23 16h1v1h-1zM40 16h1v1h-1zM41 16h1v1h-1zM18 17h1v1h-1zM19 17h1v1h-1zM20 17h1v1h-1zM40 17h1v1h-1zM41 17h1v1h-1zM12 18h1v1h-1zM13 18h1v1h-1zM21 19h1v1h-1zM35 19h1v1h-1zM36 19h1v1h-1zM14 20h1v1h-1zM37 20h1v1h-1zM38 20h1v1h-1zM17 21h1v1h-1zM18 21h1v1h-1zM39 21h1v1h-1zM16 22h1v1h-1zM17 22h1v1h-1zM18 22h1v1h-1zM24 22h1v1h-1zM16 23h1v1h-1zM17 23h1v1h-1zM18 23h1v1h-1zM19 23h1v1h-1zM16 24h1v1h-1zM17 24h1v1h-1zM18 24h1v1h-1zM20 24h1v1h-1zM22 24h1v1h-1zM30 25h1v1h-1zM31 25h1v1h-1zM32 25h1v1h-1zM26 26h1v1h-1zM27 26h1v1h-1zM28 26h1v1h-1zM29 26h1v1h-1zM30 26h1v1h-1zM31 26h1v1h-1zM32 26h1v1h-1zM36 26h1v1h-1zM42 26h1v1h-1zM26 27h1v1h-1zM27 27h1v1h-1zM28 27h1v1h-1zM29 27h1v1h-1zM30 27h1v1h-1zM32 27h1v1h-1zM36 27h1v1h-1zM42 27h1v1h-1zM43 27h1v1h-1zM27 28h1v1h-1zM28 28h1v1h-1zM29 28h1v1h-1zM30 28h1v1h-1zM31 28h1v1h-1zM36 28h1v1h-1zM37 28h1v1h-1zM40 28h1v1h-1zM41 28h1v1h-1zM0 29h1v1h-1zM27 29h1v1h-1zM28 29h1v1h-1zM29 29h1v1h-1zM30 29h1v1h-1zM36 29h1v1h-1zM37 29h1v1h-1zM38 29h1v1h-1zM40 29h1v1h-1zM41 29h1v1h-1zM0 30h1v1h-1zM1 30h1v1h-1zM2 30h1v1h-1zM36 30h1v1h-1zM1 31h1v1h-1zM36 31h1v1h-1zM49 31h1v1h-1zM36 32h1v1h-1zM42 32h1v1h-1zM49 33h1v1h-1zM50 33h1v1h-1zM13 34h1v1h-1zM47 34h1v1h-1zM48 34h1v1h-1zM49 34h1v1h-1zM50 34h1v1h-1zM8 35h1v1h-1zM9 35h1v1h-1zM10 35h1v1h-1zM11 35h1v1h-1zM46 35h1v1h-1zM47 35h1v1h-1zM48 35h1v1h-1zM49 35h1v1h-1zM7 36h1v1h-1zM8 36h1v1h-1zM9 36h1v1h-1zM10 36h1v1h-1zM43 36h1v1h-1zM46 36h1v1h-1zM47 36h1v1h-1zM48 36h1v1h-1zM49 36h1v1h-1zM7 37h1v1h-1zM8 37h1v1h-1zM9 37h1v1h-1zM16 37h1v1h-1zM40 37h1v1h-1zM45 37h1v1h-1zM46 37h1v1h-1zM47 37h1v1h-1zM48 37h1v1h-1zM7 38h1v1h-1zM9 38h1v1h-1zM10 38h1v1h-1zM16 38h1v1h-1zM40 38h1v1h-1zM43 38h1v1h-1zM46 38h1v1h-1zM6 39h1v1h-1zM8 39h1v1h-1zM9 39h1v1h-1zM40 39h1v1h-1zM41 39h1v1h-1zM6 40h1v1h-1zM40 40h1v1h-1zM6 41h1v1h-1zM21 41h1v1h-1zM23 41h1v1h-1zM24 41h1v1h-1zM25 41h1v1h-1zM22 42h1v1h-1zM23 42h1v1h-1zM24 42h1v1h-1zM25 42h1v1h-1zM22 43h1v1h-1zM23 43h1v1h-1zM24 43h1v1h-1zM25 43h1v1h-1zM22 44h1v1h-1zM23 44h1v1h-1zM24 44h1v1h-1zM25 44h1v1h-1zM37 44h1v1h-1zM38 44h1v1h-1zM39 44h1v1h-1zM41 44h1v1h-1zM22 45h1v1h-1zM23 45h1v1h-1zM24 45h1v1h-1zM27 45h1v1h-1zM28 45h1v1h-1zM36 45h1v1h-1zM37 45h1v1h-1zM38 45h1v1h-1zM39 45h1v1h-1zM22 46h1v1h-1zM23 46h1v1h-1zM26 46h1v1h-1zM27 46h1v1h-1zM28 46h1v1h-1zM36 46h1v1h-1zM37 46h1v1h-1zM38 46h1v1h-1zM25 47h1v1h-1zM26 47h1v1h-1zM27 47h1v1h-1zM28 47h1v1h-1zM36 47h1v1h-1zM37 47h1v1h-1zM38 47h1v1h-1zM18 48h1v1h-1zM19 48h1v1h-1zM20 48h1v1h-1zM25 48h1v1h-1zM26 48h1v1h-1zM27 48h1v1h-1zM19 49h1v1h-1zM20 49h1v1h-1zM21 49h1v1h-1zM22 49h1v1h-1zM12 50h1v1h-1zM19 50h1v1h-1zM20 50h1v1h-1zM21 50h1v1h-1zM22 50h1v1h-1zM12 51h1v1h-1zM20 51h1v1h-1zM21 51h1v1h-1zM22 51h1v1h-1zM23 51h1v1h-1zM24 51h1v1h-1zM25 51h1v1h-1zM26 51h1v1h-1zM27 51h1v1h-1zM28 51h1v1h-1zM12 52h1v1h-1zM13 52h1v1h-1zM20 52h1v1h-1zM28 52h1v1h-1zM13 53h1v1h-1zM14 53h1v1h-1zM13 54h1v1h-1zM14 54h1v1h-1zM19 54h1v1h-1zM20 54h1v1h-1zM21 54h1v1h-1zM14 55h1v1h-1zM19 55h1v1h-1zM20 55h1v1h-1zM21 55h1v1h-1zM22 55h1v1h-1zM14 56h1v1h-1zM15 56h1v1h-1zM18 56h1v1h-1zM19 56h1v1h-1zM20 56h1v1h-1zM22 56h1v1h-1zM28 56h1v1h-1zM15 57h1v1h-1zM16 57h1v1h-1zM17 57h1v1h-1zM18 57h1v1h-1zM19 57h1v1h-1zM20 57h1v1h-1zM21 57h1v1h-1zM22 57h1v1h-1zM15 58h1v1h-1zM16 58h1v1h-1zM17 58h1v1h-1zM18 58h1v1h-1zM19 58h1v1h-1zM20 58h1v1h-1zM21 58h1v1h-1zM22 58h1v1h-1zM23 58h1v1h-1zM16 59h1v1h-1zM17 59h1v1h-1zM18 59h1v1h-1zM19 59h1v1h-1zM20 59h1v1h-1zM21 59h1v1h-1zM22 59h1v1h-1zM17 60h1v1h-1zM20 62h1v1h-1zM21 62h1v1h-1zM20 63h1v1h-1z" fill="#e35a4c"/>
<path d="M38 38h1v1h-1zM39 38h1v1h-1zM38 39h1v1h-1zM39 39h1v1h-1zM38 40h1v1h-1zM39 40h1v1h-1z" fill="#3d8cc4"/>
<path d="M22 11h1v1h-1zM23 11h1v1h-1zM24 11h1v1h-1zM21 12h1v1h-1zM22 12h1v1h-1zM23 12h1v1h-1zM24 12h1v1h-1zM27 12h1v1h-1zM20 13h1v1h-1zM21 13h1v1h-1zM22 13h1v1h-1zM23 13h1v1h-1zM24 13h1v1h-1zM20 14h1v1h-1zM21 14h1v1h-1zM22 14h1v1h-1zM23 14h1v1h-1zM24 14h1v1h-1zM25 14h1v1h-1zM26 14h1v1h-1zM19 15h1v1h-1zM20 15h1v1h-1zM21 15h1v1h-1zM22 15h1v1h-1zM25 15h1v1h-1zM26 15h1v1h-1zM27 15h1v1h-1zM28 15h1v1h-1zM29 15h1v1h-1zM30 15h1v1h-1zM38 15h1v1h-1zM39 15h1v1h-1zM20 16h1v1h-1zM21 16h1v1h-1zM26 16h1v1h-1zM27 16h1v1h-1zM29 16h1v1h-1zM37 16h1v1h-1zM38 16h1v1h-1zM39 16h1v1h-1zM25 17h1v1h-1zM26 17h1v1h-1zM27 17h1v1h-1zM28 17h1v1h-1zM30 17h1v1h-1zM36 17h1v1h-1zM37 17h1v1h-1zM38 17h1v1h-1zM39 17h1v1h-1zM25 18h1v1h-1zM26 18h1v1h-1zM27 18h1v1h-1zM28 18h1v1h-1zM36 18h1v1h-1zM37 18h1v1h-1zM38 18h1v1h-1zM20 19h1v1h-1zM25 19h1v1h-1zM26 19h1v1h-1zM27 19h1v1h-1zM37 19h1v1h-1zM20 20h1v1h-1zM21 20h1v1h-1zM26 20h1v1h-1zM27 20h1v1h-1zM21 21h1v1h-1zM30 21h1v1h-1zM31 21h1v1h-1zM40 21h1v1h-1zM21 22h1v1h-1zM22 22h1v1h-1zM23 22h1v1h-1zM29 22h1v1h-1zM30 22h1v1h-1zM38 22h1v1h-1zM39 22h1v1h-1zM40 22h1v1h-1zM41 22h1v1h-1zM42 22h1v1h-1zM23 23h1v1h-1zM29 23h1v1h-1zM37 23h1v1h-1zM38 23h1v1h-1zM39 23h1v1h-1zM40 23h1v1h-1zM42 23h1v1h-1zM8 24h1v1h-1zM9 24h1v1h-1zM10 24h1v1h-1zM37 24h1v1h-1zM38 24h1v1h-1zM39 24h1v1h-1zM40 24h1v1h-1zM41 24h1v1h-1zM42 24h1v1h-1zM8 25h1v1h-1zM9 25h1v1h-1zM10 25h1v1h-1zM18 25h1v1h-1zM37 25h1v1h-1zM38 25h1v1h-1zM39 25h1v1h-1zM40 25h1v1h-1zM41 25h1v1h-1zM42 25h1v1h-1zM8 26h1v1h-1zM10 26h1v1h-1zM18 26h1v1h-1zM19 26h1v1h-1zM20 26h1v1h-1zM21 26h1v1h-1zM22 26h1v1h-1zM23 26h1v1h-1zM33 26h1v1h-1zM37 26h1v1h-1zM38 26h1v1h-1zM39 26h1v1h-1zM40 26h1v1h-1zM41 26h1v1h-1zM6 27h1v1h-1zM7 27h1v1h-1zM8 27h1v1h-1zM9 27h1v1h-1zM19 27h1v1h-1zM22 27h1v1h-1zM37 27h1v1h-1zM38 27h1v1h-1zM39 27h1v1h-1zM40 27h1v1h-1zM41 27h1v1h-1zM6 28h1v1h-1zM7 28h1v1h-1zM8 28h1v1h-1zM9 28h1v1h-1zM19 28h1v1h-1zM38 28h1v1h-1zM39 28h1v1h-1zM44 28h1v1h-1zM45 28h1v1h-1zM6 29h1v1h-1zM7 29h1v1h-1zM8 29h1v1h-1zM9 29h1v1h-1zM17 29h1v1h-1zM18 29h1v1h-1zM19 29h1v1h-1zM20 29h1v1h-1zM21 29h1v1h-1zM22 29h1v1h-1zM23 29h1v1h-1zM45 29h1v1h-1zM8 30h1v1h-1zM9 30h1v1h-1zM16 30h1v1h-1zM17 30h1v1h-1zM18 30h1v1h-1zM19 30h1v1h-1zM20 30h1v1h-1zM21 30h1v1h-1zM22 30h1v1h-1zM23 30h1v1h-1zM29 30h1v1h-1zM41 30h1v1h-1zM16 31h1v1h-1zM17 31h1v1h-1zM18 31h1v1h-1zM19 31h1v1h-1zM21 31h1v1h-1zM22 31h1v1h-1zM23 31h1v1h-1zM43 31h1v1h-1zM16 32h1v1h-1zM17 32h1v1h-1zM18 32h1v1h-1zM21 32h1v1h-1zM22 32h1v1h-1zM17 33h1v1h-1zM18 33h1v1h-1zM28 35h1v1h-1zM5 37h1v1h-1zM6 37h1v1h-1zM17 37h1v1h-1zM39 37h1v1h-1zM49 37h1v1h-1zM34 39h1v1h-1zM35 39h1v1h-1zM36 39h1v1h-1zM15 41h1v1h-1zM26 41h1v1h-1zM27 41h1v1h-1zM28 41h1v1h-1zM29 41h1v1h-1zM30 41h1v1h-1zM31 41h1v1h-1zM32 41h1v1h-1zM26 42h1v1h-1zM28 42h1v1h-1zM29 42h1v1h-1zM32 42h1v1h-1zM33 42h1v1h-1zM34 42h1v1h-1zM35 42h1v1h-1zM36 42h1v1h-1zM37 42h1v1h-1zM38 42h1v1h-1zM32 43h1v1h-1zM33 43h1v1h-1zM34 43h1v1h-1zM35 43h1v1h-1zM38 43h1v1h-1zM31 44h1v1h-1zM32 44h1v1h-1zM33 44h1v1h-1zM34 44h1v1h-1zM26 45h1v1h-1zM30 45h1v1h-1zM31 45h1v1h-1zM32 45h1v1h-1zM33 45h1v1h-1zM34 45h1v1h-1zM30 46h1v1h-1zM31 46h1v1h-1zM32 46h1v1h-1zM33 46h1v1h-1zM34 46h1v1h-1zM18 47h1v1h-1zM19 47h1v1h-1zM30 47h1v1h-1zM31 47h1v1h-1zM32 47h1v1h-1zM33 47h1v1h-1zM15 48h1v1h-1zM16 48h1v1h-1zM17 48h1v1h-1zM30 48h1v1h-1zM31 48h1v1h-1zM32 48h1v1h-1zM14 49h1v1h-1zM15 49h1v1h-1zM16 49h1v1h-1zM17 49h1v1h-1zM18 49h1v1h-1zM14 50h1v1h-1zM15 50h1v1h-1zM16 50h1v1h-1zM17 50h1v1h-1zM18 50h1v1h-1zM14 51h1v1h-1zM16 51h1v1h-1zM17 51h1v1h-1zM18 51h1v1h-1zM19 51h1v1h-1zM14 52h1v1h-1zM15 52h1v1h-1zM16 52h1v1h-1zM17 52h1v1h-1zM18 52h1v1h-1zM19 52h1v1h-1zM15 53h1v1h-1zM16 53h1v1h-1zM17 53h1v1h-1zM18 53h1v1h-1zM19 53h1v1h-1zM15 54h1v1h-1zM16 54h1v1h-1zM17 54h1v1h-1zM18 54h1v1h-1zM16 55h1v1h-1zM17 55h1v1h-1zM18 55h1v1h-1zM20 61h1v1h-1z" fill="#d7303e"/>
<path d="M43 28h1v1h-1zM24 29h1v1h-1zM25 29h1v1h-1zM44 29h1v1h-1zM24 30h1v1h-1zM25 30h1v1h-1zM42 30h1v1h-1zM43 30h1v1h-1zM44 30h1v1h-1zM22 36h1v1h-1zM22 37h1v1h-1zM23 37h1v1h-1zM20 38h1v1h-1zM21 38h1v1h-1zM14 39h1v1h-1zM18 39h1v1h-1zM20 39h1v1h-1zM22 39h1v1h-1zM18 40h1v1h-1zM11 41h1v1h-1zM18 41h1v1h-1zM20 41h1v1h-1zM11 42h1v1h-1zM9 43h1v1h-1z" fill="#fff"/>
</g>
<rect x="338.4" y="400.0" width="16.7" height="1.4" rx="1.0" fill="#fff" fill-opacity="0.45"/><rect x="358.4" y="406.5" width="14.4" height="5.4" rx="2.4" fill="#fff" fill-opacity="0.45"/><rect x="383.9" y="399.5" width="2.9" height="2.9" rx="1.6" fill="#fff" fill-opacity="0.45"/><rect x="419.4" y="424.5" width="6.4" height="4.4" rx="2.1" fill="#fff" fill-opacity="0.45"/>
</g>
<polyline points="382.6,368.7 427.6,425.0" fill="none" stroke="#fff" stroke-width="0.7" stroke-opacity="0.85"/>
<polyline points="337.6,399.7 367.6,405.7 387.6,416.7 407.6,426.7 428.6,438.7" fill="none" stroke="#fff" stroke-width="0.7" stroke-opacity="0.85"/>
<polyline points="337.6,410.7 357.6,414.7 377.6,425.7 392.6,436.7 399.6,444.7" fill="none" stroke="#fff" stroke-width="0.7" stroke-opacity="0.85"/>
</g>
<rect x="337.6" y="368.7" width="91.3" height="76.2" fill="none" stroke="#8a8a8a" stroke-width="0.6"/>
<circle cx="416.6" cy="389.7" r="7.3" fill="#fff" stroke="#111" stroke-width="1"/>
<text x="416.6" y="393.3" font-size="10.5" text-anchor="middle">1</text>
<clipPath id="clip5"><rect x="471" y="285.2" width="89.5" height="77.3"/></clipPath>
<g clip-path="url(#clip5)">
<rect x="471" y="285.2" width="89.5" height="77.3" fill="#e9f59c"/>
<g filter="url(#soft3)"><g transform="translate(515.8,323.8) rotate(-6) translate(-62.1,-62.1) scale(4.2,1.9)">
<path d="M4 9h1v1h-1zM5 9h1v1h-1zM6 9h1v1h-1zM7 9h1v1h-1zM4 10h1v1h-1zM5 10h1v1h-1zM6 10h1v1h-1zM7 10h1v1h-1zM8 10h1v1h-1zM9 10h1v1h-1zM10 10h1v1h-1zM7 11h1v1h-1zM8 11h1v1h-1zM9 11h1v1h-1zM10 11h1v1h-1zM14 11h1v1h-1zM15 11h1v1h-1zM16 11h1v1h-1zM17 11h1v1h-1zM22 12h1v1h-1zM12 13h1v1h-1zM13 13h1v1h-1zM11 14h1v1h-1zM5 16h1v1h-1zM10 16h1v1h-1zM17 18h1v1h-1zM18 18h1v1h-1zM19 18h1v1h-1zM20 18h1v1h-1zM21 18h1v1h-1zM23 18h1v1h-1zM14 20h1v1h-1zM6 21h1v1h-1zM7 21h1v1h-1zM8 21h1v1h-1zM23 21h1v1h-1zM12 22h1v1h-1zM13 22h1v1h-1zM12 23h1v1h-1zM13 23h1v1h-1zM13 24h1v1h-1zM13 26h1v1h-1zM6 30h1v1h-1zM3 31h1v1h-1zM3 32h1v1h-1zM18 33h1v1h-1zM6 34h1v1h-1zM18 34h1v1h-1zM23 34h1v1h-1zM18 35h1v1h-1zM23 35h1v1h-1zM4 37h1v1h-1zM5 37h1v1h-1zM11 37h1v1h-1zM12 37h1v1h-1zM13 37h1v1h-1zM11 38h1v1h-1zM12 38h1v1h-1zM13 38h1v1h-1zM25 39h1v1h-1zM9 40h1v1h-1zM25 40h1v1h-1zM21 41h1v1h-1zM22 41h1v1h-1zM24 41h1v1h-1zM3 44h1v1h-1zM22 46h1v1h-1zM12 47h1v1h-1zM13 47h1v1h-1zM13 48h1v1h-1zM3 49h1v1h-1zM8 52h1v1h-1zM17 52h1v1h-1z" fill="#d4ee93"/>
<path d="M12 11h1v1h-1zM8 12h1v1h-1zM9 12h1v1h-1zM17 12h1v1h-1zM21 12h1v1h-1zM4 13h1v1h-1zM4 14h1v1h-1zM5 14h1v1h-1zM6 14h1v1h-1zM16 14h1v1h-1zM17 14h1v1h-1zM13 15h1v1h-1zM14 15h1v1h-1zM15 15h1v1h-1zM25 15h1v1h-1zM4 16h1v1h-1zM16 16h1v1h-1zM4 17h1v1h-1zM5 17h1v1h-1zM6 17h1v1h-1zM22 18h1v1h-1zM21 19h1v1h-1zM25 19h1v1h-1zM17 20h1v1h-1zM21 20h1v1h-1zM22 20h1v1h-1zM23 20h1v1h-1zM24 20h1v1h-1zM22 21h1v1h-1zM4 22h1v1h-1zM5 22h1v1h-1zM17 22h1v1h-1zM23 22h1v1h-1zM4 23h1v1h-1zM25 23h1v1h-1zM26 23h1v1h-1zM11 24h1v1h-1zM25 24h1v1h-1zM26 24h1v1h-1zM11 25h1v1h-1zM12 25h1v1h-1zM13 25h1v1h-1zM14 25h1v1h-1zM15 25h1v1h-1zM16 25h1v1h-1zM20 25h1v1h-1zM26 25h1v1h-1zM11 26h1v1h-1zM12 26h1v1h-1zM14 26h1v1h-1zM17 26h1v1h-1zM18 26h1v1h-1zM11 27h1v1h-1zM12 27h1v1h-1zM14 27h1v1h-1zM15 27h1v1h-1zM22 27h1v1h-1zM23 27h1v1h-1zM7 28h1v1h-1zM8 28h1v1h-1zM15 28h1v1h-1zM16 28h1v1h-1zM17 28h1v1h-1zM18 28h1v1h-1zM19 28h1v1h-1zM20 28h1v1h-1zM16 29h1v1h-1zM17 29h1v1h-1zM16 30h1v1h-1zM17 30h1v1h-1zM6 31h1v1h-1zM10 31h1v1h-1zM11 31h1v1h-1zM12 31h1v1h-1zM13 31h1v1h-1zM14 31h1v1h-1zM15 31h1v1h-1zM16 31h1v1h-1zM17 31h1v1h-1zM6 32h1v1h-1zM11 32h1v1h-1zM12 32h1v1h-1zM13 32h1v1h-1zM14 32h1v1h-1zM15 32h1v1h-1zM22 32h1v1h-1zM3 33h1v1h-1zM6 33h1v1h-1zM7 33h1v1h-1zM8 33h1v1h-1zM9 33h1v1h-1zM10 33h1v1h-1zM11 33h1v1h-1zM14 33h1v1h-1zM22 33h1v1h-1zM23 33h1v1h-1zM3 34h1v1h-1zM4 34h1v1h-1zM11 34h1v1h-1zM12 34h1v1h-1zM13 34h1v1h-1zM22 34h1v1h-1zM24 34h1v1h-1zM25 34h1v1h-1zM3 35h1v1h-1zM4 35h1v1h-1zM3 36h1v1h-1zM4 36h1v1h-1zM16 36h1v1h-1zM17 36h1v1h-1zM25 38h1v1h-1zM8 39h1v1h-1zM10 39h1v1h-1zM13 39h1v1h-1zM14 39h1v1h-1zM15 39h1v1h-1zM16 39h1v1h-1zM17 39h1v1h-1zM18 39h1v1h-1zM8 40h1v1h-1zM14 40h1v1h-1zM16 40h1v1h-1zM21 40h1v1h-1zM24 40h1v1h-1zM8 41h1v1h-1zM14 41h1v1h-1zM15 41h1v1h-1zM16 41h1v1h-1zM25 41h1v1h-1zM8 42h1v1h-1zM14 42h1v1h-1zM15 42h1v1h-1zM16 42h1v1h-1zM17 42h1v1h-1zM21 42h1v1h-1zM22 42h1v1h-1zM4 43h1v1h-1zM5 43h1v1h-1zM15 43h1v1h-1zM20 43h1v1h-1zM7 44h1v1h-1zM8 44h1v1h-1zM9 44h1v1h-1zM15 44h1v1h-1zM9 45h1v1h-1zM15 45h1v1h-1zM18 45h1v1h-1zM19 45h1v1h-1zM23 45h1v1h-1zM15 46h1v1h-1zM16 46h1v1h-1zM17 46h1v1h-1zM18 46h1v1h-1zM8 47h1v1h-1zM23 47h1v1h-1zM24 47h1v1h-1zM23 48h1v1h-1zM7 50h1v1h-1zM18 50h1v1h-1zM7 51h1v1h-1zM8 51h1v1h-1zM6 52h1v1h-1zM7 52h1v1h-1zM9 52h1v1h-1zM10 52h1v1h-1zM11 52h1v1h-1zM12 52h1v1h-1zM13 52h1v1h-1zM14 52h1v1h-1zM9 53h1v1h-1zM10 53h1v1h-1zM13 53h1v1h-1zM14 53h1v1h-1zM15 53h1v1h-1zM16 53h1v1h-1zM17 53h1v1h-1zM18 53h1v1h-1zM19 53h1v1h-1zM20 53h1v1h-1zM22 55h1v1h-1zM23 55h1v1h-1zM22 56h1v1h-1zM23 56h1v1h-1z" fill="#fde28c"/>
<path d="M9 9h1v1h-1zM13 10h1v1h-1zM4 11h1v1h-1zM4 12h1v1h-1zM7 12h1v1h-1zM13 12h1v1h-1zM14 12h1v1h-1zM18 12h1v1h-1zM19 12h1v1h-1zM20 12h1v1h-1zM7 13h1v1h-1zM9 13h1v1h-1zM10 13h1v1h-1zM11 13h1v1h-1zM10 14h1v1h-1zM15 17h1v1h-1zM16 17h1v1h-1zM17 17h1v1h-1zM23 17h1v1h-1zM13 18h1v1h-1zM14 18h1v1h-1zM15 18h1v1h-1zM16 18h1v1h-1zM15 19h1v1h-1zM16 19h1v1h-1zM24 19h1v1h-1zM15 20h1v1h-1zM16 20h1v1h-1zM25 20h1v1h-1zM15 21h1v1h-1zM16 21h1v1h-1zM18 21h1v1h-1zM24 21h1v1h-1zM25 21h1v1h-1zM26 21h1v1h-1zM6 22h1v1h-1zM7 22h1v1h-1zM8 22h1v1h-1zM15 22h1v1h-1zM24 22h1v1h-1zM25 22h1v1h-1zM6 23h1v1h-1zM7 23h1v1h-1zM10 23h1v1h-1zM11 23h1v1h-1zM15 23h1v1h-1zM16 23h1v1h-1zM17 23h1v1h-1zM24 23h1v1h-1zM7 24h1v1h-1zM8 24h1v1h-1zM21 24h1v1h-1zM22 24h1v1h-1zM7 25h1v1h-1zM8 25h1v1h-1zM19 25h1v1h-1zM7 26h1v1h-1zM8 26h1v1h-1zM15 26h1v1h-1zM16 26h1v1h-1zM19 26h1v1h-1zM26 26h1v1h-1zM13 27h1v1h-1zM16 27h1v1h-1zM17 27h1v1h-1zM18 27h1v1h-1zM19 27h1v1h-1zM10 28h1v1h-1zM11 28h1v1h-1zM12 28h1v1h-1zM24 28h1v1h-1zM25 28h1v1h-1zM24 29h1v1h-1zM3 30h1v1h-1zM15 30h1v1h-1zM20 30h1v1h-1zM21 30h1v1h-1zM24 30h1v1h-1zM25 30h1v1h-1zM5 31h1v1h-1zM21 31h1v1h-1zM22 31h1v1h-1zM15 33h1v1h-1zM15 34h1v1h-1zM11 35h1v1h-1zM12 35h1v1h-1zM8 36h1v1h-1zM14 36h1v1h-1zM7 38h1v1h-1zM8 38h1v1h-1zM9 38h1v1h-1zM12 39h1v1h-1zM12 40h1v1h-1zM13 40h1v1h-1zM15 40h1v1h-1zM13 41h1v1h-1zM4 42h1v1h-1zM5 42h1v1h-1zM13 42h1v1h-1zM7 43h1v1h-1zM8 43h1v1h-1zM9 43h1v1h-1zM13 43h1v1h-1zM14 43h1v1h-1zM18 43h1v1h-1zM21 43h1v1h-1zM22 43h1v1h-1zM23 43h1v1h-1zM24 43h1v1h-1zM25 43h1v1h-1zM4 44h1v1h-1zM12 44h1v1h-1zM13 44h1v1h-1zM14 44h1v1h-1zM25 44h1v1h-1zM3 45h1v1h-1zM13 45h1v1h-1zM14 45h1v1h-1zM17 45h1v1h-1zM3 46h1v1h-1zM9 46h1v1h-1zM10 46h1v1h-1zM11 46h1v1h-1zM14 46h1v1h-1zM25 46h1v1h-1zM3 47h1v1h-1zM9 47h1v1h-1zM10 47h1v1h-1zM11 47h1v1h-1zM3 48h1v1h-1zM7 48h1v1h-1zM8 48h1v1h-1zM9 48h1v1h-1zM10 48h1v1h-1zM11 48h1v1h-1zM12 48h1v1h-1zM18 48h1v1h-1zM7 49h1v1h-1zM8 49h1v1h-1zM10 49h1v1h-1zM11 49h1v1h-1zM13 49h1v1h-1zM18 49h1v1h-1zM21 49h1v1h-1zM22 49h1v1h-1zM23 49h1v1h-1zM3 50h1v1h-1zM10 50h1v1h-1zM11 50h1v1h-1zM12 50h1v1h-1zM13 50h1v1h-1zM24 50h1v1h-1zM2 51h1v1h-1zM3 51h1v1h-1zM4 51h1v1h-1zM5 51h1v1h-1zM10 51h1v1h-1zM11 51h1v1h-1zM12 51h1v1h-1zM14 51h1v1h-1zM24 51h1v1h-1zM5 52h1v1h-1zM24 52h1v1h-1zM24 53h1v1h-1zM16 54h1v1h-1zM17 54h1v1h-1zM18 54h1v1h-1zM19 54h1v1h-1zM18 55h1v1h-1zM19 55h1v1h-1zM20 55h1v1h-1zM21 55h1v1h-1zM24 55h1v1h-1z" fill="#fbb871"/>
<path d="M7 14h1v1h-1zM7 15h1v1h-1zM18 16h1v1h-1zM19 16h1v1h-1zM18 17h1v1h-1zM19 17h1v1h-1zM5 34h1v1h-1zM5 35h1v1h-1zM5 36h1v1h-1zM14 38h1v1h-1z" fill="#9fd899"/>
<path d="M19 23h1v1h-1zM19 24h1v1h-1zM20 24h1v1h-1zM22 35h1v1h-1zM17 41h1v1h-1zM18 41h1v1h-1zM18 42h1v1h-1zM4 45h1v1h-1zM5 45h1v1h-1zM4 46h1v1h-1zM5 46h1v1h-1zM6 46h1v1h-1zM4 47h1v1h-1zM6 47h1v1h-1zM4 48h1v1h-1zM6 48h1v1h-1zM4 49h1v1h-1z" fill="#6aaed0"/>
<path d="M11 10h1v1h-1zM12 10h1v1h-1zM5 11h1v1h-1zM6 11h1v1h-1zM5 12h1v1h-1zM6 12h1v1h-1zM15 12h1v1h-1zM16 12h1v1h-1zM5 13h1v1h-1zM6 13h1v1h-1zM8 13h1v1h-1zM26 13h1v1h-1zM8 14h1v1h-1zM9 14h1v1h-1zM12 14h1v1h-1zM13 14h1v1h-1zM14 14h1v1h-1zM15 14h1v1h-1zM18 14h1v1h-1zM20 14h1v1h-1zM8 15h1v1h-1zM9 15h1v1h-1zM10 15h1v1h-1zM19 15h1v1h-1zM20 15h1v1h-1zM8 16h1v1h-1zM9 16h1v1h-1zM17 16h1v1h-1zM20 16h1v1h-1zM8 17h1v1h-1zM9 17h1v1h-1zM10 17h1v1h-1zM20 17h1v1h-1zM4 18h1v1h-1zM5 18h1v1h-1zM9 18h1v1h-1zM10 18h1v1h-1zM4 19h1v1h-1zM5 19h1v1h-1zM9 19h1v1h-1zM10 19h1v1h-1zM13 19h1v1h-1zM14 19h1v1h-1zM17 19h1v1h-1zM18 19h1v1h-1zM19 19h1v1h-1zM20 19h1v1h-1zM4 20h1v1h-1zM5 20h1v1h-1zM9 20h1v1h-1zM10 20h1v1h-1zM18 20h1v1h-1zM4 21h1v1h-1zM5 21h1v1h-1zM9 21h1v1h-1zM10 21h1v1h-1zM17 21h1v1h-1zM9 22h1v1h-1zM10 22h1v1h-1zM18 22h1v1h-1zM19 22h1v1h-1zM5 23h1v1h-1zM18 23h1v1h-1zM4 24h1v1h-1zM5 24h1v1h-1zM6 24h1v1h-1zM18 24h1v1h-1zM24 24h1v1h-1zM4 25h1v1h-1zM5 25h1v1h-1zM6 25h1v1h-1zM23 25h1v1h-1zM24 25h1v1h-1zM25 25h1v1h-1zM5 26h1v1h-1zM6 26h1v1h-1zM23 26h1v1h-1zM24 26h1v1h-1zM25 26h1v1h-1zM24 27h1v1h-1zM25 27h1v1h-1zM13 28h1v1h-1zM14 28h1v1h-1zM12 29h1v1h-1zM13 29h1v1h-1zM14 29h1v1h-1zM18 29h1v1h-1zM19 29h1v1h-1zM20 29h1v1h-1zM7 30h1v1h-1zM8 30h1v1h-1zM9 30h1v1h-1zM13 30h1v1h-1zM14 30h1v1h-1zM18 30h1v1h-1zM19 30h1v1h-1zM7 31h1v1h-1zM9 31h1v1h-1zM18 31h1v1h-1zM19 31h1v1h-1zM20 31h1v1h-1zM7 32h1v1h-1zM8 32h1v1h-1zM9 32h1v1h-1zM16 32h1v1h-1zM17 32h1v1h-1zM18 32h1v1h-1zM19 32h1v1h-1zM20 32h1v1h-1zM21 32h1v1h-1zM23 32h1v1h-1zM16 33h1v1h-1zM17 33h1v1h-1zM19 33h1v1h-1zM14 34h1v1h-1zM16 34h1v1h-1zM17 34h1v1h-1zM19 34h1v1h-1zM20 34h1v1h-1zM21 34h1v1h-1zM13 35h1v1h-1zM14 35h1v1h-1zM15 35h1v1h-1zM16 35h1v1h-1zM17 35h1v1h-1zM24 35h1v1h-1zM25 35h1v1h-1zM13 36h1v1h-1zM15 36h1v1h-1zM24 36h1v1h-1zM25 36h1v1h-1zM14 37h1v1h-1zM15 37h1v1h-1zM24 37h1v1h-1zM25 37h1v1h-1zM19 38h1v1h-1zM20 38h1v1h-1zM21 38h1v1h-1zM24 38h1v1h-1zM9 39h1v1h-1zM19 39h1v1h-1zM20 39h1v1h-1zM21 39h1v1h-1zM24 39h1v1h-1zM20 40h1v1h-1zM16 43h1v1h-1zM17 43h1v1h-1zM5 44h1v1h-1zM6 44h1v1h-1zM16 44h1v1h-1zM17 44h1v1h-1zM18 44h1v1h-1zM6 45h1v1h-1zM10 45h1v1h-1zM11 45h1v1h-1zM12 45h1v1h-1zM20 45h1v1h-1zM12 46h1v1h-1zM19 46h1v1h-1zM20 46h1v1h-1zM15 47h1v1h-1zM16 47h1v1h-1zM18 47h1v1h-1zM19 47h1v1h-1zM20 47h1v1h-1zM14 48h1v1h-1zM15 48h1v1h-1zM16 48h1v1h-1zM17 48h1v1h-1zM19 48h1v1h-1zM20 48h1v1h-1zM21 48h1v1h-1zM12 49h1v1h-1zM14 49h1v1h-1zM15 49h1v1h-1zM16 49h1v1h-1zM17 49h1v1h-1zM19 49h1v1h-1zM20 49h1v1h-1zM24 49h1v1h-1zM21 50h1v1h-1zM22 50h1v1h-1zM23 50h1v1h-1zM9 51h1v1h-1zM13 51h1v1h-1zM21 51h1v1h-1zM22 51h1v1h-1zM23 51h1v1h-1zM18 52h1v1h-1zM19 52h1v1h-1zM21 52h1v1h-1zM22 52h1v1h-1zM23 52h1v1h-1zM11 53h1v1h-1zM12 53h1v1h-1zM21 53h1v1h-1zM22 53h1v1h-1zM23 53h1v1h-1zM14 54h1v1h-1zM15 54h1v1h-1zM22 54h1v1h-1zM23 54h1v1h-1z" fill="#f59a5a"/>
<path d="M20 13h1v1h-1zM21 13h1v1h-1zM22 13h1v1h-1zM26 14h1v1h-1zM6 16h1v1h-1zM19 21h1v1h-1zM4 26h1v1h-1zM4 27h1v1h-1zM5 27h1v1h-1zM6 27h1v1h-1zM7 27h1v1h-1zM8 27h1v1h-1zM4 28h1v1h-1zM5 28h1v1h-1zM4 29h1v1h-1zM5 29h1v1h-1zM6 29h1v1h-1zM7 29h1v1h-1zM8 29h1v1h-1zM4 30h1v1h-1zM5 30h1v1h-1zM4 31h1v1h-1zM4 32h1v1h-1zM5 32h1v1h-1zM4 33h1v1h-1zM5 33h1v1h-1zM6 35h1v1h-1zM7 35h1v1h-1zM8 35h1v1h-1zM9 35h1v1h-1zM19 35h1v1h-1zM20 35h1v1h-1zM6 36h1v1h-1zM7 36h1v1h-1zM12 36h1v1h-1zM22 37h1v1h-1zM23 37h1v1h-1zM23 38h1v1h-1zM5 39h1v1h-1zM22 39h1v1h-1zM23 39h1v1h-1zM4 40h1v1h-1zM5 40h1v1h-1zM22 40h1v1h-1zM23 40h1v1h-1zM5 41h1v1h-1zM7 45h1v1h-1zM8 45h1v1h-1zM7 46h1v1h-1zM8 46h1v1h-1zM7 47h1v1h-1zM6 50h1v1h-1zM15 51h1v1h-1zM16 51h1v1h-1zM17 51h1v1h-1zM18 51h1v1h-1zM19 51h1v1h-1zM20 51h1v1h-1z" fill="#e35a4c"/>
<path d="M21 15h1v1h-1zM22 15h1v1h-1zM23 15h1v1h-1zM22 16h1v1h-1zM22 29h1v1h-1zM23 29h1v1h-1zM22 30h1v1h-1zM23 30h1v1h-1zM5 48h1v1h-1zM5 49h1v1h-1zM6 49h1v1h-1zM5 50h1v1h-1z" fill="#3d8cc4"/>
<path d="M11 15h1v1h-1zM12 15h1v1h-1zM11 16h1v1h-1zM12 16h1v1h-1zM7 17h1v1h-1zM11 17h1v1h-1zM12 17h1v1h-1zM7 18h1v1h-1zM8 18h1v1h-1zM12 18h1v1h-1zM7 19h1v1h-1zM8 19h1v1h-1zM14 21h1v1h-1zM14 22h1v1h-1zM9 23h1v1h-1zM14 23h1v1h-1zM9 24h1v1h-1zM10 24h1v1h-1zM9 25h1v1h-1zM10 25h1v1h-1zM9 26h1v1h-1zM10 26h1v1h-1zM9 27h1v1h-1zM10 27h1v1h-1zM9 28h1v1h-1zM10 34h1v1h-1zM10 35h1v1h-1zM10 36h1v1h-1zM10 37h1v1h-1zM10 38h1v1h-1zM7 40h1v1h-1zM10 40h1v1h-1zM11 40h1v1h-1zM7 41h1v1h-1zM9 41h1v1h-1zM10 41h1v1h-1zM11 41h1v1h-1zM12 41h1v1h-1zM9 42h1v1h-1zM10 42h1v1h-1zM11 42h1v1h-1zM12 42h1v1h-1zM10 43h1v1h-1zM11 43h1v1h-1zM12 43h1v1h-1zM11 44h1v1h-1zM23 46h1v1h-1z" fill="#d7303e"/>
</g>

</g>
<polyline points="471.0,301.4 481.4,298.5 497.3,297.8 506.0,299.9 530.5,300.7 539.2,299.9" fill="none" stroke="#fff" stroke-width="0.7" stroke-opacity="0.85"/>
<polyline points="471.0,308.6 482.8,308.6 496.0,307.2" fill="none" stroke="#fff" stroke-width="0.7" stroke-opacity="0.85"/>
<polyline points="482.8,308.6 482.8,340.4" fill="none" stroke="#fff" stroke-width="0.7" stroke-opacity="0.85"/>
<polyline points="506.0,285.5 506.5,298.5" fill="none" stroke="#fff" stroke-width="0.7" stroke-opacity="0.85"/>
<polyline points="497.3,298.2 497.3,307.2" fill="none" stroke="#fff" stroke-width="0.7" stroke-opacity="0.85"/>
<polyline points="513.0,310.2 517.5,323.2 512.0,331.7 497.3,338.7 484.3,341.7 475.6,344.7" fill="none" stroke="#fff" stroke-width="0.7" stroke-opacity="0.85"/>
<polyline points="498.0,333.2 535.0,330.2 563.0,327.2" fill="none" stroke="#fff" stroke-width="0.7" stroke-opacity="0.85"/>
<polyline points="471.0,350.2 511.0,349.2 563.0,346.2" fill="none" stroke="#fff" stroke-width="0.7" stroke-opacity="0.85"/>
<polyline points="507.0,310.2 563.0,308.7" fill="none" stroke="#fff" stroke-width="0.7" stroke-opacity="0.85"/>
<polyline points="528.7,285.2 533.0,291.0 545.0,293.8" fill="none" stroke="#fff" stroke-width="0.7" stroke-opacity="0.85"/>
<polyline points="537.7,327.2 537.7,339.2" fill="none" stroke="#fff" stroke-width="0.7" stroke-opacity="0.85"/>
</g>
<rect x="471" y="285.2" width="89.5" height="77.3" fill="none" stroke="#8a8a8a" stroke-width="0.6"/>
<circle cx="547.8" cy="302.1" r="7.3" fill="#fff" stroke="#111" stroke-width="1"/>
<text x="547.8" y="305.7" font-size="10.5" text-anchor="middle">2</text>
<clipPath id="clip6"><rect x="585" y="290" width="91.5" height="82.8"/></clipPath>
<g clip-path="url(#clip6)">
<rect x="585" y="290" width="91.5" height="82.8" fill="#e9f59c"/>
<g filter="url(#soft)"><g transform="translate(630.8,331.4) rotate(25) translate(-64.7,-64.7) scale(2.4,1.9)">
<path d="M35 5h1v1h-1zM34 6h1v1h-1zM35 6h1v1h-1zM28 7h1v1h-1zM34 7h1v1h-1zM35 7h1v1h-1zM29 8h1v1h-1zM30 8h1v1h-1zM33 8h1v1h-1zM34 8h1v1h-1zM35 8h1v1h-1zM36 8h1v1h-1zM37 8h1v1h-1zM35 9h1v1h-1zM27 10h1v1h-1zM20 12h1v1h-1zM22 12h1v1h-1zM39 12h1v1h-1zM22 13h1v1h-1zM23 13h1v1h-1zM24 13h1v1h-1zM39 13h1v1h-1zM25 14h1v1h-1zM32 14h1v1h-1zM15 15h1v1h-1zM16 15h1v1h-1zM17 15h1v1h-1zM16 16h1v1h-1zM17 16h1v1h-1zM24 16h1v1h-1zM20 17h1v1h-1zM24 17h1v1h-1zM41 17h1v1h-1zM40 18h1v1h-1zM41 18h1v1h-1zM42 18h1v1h-1zM16 19h1v1h-1zM18 19h1v1h-1zM19 19h1v1h-1zM31 19h1v1h-1zM18 20h1v1h-1zM31 20h1v1h-1zM6 21h1v1h-1zM18 21h1v1h-1zM6 22h1v1h-1zM16 22h1v1h-1zM18 22h1v1h-1zM1 23h1v1h-1zM4 23h1v1h-1zM10 23h1v1h-1zM11 23h1v1h-1zM30 23h1v1h-1zM44 23h1v1h-1zM1 24h1v1h-1zM7 24h1v1h-1zM8 24h1v1h-1zM10 24h1v1h-1zM30 24h1v1h-1zM32 24h1v1h-1zM44 24h1v1h-1zM30 25h1v1h-1zM2 26h1v1h-1zM3 26h1v1h-1zM7 26h1v1h-1zM30 26h1v1h-1zM31 26h1v1h-1zM2 27h1v1h-1zM10 27h1v1h-1zM12 27h1v1h-1zM42 28h1v1h-1zM3 29h1v1h-1zM4 29h1v1h-1zM5 29h1v1h-1zM6 29h1v1h-1zM31 29h1v1h-1zM44 29h1v1h-1zM45 29h1v1h-1zM46 29h1v1h-1zM3 30h1v1h-1zM4 30h1v1h-1zM6 30h1v1h-1zM7 30h1v1h-1zM8 30h1v1h-1zM31 30h1v1h-1zM32 30h1v1h-1zM44 30h1v1h-1zM45 30h1v1h-1zM46 30h1v1h-1zM4 31h1v1h-1zM7 31h1v1h-1zM25 31h1v1h-1zM31 31h1v1h-1zM32 31h1v1h-1zM33 31h1v1h-1zM45 31h1v1h-1zM46 31h1v1h-1zM47 31h1v1h-1zM4 32h1v1h-1zM7 32h1v1h-1zM21 32h1v1h-1zM4 33h1v1h-1zM5 33h1v1h-1zM6 33h1v1h-1zM19 33h1v1h-1zM21 33h1v1h-1zM22 33h1v1h-1zM23 33h1v1h-1zM24 33h1v1h-1zM43 33h1v1h-1zM44 33h1v1h-1zM18 34h1v1h-1zM22 34h1v1h-1zM39 34h1v1h-1zM40 34h1v1h-1zM14 35h1v1h-1zM15 35h1v1h-1zM36 35h1v1h-1zM37 35h1v1h-1zM38 35h1v1h-1zM40 35h1v1h-1zM41 35h1v1h-1zM42 35h1v1h-1zM14 36h1v1h-1zM15 36h1v1h-1zM16 36h1v1h-1zM17 36h1v1h-1zM18 36h1v1h-1zM19 36h1v1h-1zM20 36h1v1h-1zM21 36h1v1h-1zM29 36h1v1h-1zM42 36h1v1h-1zM32 37h1v1h-1zM33 37h1v1h-1zM34 37h1v1h-1zM42 37h1v1h-1zM46 37h1v1h-1zM47 37h1v1h-1zM48 37h1v1h-1zM42 38h1v1h-1zM43 38h1v1h-1zM44 38h1v1h-1zM43 39h1v1h-1zM44 39h1v1h-1zM45 39h1v1h-1zM26 40h1v1h-1zM27 40h1v1h-1zM28 40h1v1h-1zM30 40h1v1h-1zM31 40h1v1h-1zM43 40h1v1h-1zM44 40h1v1h-1zM45 40h1v1h-1zM38 41h1v1h-1zM40 41h1v1h-1zM14 43h1v1h-1zM15 43h1v1h-1zM52 43h1v1h-1zM41 44h1v1h-1zM42 44h1v1h-1zM43 44h1v1h-1zM12 45h1v1h-1zM13 45h1v1h-1zM20 45h1v1h-1zM29 45h1v1h-1zM30 45h1v1h-1zM41 45h1v1h-1zM42 45h1v1h-1zM43 45h1v1h-1zM33 46h1v1h-1zM41 46h1v1h-1zM19 47h1v1h-1zM23 47h1v1h-1zM19 48h1v1h-1zM23 48h1v1h-1zM32 48h1v1h-1zM33 48h1v1h-1zM42 48h1v1h-1zM15 49h1v1h-1zM22 49h1v1h-1zM23 49h1v1h-1zM24 49h1v1h-1zM25 49h1v1h-1zM27 50h1v1h-1zM39 50h1v1h-1zM41 50h1v1h-1zM36 51h1v1h-1zM37 51h1v1h-1zM38 51h1v1h-1zM28 52h1v1h-1zM29 52h1v1h-1zM30 52h1v1h-1zM31 52h1v1h-1zM32 52h1v1h-1zM34 52h1v1h-1zM36 52h1v1h-1zM37 52h1v1h-1zM38 52h1v1h-1zM13 53h1v1h-1zM34 53h1v1h-1zM36 53h1v1h-1zM37 53h1v1h-1zM13 54h1v1h-1zM34 54h1v1h-1zM13 55h1v1h-1zM21 55h1v1h-1zM13 56h1v1h-1zM18 56h1v1h-1zM20 56h1v1h-1zM21 56h1v1h-1zM22 56h1v1h-1zM31 56h1v1h-1zM32 56h1v1h-1zM13 57h1v1h-1zM14 57h1v1h-1zM14 59h1v1h-1zM14 60h1v1h-1zM16 65h1v1h-1z" fill="#d4ee93"/>
<path d="M37 3h1v1h-1zM33 4h1v1h-1zM37 4h1v1h-1zM33 5h1v1h-1zM36 7h1v1h-1zM37 7h1v1h-1zM25 9h1v1h-1zM30 9h1v1h-1zM32 9h1v1h-1zM33 9h1v1h-1zM35 10h1v1h-1zM26 11h1v1h-1zM30 11h1v1h-1zM29 12h1v1h-1zM30 12h1v1h-1zM36 12h1v1h-1zM31 13h1v1h-1zM40 13h1v1h-1zM41 13h1v1h-1zM24 14h1v1h-1zM40 14h1v1h-1zM31 15h1v1h-1zM34 15h1v1h-1zM13 16h1v1h-1zM14 16h1v1h-1zM15 16h1v1h-1zM30 16h1v1h-1zM34 16h1v1h-1zM35 16h1v1h-1zM36 16h1v1h-1zM37 16h1v1h-1zM38 16h1v1h-1zM39 16h1v1h-1zM40 16h1v1h-1zM11 17h1v1h-1zM12 17h1v1h-1zM14 17h1v1h-1zM15 17h1v1h-1zM16 17h1v1h-1zM17 17h1v1h-1zM35 17h1v1h-1zM37 17h1v1h-1zM38 17h1v1h-1zM39 17h1v1h-1zM40 17h1v1h-1zM14 18h1v1h-1zM15 18h1v1h-1zM16 18h1v1h-1zM17 18h1v1h-1zM20 18h1v1h-1zM22 18h1v1h-1zM23 18h1v1h-1zM30 18h1v1h-1zM34 18h1v1h-1zM35 18h1v1h-1zM38 18h1v1h-1zM39 18h1v1h-1zM8 19h1v1h-1zM34 19h1v1h-1zM35 19h1v1h-1zM41 19h1v1h-1zM7 20h1v1h-1zM8 20h1v1h-1zM9 20h1v1h-1zM10 20h1v1h-1zM7 21h1v1h-1zM8 21h1v1h-1zM31 21h1v1h-1zM32 21h1v1h-1zM33 21h1v1h-1zM34 21h1v1h-1zM42 21h1v1h-1zM43 21h1v1h-1zM7 22h1v1h-1zM11 22h1v1h-1zM12 22h1v1h-1zM22 22h1v1h-1zM31 22h1v1h-1zM32 22h1v1h-1zM33 22h1v1h-1zM37 22h1v1h-1zM38 22h1v1h-1zM39 22h1v1h-1zM43 22h1v1h-1zM44 22h1v1h-1zM22 23h1v1h-1zM31 23h1v1h-1zM32 23h1v1h-1zM2 24h1v1h-1zM31 24h1v1h-1zM2 25h1v1h-1zM3 25h1v1h-1zM26 25h1v1h-1zM28 25h1v1h-1zM29 25h1v1h-1zM28 26h1v1h-1zM28 27h1v1h-1zM29 27h1v1h-1zM30 27h1v1h-1zM7 28h1v1h-1zM8 28h1v1h-1zM15 28h1v1h-1zM28 28h1v1h-1zM29 28h1v1h-1zM34 30h1v1h-1zM35 30h1v1h-1zM38 30h1v1h-1zM39 30h1v1h-1zM40 30h1v1h-1zM42 30h1v1h-1zM43 30h1v1h-1zM15 31h1v1h-1zM16 31h1v1h-1zM26 31h1v1h-1zM39 31h1v1h-1zM5 32h1v1h-1zM6 32h1v1h-1zM32 32h1v1h-1zM39 32h1v1h-1zM40 32h1v1h-1zM41 32h1v1h-1zM42 32h1v1h-1zM44 32h1v1h-1zM45 32h1v1h-1zM46 32h1v1h-1zM47 32h1v1h-1zM48 32h1v1h-1zM41 33h1v1h-1zM42 33h1v1h-1zM45 33h1v1h-1zM46 33h1v1h-1zM47 33h1v1h-1zM48 33h1v1h-1zM34 34h1v1h-1zM35 34h1v1h-1zM36 34h1v1h-1zM41 34h1v1h-1zM42 34h1v1h-1zM43 34h1v1h-1zM45 34h1v1h-1zM46 34h1v1h-1zM47 34h1v1h-1zM48 34h1v1h-1zM49 34h1v1h-1zM34 35h1v1h-1zM35 35h1v1h-1zM43 35h1v1h-1zM44 35h1v1h-1zM45 35h1v1h-1zM46 35h1v1h-1zM47 35h1v1h-1zM48 35h1v1h-1zM49 35h1v1h-1zM6 36h1v1h-1zM7 36h1v1h-1zM8 36h1v1h-1zM24 36h1v1h-1zM25 36h1v1h-1zM26 36h1v1h-1zM35 36h1v1h-1zM37 36h1v1h-1zM38 36h1v1h-1zM44 36h1v1h-1zM48 36h1v1h-1zM6 37h1v1h-1zM7 37h1v1h-1zM8 37h1v1h-1zM9 37h1v1h-1zM10 37h1v1h-1zM25 37h1v1h-1zM26 37h1v1h-1zM31 37h1v1h-1zM35 37h1v1h-1zM38 37h1v1h-1zM39 37h1v1h-1zM44 37h1v1h-1zM45 37h1v1h-1zM10 38h1v1h-1zM11 38h1v1h-1zM12 38h1v1h-1zM45 38h1v1h-1zM46 38h1v1h-1zM12 39h1v1h-1zM13 39h1v1h-1zM14 39h1v1h-1zM30 39h1v1h-1zM31 39h1v1h-1zM32 39h1v1h-1zM12 40h1v1h-1zM13 40h1v1h-1zM32 40h1v1h-1zM33 40h1v1h-1zM34 40h1v1h-1zM12 41h1v1h-1zM33 41h1v1h-1zM34 41h1v1h-1zM35 41h1v1h-1zM25 42h1v1h-1zM26 42h1v1h-1zM27 42h1v1h-1zM28 42h1v1h-1zM33 42h1v1h-1zM34 42h1v1h-1zM35 42h1v1h-1zM36 42h1v1h-1zM37 42h1v1h-1zM36 43h1v1h-1zM37 43h1v1h-1zM38 43h1v1h-1zM48 43h1v1h-1zM51 43h1v1h-1zM20 44h1v1h-1zM21 44h1v1h-1zM22 44h1v1h-1zM23 44h1v1h-1zM47 44h1v1h-1zM48 44h1v1h-1zM19 45h1v1h-1zM32 45h1v1h-1zM33 45h1v1h-1zM36 45h1v1h-1zM37 45h1v1h-1zM38 45h1v1h-1zM46 45h1v1h-1zM47 45h1v1h-1zM48 45h1v1h-1zM49 45h1v1h-1zM50 45h1v1h-1zM31 46h1v1h-1zM32 46h1v1h-1zM47 46h1v1h-1zM48 46h1v1h-1zM49 46h1v1h-1zM32 47h1v1h-1zM34 47h1v1h-1zM43 47h1v1h-1zM44 47h1v1h-1zM12 48h1v1h-1zM15 48h1v1h-1zM25 48h1v1h-1zM26 48h1v1h-1zM27 48h1v1h-1zM28 48h1v1h-1zM34 48h1v1h-1zM35 48h1v1h-1zM36 48h1v1h-1zM44 48h1v1h-1zM12 49h1v1h-1zM13 49h1v1h-1zM14 49h1v1h-1zM18 49h1v1h-1zM26 49h1v1h-1zM34 49h1v1h-1zM36 49h1v1h-1zM37 49h1v1h-1zM39 49h1v1h-1zM40 49h1v1h-1zM43 49h1v1h-1zM18 50h1v1h-1zM19 50h1v1h-1zM21 50h1v1h-1zM23 50h1v1h-1zM24 50h1v1h-1zM28 50h1v1h-1zM31 50h1v1h-1zM36 50h1v1h-1zM37 50h1v1h-1zM38 50h1v1h-1zM18 51h1v1h-1zM19 51h1v1h-1zM21 51h1v1h-1zM22 51h1v1h-1zM23 51h1v1h-1zM24 51h1v1h-1zM25 51h1v1h-1zM26 51h1v1h-1zM27 51h1v1h-1zM28 51h1v1h-1zM35 51h1v1h-1zM26 52h1v1h-1zM27 52h1v1h-1zM33 52h1v1h-1zM35 52h1v1h-1zM22 53h1v1h-1zM23 53h1v1h-1zM24 53h1v1h-1zM32 53h1v1h-1zM35 53h1v1h-1zM24 54h1v1h-1zM25 54h1v1h-1zM26 54h1v1h-1zM33 54h1v1h-1zM35 54h1v1h-1zM33 55h1v1h-1zM19 56h1v1h-1zM24 58h1v1h-1zM25 58h1v1h-1zM27 58h1v1h-1zM24 59h1v1h-1zM27 59h1v1h-1zM23 60h1v1h-1zM24 60h1v1h-1zM15 61h1v1h-1zM16 61h1v1h-1zM19 61h1v1h-1zM23 61h1v1h-1zM15 62h1v1h-1zM17 62h1v1h-1zM19 62h1v1h-1zM17 63h1v1h-1zM18 63h1v1h-1zM19 63h1v1h-1z" fill="#fde28c"/>
<path d="M37 2h1v1h-1zM35 4h1v1h-1zM36 4h1v1h-1zM38 5h1v1h-1zM38 6h1v1h-1zM21 13h1v1h-1zM17 14h1v1h-1zM19 15h1v1h-1zM20 15h1v1h-1zM24 15h1v1h-1zM29 15h1v1h-1zM19 16h1v1h-1zM20 16h1v1h-1zM21 16h1v1h-1zM25 16h1v1h-1zM29 16h1v1h-1zM19 17h1v1h-1zM36 17h1v1h-1zM36 18h1v1h-1zM37 18h1v1h-1zM16 23h1v1h-1zM17 23h1v1h-1zM18 23h1v1h-1zM19 23h1v1h-1zM11 24h1v1h-1zM12 24h1v1h-1zM13 24h1v1h-1zM15 24h1v1h-1zM16 24h1v1h-1zM17 24h1v1h-1zM10 25h1v1h-1zM11 25h1v1h-1zM12 25h1v1h-1zM16 25h1v1h-1zM34 25h1v1h-1zM9 26h1v1h-1zM10 26h1v1h-1zM11 26h1v1h-1zM12 26h1v1h-1zM34 26h1v1h-1zM35 26h1v1h-1zM36 26h1v1h-1zM37 26h1v1h-1zM38 26h1v1h-1zM9 27h1v1h-1zM36 27h1v1h-1zM37 27h1v1h-1zM38 27h1v1h-1zM2 28h1v1h-1zM3 28h1v1h-1zM4 28h1v1h-1zM22 28h1v1h-1zM32 28h1v1h-1zM33 28h1v1h-1zM34 28h1v1h-1zM35 28h1v1h-1zM36 28h1v1h-1zM37 28h1v1h-1zM38 28h1v1h-1zM7 29h1v1h-1zM10 29h1v1h-1zM11 29h1v1h-1zM32 29h1v1h-1zM33 29h1v1h-1zM34 29h1v1h-1zM9 30h1v1h-1zM11 30h1v1h-1zM37 31h1v1h-1zM38 31h1v1h-1zM40 31h1v1h-1zM41 31h1v1h-1zM42 31h1v1h-1zM43 31h1v1h-1zM44 31h1v1h-1zM18 33h1v1h-1zM35 33h1v1h-1zM36 33h1v1h-1zM37 33h1v1h-1zM23 34h1v1h-1zM24 34h1v1h-1zM25 34h1v1h-1zM26 34h1v1h-1zM29 34h1v1h-1zM30 34h1v1h-1zM31 34h1v1h-1zM23 35h1v1h-1zM25 35h1v1h-1zM26 35h1v1h-1zM27 35h1v1h-1zM27 36h1v1h-1zM28 36h1v1h-1zM31 36h1v1h-1zM32 36h1v1h-1zM33 36h1v1h-1zM34 36h1v1h-1zM45 36h1v1h-1zM46 36h1v1h-1zM19 37h1v1h-1zM27 37h1v1h-1zM43 37h1v1h-1zM7 38h1v1h-1zM8 38h1v1h-1zM9 38h1v1h-1zM27 38h1v1h-1zM32 38h1v1h-1zM33 38h1v1h-1zM28 39h1v1h-1zM29 39h1v1h-1zM40 39h1v1h-1zM14 40h1v1h-1zM29 40h1v1h-1zM40 40h1v1h-1zM10 41h1v1h-1zM11 41h1v1h-1zM43 41h1v1h-1zM10 42h1v1h-1zM11 42h1v1h-1zM38 42h1v1h-1zM39 42h1v1h-1zM28 43h1v1h-1zM32 44h1v1h-1zM45 44h1v1h-1zM17 45h1v1h-1zM45 45h1v1h-1zM22 46h1v1h-1zM42 46h1v1h-1zM43 46h1v1h-1zM19 49h1v1h-1zM20 49h1v1h-1zM27 49h1v1h-1zM28 49h1v1h-1zM29 49h1v1h-1zM14 50h1v1h-1zM15 50h1v1h-1zM20 50h1v1h-1zM29 50h1v1h-1zM30 50h1v1h-1zM32 50h1v1h-1zM14 51h1v1h-1zM16 51h1v1h-1zM20 51h1v1h-1zM29 51h1v1h-1zM30 51h1v1h-1zM31 51h1v1h-1zM32 51h1v1h-1zM33 51h1v1h-1zM39 51h1v1h-1zM40 51h1v1h-1zM15 52h1v1h-1zM21 53h1v1h-1zM12 54h1v1h-1zM12 55h1v1h-1zM20 55h1v1h-1zM25 56h1v1h-1zM14 58h1v1h-1zM15 60h1v1h-1zM16 60h1v1h-1zM22 60h1v1h-1z" fill="#fbb871"/>
<path d="M37 6h1v1h-1zM27 9h1v1h-1zM28 9h1v1h-1zM29 9h1v1h-1zM24 10h1v1h-1zM25 10h1v1h-1zM26 10h1v1h-1zM27 11h1v1h-1zM26 12h1v1h-1zM27 12h1v1h-1zM26 13h1v1h-1zM26 14h1v1h-1zM27 14h1v1h-1zM41 14h1v1h-1zM26 15h1v1h-1zM27 15h1v1h-1zM33 15h1v1h-1zM41 15h1v1h-1zM42 15h1v1h-1zM26 16h1v1h-1zM27 16h1v1h-1zM32 16h1v1h-1zM41 16h1v1h-1zM42 16h1v1h-1zM13 17h1v1h-1zM18 17h1v1h-1zM10 18h1v1h-1zM11 18h1v1h-1zM12 18h1v1h-1zM18 18h1v1h-1zM19 18h1v1h-1zM29 20h1v1h-1zM30 20h1v1h-1zM32 20h1v1h-1zM33 20h1v1h-1zM29 21h1v1h-1zM30 21h1v1h-1zM3 22h1v1h-1zM30 22h1v1h-1zM3 23h1v1h-1zM7 23h1v1h-1zM8 23h1v1h-1zM9 23h1v1h-1zM33 23h1v1h-1zM9 24h1v1h-1zM18 24h1v1h-1zM19 24h1v1h-1zM20 24h1v1h-1zM21 24h1v1h-1zM22 24h1v1h-1zM23 24h1v1h-1zM24 24h1v1h-1zM25 24h1v1h-1zM1 25h1v1h-1zM17 25h1v1h-1zM18 25h1v1h-1zM19 25h1v1h-1zM22 25h1v1h-1zM23 25h1v1h-1zM24 25h1v1h-1zM18 26h1v1h-1zM22 26h1v1h-1zM23 26h1v1h-1zM29 26h1v1h-1zM3 27h1v1h-1zM22 27h1v1h-1zM43 28h1v1h-1zM8 29h1v1h-1zM9 29h1v1h-1zM14 29h1v1h-1zM15 29h1v1h-1zM16 29h1v1h-1zM27 29h1v1h-1zM28 29h1v1h-1zM29 29h1v1h-1zM24 30h1v1h-1zM25 30h1v1h-1zM31 32h1v1h-1zM33 32h1v1h-1zM34 32h1v1h-1zM37 32h1v1h-1zM12 33h1v1h-1zM20 33h1v1h-1zM31 33h1v1h-1zM32 33h1v1h-1zM33 33h1v1h-1zM34 33h1v1h-1zM11 34h1v1h-1zM12 34h1v1h-1zM13 34h1v1h-1zM32 34h1v1h-1zM33 34h1v1h-1zM23 36h1v1h-1zM30 36h1v1h-1zM47 36h1v1h-1zM12 37h1v1h-1zM14 37h1v1h-1zM15 37h1v1h-1zM16 37h1v1h-1zM17 37h1v1h-1zM28 37h1v1h-1zM29 37h1v1h-1zM30 37h1v1h-1zM15 38h1v1h-1zM17 38h1v1h-1zM29 38h1v1h-1zM34 38h1v1h-1zM35 38h1v1h-1zM36 38h1v1h-1zM47 38h1v1h-1zM11 39h1v1h-1zM15 39h1v1h-1zM17 39h1v1h-1zM18 39h1v1h-1zM19 39h1v1h-1zM27 39h1v1h-1zM15 40h1v1h-1zM17 40h1v1h-1zM18 40h1v1h-1zM19 40h1v1h-1zM51 40h1v1h-1zM15 41h1v1h-1zM16 41h1v1h-1zM17 41h1v1h-1zM19 41h1v1h-1zM20 41h1v1h-1zM32 41h1v1h-1zM29 43h1v1h-1zM12 44h1v1h-1zM46 44h1v1h-1zM49 44h1v1h-1zM50 44h1v1h-1zM51 44h1v1h-1zM52 44h1v1h-1zM21 45h1v1h-1zM21 46h1v1h-1zM35 46h1v1h-1zM36 46h1v1h-1zM20 47h1v1h-1zM21 47h1v1h-1zM30 47h1v1h-1zM31 47h1v1h-1zM35 47h1v1h-1zM36 47h1v1h-1zM21 48h1v1h-1zM15 51h1v1h-1zM13 52h1v1h-1zM14 52h1v1h-1zM27 54h1v1h-1zM19 59h1v1h-1zM20 59h1v1h-1zM21 59h1v1h-1zM22 59h1v1h-1zM20 62h1v1h-1zM21 62h1v1h-1z" fill="#9fd899"/>
<path d="M28 15h1v1h-1zM33 18h1v1h-1zM33 19h1v1h-1zM44 21h1v1h-1zM11 27h1v1h-1zM23 28h1v1h-1zM24 28h1v1h-1zM23 29h1v1h-1zM24 29h1v1h-1zM25 29h1v1h-1zM23 30h1v1h-1zM26 30h1v1h-1zM27 30h1v1h-1zM22 31h1v1h-1zM22 32h1v1h-1zM38 33h1v1h-1zM39 33h1v1h-1zM40 33h1v1h-1zM25 44h1v1h-1zM35 44h1v1h-1zM36 44h1v1h-1zM37 44h1v1h-1zM38 44h1v1h-1zM24 45h1v1h-1zM25 45h1v1h-1zM26 45h1v1h-1zM34 45h1v1h-1zM35 45h1v1h-1zM23 46h1v1h-1zM24 46h1v1h-1zM25 46h1v1h-1zM26 46h1v1h-1zM34 46h1v1h-1zM46 46h1v1h-1zM24 47h1v1h-1zM38 48h1v1h-1zM38 49h1v1h-1zM16 53h1v1h-1zM17 53h1v1h-1zM26 53h1v1h-1zM15 54h1v1h-1zM16 54h1v1h-1zM17 54h1v1h-1zM18 54h1v1h-1zM14 55h1v1h-1zM15 55h1v1h-1zM16 55h1v1h-1zM17 55h1v1h-1zM18 55h1v1h-1zM14 56h1v1h-1zM15 56h1v1h-1zM16 56h1v1h-1zM17 56h1v1h-1zM22 57h1v1h-1zM23 57h1v1h-1zM22 58h1v1h-1zM23 58h1v1h-1z" fill="#6aaed0"/>
<path d="M29 7h1v1h-1zM30 7h1v1h-1zM31 7h1v1h-1zM34 10h1v1h-1zM40 10h1v1h-1zM42 17h1v1h-1zM28 21h1v1h-1zM8 22h1v1h-1zM27 22h1v1h-1zM28 22h1v1h-1zM29 22h1v1h-1zM40 22h1v1h-1zM41 22h1v1h-1zM42 22h1v1h-1zM26 23h1v1h-1zM27 23h1v1h-1zM28 23h1v1h-1zM29 23h1v1h-1zM34 23h1v1h-1zM39 23h1v1h-1zM40 23h1v1h-1zM41 23h1v1h-1zM42 23h1v1h-1zM43 23h1v1h-1zM26 24h1v1h-1zM27 24h1v1h-1zM28 24h1v1h-1zM29 24h1v1h-1zM34 24h1v1h-1zM35 24h1v1h-1zM36 24h1v1h-1zM38 24h1v1h-1zM39 24h1v1h-1zM40 24h1v1h-1zM41 24h1v1h-1zM42 24h1v1h-1zM43 24h1v1h-1zM27 25h1v1h-1zM36 25h1v1h-1zM38 25h1v1h-1zM39 25h1v1h-1zM40 25h1v1h-1zM41 25h1v1h-1zM42 25h1v1h-1zM39 26h1v1h-1zM41 26h1v1h-1zM42 26h1v1h-1zM4 27h1v1h-1zM13 27h1v1h-1zM14 27h1v1h-1zM12 28h1v1h-1zM13 28h1v1h-1zM14 28h1v1h-1zM19 28h1v1h-1zM20 28h1v1h-1zM21 28h1v1h-1zM13 29h1v1h-1zM19 29h1v1h-1zM20 29h1v1h-1zM21 29h1v1h-1zM22 29h1v1h-1zM35 29h1v1h-1zM36 29h1v1h-1zM37 29h1v1h-1zM38 29h1v1h-1zM39 29h1v1h-1zM18 30h1v1h-1zM19 30h1v1h-1zM20 30h1v1h-1zM21 30h1v1h-1zM22 30h1v1h-1zM29 30h1v1h-1zM36 30h1v1h-1zM37 30h1v1h-1zM19 31h1v1h-1zM20 31h1v1h-1zM21 31h1v1h-1zM27 31h1v1h-1zM28 31h1v1h-1zM29 31h1v1h-1zM30 31h1v1h-1zM34 31h1v1h-1zM36 31h1v1h-1zM19 32h1v1h-1zM20 32h1v1h-1zM28 32h1v1h-1zM29 32h1v1h-1zM30 32h1v1h-1zM14 33h1v1h-1zM15 33h1v1h-1zM16 33h1v1h-1zM27 33h1v1h-1zM28 33h1v1h-1zM29 33h1v1h-1zM30 33h1v1h-1zM14 34h1v1h-1zM15 34h1v1h-1zM16 34h1v1h-1zM17 34h1v1h-1zM27 34h1v1h-1zM28 34h1v1h-1zM20 37h1v1h-1zM6 38h1v1h-1zM16 38h1v1h-1zM21 38h1v1h-1zM22 38h1v1h-1zM48 38h1v1h-1zM20 39h1v1h-1zM21 39h1v1h-1zM22 39h1v1h-1zM41 39h1v1h-1zM46 39h1v1h-1zM47 39h1v1h-1zM48 39h1v1h-1zM16 40h1v1h-1zM20 40h1v1h-1zM46 40h1v1h-1zM47 40h1v1h-1zM45 41h1v1h-1zM46 41h1v1h-1zM49 41h1v1h-1zM50 41h1v1h-1zM51 41h1v1h-1zM40 42h1v1h-1zM41 42h1v1h-1zM25 43h1v1h-1zM26 43h1v1h-1zM27 43h1v1h-1zM39 43h1v1h-1zM40 43h1v1h-1zM41 43h1v1h-1zM26 44h1v1h-1zM27 44h1v1h-1zM39 44h1v1h-1zM40 44h1v1h-1zM27 45h1v1h-1zM28 45h1v1h-1zM19 46h1v1h-1zM20 46h1v1h-1zM27 46h1v1h-1zM28 46h1v1h-1zM37 46h1v1h-1zM38 46h1v1h-1zM10 47h1v1h-1zM22 47h1v1h-1zM37 47h1v1h-1zM38 47h1v1h-1zM39 47h1v1h-1zM40 47h1v1h-1zM41 47h1v1h-1zM42 47h1v1h-1zM10 48h1v1h-1zM20 48h1v1h-1zM22 48h1v1h-1zM24 48h1v1h-1zM37 48h1v1h-1zM10 49h1v1h-1zM11 49h1v1h-1zM21 49h1v1h-1zM35 49h1v1h-1zM27 53h1v1h-1zM28 53h1v1h-1zM29 53h1v1h-1zM30 53h1v1h-1zM31 53h1v1h-1zM28 54h1v1h-1zM29 54h1v1h-1zM30 54h1v1h-1zM31 54h1v1h-1zM32 54h1v1h-1zM30 55h1v1h-1zM31 55h1v1h-1zM18 57h1v1h-1zM19 57h1v1h-1zM20 57h1v1h-1zM21 57h1v1h-1zM20 58h1v1h-1zM21 58h1v1h-1z" fill="#f59a5a"/>
<path d="M44 26h1v1h-1zM43 27h1v1h-1zM44 27h1v1h-1zM45 27h1v1h-1zM44 28h1v1h-1zM45 28h1v1h-1zM40 36h1v1h-1zM41 36h1v1h-1zM40 37h1v1h-1zM41 37h1v1h-1zM40 38h1v1h-1zM41 38h1v1h-1zM15 58h1v1h-1zM15 59h1v1h-1zM16 59h1v1h-1z" fill="#e35a4c"/>
<path d="M31 11h1v1h-1zM31 12h1v1h-1zM32 12h1v1h-1zM25 17h1v1h-1zM26 17h1v1h-1zM27 17h1v1h-1zM28 17h1v1h-1zM24 18h1v1h-1zM25 18h1v1h-1zM26 18h1v1h-1zM27 18h1v1h-1zM28 18h1v1h-1zM29 18h1v1h-1zM23 19h1v1h-1zM24 19h1v1h-1zM25 19h1v1h-1zM26 19h1v1h-1zM27 19h1v1h-1zM28 19h1v1h-1zM29 19h1v1h-1zM11 20h1v1h-1zM23 20h1v1h-1zM24 20h1v1h-1zM25 20h1v1h-1zM26 20h1v1h-1zM27 20h1v1h-1zM28 20h1v1h-1zM9 21h1v1h-1zM10 21h1v1h-1zM22 21h1v1h-1zM23 21h1v1h-1zM24 21h1v1h-1zM25 21h1v1h-1zM26 21h1v1h-1zM27 21h1v1h-1zM23 22h1v1h-1zM24 22h1v1h-1zM10 30h1v1h-1zM8 31h1v1h-1zM9 31h1v1h-1zM10 31h1v1h-1zM11 31h1v1h-1zM8 32h1v1h-1zM9 32h1v1h-1zM10 32h1v1h-1zM11 32h1v1h-1zM8 33h1v1h-1zM9 33h1v1h-1zM10 33h1v1h-1zM11 33h1v1h-1zM9 34h1v1h-1zM10 34h1v1h-1zM16 45h1v1h-1zM18 45h1v1h-1zM16 46h1v1h-1zM17 46h1v1h-1zM18 46h1v1h-1zM16 47h1v1h-1zM17 47h1v1h-1zM18 47h1v1h-1zM16 48h1v1h-1zM17 48h1v1h-1zM18 48h1v1h-1z" fill="#3d8cc4"/>
<path d="M31 9h1v1h-1zM19 20h1v1h-1zM20 20h1v1h-1zM21 20h1v1h-1zM19 21h1v1h-1zM20 21h1v1h-1zM21 21h1v1h-1zM20 22h1v1h-1zM21 22h1v1h-1zM20 23h1v1h-1zM21 23h1v1h-1zM20 25h1v1h-1zM21 25h1v1h-1zM19 26h1v1h-1zM21 26h1v1h-1zM19 27h1v1h-1zM20 27h1v1h-1zM21 27h1v1h-1zM43 42h1v1h-1zM44 42h1v1h-1zM45 42h1v1h-1zM44 43h1v1h-1zM45 43h1v1h-1zM44 44h1v1h-1z" fill="#d7303e"/>
<path d="M28 10h1v1h-1zM29 10h1v1h-1zM30 10h1v1h-1zM31 10h1v1h-1zM32 10h1v1h-1zM28 11h1v1h-1zM29 11h1v1h-1zM32 11h1v1h-1zM27 13h1v1h-1zM28 13h1v1h-1zM29 13h1v1h-1zM30 13h1v1h-1zM32 13h1v1h-1zM33 13h1v1h-1zM30 14h1v1h-1zM31 14h1v1h-1zM33 14h1v1h-1zM30 15h1v1h-1zM32 15h1v1h-1zM28 16h1v1h-1zM33 16h1v1h-1zM29 17h1v1h-1zM31 17h1v1h-1zM32 17h1v1h-1zM31 18h1v1h-1zM32 18h1v1h-1zM30 19h1v1h-1zM32 19h1v1h-1zM3 24h1v1h-1zM4 24h1v1h-1zM4 25h1v1h-1zM4 26h1v1h-1zM19 34h1v1h-1zM20 34h1v1h-1zM21 34h1v1h-1zM19 35h1v1h-1zM20 35h1v1h-1zM13 41h1v1h-1zM14 41h1v1h-1zM12 42h1v1h-1zM13 42h1v1h-1zM11 43h1v1h-1zM12 43h1v1h-1z" fill="#fff"/>
</g>
<rect x="585.8" y="289.8" width="2.8" height="6.5" rx="1.5" fill="#fff" fill-opacity="0.45"/><rect x="648.8" y="293.8" width="12.4" height="16.4" rx="4.9" fill="#fff" fill-opacity="0.45"/><rect x="590.2" y="329.8" width="6.4" height="3.1" rx="1.6" fill="#fff" fill-opacity="0.45"/><rect x="613.8" y="325.3" width="4.4" height="2.4" rx="1.4" fill="#fff" fill-opacity="0.45"/><rect x="620.8" y="356.8" width="7.4" height="2.4" rx="1.4" fill="#fff" fill-opacity="0.45"/>
<polygon points="585.0,289.0 677.0,289.0 677.0,293.0 655.0,293.5 640.0,292.5 620.0,293.0 605.0,292.0 585.0,293.0" fill="#f8f9f4"/>
<polygon points="585.0,362.3 599.0,360.7 614.9,357.5 624.4,355.9 629.0,360.7 630.7,368.6 632.3,374.0 585.0,374.0" fill="#f8f9f4"/>
</g>
<path transform="translate(630.8,331.4) rotate(25)" d="M-50 -64.7h10M-40 -64.7h9M-32 -64.7h18M-14 -64.7h19M5 -64.7h15M20 -64.7h9M30 -64.7h12M41 -64.7h9M-65 -54.2h10M-21 -54.2h18M-3 -54.2h14M11 -54.2h17M28 -54.2h11M39 -54.2h7M46 -54.2h6M52 -54.2h7M-65 -43.0h10M-55 -43.0h10M-45 -43.0h14M-31 -43.0h16M-15 -43.0h15M26 -43.0h10M36 -43.0h11M59 -43.0h16M-65 -34.6h11M-54 -34.6h16M-12 -34.6h14M2 -34.6h19M20 -34.6h10M31 -34.6h6M60 -34.6h11M-46 -26.6h18M-28 -26.6h6M-9 -26.6h7M-3 -26.6h14M11 -26.6h11M47 -26.6h16M64 -26.6h13M-65 -16.1h10M-54 -16.1h17M-37 -16.1h9M-28 -16.1h7M-21 -16.1h13M3 -16.1h16M20 -16.1h13M33 -16.1h19M52 -16.1h16M-65 -6.3h15M-50 -6.3h8M-42 -6.3h10M-32 -6.3h18M-14 -6.3h14M18 -6.3h14M31 -6.3h18M49 -6.3h14M-65 1.8h8M-56 1.8h11M-45 1.8h9M-19 1.8h15M-5 1.8h14M9 1.8h14M23 1.8h19M42 1.8h12M55 1.8h18M-65 12.3h13M-25 12.3h12M-13 12.3h11M-2 12.3h16M14 12.3h20M33 12.3h9M42 12.3h19M-65 20.4h17M-31 20.4h8M-5 20.4h8M4 20.4h18M22 20.4h13M35 20.4h9M44 20.4h19M-65 31.3h19M-46 31.3h10M-18 31.3h7M-10 31.3h19M34 31.3h17M-65 39.4h12M-53 39.4h10M-43 39.4h19M-24 39.4h16M-9 39.4h19M29 39.4h6M45 39.4h18M62 39.4h9M-36 47.5h8M-14 47.5h8M-6 47.5h19M13 47.5h11M25 47.5h8M33 47.5h15M48 47.5h11M-65 58.8h19M-45 58.8h17M-16 58.8h19M14 58.8h18M32 58.8h16M47 58.8h9M56 58.8h8M64 58.8h14" stroke="#fff" stroke-width="0.8" stroke-opacity="0.85" fill="none"/>
<path transform="translate(630.8,331.4) rotate(-55)" d="M-65 -64.7h18M-47 -64.7h19M5 -64.7h13M37 -64.7h16M53 -64.7h14M-65 -52.6h16M-49 -52.6h13M-23 -52.6h16M-7 -52.6h19M12 -52.6h10M22 -52.6h11M33 -52.6h19M61 -52.6h7M-65 -39.4h10M-41 -39.4h12M-9 -39.4h15M6 -39.4h6M12 -39.4h17M29 -39.4h19M59 -39.4h10M-56 -22.7h18M-23 -22.7h6M-17 -22.7h17M0 -22.7h17M44 -22.7h17M61 -22.7h12M-65 -7.8h14M-51 -7.8h12M-33 -7.8h10M-23 -7.8h15M-8 -7.8h18M10 -7.8h8M18 -7.8h8M26 -7.8h17M43 -7.8h12M55 -7.8h15M-51 9.5h15M-36 9.5h12M-24 9.5h8M-2 9.5h8M6 9.5h20M26 9.5h16M41 9.5h14M55 9.5h18M-65 24.4h14M-51 24.4h13M-38 24.4h15M-23 24.4h12M-10 24.4h19M9 24.4h7M15 24.4h19M34 24.4h20M54 24.4h15M-65 37.7h19M-9 37.7h20M26 37.7h6M46 37.7h7M53 37.7h6M59 37.7h15M-65 52.3h10M-55 52.3h17M-21 52.3h17M-4 52.3h7M2 52.3h19M21 52.3h18M39 52.3h11M50 52.3h13M62 52.3h9" stroke="#fff" stroke-width="0.8" stroke-opacity="0.85" fill="none"/>
</g>
<line x1="585" y1="290" x2="585" y2="372.8" stroke="#999" stroke-width="0.6"/>
<circle cx="663.3" cy="318.6" r="7.3" fill="#fff" stroke="#111" stroke-width="1"/>
<text x="663.3" y="322.2" font-size="10.5" text-anchor="middle">3</text>
<path d="M337.6,119.0 L396.9,82.4 L429.1,119.0 Z" fill="none" stroke="#1a1a1a" stroke-width="0.9"/>
<rect x="395.1" y="80.6" width="3.6" height="3.6" fill="none" stroke="#1a1a1a" stroke-width="0.8"/>
<path d="M471.0,116.0 L551.4,185.2 L562.0,116.0 Z" fill="none" stroke="#1a1a1a" stroke-width="0.9"/>
<rect x="549.6" y="183.4" width="3.6" height="3.6" fill="none" stroke="#1a1a1a" stroke-width="0.8"/>
<path d="M586.5,130.5 L666.7,222.5 L677.0,130.5 Z" fill="none" stroke="#1a1a1a" stroke-width="0.9"/>
<rect x="664.9" y="220.7" width="3.6" height="3.6" fill="none" stroke="#1a1a1a" stroke-width="0.8"/>
<path d="M337.6,368.7 L395.5,330.5 L428.9,368.7 Z" fill="none" stroke="#1a1a1a" stroke-width="0.9"/>
<rect x="393.7" y="328.7" width="3.6" height="3.6" fill="none" stroke="#1a1a1a" stroke-width="0.8"/>
<path d="M471.0,362.5 L550.9,430.8 L560.5,362.5 Z" fill="none" stroke="#1a1a1a" stroke-width="0.9"/>
<rect x="549.1" y="429.0" width="3.6" height="3.6" fill="none" stroke="#1a1a1a" stroke-width="0.8"/>
<path d="M585.0,372.8 L666.7,467.3 L676.5,372.8 Z" fill="none" stroke="#1a1a1a" stroke-width="0.9"/>
<rect x="664.9" y="465.5" width="3.6" height="3.6" fill="none" stroke="#1a1a1a" stroke-width="0.8"/>
<text transform="translate(334.6,140.9) rotate(-90)" font-size="8.7" text-anchor="middle" textLength="23.5" lengthAdjust="spacingAndGlyphs">41.670</text>
<text transform="translate(334.6,182.8) rotate(-90)" font-size="8.7" text-anchor="middle" textLength="23.5" lengthAdjust="spacingAndGlyphs">41.640</text>
<text x="349.7" y="208.4" font-size="8.7" text-anchor="middle" textLength="23.8" lengthAdjust="spacingAndGlyphs">60.570</text>
<text x="394.7" y="208.4" font-size="8.7" text-anchor="middle" textLength="23.8" lengthAdjust="spacingAndGlyphs">60.600</text>
<text transform="translate(469.6,37.8) rotate(-90)" font-size="8.7" text-anchor="middle" textLength="23.5" lengthAdjust="spacingAndGlyphs">38.790</text>
<text transform="translate(469.6,86.6) rotate(-90)" font-size="8.7" text-anchor="middle" textLength="23.5" lengthAdjust="spacingAndGlyphs">38.760</text>
<text x="495.5" y="125.1" font-size="8.7" text-anchor="middle" textLength="23.8" lengthAdjust="spacingAndGlyphs">65.670</text>
<text x="543.7" y="125.1" font-size="8.7" text-anchor="middle" textLength="23.8" lengthAdjust="spacingAndGlyphs">65.700</text>
<text transform="translate(584.6,65.3) rotate(-90)" font-size="8.7" text-anchor="middle" textLength="23.5" lengthAdjust="spacingAndGlyphs">37.650</text>
<text transform="translate(584.6,113.3) rotate(-90)" font-size="8.7" text-anchor="middle" textLength="23.5" lengthAdjust="spacingAndGlyphs">37.620</text>
<text x="609.5" y="139.7" font-size="8.7" text-anchor="middle" textLength="23.8" lengthAdjust="spacingAndGlyphs">69.510</text>
<text x="659.7" y="139.7" font-size="8.7" text-anchor="middle" textLength="23.8" lengthAdjust="spacingAndGlyphs">69.540</text>
<text transform="translate(336.5,386.6) rotate(-90)" font-size="8.7" text-anchor="middle" textLength="23.5" lengthAdjust="spacingAndGlyphs">41.670</text>
<text transform="translate(336.5,428.6) rotate(-90)" font-size="8.7" text-anchor="middle" textLength="23.5" lengthAdjust="spacingAndGlyphs">41.640</text>
<text x="348.5" y="454.3" font-size="8.7" text-anchor="middle" textLength="23.8" lengthAdjust="spacingAndGlyphs">60.570</text>
<text x="393.2" y="454.3" font-size="8.7" text-anchor="middle" textLength="23.8" lengthAdjust="spacingAndGlyphs">60.600</text>
<text transform="translate(469.6,287.0) rotate(-90)" font-size="8.7" text-anchor="middle" textLength="23.5" lengthAdjust="spacingAndGlyphs">38.790</text>
<text transform="translate(469.6,335.4) rotate(-90)" font-size="8.7" text-anchor="middle" textLength="23.5" lengthAdjust="spacingAndGlyphs">38.760</text>
<text x="494.2" y="370.7" font-size="8.7" text-anchor="middle" textLength="23.8" lengthAdjust="spacingAndGlyphs">65.670</text>
<text x="542.9" y="370.7" font-size="8.7" text-anchor="middle" textLength="23.8" lengthAdjust="spacingAndGlyphs">65.700</text>
<text transform="translate(584.0,307.7) rotate(-90)" font-size="8.7" text-anchor="middle" textLength="23.5" lengthAdjust="spacingAndGlyphs">37.650</text>
<text transform="translate(584.0,356.9) rotate(-90)" font-size="8.7" text-anchor="middle" textLength="23.5" lengthAdjust="spacingAndGlyphs">37.620</text>
<text x="607.8" y="383.0" font-size="8.7" text-anchor="middle" textLength="23.8" lengthAdjust="spacingAndGlyphs">69.510</text>
<text x="657.7" y="383.0" font-size="8.7" text-anchor="middle" textLength="23.8" lengthAdjust="spacingAndGlyphs">69.540</text>
<path d="M595,49.7 H668 M595,47.5 V51.900000000000006 M631.5,47.5 V51.900000000000006 M668,47.5 V51.900000000000006" stroke="#555" stroke-width="0.8" fill="none"/>
<text x="595.0" y="47.2" font-size="9.3" text-anchor="middle">0</text>
<text x="631.5" y="47.2" font-size="9.3" text-anchor="middle">2</text>
<text x="658.5" y="47.2" font-size="9.3" text-anchor="start">4 km</text>
<path d="M591.9,287.5 H664.4 M591.9,285.3 V289.7 M628.1,285.3 V289.7 M664.4,285.3 V289.7" stroke="#555" stroke-width="0.8" fill="none"/>
<text x="591.9" y="285.0" font-size="9.3" text-anchor="middle">0</text>
<text x="628.1" y="285.0" font-size="9.3" text-anchor="middle">2</text>
<text x="654.9" y="285.0" font-size="9.3" text-anchor="start">4 km</text>
<rect x="319" y="21.8" width="364.2" height="225.79999999999998" fill="none" stroke="#5a5a5a" stroke-width="1.2"/>
<rect x="319" y="267.3" width="364.2" height="225.7" fill="none" stroke="#5a5a5a" stroke-width="1.2"/>
<text x="434.9" y="514.8" font-size="11" text-anchor="start" textLength="139.5" lengthAdjust="spacingAndGlyphs">Percent of Difference Anomaly</text>
<rect x="391.1" y="521.6" width="17.4" height="10" fill="#d6404f" stroke="#222" stroke-width="0.9"/>
<text x="410.3" y="530.3" font-size="10.5" text-anchor="start">-50</text>
<rect x="426.6" y="521.6" width="17.4" height="10" fill="#f08c55" stroke="#222" stroke-width="0.9"/>
<text x="445.8" y="530.3" font-size="10.5" text-anchor="start">-30</text>
<rect x="462.3" y="521.6" width="17.4" height="10" fill="#f0dc88" stroke="#222" stroke-width="0.9"/>
<text x="481.5" y="530.3" font-size="10.5" text-anchor="start">-10</text>
<rect x="497.8" y="521.6" width="17.4" height="10" fill="#e2f59c" stroke="#222" stroke-width="0.9"/>
<text x="517.0" y="530.3" font-size="10.5" text-anchor="start">+10</text>
<rect x="536.1" y="521.6" width="17.4" height="10" fill="#9edb95" stroke="#222" stroke-width="0.9"/>
<text x="555.3" y="530.3" font-size="10.5" text-anchor="start">+30</text>
<rect x="575.1" y="521.6" width="17.4" height="10" fill="#4a8fc2" stroke="#222" stroke-width="0.9"/>
<text x="594.3" y="530.3" font-size="10.5" text-anchor="start">+50</text>
</svg></body></html>
